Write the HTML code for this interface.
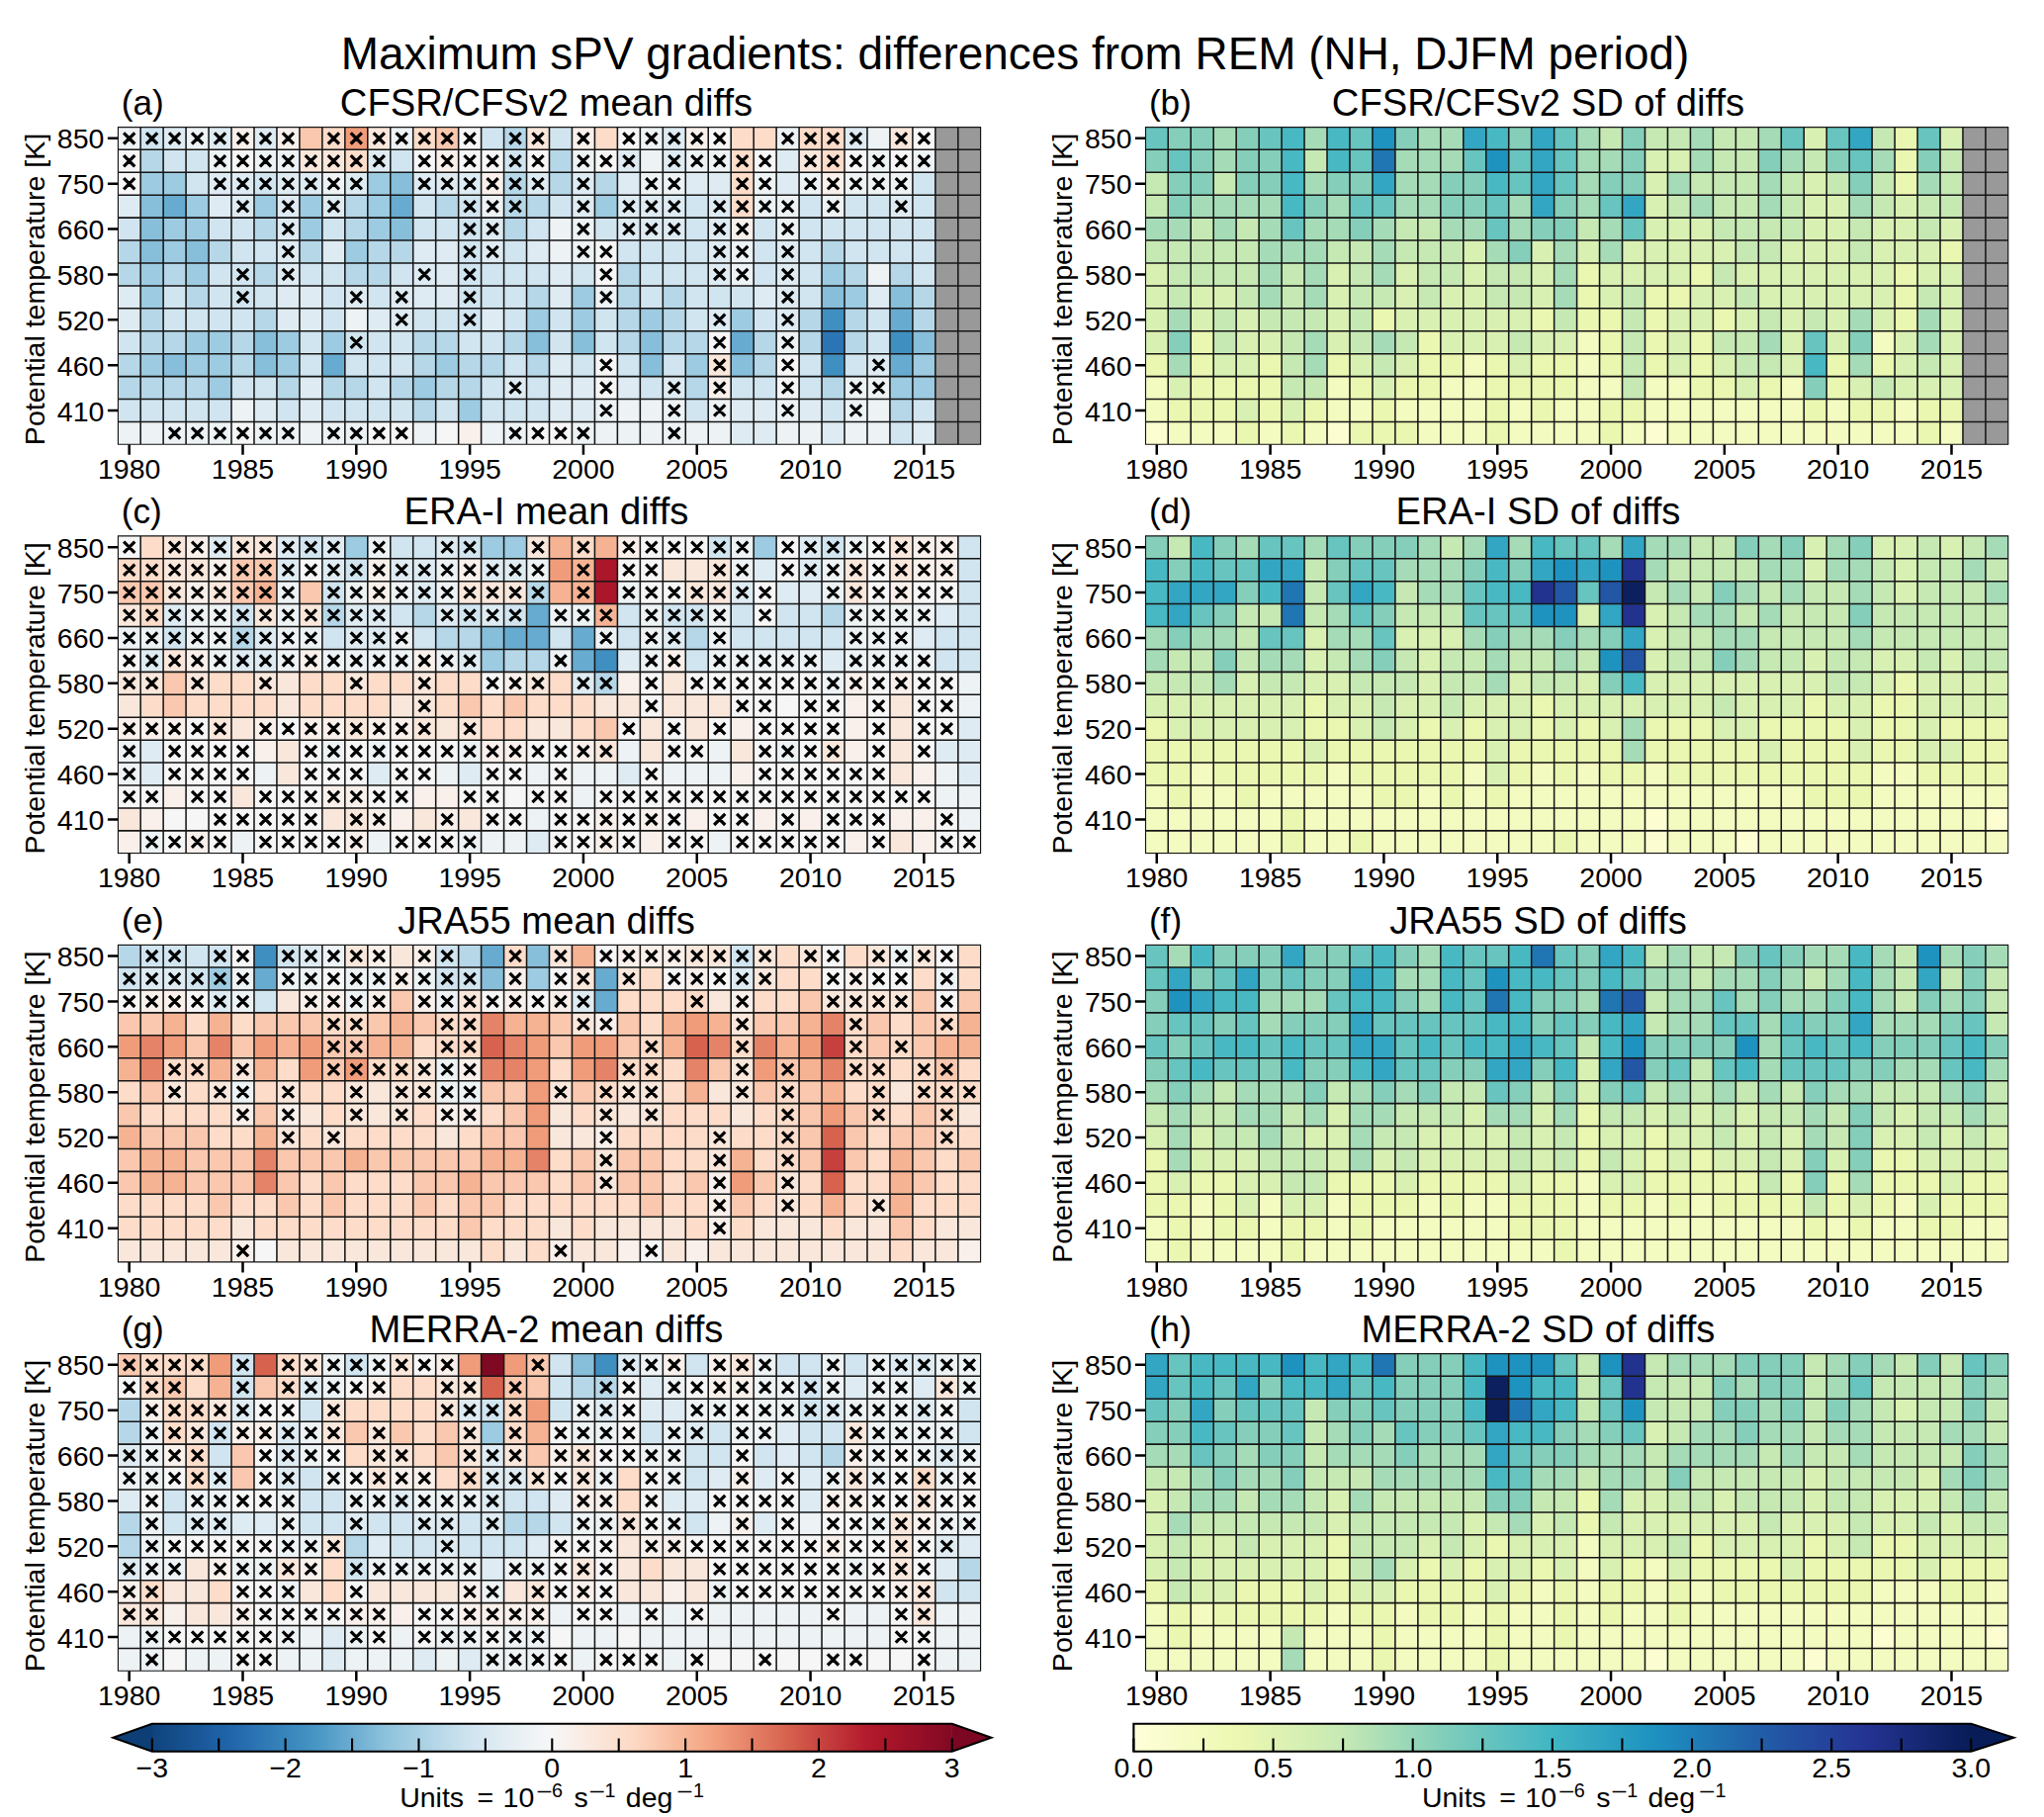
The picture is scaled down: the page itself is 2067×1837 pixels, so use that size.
<!DOCTYPE html>
<html lang="en"><head><meta charset="utf-8"><title>Maximum sPV gradients: differences from REM (NH, DJFM period)</title><style>html,body{margin:0;padding:0;background:#fff}svg{display:block}</style></head><body>
<svg width="2067" height="1837" viewBox="0 0 2067 1837" font-family="&quot;Liberation Sans&quot;, sans-serif" fill="#000">
<rect width="2067" height="1837" fill="#fff"/>
<text x="1026.5" y="69.9" font-size="45.9" text-anchor="middle">Maximum sPV gradients: differences from REM (NH, DJFM period)</text>
<g id="panel-a">
<rect x="119.20" y="128.40" width="23.26" height="23.23" fill="#edf2f5"/>
<rect x="142.16" y="128.40" width="23.26" height="23.23" fill="#d1e5f0"/>
<rect x="165.13" y="128.40" width="23.26" height="23.23" fill="#deebf2"/>
<rect x="188.09" y="128.40" width="23.26" height="23.23" fill="#edf2f5"/>
<rect x="211.05" y="128.40" width="23.26" height="23.23" fill="#deebf2"/>
<rect x="234.02" y="128.40" width="23.26" height="23.23" fill="#f9f0eb"/>
<rect x="256.98" y="128.40" width="23.26" height="23.23" fill="#deebf2"/>
<rect x="279.94" y="128.40" width="23.26" height="23.23" fill="#f9f0eb"/>
<rect x="302.91" y="128.40" width="23.26" height="23.23" fill="#fac8af"/>
<rect x="325.87" y="128.40" width="23.26" height="23.23" fill="#fddcc9"/>
<rect x="348.83" y="128.40" width="23.26" height="23.23" fill="#f09c7b"/>
<rect x="371.79" y="128.40" width="23.26" height="23.23" fill="#fae7dc"/>
<rect x="394.76" y="128.40" width="23.26" height="23.23" fill="#edf2f5"/>
<rect x="417.72" y="128.40" width="23.26" height="23.23" fill="#fddcc9"/>
<rect x="440.68" y="128.40" width="23.26" height="23.23" fill="#fac8af"/>
<rect x="463.65" y="128.40" width="23.26" height="23.23" fill="#f7f6f6"/>
<rect x="486.61" y="128.40" width="23.26" height="23.23" fill="#d1e5f0"/>
<rect x="509.57" y="128.40" width="23.26" height="23.23" fill="#b6d7e8"/>
<rect x="532.54" y="128.40" width="23.26" height="23.23" fill="#fae7dc"/>
<rect x="555.50" y="128.40" width="23.26" height="23.23" fill="#d1e5f0"/>
<rect x="578.46" y="128.40" width="23.26" height="23.23" fill="#f9f0eb"/>
<rect x="601.43" y="128.40" width="23.26" height="23.23" fill="#fddcc9"/>
<rect x="624.39" y="128.40" width="23.26" height="23.23" fill="#f7f6f6"/>
<rect x="647.35" y="128.40" width="23.26" height="23.23" fill="#edf2f5"/>
<rect x="670.32" y="128.40" width="23.26" height="23.23" fill="#deebf2"/>
<rect x="693.28" y="128.40" width="23.26" height="23.23" fill="#f9f0eb"/>
<rect x="716.24" y="128.40" width="23.26" height="23.23" fill="#f7f6f6"/>
<rect x="739.21" y="128.40" width="46.23" height="23.23" fill="#fddcc9"/>
<rect x="785.13" y="128.40" width="23.26" height="23.23" fill="#edf2f5"/>
<rect x="808.09" y="128.40" width="46.23" height="23.23" fill="#fddcc9"/>
<rect x="854.02" y="128.40" width="23.26" height="23.23" fill="#deebf2"/>
<rect x="876.98" y="128.40" width="23.26" height="23.23" fill="#edf2f5"/>
<rect x="899.95" y="128.40" width="23.26" height="23.23" fill="#fae7dc"/>
<rect x="922.91" y="128.40" width="23.26" height="23.23" fill="#f7f6f6"/>
<rect x="945.87" y="128.40" width="46.23" height="23.23" fill="#999999"/>
<rect x="119.20" y="151.33" width="23.26" height="23.23" fill="#f7f6f6"/>
<rect x="142.16" y="151.33" width="23.26" height="23.23" fill="#b6d7e8"/>
<rect x="165.13" y="151.33" width="46.23" height="23.23" fill="#d1e5f0"/>
<rect x="211.05" y="151.33" width="23.26" height="23.23" fill="#edf2f5"/>
<rect x="234.02" y="151.33" width="23.26" height="23.23" fill="#f7f6f6"/>
<rect x="256.98" y="151.33" width="46.23" height="23.23" fill="#edf2f5"/>
<rect x="302.91" y="151.33" width="46.23" height="23.23" fill="#fae7dc"/>
<rect x="348.83" y="151.33" width="23.26" height="23.23" fill="#fddcc9"/>
<rect x="371.79" y="151.33" width="23.26" height="23.23" fill="#deebf2"/>
<rect x="394.76" y="151.33" width="23.26" height="23.23" fill="#d1e5f0"/>
<rect x="417.72" y="151.33" width="23.26" height="23.23" fill="#f7f6f6"/>
<rect x="440.68" y="151.33" width="23.26" height="23.23" fill="#f9f0eb"/>
<rect x="463.65" y="151.33" width="46.23" height="23.23" fill="#f7f6f6"/>
<rect x="509.57" y="151.33" width="23.26" height="23.23" fill="#d1e5f0"/>
<rect x="532.54" y="151.33" width="23.26" height="23.23" fill="#f7f6f6"/>
<rect x="555.50" y="151.33" width="23.26" height="23.23" fill="#b6d7e8"/>
<rect x="578.46" y="151.33" width="23.26" height="23.23" fill="#edf2f5"/>
<rect x="601.43" y="151.33" width="23.26" height="23.23" fill="#f7f6f6"/>
<rect x="624.39" y="151.33" width="23.26" height="23.23" fill="#deebf2"/>
<rect x="647.35" y="151.33" width="23.26" height="23.23" fill="#edf2f5"/>
<rect x="670.32" y="151.33" width="23.26" height="23.23" fill="#deebf2"/>
<rect x="693.28" y="151.33" width="46.23" height="23.23" fill="#edf2f5"/>
<rect x="739.21" y="151.33" width="23.26" height="23.23" fill="#fddcc9"/>
<rect x="762.17" y="151.33" width="23.26" height="23.23" fill="#f7f6f6"/>
<rect x="785.13" y="151.33" width="23.26" height="23.23" fill="#deebf2"/>
<rect x="808.09" y="151.33" width="23.26" height="23.23" fill="#fae7dc"/>
<rect x="831.06" y="151.33" width="23.26" height="23.23" fill="#fddcc9"/>
<rect x="854.02" y="151.33" width="23.26" height="23.23" fill="#f7f6f6"/>
<rect x="876.98" y="151.33" width="23.26" height="23.23" fill="#edf2f5"/>
<rect x="899.95" y="151.33" width="23.26" height="23.23" fill="#f7f6f6"/>
<rect x="922.91" y="151.33" width="23.26" height="23.23" fill="#edf2f5"/>
<rect x="945.87" y="151.33" width="46.23" height="23.23" fill="#999999"/>
<rect x="119.20" y="174.26" width="23.26" height="23.23" fill="#f7f6f6"/>
<rect x="142.16" y="174.26" width="46.23" height="23.23" fill="#9dcbe1"/>
<rect x="188.09" y="174.26" width="23.26" height="23.23" fill="#d1e5f0"/>
<rect x="211.05" y="174.26" width="46.23" height="23.23" fill="#deebf2"/>
<rect x="256.98" y="174.26" width="23.26" height="23.23" fill="#d1e5f0"/>
<rect x="279.94" y="174.26" width="46.23" height="23.23" fill="#deebf2"/>
<rect x="325.87" y="174.26" width="23.26" height="23.23" fill="#edf2f5"/>
<rect x="348.83" y="174.26" width="23.26" height="23.23" fill="#deebf2"/>
<rect x="371.79" y="174.26" width="23.26" height="23.23" fill="#9dcbe1"/>
<rect x="394.76" y="174.26" width="23.26" height="23.23" fill="#87beda"/>
<rect x="417.72" y="174.26" width="69.19" height="23.23" fill="#deebf2"/>
<rect x="486.61" y="174.26" width="23.26" height="23.23" fill="#f9f0eb"/>
<rect x="509.57" y="174.26" width="23.26" height="23.23" fill="#b6d7e8"/>
<rect x="532.54" y="174.26" width="23.26" height="23.23" fill="#deebf2"/>
<rect x="555.50" y="174.26" width="23.26" height="23.23" fill="#b6d7e8"/>
<rect x="578.46" y="174.26" width="23.26" height="23.23" fill="#deebf2"/>
<rect x="601.43" y="174.26" width="23.26" height="23.23" fill="#b6d7e8"/>
<rect x="624.39" y="174.26" width="23.26" height="23.23" fill="#deebf2"/>
<rect x="647.35" y="174.26" width="46.23" height="23.23" fill="#edf2f5"/>
<rect x="693.28" y="174.26" width="46.23" height="23.23" fill="#deebf2"/>
<rect x="739.21" y="174.26" width="23.26" height="23.23" fill="#fddcc9"/>
<rect x="762.17" y="174.26" width="23.26" height="23.23" fill="#edf2f5"/>
<rect x="785.13" y="174.26" width="23.26" height="23.23" fill="#deebf2"/>
<rect x="808.09" y="174.26" width="23.26" height="23.23" fill="#edf2f5"/>
<rect x="831.06" y="174.26" width="23.26" height="23.23" fill="#f9f0eb"/>
<rect x="854.02" y="174.26" width="69.19" height="23.23" fill="#edf2f5"/>
<rect x="922.91" y="174.26" width="23.26" height="23.23" fill="#d1e5f0"/>
<rect x="945.87" y="174.26" width="46.23" height="23.23" fill="#999999"/>
<rect x="119.20" y="197.19" width="23.26" height="23.23" fill="#deebf2"/>
<rect x="142.16" y="197.19" width="23.26" height="23.23" fill="#87beda"/>
<rect x="165.13" y="197.19" width="23.26" height="23.23" fill="#68abd0"/>
<rect x="188.09" y="197.19" width="23.26" height="23.23" fill="#9dcbe1"/>
<rect x="211.05" y="197.19" width="46.23" height="23.23" fill="#deebf2"/>
<rect x="256.98" y="197.19" width="23.26" height="23.23" fill="#9dcbe1"/>
<rect x="279.94" y="197.19" width="23.26" height="23.23" fill="#deebf2"/>
<rect x="302.91" y="197.19" width="23.26" height="23.23" fill="#9dcbe1"/>
<rect x="325.87" y="197.19" width="23.26" height="23.23" fill="#deebf2"/>
<rect x="348.83" y="197.19" width="23.26" height="23.23" fill="#b6d7e8"/>
<rect x="371.79" y="197.19" width="23.26" height="23.23" fill="#9dcbe1"/>
<rect x="394.76" y="197.19" width="23.26" height="23.23" fill="#68abd0"/>
<rect x="417.72" y="197.19" width="23.26" height="23.23" fill="#d1e5f0"/>
<rect x="440.68" y="197.19" width="23.26" height="23.23" fill="#b6d7e8"/>
<rect x="463.65" y="197.19" width="23.26" height="23.23" fill="#d1e5f0"/>
<rect x="486.61" y="197.19" width="23.26" height="23.23" fill="#edf2f5"/>
<rect x="509.57" y="197.19" width="46.23" height="23.23" fill="#b6d7e8"/>
<rect x="555.50" y="197.19" width="23.26" height="23.23" fill="#d1e5f0"/>
<rect x="578.46" y="197.19" width="23.26" height="23.23" fill="#deebf2"/>
<rect x="601.43" y="197.19" width="23.26" height="23.23" fill="#9dcbe1"/>
<rect x="624.39" y="197.19" width="69.19" height="23.23" fill="#deebf2"/>
<rect x="693.28" y="197.19" width="23.26" height="23.23" fill="#d1e5f0"/>
<rect x="716.24" y="197.19" width="23.26" height="23.23" fill="#deebf2"/>
<rect x="739.21" y="197.19" width="23.26" height="23.23" fill="#fddcc9"/>
<rect x="762.17" y="197.19" width="46.23" height="23.23" fill="#edf2f5"/>
<rect x="808.09" y="197.19" width="23.26" height="23.23" fill="#d1e5f0"/>
<rect x="831.06" y="197.19" width="23.26" height="23.23" fill="#edf2f5"/>
<rect x="854.02" y="197.19" width="46.23" height="23.23" fill="#d1e5f0"/>
<rect x="899.95" y="197.19" width="23.26" height="23.23" fill="#deebf2"/>
<rect x="922.91" y="197.19" width="23.26" height="23.23" fill="#d1e5f0"/>
<rect x="945.87" y="197.19" width="46.23" height="23.23" fill="#999999"/>
<rect x="119.20" y="220.11" width="23.26" height="23.23" fill="#d1e5f0"/>
<rect x="142.16" y="220.11" width="23.26" height="23.23" fill="#87beda"/>
<rect x="165.13" y="220.11" width="46.23" height="23.23" fill="#9dcbe1"/>
<rect x="211.05" y="220.11" width="46.23" height="23.23" fill="#d1e5f0"/>
<rect x="256.98" y="220.11" width="23.26" height="23.23" fill="#b6d7e8"/>
<rect x="279.94" y="220.11" width="23.26" height="23.23" fill="#deebf2"/>
<rect x="302.91" y="220.11" width="23.26" height="23.23" fill="#9dcbe1"/>
<rect x="325.87" y="220.11" width="23.26" height="23.23" fill="#d1e5f0"/>
<rect x="348.83" y="220.11" width="23.26" height="23.23" fill="#b6d7e8"/>
<rect x="371.79" y="220.11" width="23.26" height="23.23" fill="#9dcbe1"/>
<rect x="394.76" y="220.11" width="23.26" height="23.23" fill="#87beda"/>
<rect x="417.72" y="220.11" width="69.19" height="23.23" fill="#d1e5f0"/>
<rect x="486.61" y="220.11" width="23.26" height="23.23" fill="#deebf2"/>
<rect x="509.57" y="220.11" width="23.26" height="23.23" fill="#b6d7e8"/>
<rect x="532.54" y="220.11" width="23.26" height="23.23" fill="#d1e5f0"/>
<rect x="555.50" y="220.11" width="46.23" height="23.23" fill="#edf2f5"/>
<rect x="601.43" y="220.11" width="23.26" height="23.23" fill="#d1e5f0"/>
<rect x="624.39" y="220.11" width="69.19" height="23.23" fill="#deebf2"/>
<rect x="693.28" y="220.11" width="23.26" height="23.23" fill="#d1e5f0"/>
<rect x="716.24" y="220.11" width="23.26" height="23.23" fill="#deebf2"/>
<rect x="739.21" y="220.11" width="23.26" height="23.23" fill="#f9f0eb"/>
<rect x="762.17" y="220.11" width="23.26" height="23.23" fill="#d1e5f0"/>
<rect x="785.13" y="220.11" width="23.26" height="23.23" fill="#edf2f5"/>
<rect x="808.09" y="220.11" width="138.08" height="23.23" fill="#d1e5f0"/>
<rect x="945.87" y="220.11" width="46.23" height="23.23" fill="#999999"/>
<rect x="119.20" y="243.04" width="23.26" height="23.23" fill="#b6d7e8"/>
<rect x="142.16" y="243.04" width="23.26" height="23.23" fill="#87beda"/>
<rect x="165.13" y="243.04" width="23.26" height="23.23" fill="#9dcbe1"/>
<rect x="188.09" y="243.04" width="23.26" height="23.23" fill="#87beda"/>
<rect x="211.05" y="243.04" width="23.26" height="23.23" fill="#b6d7e8"/>
<rect x="234.02" y="243.04" width="46.23" height="23.23" fill="#d1e5f0"/>
<rect x="279.94" y="243.04" width="23.26" height="23.23" fill="#deebf2"/>
<rect x="302.91" y="243.04" width="23.26" height="23.23" fill="#b6d7e8"/>
<rect x="325.87" y="243.04" width="23.26" height="23.23" fill="#deebf2"/>
<rect x="348.83" y="243.04" width="23.26" height="23.23" fill="#9dcbe1"/>
<rect x="371.79" y="243.04" width="46.23" height="23.23" fill="#b6d7e8"/>
<rect x="417.72" y="243.04" width="46.23" height="23.23" fill="#deebf2"/>
<rect x="463.65" y="243.04" width="23.26" height="23.23" fill="#d1e5f0"/>
<rect x="486.61" y="243.04" width="23.26" height="23.23" fill="#deebf2"/>
<rect x="509.57" y="243.04" width="23.26" height="23.23" fill="#d1e5f0"/>
<rect x="532.54" y="243.04" width="23.26" height="23.23" fill="#deebf2"/>
<rect x="555.50" y="243.04" width="46.23" height="23.23" fill="#edf2f5"/>
<rect x="601.43" y="243.04" width="23.26" height="23.23" fill="#f7f6f6"/>
<rect x="624.39" y="243.04" width="92.15" height="23.23" fill="#d1e5f0"/>
<rect x="716.24" y="243.04" width="23.26" height="23.23" fill="#deebf2"/>
<rect x="739.21" y="243.04" width="23.26" height="23.23" fill="#edf2f5"/>
<rect x="762.17" y="243.04" width="23.26" height="23.23" fill="#d1e5f0"/>
<rect x="785.13" y="243.04" width="23.26" height="23.23" fill="#deebf2"/>
<rect x="808.09" y="243.04" width="23.26" height="23.23" fill="#d1e5f0"/>
<rect x="831.06" y="243.04" width="23.26" height="23.23" fill="#b6d7e8"/>
<rect x="854.02" y="243.04" width="92.15" height="23.23" fill="#d1e5f0"/>
<rect x="945.87" y="243.04" width="46.23" height="23.23" fill="#999999"/>
<rect x="119.20" y="265.97" width="23.26" height="23.23" fill="#b6d7e8"/>
<rect x="142.16" y="265.97" width="23.26" height="23.23" fill="#9dcbe1"/>
<rect x="165.13" y="265.97" width="23.26" height="23.23" fill="#b6d7e8"/>
<rect x="188.09" y="265.97" width="23.26" height="23.23" fill="#9dcbe1"/>
<rect x="211.05" y="265.97" width="46.23" height="23.23" fill="#d1e5f0"/>
<rect x="256.98" y="265.97" width="23.26" height="23.23" fill="#b6d7e8"/>
<rect x="279.94" y="265.97" width="23.26" height="23.23" fill="#deebf2"/>
<rect x="302.91" y="265.97" width="46.23" height="23.23" fill="#d1e5f0"/>
<rect x="348.83" y="265.97" width="46.23" height="23.23" fill="#b6d7e8"/>
<rect x="394.76" y="265.97" width="23.26" height="23.23" fill="#d1e5f0"/>
<rect x="417.72" y="265.97" width="46.23" height="23.23" fill="#deebf2"/>
<rect x="463.65" y="265.97" width="92.15" height="23.23" fill="#d1e5f0"/>
<rect x="555.50" y="265.97" width="23.26" height="23.23" fill="#deebf2"/>
<rect x="578.46" y="265.97" width="23.26" height="23.23" fill="#d1e5f0"/>
<rect x="601.43" y="265.97" width="23.26" height="23.23" fill="#f7f6f6"/>
<rect x="624.39" y="265.97" width="23.26" height="23.23" fill="#b6d7e8"/>
<rect x="647.35" y="265.97" width="69.19" height="23.23" fill="#d1e5f0"/>
<rect x="716.24" y="265.97" width="23.26" height="23.23" fill="#deebf2"/>
<rect x="739.21" y="265.97" width="23.26" height="23.23" fill="#edf2f5"/>
<rect x="762.17" y="265.97" width="23.26" height="23.23" fill="#d1e5f0"/>
<rect x="785.13" y="265.97" width="23.26" height="23.23" fill="#deebf2"/>
<rect x="808.09" y="265.97" width="23.26" height="23.23" fill="#d1e5f0"/>
<rect x="831.06" y="265.97" width="23.26" height="23.23" fill="#9dcbe1"/>
<rect x="854.02" y="265.97" width="23.26" height="23.23" fill="#b6d7e8"/>
<rect x="876.98" y="265.97" width="23.26" height="23.23" fill="#edf2f5"/>
<rect x="899.95" y="265.97" width="23.26" height="23.23" fill="#b6d7e8"/>
<rect x="922.91" y="265.97" width="23.26" height="23.23" fill="#d1e5f0"/>
<rect x="945.87" y="265.97" width="46.23" height="23.23" fill="#999999"/>
<rect x="119.20" y="288.90" width="23.26" height="23.23" fill="#deebf2"/>
<rect x="142.16" y="288.90" width="23.26" height="23.23" fill="#9dcbe1"/>
<rect x="165.13" y="288.90" width="23.26" height="23.23" fill="#d1e5f0"/>
<rect x="188.09" y="288.90" width="23.26" height="23.23" fill="#b6d7e8"/>
<rect x="211.05" y="288.90" width="69.19" height="23.23" fill="#d1e5f0"/>
<rect x="279.94" y="288.90" width="46.23" height="23.23" fill="#deebf2"/>
<rect x="325.87" y="288.90" width="23.26" height="23.23" fill="#d1e5f0"/>
<rect x="348.83" y="288.90" width="23.26" height="23.23" fill="#deebf2"/>
<rect x="371.79" y="288.90" width="23.26" height="23.23" fill="#d1e5f0"/>
<rect x="394.76" y="288.90" width="69.19" height="23.23" fill="#deebf2"/>
<rect x="463.65" y="288.90" width="69.19" height="23.23" fill="#d1e5f0"/>
<rect x="532.54" y="288.90" width="23.26" height="23.23" fill="#b6d7e8"/>
<rect x="555.50" y="288.90" width="23.26" height="23.23" fill="#deebf2"/>
<rect x="578.46" y="288.90" width="23.26" height="23.23" fill="#9dcbe1"/>
<rect x="601.43" y="288.90" width="23.26" height="23.23" fill="#edf2f5"/>
<rect x="624.39" y="288.90" width="23.26" height="23.23" fill="#b6d7e8"/>
<rect x="647.35" y="288.90" width="23.26" height="23.23" fill="#d1e5f0"/>
<rect x="670.32" y="288.90" width="23.26" height="23.23" fill="#b6d7e8"/>
<rect x="693.28" y="288.90" width="69.19" height="23.23" fill="#d1e5f0"/>
<rect x="762.17" y="288.90" width="46.23" height="23.23" fill="#deebf2"/>
<rect x="808.09" y="288.90" width="23.26" height="23.23" fill="#d1e5f0"/>
<rect x="831.06" y="288.90" width="23.26" height="23.23" fill="#87beda"/>
<rect x="854.02" y="288.90" width="23.26" height="23.23" fill="#9dcbe1"/>
<rect x="876.98" y="288.90" width="23.26" height="23.23" fill="#deebf2"/>
<rect x="899.95" y="288.90" width="23.26" height="23.23" fill="#87beda"/>
<rect x="922.91" y="288.90" width="23.26" height="23.23" fill="#b6d7e8"/>
<rect x="945.87" y="288.90" width="46.23" height="23.23" fill="#999999"/>
<rect x="119.20" y="311.83" width="23.26" height="23.23" fill="#deebf2"/>
<rect x="142.16" y="311.83" width="23.26" height="23.23" fill="#b6d7e8"/>
<rect x="165.13" y="311.83" width="92.15" height="23.23" fill="#d1e5f0"/>
<rect x="256.98" y="311.83" width="23.26" height="23.23" fill="#b6d7e8"/>
<rect x="279.94" y="311.83" width="46.23" height="23.23" fill="#deebf2"/>
<rect x="325.87" y="311.83" width="23.26" height="23.23" fill="#d1e5f0"/>
<rect x="348.83" y="311.83" width="23.26" height="23.23" fill="#edf2f5"/>
<rect x="371.79" y="311.83" width="46.23" height="23.23" fill="#deebf2"/>
<rect x="417.72" y="311.83" width="69.19" height="23.23" fill="#d1e5f0"/>
<rect x="486.61" y="311.83" width="23.26" height="23.23" fill="#deebf2"/>
<rect x="509.57" y="311.83" width="23.26" height="23.23" fill="#d1e5f0"/>
<rect x="532.54" y="311.83" width="23.26" height="23.23" fill="#9dcbe1"/>
<rect x="555.50" y="311.83" width="23.26" height="23.23" fill="#d1e5f0"/>
<rect x="578.46" y="311.83" width="23.26" height="23.23" fill="#9dcbe1"/>
<rect x="601.43" y="311.83" width="23.26" height="23.23" fill="#d1e5f0"/>
<rect x="624.39" y="311.83" width="23.26" height="23.23" fill="#b6d7e8"/>
<rect x="647.35" y="311.83" width="23.26" height="23.23" fill="#9dcbe1"/>
<rect x="670.32" y="311.83" width="23.26" height="23.23" fill="#b6d7e8"/>
<rect x="693.28" y="311.83" width="23.26" height="23.23" fill="#d1e5f0"/>
<rect x="716.24" y="311.83" width="23.26" height="23.23" fill="#deebf2"/>
<rect x="739.21" y="311.83" width="23.26" height="23.23" fill="#9dcbe1"/>
<rect x="762.17" y="311.83" width="23.26" height="23.23" fill="#d1e5f0"/>
<rect x="785.13" y="311.83" width="23.26" height="23.23" fill="#deebf2"/>
<rect x="808.09" y="311.83" width="23.26" height="23.23" fill="#b6d7e8"/>
<rect x="831.06" y="311.83" width="23.26" height="23.23" fill="#408fc1"/>
<rect x="854.02" y="311.83" width="23.26" height="23.23" fill="#b6d7e8"/>
<rect x="876.98" y="311.83" width="23.26" height="23.23" fill="#d1e5f0"/>
<rect x="899.95" y="311.83" width="23.26" height="23.23" fill="#68abd0"/>
<rect x="922.91" y="311.83" width="23.26" height="23.23" fill="#b6d7e8"/>
<rect x="945.87" y="311.83" width="46.23" height="23.23" fill="#999999"/>
<rect x="119.20" y="334.76" width="23.26" height="23.23" fill="#d1e5f0"/>
<rect x="142.16" y="334.76" width="46.23" height="23.23" fill="#b6d7e8"/>
<rect x="188.09" y="334.76" width="46.23" height="23.23" fill="#9dcbe1"/>
<rect x="234.02" y="334.76" width="23.26" height="23.23" fill="#b6d7e8"/>
<rect x="256.98" y="334.76" width="23.26" height="23.23" fill="#87beda"/>
<rect x="279.94" y="334.76" width="23.26" height="23.23" fill="#9dcbe1"/>
<rect x="302.91" y="334.76" width="23.26" height="23.23" fill="#d1e5f0"/>
<rect x="325.87" y="334.76" width="23.26" height="23.23" fill="#9dcbe1"/>
<rect x="348.83" y="334.76" width="69.19" height="23.23" fill="#d1e5f0"/>
<rect x="417.72" y="334.76" width="46.23" height="23.23" fill="#b6d7e8"/>
<rect x="463.65" y="334.76" width="46.23" height="23.23" fill="#d1e5f0"/>
<rect x="509.57" y="334.76" width="23.26" height="23.23" fill="#b6d7e8"/>
<rect x="532.54" y="334.76" width="23.26" height="23.23" fill="#87beda"/>
<rect x="555.50" y="334.76" width="23.26" height="23.23" fill="#d1e5f0"/>
<rect x="578.46" y="334.76" width="23.26" height="23.23" fill="#87beda"/>
<rect x="601.43" y="334.76" width="23.26" height="23.23" fill="#d1e5f0"/>
<rect x="624.39" y="334.76" width="23.26" height="23.23" fill="#b6d7e8"/>
<rect x="647.35" y="334.76" width="23.26" height="23.23" fill="#87beda"/>
<rect x="670.32" y="334.76" width="46.23" height="23.23" fill="#b6d7e8"/>
<rect x="716.24" y="334.76" width="23.26" height="23.23" fill="#f7f6f6"/>
<rect x="739.21" y="334.76" width="23.26" height="23.23" fill="#68abd0"/>
<rect x="762.17" y="334.76" width="23.26" height="23.23" fill="#b6d7e8"/>
<rect x="785.13" y="334.76" width="23.26" height="23.23" fill="#edf2f5"/>
<rect x="808.09" y="334.76" width="23.26" height="23.23" fill="#b6d7e8"/>
<rect x="831.06" y="334.76" width="23.26" height="23.23" fill="#2c75b4"/>
<rect x="854.02" y="334.76" width="23.26" height="23.23" fill="#b6d7e8"/>
<rect x="876.98" y="334.76" width="23.26" height="23.23" fill="#d1e5f0"/>
<rect x="899.95" y="334.76" width="23.26" height="23.23" fill="#408fc1"/>
<rect x="922.91" y="334.76" width="23.26" height="23.23" fill="#87beda"/>
<rect x="945.87" y="334.76" width="46.23" height="23.23" fill="#999999"/>
<rect x="119.20" y="357.69" width="23.26" height="23.23" fill="#b6d7e8"/>
<rect x="142.16" y="357.69" width="23.26" height="23.23" fill="#9dcbe1"/>
<rect x="165.13" y="357.69" width="23.26" height="23.23" fill="#87beda"/>
<rect x="188.09" y="357.69" width="46.23" height="23.23" fill="#9dcbe1"/>
<rect x="234.02" y="357.69" width="23.26" height="23.23" fill="#b6d7e8"/>
<rect x="256.98" y="357.69" width="23.26" height="23.23" fill="#87beda"/>
<rect x="279.94" y="357.69" width="23.26" height="23.23" fill="#9dcbe1"/>
<rect x="302.91" y="357.69" width="23.26" height="23.23" fill="#d1e5f0"/>
<rect x="325.87" y="357.69" width="23.26" height="23.23" fill="#68abd0"/>
<rect x="348.83" y="357.69" width="69.19" height="23.23" fill="#d1e5f0"/>
<rect x="417.72" y="357.69" width="23.26" height="23.23" fill="#b6d7e8"/>
<rect x="440.68" y="357.69" width="23.26" height="23.23" fill="#9dcbe1"/>
<rect x="463.65" y="357.69" width="46.23" height="23.23" fill="#b6d7e8"/>
<rect x="509.57" y="357.69" width="23.26" height="23.23" fill="#d1e5f0"/>
<rect x="532.54" y="357.69" width="23.26" height="23.23" fill="#b6d7e8"/>
<rect x="555.50" y="357.69" width="23.26" height="23.23" fill="#deebf2"/>
<rect x="578.46" y="357.69" width="23.26" height="23.23" fill="#d1e5f0"/>
<rect x="601.43" y="357.69" width="23.26" height="23.23" fill="#f7f6f6"/>
<rect x="624.39" y="357.69" width="23.26" height="23.23" fill="#d1e5f0"/>
<rect x="647.35" y="357.69" width="23.26" height="23.23" fill="#87beda"/>
<rect x="670.32" y="357.69" width="23.26" height="23.23" fill="#d1e5f0"/>
<rect x="693.28" y="357.69" width="23.26" height="23.23" fill="#9dcbe1"/>
<rect x="716.24" y="357.69" width="23.26" height="23.23" fill="#fae7dc"/>
<rect x="739.21" y="357.69" width="23.26" height="23.23" fill="#87beda"/>
<rect x="762.17" y="357.69" width="23.26" height="23.23" fill="#b6d7e8"/>
<rect x="785.13" y="357.69" width="23.26" height="23.23" fill="#f7f6f6"/>
<rect x="808.09" y="357.69" width="23.26" height="23.23" fill="#d1e5f0"/>
<rect x="831.06" y="357.69" width="23.26" height="23.23" fill="#408fc1"/>
<rect x="854.02" y="357.69" width="23.26" height="23.23" fill="#d1e5f0"/>
<rect x="876.98" y="357.69" width="23.26" height="23.23" fill="#deebf2"/>
<rect x="899.95" y="357.69" width="23.26" height="23.23" fill="#68abd0"/>
<rect x="922.91" y="357.69" width="23.26" height="23.23" fill="#9dcbe1"/>
<rect x="945.87" y="357.69" width="46.23" height="23.23" fill="#999999"/>
<rect x="119.20" y="380.61" width="92.15" height="23.23" fill="#b6d7e8"/>
<rect x="211.05" y="380.61" width="23.26" height="23.23" fill="#9dcbe1"/>
<rect x="234.02" y="380.61" width="46.23" height="23.23" fill="#d1e5f0"/>
<rect x="279.94" y="380.61" width="23.26" height="23.23" fill="#b6d7e8"/>
<rect x="302.91" y="380.61" width="23.26" height="23.23" fill="#deebf2"/>
<rect x="325.87" y="380.61" width="46.23" height="23.23" fill="#b6d7e8"/>
<rect x="371.79" y="380.61" width="23.26" height="23.23" fill="#d1e5f0"/>
<rect x="394.76" y="380.61" width="23.26" height="23.23" fill="#b6d7e8"/>
<rect x="417.72" y="380.61" width="23.26" height="23.23" fill="#9dcbe1"/>
<rect x="440.68" y="380.61" width="46.23" height="23.23" fill="#b6d7e8"/>
<rect x="486.61" y="380.61" width="23.26" height="23.23" fill="#d1e5f0"/>
<rect x="509.57" y="380.61" width="23.26" height="23.23" fill="#deebf2"/>
<rect x="532.54" y="380.61" width="23.26" height="23.23" fill="#d1e5f0"/>
<rect x="555.50" y="380.61" width="46.23" height="23.23" fill="#deebf2"/>
<rect x="601.43" y="380.61" width="23.26" height="23.23" fill="#f7f6f6"/>
<rect x="624.39" y="380.61" width="23.26" height="23.23" fill="#deebf2"/>
<rect x="647.35" y="380.61" width="23.26" height="23.23" fill="#d1e5f0"/>
<rect x="670.32" y="380.61" width="23.26" height="23.23" fill="#deebf2"/>
<rect x="693.28" y="380.61" width="23.26" height="23.23" fill="#b6d7e8"/>
<rect x="716.24" y="380.61" width="23.26" height="23.23" fill="#f9f0eb"/>
<rect x="739.21" y="380.61" width="46.23" height="23.23" fill="#d1e5f0"/>
<rect x="785.13" y="380.61" width="23.26" height="23.23" fill="#f7f6f6"/>
<rect x="808.09" y="380.61" width="23.26" height="23.23" fill="#d1e5f0"/>
<rect x="831.06" y="380.61" width="23.26" height="23.23" fill="#b6d7e8"/>
<rect x="854.02" y="380.61" width="46.23" height="23.23" fill="#edf2f5"/>
<rect x="899.95" y="380.61" width="46.23" height="23.23" fill="#9dcbe1"/>
<rect x="945.87" y="380.61" width="46.23" height="23.23" fill="#999999"/>
<rect x="119.20" y="403.54" width="115.12" height="23.23" fill="#d1e5f0"/>
<rect x="234.02" y="403.54" width="23.26" height="23.23" fill="#edf2f5"/>
<rect x="256.98" y="403.54" width="23.26" height="23.23" fill="#deebf2"/>
<rect x="279.94" y="403.54" width="23.26" height="23.23" fill="#d1e5f0"/>
<rect x="302.91" y="403.54" width="23.26" height="23.23" fill="#deebf2"/>
<rect x="325.87" y="403.54" width="92.15" height="23.23" fill="#d1e5f0"/>
<rect x="417.72" y="403.54" width="23.26" height="23.23" fill="#b6d7e8"/>
<rect x="440.68" y="403.54" width="23.26" height="23.23" fill="#d1e5f0"/>
<rect x="463.65" y="403.54" width="23.26" height="23.23" fill="#9dcbe1"/>
<rect x="486.61" y="403.54" width="69.19" height="23.23" fill="#d1e5f0"/>
<rect x="555.50" y="403.54" width="46.23" height="23.23" fill="#deebf2"/>
<rect x="601.43" y="403.54" width="92.15" height="23.23" fill="#edf2f5"/>
<rect x="693.28" y="403.54" width="23.26" height="23.23" fill="#d1e5f0"/>
<rect x="716.24" y="403.54" width="23.26" height="23.23" fill="#edf2f5"/>
<rect x="739.21" y="403.54" width="46.23" height="23.23" fill="#deebf2"/>
<rect x="785.13" y="403.54" width="23.26" height="23.23" fill="#edf2f5"/>
<rect x="808.09" y="403.54" width="23.26" height="23.23" fill="#deebf2"/>
<rect x="831.06" y="403.54" width="23.26" height="23.23" fill="#d1e5f0"/>
<rect x="854.02" y="403.54" width="46.23" height="23.23" fill="#edf2f5"/>
<rect x="899.95" y="403.54" width="23.26" height="23.23" fill="#b6d7e8"/>
<rect x="922.91" y="403.54" width="23.26" height="23.23" fill="#d1e5f0"/>
<rect x="945.87" y="403.54" width="46.23" height="23.23" fill="#999999"/>
<rect x="119.20" y="426.47" width="115.12" height="23.23" fill="#edf2f5"/>
<rect x="234.02" y="426.47" width="23.26" height="23.23" fill="#f7f6f6"/>
<rect x="256.98" y="426.47" width="115.12" height="23.23" fill="#edf2f5"/>
<rect x="371.79" y="426.47" width="46.23" height="23.23" fill="#f7f6f6"/>
<rect x="417.72" y="426.47" width="23.26" height="23.23" fill="#edf2f5"/>
<rect x="440.68" y="426.47" width="23.26" height="23.23" fill="#f7f6f6"/>
<rect x="463.65" y="426.47" width="23.26" height="23.23" fill="#f9f0eb"/>
<rect x="486.61" y="426.47" width="46.23" height="23.23" fill="#edf2f5"/>
<rect x="532.54" y="426.47" width="46.23" height="23.23" fill="#f7f6f6"/>
<rect x="578.46" y="426.47" width="161.04" height="23.23" fill="#edf2f5"/>
<rect x="739.21" y="426.47" width="46.23" height="23.23" fill="#deebf2"/>
<rect x="785.13" y="426.47" width="46.23" height="23.23" fill="#edf2f5"/>
<rect x="831.06" y="426.47" width="23.26" height="23.23" fill="#deebf2"/>
<rect x="854.02" y="426.47" width="46.23" height="23.23" fill="#edf2f5"/>
<rect x="899.95" y="426.47" width="23.26" height="23.23" fill="#d1e5f0"/>
<rect x="922.91" y="426.47" width="23.26" height="23.23" fill="#deebf2"/>
<rect x="945.87" y="426.47" width="46.23" height="23.23" fill="#999999"/>
<clipPath id="cpa"><rect x="118.75" y="127.95" width="873.50" height="321.90"/></clipPath>
<path d="M119.20 128.40V449.40M142.16 128.40V449.40M165.13 128.40V449.40M188.09 128.40V449.40M211.05 128.40V449.40M234.02 128.40V449.40M256.98 128.40V449.40M279.94 128.40V449.40M302.91 128.40V449.40M325.87 128.40V449.40M348.83 128.40V449.40M371.79 128.40V449.40M394.76 128.40V449.40M417.72 128.40V449.40M440.68 128.40V449.40M463.65 128.40V449.40M486.61 128.40V449.40M509.57 128.40V449.40M532.54 128.40V449.40M555.50 128.40V449.40M578.46 128.40V449.40M601.43 128.40V449.40M624.39 128.40V449.40M647.35 128.40V449.40M670.32 128.40V449.40M693.28 128.40V449.40M716.24 128.40V449.40M739.21 128.40V449.40M762.17 128.40V449.40M785.13 128.40V449.40M808.09 128.40V449.40M831.06 128.40V449.40M854.02 128.40V449.40M876.98 128.40V449.40M899.95 128.40V449.40M922.91 128.40V449.40M945.87 128.40V449.40M968.84 128.40V449.40M991.80 128.40V449.40M119.20 128.40H991.80M119.20 151.33H991.80M119.20 174.26H991.80M119.20 197.19H991.80M119.20 220.11H991.80M119.20 243.04H991.80M119.20 265.97H991.80M119.20 288.90H991.80M119.20 311.83H991.80M119.20 334.76H991.80M119.20 357.69H991.80M119.20 380.61H991.80M119.20 403.54H991.80M119.20 426.47H991.80M119.20 449.40H991.80" stroke="#161616" stroke-width="1.55" fill="none" stroke-linecap="square" clip-path="url(#cpa)"/>
<path d="M125.1 134.3l11.2 11.2m0 -11.2l-11.2 11.2M148.0 134.3l11.2 11.2m0 -11.2l-11.2 11.2M171.0 134.3l11.2 11.2m0 -11.2l-11.2 11.2M194.0 134.3l11.2 11.2m0 -11.2l-11.2 11.2M216.9 134.3l11.2 11.2m0 -11.2l-11.2 11.2M239.9 134.3l11.2 11.2m0 -11.2l-11.2 11.2M262.9 134.3l11.2 11.2m0 -11.2l-11.2 11.2M285.8 134.3l11.2 11.2m0 -11.2l-11.2 11.2M331.8 134.3l11.2 11.2m0 -11.2l-11.2 11.2M354.7 134.3l11.2 11.2m0 -11.2l-11.2 11.2M377.7 134.3l11.2 11.2m0 -11.2l-11.2 11.2M400.6 134.3l11.2 11.2m0 -11.2l-11.2 11.2M423.6 134.3l11.2 11.2m0 -11.2l-11.2 11.2M446.6 134.3l11.2 11.2m0 -11.2l-11.2 11.2M469.5 134.3l11.2 11.2m0 -11.2l-11.2 11.2M515.5 134.3l11.2 11.2m0 -11.2l-11.2 11.2M538.4 134.3l11.2 11.2m0 -11.2l-11.2 11.2M584.3 134.3l11.2 11.2m0 -11.2l-11.2 11.2M630.3 134.3l11.2 11.2m0 -11.2l-11.2 11.2M653.2 134.3l11.2 11.2m0 -11.2l-11.2 11.2M676.2 134.3l11.2 11.2m0 -11.2l-11.2 11.2M699.2 134.3l11.2 11.2m0 -11.2l-11.2 11.2M722.1 134.3l11.2 11.2m0 -11.2l-11.2 11.2M791.0 134.3l11.2 11.2m0 -11.2l-11.2 11.2M814.0 134.3l11.2 11.2m0 -11.2l-11.2 11.2M836.9 134.3l11.2 11.2m0 -11.2l-11.2 11.2M859.9 134.3l11.2 11.2m0 -11.2l-11.2 11.2M905.8 134.3l11.2 11.2m0 -11.2l-11.2 11.2M928.8 134.3l11.2 11.2m0 -11.2l-11.2 11.2M125.1 157.2l11.2 11.2m0 -11.2l-11.2 11.2M216.9 157.2l11.2 11.2m0 -11.2l-11.2 11.2M239.9 157.2l11.2 11.2m0 -11.2l-11.2 11.2M262.9 157.2l11.2 11.2m0 -11.2l-11.2 11.2M285.8 157.2l11.2 11.2m0 -11.2l-11.2 11.2M308.8 157.2l11.2 11.2m0 -11.2l-11.2 11.2M331.8 157.2l11.2 11.2m0 -11.2l-11.2 11.2M354.7 157.2l11.2 11.2m0 -11.2l-11.2 11.2M377.7 157.2l11.2 11.2m0 -11.2l-11.2 11.2M423.6 157.2l11.2 11.2m0 -11.2l-11.2 11.2M446.6 157.2l11.2 11.2m0 -11.2l-11.2 11.2M469.5 157.2l11.2 11.2m0 -11.2l-11.2 11.2M492.5 157.2l11.2 11.2m0 -11.2l-11.2 11.2M515.5 157.2l11.2 11.2m0 -11.2l-11.2 11.2M538.4 157.2l11.2 11.2m0 -11.2l-11.2 11.2M584.3 157.2l11.2 11.2m0 -11.2l-11.2 11.2M607.3 157.2l11.2 11.2m0 -11.2l-11.2 11.2M630.3 157.2l11.2 11.2m0 -11.2l-11.2 11.2M676.2 157.2l11.2 11.2m0 -11.2l-11.2 11.2M699.2 157.2l11.2 11.2m0 -11.2l-11.2 11.2M722.1 157.2l11.2 11.2m0 -11.2l-11.2 11.2M745.1 157.2l11.2 11.2m0 -11.2l-11.2 11.2M768.1 157.2l11.2 11.2m0 -11.2l-11.2 11.2M814.0 157.2l11.2 11.2m0 -11.2l-11.2 11.2M836.9 157.2l11.2 11.2m0 -11.2l-11.2 11.2M859.9 157.2l11.2 11.2m0 -11.2l-11.2 11.2M882.9 157.2l11.2 11.2m0 -11.2l-11.2 11.2M905.8 157.2l11.2 11.2m0 -11.2l-11.2 11.2M928.8 157.2l11.2 11.2m0 -11.2l-11.2 11.2M125.1 180.1l11.2 11.2m0 -11.2l-11.2 11.2M216.9 180.1l11.2 11.2m0 -11.2l-11.2 11.2M239.9 180.1l11.2 11.2m0 -11.2l-11.2 11.2M262.9 180.1l11.2 11.2m0 -11.2l-11.2 11.2M285.8 180.1l11.2 11.2m0 -11.2l-11.2 11.2M308.8 180.1l11.2 11.2m0 -11.2l-11.2 11.2M331.8 180.1l11.2 11.2m0 -11.2l-11.2 11.2M354.7 180.1l11.2 11.2m0 -11.2l-11.2 11.2M423.6 180.1l11.2 11.2m0 -11.2l-11.2 11.2M446.6 180.1l11.2 11.2m0 -11.2l-11.2 11.2M469.5 180.1l11.2 11.2m0 -11.2l-11.2 11.2M492.5 180.1l11.2 11.2m0 -11.2l-11.2 11.2M515.5 180.1l11.2 11.2m0 -11.2l-11.2 11.2M538.4 180.1l11.2 11.2m0 -11.2l-11.2 11.2M584.3 180.1l11.2 11.2m0 -11.2l-11.2 11.2M653.2 180.1l11.2 11.2m0 -11.2l-11.2 11.2M676.2 180.1l11.2 11.2m0 -11.2l-11.2 11.2M745.1 180.1l11.2 11.2m0 -11.2l-11.2 11.2M768.1 180.1l11.2 11.2m0 -11.2l-11.2 11.2M814.0 180.1l11.2 11.2m0 -11.2l-11.2 11.2M836.9 180.1l11.2 11.2m0 -11.2l-11.2 11.2M859.9 180.1l11.2 11.2m0 -11.2l-11.2 11.2M882.9 180.1l11.2 11.2m0 -11.2l-11.2 11.2M905.8 180.1l11.2 11.2m0 -11.2l-11.2 11.2M239.9 203.1l11.2 11.2m0 -11.2l-11.2 11.2M285.8 203.1l11.2 11.2m0 -11.2l-11.2 11.2M331.8 203.1l11.2 11.2m0 -11.2l-11.2 11.2M469.5 203.1l11.2 11.2m0 -11.2l-11.2 11.2M492.5 203.1l11.2 11.2m0 -11.2l-11.2 11.2M515.5 203.1l11.2 11.2m0 -11.2l-11.2 11.2M584.3 203.1l11.2 11.2m0 -11.2l-11.2 11.2M630.3 203.1l11.2 11.2m0 -11.2l-11.2 11.2M653.2 203.1l11.2 11.2m0 -11.2l-11.2 11.2M676.2 203.1l11.2 11.2m0 -11.2l-11.2 11.2M722.1 203.1l11.2 11.2m0 -11.2l-11.2 11.2M745.1 203.1l11.2 11.2m0 -11.2l-11.2 11.2M768.1 203.1l11.2 11.2m0 -11.2l-11.2 11.2M791.0 203.1l11.2 11.2m0 -11.2l-11.2 11.2M836.9 203.1l11.2 11.2m0 -11.2l-11.2 11.2M905.8 203.1l11.2 11.2m0 -11.2l-11.2 11.2M285.8 226.0l11.2 11.2m0 -11.2l-11.2 11.2M469.5 226.0l11.2 11.2m0 -11.2l-11.2 11.2M492.5 226.0l11.2 11.2m0 -11.2l-11.2 11.2M584.3 226.0l11.2 11.2m0 -11.2l-11.2 11.2M630.3 226.0l11.2 11.2m0 -11.2l-11.2 11.2M653.2 226.0l11.2 11.2m0 -11.2l-11.2 11.2M676.2 226.0l11.2 11.2m0 -11.2l-11.2 11.2M722.1 226.0l11.2 11.2m0 -11.2l-11.2 11.2M745.1 226.0l11.2 11.2m0 -11.2l-11.2 11.2M791.0 226.0l11.2 11.2m0 -11.2l-11.2 11.2M285.8 248.9l11.2 11.2m0 -11.2l-11.2 11.2M469.5 248.9l11.2 11.2m0 -11.2l-11.2 11.2M492.5 248.9l11.2 11.2m0 -11.2l-11.2 11.2M584.3 248.9l11.2 11.2m0 -11.2l-11.2 11.2M607.3 248.9l11.2 11.2m0 -11.2l-11.2 11.2M722.1 248.9l11.2 11.2m0 -11.2l-11.2 11.2M745.1 248.9l11.2 11.2m0 -11.2l-11.2 11.2M791.0 248.9l11.2 11.2m0 -11.2l-11.2 11.2M239.9 271.8l11.2 11.2m0 -11.2l-11.2 11.2M285.8 271.8l11.2 11.2m0 -11.2l-11.2 11.2M423.6 271.8l11.2 11.2m0 -11.2l-11.2 11.2M469.5 271.8l11.2 11.2m0 -11.2l-11.2 11.2M607.3 271.8l11.2 11.2m0 -11.2l-11.2 11.2M722.1 271.8l11.2 11.2m0 -11.2l-11.2 11.2M745.1 271.8l11.2 11.2m0 -11.2l-11.2 11.2M791.0 271.8l11.2 11.2m0 -11.2l-11.2 11.2M239.9 294.8l11.2 11.2m0 -11.2l-11.2 11.2M354.7 294.8l11.2 11.2m0 -11.2l-11.2 11.2M400.6 294.8l11.2 11.2m0 -11.2l-11.2 11.2M469.5 294.8l11.2 11.2m0 -11.2l-11.2 11.2M607.3 294.8l11.2 11.2m0 -11.2l-11.2 11.2M791.0 294.8l11.2 11.2m0 -11.2l-11.2 11.2M400.6 317.7l11.2 11.2m0 -11.2l-11.2 11.2M469.5 317.7l11.2 11.2m0 -11.2l-11.2 11.2M722.1 317.7l11.2 11.2m0 -11.2l-11.2 11.2M791.0 317.7l11.2 11.2m0 -11.2l-11.2 11.2M354.7 340.6l11.2 11.2m0 -11.2l-11.2 11.2M722.1 340.6l11.2 11.2m0 -11.2l-11.2 11.2M791.0 340.6l11.2 11.2m0 -11.2l-11.2 11.2M607.3 363.5l11.2 11.2m0 -11.2l-11.2 11.2M722.1 363.5l11.2 11.2m0 -11.2l-11.2 11.2M791.0 363.5l11.2 11.2m0 -11.2l-11.2 11.2M882.9 363.5l11.2 11.2m0 -11.2l-11.2 11.2M515.5 386.5l11.2 11.2m0 -11.2l-11.2 11.2M607.3 386.5l11.2 11.2m0 -11.2l-11.2 11.2M676.2 386.5l11.2 11.2m0 -11.2l-11.2 11.2M722.1 386.5l11.2 11.2m0 -11.2l-11.2 11.2M791.0 386.5l11.2 11.2m0 -11.2l-11.2 11.2M859.9 386.5l11.2 11.2m0 -11.2l-11.2 11.2M882.9 386.5l11.2 11.2m0 -11.2l-11.2 11.2M607.3 409.4l11.2 11.2m0 -11.2l-11.2 11.2M676.2 409.4l11.2 11.2m0 -11.2l-11.2 11.2M722.1 409.4l11.2 11.2m0 -11.2l-11.2 11.2M791.0 409.4l11.2 11.2m0 -11.2l-11.2 11.2M859.9 409.4l11.2 11.2m0 -11.2l-11.2 11.2M171.0 432.3l11.2 11.2m0 -11.2l-11.2 11.2M194.0 432.3l11.2 11.2m0 -11.2l-11.2 11.2M216.9 432.3l11.2 11.2m0 -11.2l-11.2 11.2M239.9 432.3l11.2 11.2m0 -11.2l-11.2 11.2M262.9 432.3l11.2 11.2m0 -11.2l-11.2 11.2M285.8 432.3l11.2 11.2m0 -11.2l-11.2 11.2M331.8 432.3l11.2 11.2m0 -11.2l-11.2 11.2M354.7 432.3l11.2 11.2m0 -11.2l-11.2 11.2M377.7 432.3l11.2 11.2m0 -11.2l-11.2 11.2M400.6 432.3l11.2 11.2m0 -11.2l-11.2 11.2M515.5 432.3l11.2 11.2m0 -11.2l-11.2 11.2M538.4 432.3l11.2 11.2m0 -11.2l-11.2 11.2M561.4 432.3l11.2 11.2m0 -11.2l-11.2 11.2M584.3 432.3l11.2 11.2m0 -11.2l-11.2 11.2M676.2 432.3l11.2 11.2m0 -11.2l-11.2 11.2" stroke="#000" stroke-width="3.2" fill="none"/>
<path d="M130.68 449.40v10.3M245.50 449.40v10.3M360.31 449.40v10.3M475.13 449.40v10.3M589.94 449.40v10.3M704.76 449.40v10.3M819.58 449.40v10.3M934.39 449.40v10.3M119.20 139.86h-10.3M119.20 185.72h-10.3M119.20 231.58h-10.3M119.20 277.44h-10.3M119.20 323.29h-10.3M119.20 369.15h-10.3M119.20 415.01h-10.3" stroke="#000" stroke-width="2.5" fill="none"/>
<text x="130.68" y="484.00" font-size="28.5" text-anchor="middle">1980</text>
<text x="245.50" y="484.00" font-size="28.5" text-anchor="middle">1985</text>
<text x="360.31" y="484.00" font-size="28.5" text-anchor="middle">1990</text>
<text x="475.13" y="484.00" font-size="28.5" text-anchor="middle">1995</text>
<text x="589.94" y="484.00" font-size="28.5" text-anchor="middle">2000</text>
<text x="704.76" y="484.00" font-size="28.5" text-anchor="middle">2005</text>
<text x="819.58" y="484.00" font-size="28.5" text-anchor="middle">2010</text>
<text x="934.39" y="484.00" font-size="28.5" text-anchor="middle">2015</text>
<text x="105.40" y="150.36" font-size="28.5" text-anchor="end">850</text>
<text x="105.40" y="196.22" font-size="28.5" text-anchor="end">750</text>
<text x="105.40" y="242.08" font-size="28.5" text-anchor="end">660</text>
<text x="105.40" y="287.94" font-size="28.5" text-anchor="end">580</text>
<text x="105.40" y="333.79" font-size="28.5" text-anchor="end">520</text>
<text x="105.40" y="379.65" font-size="28.5" text-anchor="end">460</text>
<text x="105.40" y="425.51" font-size="28.5" text-anchor="end">410</text>
<text transform="translate(44.50 292.50) rotate(-90)" font-size="28.5" text-anchor="middle">Potential temperature [K]</text>
<text x="122.80" y="116.00" font-size="35.2">(a)</text>
<text x="552.50" y="116.80" font-size="38.2" text-anchor="middle">CFSR/CFSv2 mean diffs</text>
</g>
<g id="panel-b">
<rect x="1158.30" y="128.40" width="23.26" height="23.23" fill="#67c4be"/>
<rect x="1181.26" y="128.40" width="46.23" height="23.23" fill="#85cfba"/>
<rect x="1227.19" y="128.40" width="23.26" height="23.23" fill="#a5dcb7"/>
<rect x="1250.15" y="128.40" width="23.26" height="23.23" fill="#85cfba"/>
<rect x="1273.12" y="128.40" width="23.26" height="23.23" fill="#67c4be"/>
<rect x="1296.08" y="128.40" width="23.26" height="23.23" fill="#48b9c3"/>
<rect x="1319.04" y="128.40" width="23.26" height="23.23" fill="#a5dcb7"/>
<rect x="1342.01" y="128.40" width="23.26" height="23.23" fill="#48b9c3"/>
<rect x="1364.97" y="128.40" width="23.26" height="23.23" fill="#67c4be"/>
<rect x="1387.93" y="128.40" width="23.26" height="23.23" fill="#1f93c0"/>
<rect x="1410.89" y="128.40" width="23.26" height="23.23" fill="#85cfba"/>
<rect x="1433.86" y="128.40" width="46.23" height="23.23" fill="#a5dcb7"/>
<rect x="1479.78" y="128.40" width="23.26" height="23.23" fill="#32a6c2"/>
<rect x="1502.75" y="128.40" width="23.26" height="23.23" fill="#48b9c3"/>
<rect x="1525.71" y="128.40" width="23.26" height="23.23" fill="#85cfba"/>
<rect x="1548.67" y="128.40" width="23.26" height="23.23" fill="#32a6c2"/>
<rect x="1571.64" y="128.40" width="23.26" height="23.23" fill="#67c4be"/>
<rect x="1594.60" y="128.40" width="23.26" height="23.23" fill="#a5dcb7"/>
<rect x="1617.56" y="128.40" width="23.26" height="23.23" fill="#c6e9b4"/>
<rect x="1640.53" y="128.40" width="23.26" height="23.23" fill="#85cfba"/>
<rect x="1663.49" y="128.40" width="46.23" height="23.23" fill="#c6e9b4"/>
<rect x="1709.42" y="128.40" width="23.26" height="23.23" fill="#a5dcb7"/>
<rect x="1732.38" y="128.40" width="46.23" height="23.23" fill="#c6e9b4"/>
<rect x="1778.31" y="128.40" width="23.26" height="23.23" fill="#a5dcb7"/>
<rect x="1801.27" y="128.40" width="23.26" height="23.23" fill="#67c4be"/>
<rect x="1824.23" y="128.40" width="23.26" height="23.23" fill="#d9f0b3"/>
<rect x="1847.19" y="128.40" width="23.26" height="23.23" fill="#67c4be"/>
<rect x="1870.16" y="128.40" width="23.26" height="23.23" fill="#32a6c2"/>
<rect x="1893.12" y="128.40" width="23.26" height="23.23" fill="#c6e9b4"/>
<rect x="1916.08" y="128.40" width="23.26" height="23.23" fill="#eaf7b1"/>
<rect x="1939.05" y="128.40" width="23.26" height="23.23" fill="#67c4be"/>
<rect x="1962.01" y="128.40" width="23.26" height="23.23" fill="#d9f0b3"/>
<rect x="1984.97" y="128.40" width="46.23" height="23.23" fill="#999999"/>
<rect x="1158.30" y="151.33" width="23.26" height="23.23" fill="#85cfba"/>
<rect x="1181.26" y="151.33" width="23.26" height="23.23" fill="#67c4be"/>
<rect x="1204.23" y="151.33" width="23.26" height="23.23" fill="#85cfba"/>
<rect x="1227.19" y="151.33" width="23.26" height="23.23" fill="#a5dcb7"/>
<rect x="1250.15" y="151.33" width="46.23" height="23.23" fill="#85cfba"/>
<rect x="1296.08" y="151.33" width="23.26" height="23.23" fill="#48b9c3"/>
<rect x="1319.04" y="151.33" width="23.26" height="23.23" fill="#c6e9b4"/>
<rect x="1342.01" y="151.33" width="23.26" height="23.23" fill="#48b9c3"/>
<rect x="1364.97" y="151.33" width="23.26" height="23.23" fill="#67c4be"/>
<rect x="1387.93" y="151.33" width="23.26" height="23.23" fill="#2075b3"/>
<rect x="1410.89" y="151.33" width="69.19" height="23.23" fill="#a5dcb7"/>
<rect x="1479.78" y="151.33" width="23.26" height="23.23" fill="#67c4be"/>
<rect x="1502.75" y="151.33" width="23.26" height="23.23" fill="#1f93c0"/>
<rect x="1525.71" y="151.33" width="23.26" height="23.23" fill="#67c4be"/>
<rect x="1548.67" y="151.33" width="23.26" height="23.23" fill="#32a6c2"/>
<rect x="1571.64" y="151.33" width="23.26" height="23.23" fill="#67c4be"/>
<rect x="1594.60" y="151.33" width="46.23" height="23.23" fill="#a5dcb7"/>
<rect x="1640.53" y="151.33" width="23.26" height="23.23" fill="#85cfba"/>
<rect x="1663.49" y="151.33" width="46.23" height="23.23" fill="#d9f0b3"/>
<rect x="1709.42" y="151.33" width="23.26" height="23.23" fill="#a5dcb7"/>
<rect x="1732.38" y="151.33" width="46.23" height="23.23" fill="#c6e9b4"/>
<rect x="1778.31" y="151.33" width="23.26" height="23.23" fill="#85cfba"/>
<rect x="1801.27" y="151.33" width="23.26" height="23.23" fill="#a5dcb7"/>
<rect x="1824.23" y="151.33" width="23.26" height="23.23" fill="#c6e9b4"/>
<rect x="1847.19" y="151.33" width="23.26" height="23.23" fill="#85cfba"/>
<rect x="1870.16" y="151.33" width="23.26" height="23.23" fill="#67c4be"/>
<rect x="1893.12" y="151.33" width="23.26" height="23.23" fill="#a5dcb7"/>
<rect x="1916.08" y="151.33" width="23.26" height="23.23" fill="#eaf7b1"/>
<rect x="1939.05" y="151.33" width="23.26" height="23.23" fill="#85cfba"/>
<rect x="1962.01" y="151.33" width="23.26" height="23.23" fill="#c6e9b4"/>
<rect x="1984.97" y="151.33" width="46.23" height="23.23" fill="#999999"/>
<rect x="1158.30" y="174.26" width="23.26" height="23.23" fill="#c6e9b4"/>
<rect x="1181.26" y="174.26" width="46.23" height="23.23" fill="#85cfba"/>
<rect x="1227.19" y="174.26" width="23.26" height="23.23" fill="#c6e9b4"/>
<rect x="1250.15" y="174.26" width="46.23" height="23.23" fill="#85cfba"/>
<rect x="1296.08" y="174.26" width="23.26" height="23.23" fill="#48b9c3"/>
<rect x="1319.04" y="174.26" width="23.26" height="23.23" fill="#a5dcb7"/>
<rect x="1342.01" y="174.26" width="46.23" height="23.23" fill="#85cfba"/>
<rect x="1387.93" y="174.26" width="23.26" height="23.23" fill="#32a6c2"/>
<rect x="1410.89" y="174.26" width="46.23" height="23.23" fill="#a5dcb7"/>
<rect x="1456.82" y="174.26" width="46.23" height="23.23" fill="#85cfba"/>
<rect x="1502.75" y="174.26" width="23.26" height="23.23" fill="#48b9c3"/>
<rect x="1525.71" y="174.26" width="23.26" height="23.23" fill="#67c4be"/>
<rect x="1548.67" y="174.26" width="23.26" height="23.23" fill="#32a6c2"/>
<rect x="1571.64" y="174.26" width="23.26" height="23.23" fill="#67c4be"/>
<rect x="1594.60" y="174.26" width="23.26" height="23.23" fill="#a5dcb7"/>
<rect x="1617.56" y="174.26" width="46.23" height="23.23" fill="#85cfba"/>
<rect x="1663.49" y="174.26" width="23.26" height="23.23" fill="#d9f0b3"/>
<rect x="1686.45" y="174.26" width="23.26" height="23.23" fill="#a5dcb7"/>
<rect x="1709.42" y="174.26" width="69.19" height="23.23" fill="#c6e9b4"/>
<rect x="1778.31" y="174.26" width="23.26" height="23.23" fill="#a5dcb7"/>
<rect x="1801.27" y="174.26" width="23.26" height="23.23" fill="#c6e9b4"/>
<rect x="1824.23" y="174.26" width="23.26" height="23.23" fill="#d9f0b3"/>
<rect x="1847.19" y="174.26" width="23.26" height="23.23" fill="#c6e9b4"/>
<rect x="1870.16" y="174.26" width="23.26" height="23.23" fill="#85cfba"/>
<rect x="1893.12" y="174.26" width="23.26" height="23.23" fill="#c6e9b4"/>
<rect x="1916.08" y="174.26" width="23.26" height="23.23" fill="#eaf7b1"/>
<rect x="1939.05" y="174.26" width="23.26" height="23.23" fill="#a5dcb7"/>
<rect x="1962.01" y="174.26" width="23.26" height="23.23" fill="#c6e9b4"/>
<rect x="1984.97" y="174.26" width="46.23" height="23.23" fill="#999999"/>
<rect x="1158.30" y="197.19" width="23.26" height="23.23" fill="#c6e9b4"/>
<rect x="1181.26" y="197.19" width="23.26" height="23.23" fill="#85cfba"/>
<rect x="1204.23" y="197.19" width="92.15" height="23.23" fill="#a5dcb7"/>
<rect x="1296.08" y="197.19" width="23.26" height="23.23" fill="#48b9c3"/>
<rect x="1319.04" y="197.19" width="23.26" height="23.23" fill="#85cfba"/>
<rect x="1342.01" y="197.19" width="23.26" height="23.23" fill="#a5dcb7"/>
<rect x="1364.97" y="197.19" width="46.23" height="23.23" fill="#67c4be"/>
<rect x="1410.89" y="197.19" width="46.23" height="23.23" fill="#a5dcb7"/>
<rect x="1456.82" y="197.19" width="46.23" height="23.23" fill="#85cfba"/>
<rect x="1502.75" y="197.19" width="23.26" height="23.23" fill="#67c4be"/>
<rect x="1525.71" y="197.19" width="23.26" height="23.23" fill="#a5dcb7"/>
<rect x="1548.67" y="197.19" width="23.26" height="23.23" fill="#32a6c2"/>
<rect x="1571.64" y="197.19" width="23.26" height="23.23" fill="#85cfba"/>
<rect x="1594.60" y="197.19" width="23.26" height="23.23" fill="#a5dcb7"/>
<rect x="1617.56" y="197.19" width="23.26" height="23.23" fill="#67c4be"/>
<rect x="1640.53" y="197.19" width="23.26" height="23.23" fill="#32a6c2"/>
<rect x="1663.49" y="197.19" width="23.26" height="23.23" fill="#d9f0b3"/>
<rect x="1686.45" y="197.19" width="23.26" height="23.23" fill="#c6e9b4"/>
<rect x="1709.42" y="197.19" width="23.26" height="23.23" fill="#a5dcb7"/>
<rect x="1732.38" y="197.19" width="46.23" height="23.23" fill="#c6e9b4"/>
<rect x="1778.31" y="197.19" width="23.26" height="23.23" fill="#a5dcb7"/>
<rect x="1801.27" y="197.19" width="23.26" height="23.23" fill="#c6e9b4"/>
<rect x="1824.23" y="197.19" width="46.23" height="23.23" fill="#d9f0b3"/>
<rect x="1870.16" y="197.19" width="23.26" height="23.23" fill="#a5dcb7"/>
<rect x="1893.12" y="197.19" width="23.26" height="23.23" fill="#c6e9b4"/>
<rect x="1916.08" y="197.19" width="23.26" height="23.23" fill="#d9f0b3"/>
<rect x="1939.05" y="197.19" width="46.23" height="23.23" fill="#c6e9b4"/>
<rect x="1984.97" y="197.19" width="46.23" height="23.23" fill="#999999"/>
<rect x="1158.30" y="220.11" width="46.23" height="23.23" fill="#a5dcb7"/>
<rect x="1204.23" y="220.11" width="23.26" height="23.23" fill="#c6e9b4"/>
<rect x="1227.19" y="220.11" width="23.26" height="23.23" fill="#a5dcb7"/>
<rect x="1250.15" y="220.11" width="23.26" height="23.23" fill="#c6e9b4"/>
<rect x="1273.12" y="220.11" width="23.26" height="23.23" fill="#a5dcb7"/>
<rect x="1296.08" y="220.11" width="23.26" height="23.23" fill="#67c4be"/>
<rect x="1319.04" y="220.11" width="46.23" height="23.23" fill="#a5dcb7"/>
<rect x="1364.97" y="220.11" width="23.26" height="23.23" fill="#85cfba"/>
<rect x="1387.93" y="220.11" width="23.26" height="23.23" fill="#a5dcb7"/>
<rect x="1410.89" y="220.11" width="46.23" height="23.23" fill="#c6e9b4"/>
<rect x="1456.82" y="220.11" width="46.23" height="23.23" fill="#a5dcb7"/>
<rect x="1502.75" y="220.11" width="23.26" height="23.23" fill="#67c4be"/>
<rect x="1525.71" y="220.11" width="23.26" height="23.23" fill="#a5dcb7"/>
<rect x="1548.67" y="220.11" width="46.23" height="23.23" fill="#85cfba"/>
<rect x="1594.60" y="220.11" width="23.26" height="23.23" fill="#c6e9b4"/>
<rect x="1617.56" y="220.11" width="23.26" height="23.23" fill="#a5dcb7"/>
<rect x="1640.53" y="220.11" width="23.26" height="23.23" fill="#67c4be"/>
<rect x="1663.49" y="220.11" width="69.19" height="23.23" fill="#d9f0b3"/>
<rect x="1732.38" y="220.11" width="92.15" height="23.23" fill="#c6e9b4"/>
<rect x="1824.23" y="220.11" width="46.23" height="23.23" fill="#d9f0b3"/>
<rect x="1870.16" y="220.11" width="23.26" height="23.23" fill="#c6e9b4"/>
<rect x="1893.12" y="220.11" width="46.23" height="23.23" fill="#d9f0b3"/>
<rect x="1939.05" y="220.11" width="23.26" height="23.23" fill="#c6e9b4"/>
<rect x="1962.01" y="220.11" width="23.26" height="23.23" fill="#d9f0b3"/>
<rect x="1984.97" y="220.11" width="46.23" height="23.23" fill="#999999"/>
<rect x="1158.30" y="243.04" width="115.12" height="23.23" fill="#c6e9b4"/>
<rect x="1273.12" y="243.04" width="69.19" height="23.23" fill="#a5dcb7"/>
<rect x="1342.01" y="243.04" width="46.23" height="23.23" fill="#c6e9b4"/>
<rect x="1387.93" y="243.04" width="23.26" height="23.23" fill="#a5dcb7"/>
<rect x="1410.89" y="243.04" width="69.19" height="23.23" fill="#c6e9b4"/>
<rect x="1479.78" y="243.04" width="23.26" height="23.23" fill="#d9f0b3"/>
<rect x="1502.75" y="243.04" width="23.26" height="23.23" fill="#a5dcb7"/>
<rect x="1525.71" y="243.04" width="23.26" height="23.23" fill="#85cfba"/>
<rect x="1548.67" y="243.04" width="23.26" height="23.23" fill="#d9f0b3"/>
<rect x="1571.64" y="243.04" width="23.26" height="23.23" fill="#a5dcb7"/>
<rect x="1594.60" y="243.04" width="23.26" height="23.23" fill="#d9f0b3"/>
<rect x="1617.56" y="243.04" width="23.26" height="23.23" fill="#a5dcb7"/>
<rect x="1640.53" y="243.04" width="115.12" height="23.23" fill="#d9f0b3"/>
<rect x="1755.34" y="243.04" width="46.23" height="23.23" fill="#c6e9b4"/>
<rect x="1801.27" y="243.04" width="69.19" height="23.23" fill="#d9f0b3"/>
<rect x="1870.16" y="243.04" width="23.26" height="23.23" fill="#c6e9b4"/>
<rect x="1893.12" y="243.04" width="69.19" height="23.23" fill="#d9f0b3"/>
<rect x="1962.01" y="243.04" width="23.26" height="23.23" fill="#eaf7b1"/>
<rect x="1984.97" y="243.04" width="46.23" height="23.23" fill="#999999"/>
<rect x="1158.30" y="265.97" width="23.26" height="23.23" fill="#d9f0b3"/>
<rect x="1181.26" y="265.97" width="92.15" height="23.23" fill="#c6e9b4"/>
<rect x="1273.12" y="265.97" width="23.26" height="23.23" fill="#a5dcb7"/>
<rect x="1296.08" y="265.97" width="23.26" height="23.23" fill="#c6e9b4"/>
<rect x="1319.04" y="265.97" width="23.26" height="23.23" fill="#a5dcb7"/>
<rect x="1342.01" y="265.97" width="23.26" height="23.23" fill="#d9f0b3"/>
<rect x="1364.97" y="265.97" width="23.26" height="23.23" fill="#c6e9b4"/>
<rect x="1387.93" y="265.97" width="23.26" height="23.23" fill="#a5dcb7"/>
<rect x="1410.89" y="265.97" width="23.26" height="23.23" fill="#d9f0b3"/>
<rect x="1433.86" y="265.97" width="46.23" height="23.23" fill="#c6e9b4"/>
<rect x="1479.78" y="265.97" width="23.26" height="23.23" fill="#d9f0b3"/>
<rect x="1502.75" y="265.97" width="46.23" height="23.23" fill="#c6e9b4"/>
<rect x="1548.67" y="265.97" width="23.26" height="23.23" fill="#d9f0b3"/>
<rect x="1571.64" y="265.97" width="23.26" height="23.23" fill="#a5dcb7"/>
<rect x="1594.60" y="265.97" width="23.26" height="23.23" fill="#eaf7b1"/>
<rect x="1617.56" y="265.97" width="92.15" height="23.23" fill="#d9f0b3"/>
<rect x="1709.42" y="265.97" width="23.26" height="23.23" fill="#eaf7b1"/>
<rect x="1732.38" y="265.97" width="23.26" height="23.23" fill="#c6e9b4"/>
<rect x="1755.34" y="265.97" width="161.04" height="23.23" fill="#d9f0b3"/>
<rect x="1916.08" y="265.97" width="23.26" height="23.23" fill="#eaf7b1"/>
<rect x="1939.05" y="265.97" width="46.23" height="23.23" fill="#d9f0b3"/>
<rect x="1984.97" y="265.97" width="46.23" height="23.23" fill="#999999"/>
<rect x="1158.30" y="288.90" width="23.26" height="23.23" fill="#d9f0b3"/>
<rect x="1181.26" y="288.90" width="23.26" height="23.23" fill="#c6e9b4"/>
<rect x="1204.23" y="288.90" width="46.23" height="23.23" fill="#d9f0b3"/>
<rect x="1250.15" y="288.90" width="23.26" height="23.23" fill="#c6e9b4"/>
<rect x="1273.12" y="288.90" width="23.26" height="23.23" fill="#a5dcb7"/>
<rect x="1296.08" y="288.90" width="23.26" height="23.23" fill="#c6e9b4"/>
<rect x="1319.04" y="288.90" width="23.26" height="23.23" fill="#a5dcb7"/>
<rect x="1342.01" y="288.90" width="23.26" height="23.23" fill="#d9f0b3"/>
<rect x="1364.97" y="288.90" width="46.23" height="23.23" fill="#c6e9b4"/>
<rect x="1410.89" y="288.90" width="23.26" height="23.23" fill="#d9f0b3"/>
<rect x="1433.86" y="288.90" width="23.26" height="23.23" fill="#c6e9b4"/>
<rect x="1456.82" y="288.90" width="46.23" height="23.23" fill="#d9f0b3"/>
<rect x="1502.75" y="288.90" width="46.23" height="23.23" fill="#c6e9b4"/>
<rect x="1548.67" y="288.90" width="23.26" height="23.23" fill="#d9f0b3"/>
<rect x="1571.64" y="288.90" width="23.26" height="23.23" fill="#a5dcb7"/>
<rect x="1594.60" y="288.90" width="23.26" height="23.23" fill="#eaf7b1"/>
<rect x="1617.56" y="288.90" width="23.26" height="23.23" fill="#d9f0b3"/>
<rect x="1640.53" y="288.90" width="23.26" height="23.23" fill="#c6e9b4"/>
<rect x="1663.49" y="288.90" width="46.23" height="23.23" fill="#eaf7b1"/>
<rect x="1709.42" y="288.90" width="46.23" height="23.23" fill="#d9f0b3"/>
<rect x="1755.34" y="288.90" width="23.26" height="23.23" fill="#c6e9b4"/>
<rect x="1778.31" y="288.90" width="138.08" height="23.23" fill="#d9f0b3"/>
<rect x="1916.08" y="288.90" width="23.26" height="23.23" fill="#eaf7b1"/>
<rect x="1939.05" y="288.90" width="23.26" height="23.23" fill="#c6e9b4"/>
<rect x="1962.01" y="288.90" width="23.26" height="23.23" fill="#d9f0b3"/>
<rect x="1984.97" y="288.90" width="46.23" height="23.23" fill="#999999"/>
<rect x="1158.30" y="311.83" width="23.26" height="23.23" fill="#d9f0b3"/>
<rect x="1181.26" y="311.83" width="23.26" height="23.23" fill="#a5dcb7"/>
<rect x="1204.23" y="311.83" width="23.26" height="23.23" fill="#d9f0b3"/>
<rect x="1227.19" y="311.83" width="23.26" height="23.23" fill="#c6e9b4"/>
<rect x="1250.15" y="311.83" width="23.26" height="23.23" fill="#d9f0b3"/>
<rect x="1273.12" y="311.83" width="69.19" height="23.23" fill="#c6e9b4"/>
<rect x="1342.01" y="311.83" width="23.26" height="23.23" fill="#d9f0b3"/>
<rect x="1364.97" y="311.83" width="23.26" height="23.23" fill="#c6e9b4"/>
<rect x="1387.93" y="311.83" width="23.26" height="23.23" fill="#eaf7b1"/>
<rect x="1410.89" y="311.83" width="138.08" height="23.23" fill="#d9f0b3"/>
<rect x="1548.67" y="311.83" width="23.26" height="23.23" fill="#eaf7b1"/>
<rect x="1571.64" y="311.83" width="23.26" height="23.23" fill="#c6e9b4"/>
<rect x="1594.60" y="311.83" width="46.23" height="23.23" fill="#eaf7b1"/>
<rect x="1640.53" y="311.83" width="23.26" height="23.23" fill="#c6e9b4"/>
<rect x="1663.49" y="311.83" width="23.26" height="23.23" fill="#eaf7b1"/>
<rect x="1686.45" y="311.83" width="46.23" height="23.23" fill="#d9f0b3"/>
<rect x="1732.38" y="311.83" width="23.26" height="23.23" fill="#eaf7b1"/>
<rect x="1755.34" y="311.83" width="23.26" height="23.23" fill="#d9f0b3"/>
<rect x="1778.31" y="311.83" width="23.26" height="23.23" fill="#c6e9b4"/>
<rect x="1801.27" y="311.83" width="23.26" height="23.23" fill="#d9f0b3"/>
<rect x="1824.23" y="311.83" width="23.26" height="23.23" fill="#c6e9b4"/>
<rect x="1847.19" y="311.83" width="23.26" height="23.23" fill="#d9f0b3"/>
<rect x="1870.16" y="311.83" width="23.26" height="23.23" fill="#a5dcb7"/>
<rect x="1893.12" y="311.83" width="23.26" height="23.23" fill="#d9f0b3"/>
<rect x="1916.08" y="311.83" width="23.26" height="23.23" fill="#eaf7b1"/>
<rect x="1939.05" y="311.83" width="23.26" height="23.23" fill="#a5dcb7"/>
<rect x="1962.01" y="311.83" width="23.26" height="23.23" fill="#d9f0b3"/>
<rect x="1984.97" y="311.83" width="46.23" height="23.23" fill="#999999"/>
<rect x="1158.30" y="334.76" width="23.26" height="23.23" fill="#d9f0b3"/>
<rect x="1181.26" y="334.76" width="23.26" height="23.23" fill="#85cfba"/>
<rect x="1204.23" y="334.76" width="23.26" height="23.23" fill="#eaf7b1"/>
<rect x="1227.19" y="334.76" width="23.26" height="23.23" fill="#c6e9b4"/>
<rect x="1250.15" y="334.76" width="46.23" height="23.23" fill="#d9f0b3"/>
<rect x="1296.08" y="334.76" width="23.26" height="23.23" fill="#c6e9b4"/>
<rect x="1319.04" y="334.76" width="23.26" height="23.23" fill="#a5dcb7"/>
<rect x="1342.01" y="334.76" width="23.26" height="23.23" fill="#d9f0b3"/>
<rect x="1364.97" y="334.76" width="23.26" height="23.23" fill="#c6e9b4"/>
<rect x="1387.93" y="334.76" width="23.26" height="23.23" fill="#a5dcb7"/>
<rect x="1410.89" y="334.76" width="23.26" height="23.23" fill="#c6e9b4"/>
<rect x="1433.86" y="334.76" width="23.26" height="23.23" fill="#eaf7b1"/>
<rect x="1456.82" y="334.76" width="69.19" height="23.23" fill="#d9f0b3"/>
<rect x="1525.71" y="334.76" width="23.26" height="23.23" fill="#c6e9b4"/>
<rect x="1548.67" y="334.76" width="46.23" height="23.23" fill="#d9f0b3"/>
<rect x="1594.60" y="334.76" width="23.26" height="23.23" fill="#f4fbc0"/>
<rect x="1617.56" y="334.76" width="23.26" height="23.23" fill="#eaf7b1"/>
<rect x="1640.53" y="334.76" width="23.26" height="23.23" fill="#c6e9b4"/>
<rect x="1663.49" y="334.76" width="23.26" height="23.23" fill="#eaf7b1"/>
<rect x="1686.45" y="334.76" width="23.26" height="23.23" fill="#d9f0b3"/>
<rect x="1709.42" y="334.76" width="23.26" height="23.23" fill="#eaf7b1"/>
<rect x="1732.38" y="334.76" width="46.23" height="23.23" fill="#c6e9b4"/>
<rect x="1778.31" y="334.76" width="23.26" height="23.23" fill="#a5dcb7"/>
<rect x="1801.27" y="334.76" width="23.26" height="23.23" fill="#d9f0b3"/>
<rect x="1824.23" y="334.76" width="23.26" height="23.23" fill="#67c4be"/>
<rect x="1847.19" y="334.76" width="23.26" height="23.23" fill="#d9f0b3"/>
<rect x="1870.16" y="334.76" width="23.26" height="23.23" fill="#85cfba"/>
<rect x="1893.12" y="334.76" width="23.26" height="23.23" fill="#f4fbc0"/>
<rect x="1916.08" y="334.76" width="23.26" height="23.23" fill="#d9f0b3"/>
<rect x="1939.05" y="334.76" width="23.26" height="23.23" fill="#a5dcb7"/>
<rect x="1962.01" y="334.76" width="23.26" height="23.23" fill="#d9f0b3"/>
<rect x="1984.97" y="334.76" width="46.23" height="23.23" fill="#999999"/>
<rect x="1158.30" y="357.69" width="23.26" height="23.23" fill="#eaf7b1"/>
<rect x="1181.26" y="357.69" width="23.26" height="23.23" fill="#a5dcb7"/>
<rect x="1204.23" y="357.69" width="23.26" height="23.23" fill="#eaf7b1"/>
<rect x="1227.19" y="357.69" width="46.23" height="23.23" fill="#d9f0b3"/>
<rect x="1273.12" y="357.69" width="23.26" height="23.23" fill="#eaf7b1"/>
<rect x="1296.08" y="357.69" width="23.26" height="23.23" fill="#c6e9b4"/>
<rect x="1319.04" y="357.69" width="23.26" height="23.23" fill="#a5dcb7"/>
<rect x="1342.01" y="357.69" width="23.26" height="23.23" fill="#eaf7b1"/>
<rect x="1364.97" y="357.69" width="23.26" height="23.23" fill="#d9f0b3"/>
<rect x="1387.93" y="357.69" width="23.26" height="23.23" fill="#c6e9b4"/>
<rect x="1410.89" y="357.69" width="23.26" height="23.23" fill="#d9f0b3"/>
<rect x="1433.86" y="357.69" width="46.23" height="23.23" fill="#eaf7b1"/>
<rect x="1479.78" y="357.69" width="23.26" height="23.23" fill="#f4fbc0"/>
<rect x="1502.75" y="357.69" width="23.26" height="23.23" fill="#eaf7b1"/>
<rect x="1525.71" y="357.69" width="23.26" height="23.23" fill="#d9f0b3"/>
<rect x="1548.67" y="357.69" width="46.23" height="23.23" fill="#eaf7b1"/>
<rect x="1594.60" y="357.69" width="23.26" height="23.23" fill="#f4fbc0"/>
<rect x="1617.56" y="357.69" width="23.26" height="23.23" fill="#eaf7b1"/>
<rect x="1640.53" y="357.69" width="23.26" height="23.23" fill="#c6e9b4"/>
<rect x="1663.49" y="357.69" width="23.26" height="23.23" fill="#eaf7b1"/>
<rect x="1686.45" y="357.69" width="23.26" height="23.23" fill="#d9f0b3"/>
<rect x="1709.42" y="357.69" width="23.26" height="23.23" fill="#eaf7b1"/>
<rect x="1732.38" y="357.69" width="23.26" height="23.23" fill="#d9f0b3"/>
<rect x="1755.34" y="357.69" width="46.23" height="23.23" fill="#c6e9b4"/>
<rect x="1801.27" y="357.69" width="23.26" height="23.23" fill="#d9f0b3"/>
<rect x="1824.23" y="357.69" width="23.26" height="23.23" fill="#48b9c3"/>
<rect x="1847.19" y="357.69" width="23.26" height="23.23" fill="#eaf7b1"/>
<rect x="1870.16" y="357.69" width="23.26" height="23.23" fill="#a5dcb7"/>
<rect x="1893.12" y="357.69" width="23.26" height="23.23" fill="#eaf7b1"/>
<rect x="1916.08" y="357.69" width="23.26" height="23.23" fill="#d9f0b3"/>
<rect x="1939.05" y="357.69" width="23.26" height="23.23" fill="#c6e9b4"/>
<rect x="1962.01" y="357.69" width="23.26" height="23.23" fill="#d9f0b3"/>
<rect x="1984.97" y="357.69" width="46.23" height="23.23" fill="#999999"/>
<rect x="1158.30" y="380.61" width="23.26" height="23.23" fill="#f4fbc0"/>
<rect x="1181.26" y="380.61" width="23.26" height="23.23" fill="#d9f0b3"/>
<rect x="1204.23" y="380.61" width="92.15" height="23.23" fill="#eaf7b1"/>
<rect x="1296.08" y="380.61" width="46.23" height="23.23" fill="#c6e9b4"/>
<rect x="1342.01" y="380.61" width="23.26" height="23.23" fill="#f4fbc0"/>
<rect x="1364.97" y="380.61" width="23.26" height="23.23" fill="#eaf7b1"/>
<rect x="1387.93" y="380.61" width="23.26" height="23.23" fill="#d9f0b3"/>
<rect x="1410.89" y="380.61" width="46.23" height="23.23" fill="#eaf7b1"/>
<rect x="1456.82" y="380.61" width="46.23" height="23.23" fill="#f4fbc0"/>
<rect x="1502.75" y="380.61" width="92.15" height="23.23" fill="#eaf7b1"/>
<rect x="1594.60" y="380.61" width="46.23" height="23.23" fill="#f4fbc0"/>
<rect x="1640.53" y="380.61" width="23.26" height="23.23" fill="#c6e9b4"/>
<rect x="1663.49" y="380.61" width="46.23" height="23.23" fill="#f4fbc0"/>
<rect x="1709.42" y="380.61" width="46.23" height="23.23" fill="#eaf7b1"/>
<rect x="1755.34" y="380.61" width="23.26" height="23.23" fill="#d9f0b3"/>
<rect x="1778.31" y="380.61" width="23.26" height="23.23" fill="#eaf7b1"/>
<rect x="1801.27" y="380.61" width="23.26" height="23.23" fill="#f4fbc0"/>
<rect x="1824.23" y="380.61" width="23.26" height="23.23" fill="#85cfba"/>
<rect x="1847.19" y="380.61" width="23.26" height="23.23" fill="#eaf7b1"/>
<rect x="1870.16" y="380.61" width="23.26" height="23.23" fill="#d9f0b3"/>
<rect x="1893.12" y="380.61" width="23.26" height="23.23" fill="#c6e9b4"/>
<rect x="1916.08" y="380.61" width="69.19" height="23.23" fill="#d9f0b3"/>
<rect x="1984.97" y="380.61" width="46.23" height="23.23" fill="#999999"/>
<rect x="1158.30" y="403.54" width="23.26" height="23.23" fill="#f4fbc0"/>
<rect x="1181.26" y="403.54" width="69.19" height="23.23" fill="#eaf7b1"/>
<rect x="1250.15" y="403.54" width="23.26" height="23.23" fill="#d9f0b3"/>
<rect x="1273.12" y="403.54" width="23.26" height="23.23" fill="#eaf7b1"/>
<rect x="1296.08" y="403.54" width="23.26" height="23.23" fill="#d9f0b3"/>
<rect x="1319.04" y="403.54" width="23.26" height="23.23" fill="#eaf7b1"/>
<rect x="1342.01" y="403.54" width="46.23" height="23.23" fill="#f4fbc0"/>
<rect x="1387.93" y="403.54" width="23.26" height="23.23" fill="#eaf7b1"/>
<rect x="1410.89" y="403.54" width="92.15" height="23.23" fill="#f4fbc0"/>
<rect x="1502.75" y="403.54" width="23.26" height="23.23" fill="#eaf7b1"/>
<rect x="1525.71" y="403.54" width="23.26" height="23.23" fill="#f4fbc0"/>
<rect x="1548.67" y="403.54" width="23.26" height="23.23" fill="#eaf7b1"/>
<rect x="1571.64" y="403.54" width="46.23" height="23.23" fill="#f4fbc0"/>
<rect x="1617.56" y="403.54" width="46.23" height="23.23" fill="#eaf7b1"/>
<rect x="1663.49" y="403.54" width="161.04" height="23.23" fill="#f4fbc0"/>
<rect x="1824.23" y="403.54" width="23.26" height="23.23" fill="#eaf7b1"/>
<rect x="1847.19" y="403.54" width="23.26" height="23.23" fill="#f4fbc0"/>
<rect x="1870.16" y="403.54" width="46.23" height="23.23" fill="#eaf7b1"/>
<rect x="1916.08" y="403.54" width="23.26" height="23.23" fill="#f4fbc0"/>
<rect x="1939.05" y="403.54" width="46.23" height="23.23" fill="#eaf7b1"/>
<rect x="1984.97" y="403.54" width="46.23" height="23.23" fill="#999999"/>
<rect x="1158.30" y="426.47" width="23.26" height="23.23" fill="#fcfed1"/>
<rect x="1181.26" y="426.47" width="69.19" height="23.23" fill="#f4fbc0"/>
<rect x="1250.15" y="426.47" width="23.26" height="23.23" fill="#eaf7b1"/>
<rect x="1273.12" y="426.47" width="23.26" height="23.23" fill="#f4fbc0"/>
<rect x="1296.08" y="426.47" width="23.26" height="23.23" fill="#eaf7b1"/>
<rect x="1319.04" y="426.47" width="23.26" height="23.23" fill="#f4fbc0"/>
<rect x="1342.01" y="426.47" width="23.26" height="23.23" fill="#fcfed1"/>
<rect x="1364.97" y="426.47" width="69.19" height="23.23" fill="#eaf7b1"/>
<rect x="1433.86" y="426.47" width="69.19" height="23.23" fill="#f4fbc0"/>
<rect x="1502.75" y="426.47" width="23.26" height="23.23" fill="#eaf7b1"/>
<rect x="1525.71" y="426.47" width="92.15" height="23.23" fill="#f4fbc0"/>
<rect x="1617.56" y="426.47" width="23.26" height="23.23" fill="#eaf7b1"/>
<rect x="1640.53" y="426.47" width="23.26" height="23.23" fill="#f4fbc0"/>
<rect x="1663.49" y="426.47" width="23.26" height="23.23" fill="#fcfed1"/>
<rect x="1686.45" y="426.47" width="252.89" height="23.23" fill="#f4fbc0"/>
<rect x="1939.05" y="426.47" width="23.26" height="23.23" fill="#eaf7b1"/>
<rect x="1962.01" y="426.47" width="23.26" height="23.23" fill="#f4fbc0"/>
<rect x="1984.97" y="426.47" width="46.23" height="23.23" fill="#999999"/>
<clipPath id="cpb"><rect x="1157.85" y="127.95" width="873.50" height="321.90"/></clipPath>
<path d="M1158.30 128.40V449.40M1181.26 128.40V449.40M1204.23 128.40V449.40M1227.19 128.40V449.40M1250.15 128.40V449.40M1273.12 128.40V449.40M1296.08 128.40V449.40M1319.04 128.40V449.40M1342.01 128.40V449.40M1364.97 128.40V449.40M1387.93 128.40V449.40M1410.89 128.40V449.40M1433.86 128.40V449.40M1456.82 128.40V449.40M1479.78 128.40V449.40M1502.75 128.40V449.40M1525.71 128.40V449.40M1548.67 128.40V449.40M1571.64 128.40V449.40M1594.60 128.40V449.40M1617.56 128.40V449.40M1640.53 128.40V449.40M1663.49 128.40V449.40M1686.45 128.40V449.40M1709.42 128.40V449.40M1732.38 128.40V449.40M1755.34 128.40V449.40M1778.31 128.40V449.40M1801.27 128.40V449.40M1824.23 128.40V449.40M1847.19 128.40V449.40M1870.16 128.40V449.40M1893.12 128.40V449.40M1916.08 128.40V449.40M1939.05 128.40V449.40M1962.01 128.40V449.40M1984.97 128.40V449.40M2007.94 128.40V449.40M2030.90 128.40V449.40M1158.30 128.40H2030.90M1158.30 151.33H2030.90M1158.30 174.26H2030.90M1158.30 197.19H2030.90M1158.30 220.11H2030.90M1158.30 243.04H2030.90M1158.30 265.97H2030.90M1158.30 288.90H2030.90M1158.30 311.83H2030.90M1158.30 334.76H2030.90M1158.30 357.69H2030.90M1158.30 380.61H2030.90M1158.30 403.54H2030.90M1158.30 426.47H2030.90M1158.30 449.40H2030.90" stroke="#161616" stroke-width="1.55" fill="none" stroke-linecap="square" clip-path="url(#cpb)"/>
<path d="M1169.78 449.40v10.3M1284.60 449.40v10.3M1399.41 449.40v10.3M1514.23 449.40v10.3M1629.04 449.40v10.3M1743.86 449.40v10.3M1858.68 449.40v10.3M1973.49 449.40v10.3M1158.30 139.86h-10.3M1158.30 185.72h-10.3M1158.30 231.58h-10.3M1158.30 277.44h-10.3M1158.30 323.29h-10.3M1158.30 369.15h-10.3M1158.30 415.01h-10.3" stroke="#000" stroke-width="2.5" fill="none"/>
<text x="1169.78" y="484.00" font-size="28.5" text-anchor="middle">1980</text>
<text x="1284.60" y="484.00" font-size="28.5" text-anchor="middle">1985</text>
<text x="1399.41" y="484.00" font-size="28.5" text-anchor="middle">1990</text>
<text x="1514.23" y="484.00" font-size="28.5" text-anchor="middle">1995</text>
<text x="1629.04" y="484.00" font-size="28.5" text-anchor="middle">2000</text>
<text x="1743.86" y="484.00" font-size="28.5" text-anchor="middle">2005</text>
<text x="1858.68" y="484.00" font-size="28.5" text-anchor="middle">2010</text>
<text x="1973.49" y="484.00" font-size="28.5" text-anchor="middle">2015</text>
<text x="1144.50" y="150.36" font-size="28.5" text-anchor="end">850</text>
<text x="1144.50" y="196.22" font-size="28.5" text-anchor="end">750</text>
<text x="1144.50" y="242.08" font-size="28.5" text-anchor="end">660</text>
<text x="1144.50" y="287.94" font-size="28.5" text-anchor="end">580</text>
<text x="1144.50" y="333.79" font-size="28.5" text-anchor="end">520</text>
<text x="1144.50" y="379.65" font-size="28.5" text-anchor="end">460</text>
<text x="1144.50" y="425.51" font-size="28.5" text-anchor="end">410</text>
<text transform="translate(1083.60 292.50) rotate(-90)" font-size="28.5" text-anchor="middle">Potential temperature [K]</text>
<text x="1161.90" y="116.00" font-size="35.2">(b)</text>
<text x="1555.50" y="116.80" font-size="38.2" text-anchor="middle">CFSR/CFSv2 SD of diffs</text>
</g>
<g id="panel-c">
<rect x="119.20" y="541.80" width="23.26" height="23.23" fill="#f7f6f6"/>
<rect x="142.16" y="541.80" width="23.26" height="23.23" fill="#fddcc9"/>
<rect x="165.13" y="541.80" width="23.26" height="23.23" fill="#fae7dc"/>
<rect x="188.09" y="541.80" width="23.26" height="23.23" fill="#f9f0eb"/>
<rect x="211.05" y="541.80" width="23.26" height="23.23" fill="#deebf2"/>
<rect x="234.02" y="541.80" width="46.23" height="23.23" fill="#fae7dc"/>
<rect x="279.94" y="541.80" width="23.26" height="23.23" fill="#deebf2"/>
<rect x="302.91" y="541.80" width="23.26" height="23.23" fill="#d1e5f0"/>
<rect x="325.87" y="541.80" width="23.26" height="23.23" fill="#deebf2"/>
<rect x="348.83" y="541.80" width="23.26" height="23.23" fill="#9dcbe1"/>
<rect x="371.79" y="541.80" width="23.26" height="23.23" fill="#edf2f5"/>
<rect x="394.76" y="541.80" width="46.23" height="23.23" fill="#d1e5f0"/>
<rect x="440.68" y="541.80" width="23.26" height="23.23" fill="#deebf2"/>
<rect x="463.65" y="541.80" width="23.26" height="23.23" fill="#d1e5f0"/>
<rect x="486.61" y="541.80" width="46.23" height="23.23" fill="#9dcbe1"/>
<rect x="532.54" y="541.80" width="23.26" height="23.23" fill="#fae7dc"/>
<rect x="555.50" y="541.80" width="23.26" height="23.23" fill="#f6b394"/>
<rect x="578.46" y="541.80" width="23.26" height="23.23" fill="#fddcc9"/>
<rect x="601.43" y="541.80" width="23.26" height="23.23" fill="#f6b394"/>
<rect x="624.39" y="541.80" width="23.26" height="23.23" fill="#f9f0eb"/>
<rect x="647.35" y="541.80" width="69.19" height="23.23" fill="#f7f6f6"/>
<rect x="716.24" y="541.80" width="23.26" height="23.23" fill="#d1e5f0"/>
<rect x="739.21" y="541.80" width="23.26" height="23.23" fill="#edf2f5"/>
<rect x="762.17" y="541.80" width="23.26" height="23.23" fill="#9dcbe1"/>
<rect x="785.13" y="541.80" width="23.26" height="23.23" fill="#f7f6f6"/>
<rect x="808.09" y="541.80" width="23.26" height="23.23" fill="#deebf2"/>
<rect x="831.06" y="541.80" width="23.26" height="23.23" fill="#d1e5f0"/>
<rect x="854.02" y="541.80" width="23.26" height="23.23" fill="#edf2f5"/>
<rect x="876.98" y="541.80" width="23.26" height="23.23" fill="#f7f6f6"/>
<rect x="899.95" y="541.80" width="23.26" height="23.23" fill="#fae7dc"/>
<rect x="922.91" y="541.80" width="46.23" height="23.23" fill="#f9f0eb"/>
<rect x="968.84" y="541.80" width="23.26" height="23.23" fill="#d1e5f0"/>
<rect x="119.20" y="564.73" width="46.23" height="23.23" fill="#fddcc9"/>
<rect x="165.13" y="564.73" width="46.23" height="23.23" fill="#fae7dc"/>
<rect x="211.05" y="564.73" width="23.26" height="23.23" fill="#f9f0eb"/>
<rect x="234.02" y="564.73" width="46.23" height="23.23" fill="#fac8af"/>
<rect x="279.94" y="564.73" width="23.26" height="23.23" fill="#deebf2"/>
<rect x="302.91" y="564.73" width="23.26" height="23.23" fill="#f7f6f6"/>
<rect x="325.87" y="564.73" width="23.26" height="23.23" fill="#deebf2"/>
<rect x="348.83" y="564.73" width="23.26" height="23.23" fill="#d1e5f0"/>
<rect x="371.79" y="564.73" width="23.26" height="23.23" fill="#f9f0eb"/>
<rect x="394.76" y="564.73" width="46.23" height="23.23" fill="#deebf2"/>
<rect x="440.68" y="564.73" width="23.26" height="23.23" fill="#edf2f5"/>
<rect x="463.65" y="564.73" width="23.26" height="23.23" fill="#f9f0eb"/>
<rect x="486.61" y="564.73" width="46.23" height="23.23" fill="#deebf2"/>
<rect x="532.54" y="564.73" width="23.26" height="23.23" fill="#edf2f5"/>
<rect x="555.50" y="564.73" width="23.26" height="23.23" fill="#f09c7b"/>
<rect x="578.46" y="564.73" width="23.26" height="23.23" fill="#f6b394"/>
<rect x="601.43" y="564.73" width="23.26" height="23.23" fill="#ab162a"/>
<rect x="624.39" y="564.73" width="46.23" height="23.23" fill="#f7f6f6"/>
<rect x="670.32" y="564.73" width="69.19" height="23.23" fill="#fae7dc"/>
<rect x="739.21" y="564.73" width="23.26" height="23.23" fill="#edf2f5"/>
<rect x="762.17" y="564.73" width="23.26" height="23.23" fill="#deebf2"/>
<rect x="785.13" y="564.73" width="23.26" height="23.23" fill="#f7f6f6"/>
<rect x="808.09" y="564.73" width="23.26" height="23.23" fill="#deebf2"/>
<rect x="831.06" y="564.73" width="23.26" height="23.23" fill="#edf2f5"/>
<rect x="854.02" y="564.73" width="23.26" height="23.23" fill="#fae7dc"/>
<rect x="876.98" y="564.73" width="23.26" height="23.23" fill="#f7f6f6"/>
<rect x="899.95" y="564.73" width="23.26" height="23.23" fill="#fae7dc"/>
<rect x="922.91" y="564.73" width="46.23" height="23.23" fill="#f9f0eb"/>
<rect x="968.84" y="564.73" width="23.26" height="23.23" fill="#d1e5f0"/>
<rect x="119.20" y="587.66" width="46.23" height="23.23" fill="#fac8af"/>
<rect x="165.13" y="587.66" width="23.26" height="23.23" fill="#fae7dc"/>
<rect x="188.09" y="587.66" width="23.26" height="23.23" fill="#f9f0eb"/>
<rect x="211.05" y="587.66" width="23.26" height="23.23" fill="#fae7dc"/>
<rect x="234.02" y="587.66" width="23.26" height="23.23" fill="#fac8af"/>
<rect x="256.98" y="587.66" width="23.26" height="23.23" fill="#f6b394"/>
<rect x="279.94" y="587.66" width="23.26" height="23.23" fill="#edf2f5"/>
<rect x="302.91" y="587.66" width="23.26" height="23.23" fill="#fac8af"/>
<rect x="325.87" y="587.66" width="23.26" height="23.23" fill="#d1e5f0"/>
<rect x="348.83" y="587.66" width="23.26" height="23.23" fill="#edf2f5"/>
<rect x="371.79" y="587.66" width="23.26" height="23.23" fill="#f9f0eb"/>
<rect x="394.76" y="587.66" width="23.26" height="23.23" fill="#edf2f5"/>
<rect x="417.72" y="587.66" width="23.26" height="23.23" fill="#deebf2"/>
<rect x="440.68" y="587.66" width="23.26" height="23.23" fill="#edf2f5"/>
<rect x="463.65" y="587.66" width="69.19" height="23.23" fill="#fae7dc"/>
<rect x="532.54" y="587.66" width="23.26" height="23.23" fill="#b6d7e8"/>
<rect x="555.50" y="587.66" width="46.23" height="23.23" fill="#f6b394"/>
<rect x="601.43" y="587.66" width="23.26" height="23.23" fill="#ab162a"/>
<rect x="624.39" y="587.66" width="23.26" height="23.23" fill="#edf2f5"/>
<rect x="647.35" y="587.66" width="46.23" height="23.23" fill="#f7f6f6"/>
<rect x="693.28" y="587.66" width="46.23" height="23.23" fill="#fae7dc"/>
<rect x="739.21" y="587.66" width="23.26" height="23.23" fill="#deebf2"/>
<rect x="762.17" y="587.66" width="23.26" height="23.23" fill="#f7f6f6"/>
<rect x="785.13" y="587.66" width="46.23" height="23.23" fill="#deebf2"/>
<rect x="831.06" y="587.66" width="23.26" height="23.23" fill="#edf2f5"/>
<rect x="854.02" y="587.66" width="23.26" height="23.23" fill="#fae7dc"/>
<rect x="876.98" y="587.66" width="23.26" height="23.23" fill="#f7f6f6"/>
<rect x="899.95" y="587.66" width="23.26" height="23.23" fill="#f9f0eb"/>
<rect x="922.91" y="587.66" width="46.23" height="23.23" fill="#f7f6f6"/>
<rect x="968.84" y="587.66" width="23.26" height="23.23" fill="#d1e5f0"/>
<rect x="119.20" y="610.59" width="23.26" height="23.23" fill="#fae7dc"/>
<rect x="142.16" y="610.59" width="23.26" height="23.23" fill="#fddcc9"/>
<rect x="165.13" y="610.59" width="23.26" height="23.23" fill="#deebf2"/>
<rect x="188.09" y="610.59" width="46.23" height="23.23" fill="#edf2f5"/>
<rect x="234.02" y="610.59" width="23.26" height="23.23" fill="#d1e5f0"/>
<rect x="256.98" y="610.59" width="23.26" height="23.23" fill="#fae7dc"/>
<rect x="279.94" y="610.59" width="23.26" height="23.23" fill="#edf2f5"/>
<rect x="302.91" y="610.59" width="23.26" height="23.23" fill="#fae7dc"/>
<rect x="325.87" y="610.59" width="23.26" height="23.23" fill="#b6d7e8"/>
<rect x="348.83" y="610.59" width="46.23" height="23.23" fill="#deebf2"/>
<rect x="394.76" y="610.59" width="23.26" height="23.23" fill="#d1e5f0"/>
<rect x="417.72" y="610.59" width="23.26" height="23.23" fill="#b6d7e8"/>
<rect x="440.68" y="610.59" width="23.26" height="23.23" fill="#deebf2"/>
<rect x="463.65" y="610.59" width="23.26" height="23.23" fill="#d1e5f0"/>
<rect x="486.61" y="610.59" width="23.26" height="23.23" fill="#deebf2"/>
<rect x="509.57" y="610.59" width="23.26" height="23.23" fill="#d1e5f0"/>
<rect x="532.54" y="610.59" width="23.26" height="23.23" fill="#68abd0"/>
<rect x="555.50" y="610.59" width="46.23" height="23.23" fill="#edf2f5"/>
<rect x="601.43" y="610.59" width="23.26" height="23.23" fill="#f6b394"/>
<rect x="624.39" y="610.59" width="23.26" height="23.23" fill="#d1e5f0"/>
<rect x="647.35" y="610.59" width="23.26" height="23.23" fill="#edf2f5"/>
<rect x="670.32" y="610.59" width="46.23" height="23.23" fill="#d1e5f0"/>
<rect x="716.24" y="610.59" width="23.26" height="23.23" fill="#edf2f5"/>
<rect x="739.21" y="610.59" width="23.26" height="23.23" fill="#d1e5f0"/>
<rect x="762.17" y="610.59" width="23.26" height="23.23" fill="#f7f6f6"/>
<rect x="785.13" y="610.59" width="46.23" height="23.23" fill="#d1e5f0"/>
<rect x="831.06" y="610.59" width="23.26" height="23.23" fill="#b6d7e8"/>
<rect x="854.02" y="610.59" width="92.15" height="23.23" fill="#edf2f5"/>
<rect x="945.87" y="610.59" width="23.26" height="23.23" fill="#deebf2"/>
<rect x="968.84" y="610.59" width="23.26" height="23.23" fill="#d1e5f0"/>
<rect x="119.20" y="633.51" width="46.23" height="23.23" fill="#edf2f5"/>
<rect x="165.13" y="633.51" width="23.26" height="23.23" fill="#d1e5f0"/>
<rect x="188.09" y="633.51" width="46.23" height="23.23" fill="#edf2f5"/>
<rect x="234.02" y="633.51" width="23.26" height="23.23" fill="#b6d7e8"/>
<rect x="256.98" y="633.51" width="23.26" height="23.23" fill="#deebf2"/>
<rect x="279.94" y="633.51" width="46.23" height="23.23" fill="#edf2f5"/>
<rect x="325.87" y="633.51" width="23.26" height="23.23" fill="#d1e5f0"/>
<rect x="348.83" y="633.51" width="46.23" height="23.23" fill="#deebf2"/>
<rect x="394.76" y="633.51" width="23.26" height="23.23" fill="#edf2f5"/>
<rect x="417.72" y="633.51" width="23.26" height="23.23" fill="#d1e5f0"/>
<rect x="440.68" y="633.51" width="46.23" height="23.23" fill="#b6d7e8"/>
<rect x="486.61" y="633.51" width="23.26" height="23.23" fill="#87beda"/>
<rect x="509.57" y="633.51" width="46.23" height="23.23" fill="#68abd0"/>
<rect x="555.50" y="633.51" width="23.26" height="23.23" fill="#d1e5f0"/>
<rect x="578.46" y="633.51" width="23.26" height="23.23" fill="#68abd0"/>
<rect x="601.43" y="633.51" width="23.26" height="23.23" fill="#edf2f5"/>
<rect x="624.39" y="633.51" width="23.26" height="23.23" fill="#d1e5f0"/>
<rect x="647.35" y="633.51" width="23.26" height="23.23" fill="#edf2f5"/>
<rect x="670.32" y="633.51" width="23.26" height="23.23" fill="#deebf2"/>
<rect x="693.28" y="633.51" width="23.26" height="23.23" fill="#b6d7e8"/>
<rect x="716.24" y="633.51" width="23.26" height="23.23" fill="#edf2f5"/>
<rect x="739.21" y="633.51" width="115.12" height="23.23" fill="#d1e5f0"/>
<rect x="854.02" y="633.51" width="69.19" height="23.23" fill="#edf2f5"/>
<rect x="922.91" y="633.51" width="23.26" height="23.23" fill="#deebf2"/>
<rect x="945.87" y="633.51" width="46.23" height="23.23" fill="#d1e5f0"/>
<rect x="119.20" y="656.44" width="23.26" height="23.23" fill="#f7f6f6"/>
<rect x="142.16" y="656.44" width="23.26" height="23.23" fill="#deebf2"/>
<rect x="165.13" y="656.44" width="23.26" height="23.23" fill="#fae7dc"/>
<rect x="188.09" y="656.44" width="23.26" height="23.23" fill="#f9f0eb"/>
<rect x="211.05" y="656.44" width="23.26" height="23.23" fill="#edf2f5"/>
<rect x="234.02" y="656.44" width="46.23" height="23.23" fill="#deebf2"/>
<rect x="279.94" y="656.44" width="23.26" height="23.23" fill="#edf2f5"/>
<rect x="302.91" y="656.44" width="23.26" height="23.23" fill="#f9f0eb"/>
<rect x="325.87" y="656.44" width="92.15" height="23.23" fill="#edf2f5"/>
<rect x="417.72" y="656.44" width="23.26" height="23.23" fill="#f9f0eb"/>
<rect x="440.68" y="656.44" width="23.26" height="23.23" fill="#edf2f5"/>
<rect x="463.65" y="656.44" width="23.26" height="23.23" fill="#deebf2"/>
<rect x="486.61" y="656.44" width="23.26" height="23.23" fill="#9dcbe1"/>
<rect x="509.57" y="656.44" width="46.23" height="23.23" fill="#b6d7e8"/>
<rect x="555.50" y="656.44" width="23.26" height="23.23" fill="#edf2f5"/>
<rect x="578.46" y="656.44" width="23.26" height="23.23" fill="#68abd0"/>
<rect x="601.43" y="656.44" width="23.26" height="23.23" fill="#408fc1"/>
<rect x="624.39" y="656.44" width="23.26" height="23.23" fill="#deebf2"/>
<rect x="647.35" y="656.44" width="23.26" height="23.23" fill="#edf2f5"/>
<rect x="670.32" y="656.44" width="23.26" height="23.23" fill="#f9f0eb"/>
<rect x="693.28" y="656.44" width="23.26" height="23.23" fill="#d1e5f0"/>
<rect x="716.24" y="656.44" width="115.12" height="23.23" fill="#edf2f5"/>
<rect x="831.06" y="656.44" width="23.26" height="23.23" fill="#deebf2"/>
<rect x="854.02" y="656.44" width="92.15" height="23.23" fill="#edf2f5"/>
<rect x="945.87" y="656.44" width="46.23" height="23.23" fill="#d1e5f0"/>
<rect x="119.20" y="679.37" width="46.23" height="23.23" fill="#fae7dc"/>
<rect x="165.13" y="679.37" width="23.26" height="23.23" fill="#fac8af"/>
<rect x="188.09" y="679.37" width="23.26" height="23.23" fill="#fae7dc"/>
<rect x="211.05" y="679.37" width="46.23" height="23.23" fill="#fddcc9"/>
<rect x="256.98" y="679.37" width="46.23" height="23.23" fill="#fae7dc"/>
<rect x="302.91" y="679.37" width="46.23" height="23.23" fill="#fddcc9"/>
<rect x="348.83" y="679.37" width="23.26" height="23.23" fill="#fae7dc"/>
<rect x="371.79" y="679.37" width="46.23" height="23.23" fill="#fddcc9"/>
<rect x="417.72" y="679.37" width="23.26" height="23.23" fill="#fae7dc"/>
<rect x="440.68" y="679.37" width="46.23" height="23.23" fill="#fddcc9"/>
<rect x="486.61" y="679.37" width="23.26" height="23.23" fill="#f7f6f6"/>
<rect x="509.57" y="679.37" width="23.26" height="23.23" fill="#f9f0eb"/>
<rect x="532.54" y="679.37" width="23.26" height="23.23" fill="#fae7dc"/>
<rect x="555.50" y="679.37" width="23.26" height="23.23" fill="#fddcc9"/>
<rect x="578.46" y="679.37" width="23.26" height="23.23" fill="#deebf2"/>
<rect x="601.43" y="679.37" width="23.26" height="23.23" fill="#b6d7e8"/>
<rect x="624.39" y="679.37" width="23.26" height="23.23" fill="#f9f0eb"/>
<rect x="647.35" y="679.37" width="23.26" height="23.23" fill="#f7f6f6"/>
<rect x="670.32" y="679.37" width="23.26" height="23.23" fill="#fae7dc"/>
<rect x="693.28" y="679.37" width="138.08" height="23.23" fill="#f7f6f6"/>
<rect x="831.06" y="679.37" width="23.26" height="23.23" fill="#edf2f5"/>
<rect x="854.02" y="679.37" width="23.26" height="23.23" fill="#f9f0eb"/>
<rect x="876.98" y="679.37" width="23.26" height="23.23" fill="#f7f6f6"/>
<rect x="899.95" y="679.37" width="23.26" height="23.23" fill="#f9f0eb"/>
<rect x="922.91" y="679.37" width="46.23" height="23.23" fill="#f7f6f6"/>
<rect x="968.84" y="679.37" width="23.26" height="23.23" fill="#edf2f5"/>
<rect x="119.20" y="702.30" width="23.26" height="23.23" fill="#fae7dc"/>
<rect x="142.16" y="702.30" width="23.26" height="23.23" fill="#fddcc9"/>
<rect x="165.13" y="702.30" width="23.26" height="23.23" fill="#fac8af"/>
<rect x="188.09" y="702.30" width="92.15" height="23.23" fill="#fddcc9"/>
<rect x="279.94" y="702.30" width="23.26" height="23.23" fill="#fae7dc"/>
<rect x="302.91" y="702.30" width="92.15" height="23.23" fill="#fddcc9"/>
<rect x="394.76" y="702.30" width="46.23" height="23.23" fill="#fae7dc"/>
<rect x="440.68" y="702.30" width="23.26" height="23.23" fill="#fddcc9"/>
<rect x="463.65" y="702.30" width="23.26" height="23.23" fill="#fac8af"/>
<rect x="486.61" y="702.30" width="23.26" height="23.23" fill="#fddcc9"/>
<rect x="509.57" y="702.30" width="23.26" height="23.23" fill="#fac8af"/>
<rect x="532.54" y="702.30" width="69.19" height="23.23" fill="#fddcc9"/>
<rect x="601.43" y="702.30" width="46.23" height="23.23" fill="#fae7dc"/>
<rect x="647.35" y="702.30" width="23.26" height="23.23" fill="#f7f6f6"/>
<rect x="670.32" y="702.30" width="69.19" height="23.23" fill="#fae7dc"/>
<rect x="739.21" y="702.30" width="115.12" height="23.23" fill="#f7f6f6"/>
<rect x="854.02" y="702.30" width="23.26" height="23.23" fill="#f9f0eb"/>
<rect x="876.98" y="702.30" width="23.26" height="23.23" fill="#f7f6f6"/>
<rect x="899.95" y="702.30" width="23.26" height="23.23" fill="#fae7dc"/>
<rect x="922.91" y="702.30" width="46.23" height="23.23" fill="#f7f6f6"/>
<rect x="968.84" y="702.30" width="23.26" height="23.23" fill="#edf2f5"/>
<rect x="119.20" y="725.23" width="69.19" height="23.23" fill="#f9f0eb"/>
<rect x="188.09" y="725.23" width="23.26" height="23.23" fill="#f7f6f6"/>
<rect x="211.05" y="725.23" width="46.23" height="23.23" fill="#fae7dc"/>
<rect x="256.98" y="725.23" width="23.26" height="23.23" fill="#f9f0eb"/>
<rect x="279.94" y="725.23" width="23.26" height="23.23" fill="#f7f6f6"/>
<rect x="302.91" y="725.23" width="46.23" height="23.23" fill="#f9f0eb"/>
<rect x="348.83" y="725.23" width="23.26" height="23.23" fill="#fae7dc"/>
<rect x="371.79" y="725.23" width="46.23" height="23.23" fill="#f9f0eb"/>
<rect x="417.72" y="725.23" width="69.19" height="23.23" fill="#fae7dc"/>
<rect x="486.61" y="725.23" width="46.23" height="23.23" fill="#fddcc9"/>
<rect x="532.54" y="725.23" width="46.23" height="23.23" fill="#fae7dc"/>
<rect x="578.46" y="725.23" width="23.26" height="23.23" fill="#fddcc9"/>
<rect x="601.43" y="725.23" width="23.26" height="23.23" fill="#fac8af"/>
<rect x="624.39" y="725.23" width="23.26" height="23.23" fill="#f7f6f6"/>
<rect x="647.35" y="725.23" width="23.26" height="23.23" fill="#fae7dc"/>
<rect x="670.32" y="725.23" width="23.26" height="23.23" fill="#f7f6f6"/>
<rect x="693.28" y="725.23" width="23.26" height="23.23" fill="#fae7dc"/>
<rect x="716.24" y="725.23" width="23.26" height="23.23" fill="#f7f6f6"/>
<rect x="739.21" y="725.23" width="23.26" height="23.23" fill="#f9f0eb"/>
<rect x="762.17" y="725.23" width="92.15" height="23.23" fill="#f7f6f6"/>
<rect x="854.02" y="725.23" width="23.26" height="23.23" fill="#f9f0eb"/>
<rect x="876.98" y="725.23" width="23.26" height="23.23" fill="#f7f6f6"/>
<rect x="899.95" y="725.23" width="23.26" height="23.23" fill="#fae7dc"/>
<rect x="922.91" y="725.23" width="46.23" height="23.23" fill="#f7f6f6"/>
<rect x="968.84" y="725.23" width="23.26" height="23.23" fill="#deebf2"/>
<rect x="119.20" y="748.16" width="23.26" height="23.23" fill="#edf2f5"/>
<rect x="142.16" y="748.16" width="23.26" height="23.23" fill="#deebf2"/>
<rect x="165.13" y="748.16" width="92.15" height="23.23" fill="#f7f6f6"/>
<rect x="256.98" y="748.16" width="23.26" height="23.23" fill="#f9f0eb"/>
<rect x="279.94" y="748.16" width="23.26" height="23.23" fill="#fae7dc"/>
<rect x="302.91" y="748.16" width="23.26" height="23.23" fill="#f7f6f6"/>
<rect x="325.87" y="748.16" width="23.26" height="23.23" fill="#edf2f5"/>
<rect x="348.83" y="748.16" width="23.26" height="23.23" fill="#f7f6f6"/>
<rect x="371.79" y="748.16" width="23.26" height="23.23" fill="#edf2f5"/>
<rect x="394.76" y="748.16" width="69.19" height="23.23" fill="#f7f6f6"/>
<rect x="463.65" y="748.16" width="23.26" height="23.23" fill="#edf2f5"/>
<rect x="486.61" y="748.16" width="46.23" height="23.23" fill="#f9f0eb"/>
<rect x="532.54" y="748.16" width="46.23" height="23.23" fill="#f7f6f6"/>
<rect x="578.46" y="748.16" width="23.26" height="23.23" fill="#f9f0eb"/>
<rect x="601.43" y="748.16" width="23.26" height="23.23" fill="#fae7dc"/>
<rect x="624.39" y="748.16" width="23.26" height="23.23" fill="#edf2f5"/>
<rect x="647.35" y="748.16" width="23.26" height="23.23" fill="#fae7dc"/>
<rect x="670.32" y="748.16" width="46.23" height="23.23" fill="#f7f6f6"/>
<rect x="716.24" y="748.16" width="23.26" height="23.23" fill="#edf2f5"/>
<rect x="739.21" y="748.16" width="23.26" height="23.23" fill="#fae7dc"/>
<rect x="762.17" y="748.16" width="23.26" height="23.23" fill="#f7f6f6"/>
<rect x="785.13" y="748.16" width="23.26" height="23.23" fill="#edf2f5"/>
<rect x="808.09" y="748.16" width="23.26" height="23.23" fill="#f7f6f6"/>
<rect x="831.06" y="748.16" width="23.26" height="23.23" fill="#fae7dc"/>
<rect x="854.02" y="748.16" width="23.26" height="23.23" fill="#f9f0eb"/>
<rect x="876.98" y="748.16" width="23.26" height="23.23" fill="#f7f6f6"/>
<rect x="899.95" y="748.16" width="23.26" height="23.23" fill="#fae7dc"/>
<rect x="922.91" y="748.16" width="23.26" height="23.23" fill="#f7f6f6"/>
<rect x="945.87" y="748.16" width="46.23" height="23.23" fill="#deebf2"/>
<rect x="119.20" y="771.09" width="23.26" height="23.23" fill="#edf2f5"/>
<rect x="142.16" y="771.09" width="23.26" height="23.23" fill="#deebf2"/>
<rect x="165.13" y="771.09" width="92.15" height="23.23" fill="#f7f6f6"/>
<rect x="256.98" y="771.09" width="23.26" height="23.23" fill="#edf2f5"/>
<rect x="279.94" y="771.09" width="23.26" height="23.23" fill="#fae7dc"/>
<rect x="302.91" y="771.09" width="69.19" height="23.23" fill="#f7f6f6"/>
<rect x="371.79" y="771.09" width="23.26" height="23.23" fill="#deebf2"/>
<rect x="394.76" y="771.09" width="46.23" height="23.23" fill="#f7f6f6"/>
<rect x="440.68" y="771.09" width="23.26" height="23.23" fill="#edf2f5"/>
<rect x="463.65" y="771.09" width="23.26" height="23.23" fill="#deebf2"/>
<rect x="486.61" y="771.09" width="46.23" height="23.23" fill="#f7f6f6"/>
<rect x="532.54" y="771.09" width="23.26" height="23.23" fill="#edf2f5"/>
<rect x="555.50" y="771.09" width="23.26" height="23.23" fill="#f7f6f6"/>
<rect x="578.46" y="771.09" width="46.23" height="23.23" fill="#edf2f5"/>
<rect x="624.39" y="771.09" width="23.26" height="23.23" fill="#deebf2"/>
<rect x="647.35" y="771.09" width="23.26" height="23.23" fill="#f7f6f6"/>
<rect x="670.32" y="771.09" width="69.19" height="23.23" fill="#edf2f5"/>
<rect x="739.21" y="771.09" width="23.26" height="23.23" fill="#f9f0eb"/>
<rect x="762.17" y="771.09" width="138.08" height="23.23" fill="#f7f6f6"/>
<rect x="899.95" y="771.09" width="23.26" height="23.23" fill="#fae7dc"/>
<rect x="922.91" y="771.09" width="23.26" height="23.23" fill="#f9f0eb"/>
<rect x="945.87" y="771.09" width="23.26" height="23.23" fill="#edf2f5"/>
<rect x="968.84" y="771.09" width="23.26" height="23.23" fill="#deebf2"/>
<rect x="119.20" y="794.01" width="46.23" height="23.23" fill="#f7f6f6"/>
<rect x="165.13" y="794.01" width="23.26" height="23.23" fill="#f9f0eb"/>
<rect x="188.09" y="794.01" width="46.23" height="23.23" fill="#f7f6f6"/>
<rect x="234.02" y="794.01" width="23.26" height="23.23" fill="#fae7dc"/>
<rect x="256.98" y="794.01" width="69.19" height="23.23" fill="#f7f6f6"/>
<rect x="325.87" y="794.01" width="46.23" height="23.23" fill="#f9f0eb"/>
<rect x="371.79" y="794.01" width="46.23" height="23.23" fill="#f7f6f6"/>
<rect x="417.72" y="794.01" width="46.23" height="23.23" fill="#f9f0eb"/>
<rect x="463.65" y="794.01" width="115.12" height="23.23" fill="#f7f6f6"/>
<rect x="578.46" y="794.01" width="23.26" height="23.23" fill="#edf2f5"/>
<rect x="601.43" y="794.01" width="344.75" height="23.23" fill="#f7f6f6"/>
<rect x="945.87" y="794.01" width="46.23" height="23.23" fill="#edf2f5"/>
<rect x="119.20" y="816.94" width="23.26" height="23.23" fill="#fae7dc"/>
<rect x="142.16" y="816.94" width="23.26" height="23.23" fill="#f9f0eb"/>
<rect x="165.13" y="816.94" width="161.04" height="23.23" fill="#f7f6f6"/>
<rect x="325.87" y="816.94" width="46.23" height="23.23" fill="#fae7dc"/>
<rect x="371.79" y="816.94" width="46.23" height="23.23" fill="#f9f0eb"/>
<rect x="417.72" y="816.94" width="23.26" height="23.23" fill="#fae7dc"/>
<rect x="440.68" y="816.94" width="23.26" height="23.23" fill="#f9f0eb"/>
<rect x="463.65" y="816.94" width="23.26" height="23.23" fill="#fae7dc"/>
<rect x="486.61" y="816.94" width="46.23" height="23.23" fill="#f7f6f6"/>
<rect x="532.54" y="816.94" width="23.26" height="23.23" fill="#edf2f5"/>
<rect x="555.50" y="816.94" width="46.23" height="23.23" fill="#f7f6f6"/>
<rect x="601.43" y="816.94" width="23.26" height="23.23" fill="#f9f0eb"/>
<rect x="624.39" y="816.94" width="23.26" height="23.23" fill="#f7f6f6"/>
<rect x="647.35" y="816.94" width="23.26" height="23.23" fill="#f9f0eb"/>
<rect x="670.32" y="816.94" width="23.26" height="23.23" fill="#f7f6f6"/>
<rect x="693.28" y="816.94" width="23.26" height="23.23" fill="#f9f0eb"/>
<rect x="716.24" y="816.94" width="46.23" height="23.23" fill="#f7f6f6"/>
<rect x="762.17" y="816.94" width="23.26" height="23.23" fill="#f9f0eb"/>
<rect x="785.13" y="816.94" width="23.26" height="23.23" fill="#f7f6f6"/>
<rect x="808.09" y="816.94" width="23.26" height="23.23" fill="#f9f0eb"/>
<rect x="831.06" y="816.94" width="69.19" height="23.23" fill="#f7f6f6"/>
<rect x="899.95" y="816.94" width="46.23" height="23.23" fill="#f9f0eb"/>
<rect x="945.87" y="816.94" width="23.26" height="23.23" fill="#f7f6f6"/>
<rect x="968.84" y="816.94" width="23.26" height="23.23" fill="#edf2f5"/>
<rect x="119.20" y="839.87" width="23.26" height="23.23" fill="#f9f0eb"/>
<rect x="142.16" y="839.87" width="23.26" height="23.23" fill="#edf2f5"/>
<rect x="165.13" y="839.87" width="23.26" height="23.23" fill="#f7f6f6"/>
<rect x="188.09" y="839.87" width="23.26" height="23.23" fill="#f9f0eb"/>
<rect x="211.05" y="839.87" width="23.26" height="23.23" fill="#f7f6f6"/>
<rect x="234.02" y="839.87" width="23.26" height="23.23" fill="#edf2f5"/>
<rect x="256.98" y="839.87" width="92.15" height="23.23" fill="#f7f6f6"/>
<rect x="348.83" y="839.87" width="23.26" height="23.23" fill="#f9f0eb"/>
<rect x="371.79" y="839.87" width="23.26" height="23.23" fill="#edf2f5"/>
<rect x="394.76" y="839.87" width="69.19" height="23.23" fill="#f7f6f6"/>
<rect x="463.65" y="839.87" width="69.19" height="23.23" fill="#edf2f5"/>
<rect x="532.54" y="839.87" width="23.26" height="23.23" fill="#deebf2"/>
<rect x="555.50" y="839.87" width="46.23" height="23.23" fill="#f7f6f6"/>
<rect x="601.43" y="839.87" width="23.26" height="23.23" fill="#f9f0eb"/>
<rect x="624.39" y="839.87" width="23.26" height="23.23" fill="#f7f6f6"/>
<rect x="647.35" y="839.87" width="23.26" height="23.23" fill="#f9f0eb"/>
<rect x="670.32" y="839.87" width="46.23" height="23.23" fill="#f7f6f6"/>
<rect x="716.24" y="839.87" width="23.26" height="23.23" fill="#edf2f5"/>
<rect x="739.21" y="839.87" width="115.12" height="23.23" fill="#f7f6f6"/>
<rect x="854.02" y="839.87" width="23.26" height="23.23" fill="#f9f0eb"/>
<rect x="876.98" y="839.87" width="23.26" height="23.23" fill="#f7f6f6"/>
<rect x="899.95" y="839.87" width="23.26" height="23.23" fill="#fae7dc"/>
<rect x="922.91" y="839.87" width="23.26" height="23.23" fill="#f9f0eb"/>
<rect x="945.87" y="839.87" width="46.23" height="23.23" fill="#f7f6f6"/>
<clipPath id="cpc"><rect x="118.75" y="541.35" width="873.50" height="321.90"/></clipPath>
<path d="M119.20 541.80V862.80M142.16 541.80V862.80M165.13 541.80V862.80M188.09 541.80V862.80M211.05 541.80V862.80M234.02 541.80V862.80M256.98 541.80V862.80M279.94 541.80V862.80M302.91 541.80V862.80M325.87 541.80V862.80M348.83 541.80V862.80M371.79 541.80V862.80M394.76 541.80V862.80M417.72 541.80V862.80M440.68 541.80V862.80M463.65 541.80V862.80M486.61 541.80V862.80M509.57 541.80V862.80M532.54 541.80V862.80M555.50 541.80V862.80M578.46 541.80V862.80M601.43 541.80V862.80M624.39 541.80V862.80M647.35 541.80V862.80M670.32 541.80V862.80M693.28 541.80V862.80M716.24 541.80V862.80M739.21 541.80V862.80M762.17 541.80V862.80M785.13 541.80V862.80M808.09 541.80V862.80M831.06 541.80V862.80M854.02 541.80V862.80M876.98 541.80V862.80M899.95 541.80V862.80M922.91 541.80V862.80M945.87 541.80V862.80M968.84 541.80V862.80M991.80 541.80V862.80M119.20 541.80H991.80M119.20 564.73H991.80M119.20 587.66H991.80M119.20 610.59H991.80M119.20 633.51H991.80M119.20 656.44H991.80M119.20 679.37H991.80M119.20 702.30H991.80M119.20 725.23H991.80M119.20 748.16H991.80M119.20 771.09H991.80M119.20 794.01H991.80M119.20 816.94H991.80M119.20 839.87H991.80M119.20 862.80H991.80" stroke="#161616" stroke-width="1.55" fill="none" stroke-linecap="square" clip-path="url(#cpc)"/>
<path d="M125.1 547.7l11.2 11.2m0 -11.2l-11.2 11.2M171.0 547.7l11.2 11.2m0 -11.2l-11.2 11.2M194.0 547.7l11.2 11.2m0 -11.2l-11.2 11.2M216.9 547.7l11.2 11.2m0 -11.2l-11.2 11.2M239.9 547.7l11.2 11.2m0 -11.2l-11.2 11.2M262.9 547.7l11.2 11.2m0 -11.2l-11.2 11.2M285.8 547.7l11.2 11.2m0 -11.2l-11.2 11.2M308.8 547.7l11.2 11.2m0 -11.2l-11.2 11.2M331.8 547.7l11.2 11.2m0 -11.2l-11.2 11.2M377.7 547.7l11.2 11.2m0 -11.2l-11.2 11.2M446.6 547.7l11.2 11.2m0 -11.2l-11.2 11.2M469.5 547.7l11.2 11.2m0 -11.2l-11.2 11.2M538.4 547.7l11.2 11.2m0 -11.2l-11.2 11.2M584.3 547.7l11.2 11.2m0 -11.2l-11.2 11.2M630.3 547.7l11.2 11.2m0 -11.2l-11.2 11.2M653.2 547.7l11.2 11.2m0 -11.2l-11.2 11.2M676.2 547.7l11.2 11.2m0 -11.2l-11.2 11.2M699.2 547.7l11.2 11.2m0 -11.2l-11.2 11.2M722.1 547.7l11.2 11.2m0 -11.2l-11.2 11.2M745.1 547.7l11.2 11.2m0 -11.2l-11.2 11.2M791.0 547.7l11.2 11.2m0 -11.2l-11.2 11.2M814.0 547.7l11.2 11.2m0 -11.2l-11.2 11.2M836.9 547.7l11.2 11.2m0 -11.2l-11.2 11.2M859.9 547.7l11.2 11.2m0 -11.2l-11.2 11.2M882.9 547.7l11.2 11.2m0 -11.2l-11.2 11.2M905.8 547.7l11.2 11.2m0 -11.2l-11.2 11.2M928.8 547.7l11.2 11.2m0 -11.2l-11.2 11.2M951.8 547.7l11.2 11.2m0 -11.2l-11.2 11.2M125.1 570.6l11.2 11.2m0 -11.2l-11.2 11.2M148.0 570.6l11.2 11.2m0 -11.2l-11.2 11.2M171.0 570.6l11.2 11.2m0 -11.2l-11.2 11.2M194.0 570.6l11.2 11.2m0 -11.2l-11.2 11.2M216.9 570.6l11.2 11.2m0 -11.2l-11.2 11.2M239.9 570.6l11.2 11.2m0 -11.2l-11.2 11.2M262.9 570.6l11.2 11.2m0 -11.2l-11.2 11.2M285.8 570.6l11.2 11.2m0 -11.2l-11.2 11.2M308.8 570.6l11.2 11.2m0 -11.2l-11.2 11.2M331.8 570.6l11.2 11.2m0 -11.2l-11.2 11.2M354.7 570.6l11.2 11.2m0 -11.2l-11.2 11.2M377.7 570.6l11.2 11.2m0 -11.2l-11.2 11.2M400.6 570.6l11.2 11.2m0 -11.2l-11.2 11.2M423.6 570.6l11.2 11.2m0 -11.2l-11.2 11.2M446.6 570.6l11.2 11.2m0 -11.2l-11.2 11.2M469.5 570.6l11.2 11.2m0 -11.2l-11.2 11.2M492.5 570.6l11.2 11.2m0 -11.2l-11.2 11.2M515.5 570.6l11.2 11.2m0 -11.2l-11.2 11.2M538.4 570.6l11.2 11.2m0 -11.2l-11.2 11.2M584.3 570.6l11.2 11.2m0 -11.2l-11.2 11.2M630.3 570.6l11.2 11.2m0 -11.2l-11.2 11.2M653.2 570.6l11.2 11.2m0 -11.2l-11.2 11.2M722.1 570.6l11.2 11.2m0 -11.2l-11.2 11.2M745.1 570.6l11.2 11.2m0 -11.2l-11.2 11.2M791.0 570.6l11.2 11.2m0 -11.2l-11.2 11.2M814.0 570.6l11.2 11.2m0 -11.2l-11.2 11.2M836.9 570.6l11.2 11.2m0 -11.2l-11.2 11.2M859.9 570.6l11.2 11.2m0 -11.2l-11.2 11.2M882.9 570.6l11.2 11.2m0 -11.2l-11.2 11.2M905.8 570.6l11.2 11.2m0 -11.2l-11.2 11.2M928.8 570.6l11.2 11.2m0 -11.2l-11.2 11.2M951.8 570.6l11.2 11.2m0 -11.2l-11.2 11.2M125.1 593.5l11.2 11.2m0 -11.2l-11.2 11.2M148.0 593.5l11.2 11.2m0 -11.2l-11.2 11.2M171.0 593.5l11.2 11.2m0 -11.2l-11.2 11.2M194.0 593.5l11.2 11.2m0 -11.2l-11.2 11.2M216.9 593.5l11.2 11.2m0 -11.2l-11.2 11.2M239.9 593.5l11.2 11.2m0 -11.2l-11.2 11.2M262.9 593.5l11.2 11.2m0 -11.2l-11.2 11.2M285.8 593.5l11.2 11.2m0 -11.2l-11.2 11.2M331.8 593.5l11.2 11.2m0 -11.2l-11.2 11.2M354.7 593.5l11.2 11.2m0 -11.2l-11.2 11.2M377.7 593.5l11.2 11.2m0 -11.2l-11.2 11.2M400.6 593.5l11.2 11.2m0 -11.2l-11.2 11.2M423.6 593.5l11.2 11.2m0 -11.2l-11.2 11.2M446.6 593.5l11.2 11.2m0 -11.2l-11.2 11.2M469.5 593.5l11.2 11.2m0 -11.2l-11.2 11.2M492.5 593.5l11.2 11.2m0 -11.2l-11.2 11.2M515.5 593.5l11.2 11.2m0 -11.2l-11.2 11.2M538.4 593.5l11.2 11.2m0 -11.2l-11.2 11.2M584.3 593.5l11.2 11.2m0 -11.2l-11.2 11.2M630.3 593.5l11.2 11.2m0 -11.2l-11.2 11.2M653.2 593.5l11.2 11.2m0 -11.2l-11.2 11.2M676.2 593.5l11.2 11.2m0 -11.2l-11.2 11.2M699.2 593.5l11.2 11.2m0 -11.2l-11.2 11.2M722.1 593.5l11.2 11.2m0 -11.2l-11.2 11.2M745.1 593.5l11.2 11.2m0 -11.2l-11.2 11.2M768.1 593.5l11.2 11.2m0 -11.2l-11.2 11.2M836.9 593.5l11.2 11.2m0 -11.2l-11.2 11.2M859.9 593.5l11.2 11.2m0 -11.2l-11.2 11.2M882.9 593.5l11.2 11.2m0 -11.2l-11.2 11.2M905.8 593.5l11.2 11.2m0 -11.2l-11.2 11.2M928.8 593.5l11.2 11.2m0 -11.2l-11.2 11.2M951.8 593.5l11.2 11.2m0 -11.2l-11.2 11.2M125.1 616.4l11.2 11.2m0 -11.2l-11.2 11.2M148.0 616.4l11.2 11.2m0 -11.2l-11.2 11.2M171.0 616.4l11.2 11.2m0 -11.2l-11.2 11.2M194.0 616.4l11.2 11.2m0 -11.2l-11.2 11.2M216.9 616.4l11.2 11.2m0 -11.2l-11.2 11.2M239.9 616.4l11.2 11.2m0 -11.2l-11.2 11.2M262.9 616.4l11.2 11.2m0 -11.2l-11.2 11.2M285.8 616.4l11.2 11.2m0 -11.2l-11.2 11.2M308.8 616.4l11.2 11.2m0 -11.2l-11.2 11.2M331.8 616.4l11.2 11.2m0 -11.2l-11.2 11.2M354.7 616.4l11.2 11.2m0 -11.2l-11.2 11.2M377.7 616.4l11.2 11.2m0 -11.2l-11.2 11.2M446.6 616.4l11.2 11.2m0 -11.2l-11.2 11.2M469.5 616.4l11.2 11.2m0 -11.2l-11.2 11.2M492.5 616.4l11.2 11.2m0 -11.2l-11.2 11.2M515.5 616.4l11.2 11.2m0 -11.2l-11.2 11.2M561.4 616.4l11.2 11.2m0 -11.2l-11.2 11.2M584.3 616.4l11.2 11.2m0 -11.2l-11.2 11.2M607.3 616.4l11.2 11.2m0 -11.2l-11.2 11.2M653.2 616.4l11.2 11.2m0 -11.2l-11.2 11.2M676.2 616.4l11.2 11.2m0 -11.2l-11.2 11.2M699.2 616.4l11.2 11.2m0 -11.2l-11.2 11.2M722.1 616.4l11.2 11.2m0 -11.2l-11.2 11.2M768.1 616.4l11.2 11.2m0 -11.2l-11.2 11.2M859.9 616.4l11.2 11.2m0 -11.2l-11.2 11.2M882.9 616.4l11.2 11.2m0 -11.2l-11.2 11.2M905.8 616.4l11.2 11.2m0 -11.2l-11.2 11.2M928.8 616.4l11.2 11.2m0 -11.2l-11.2 11.2M125.1 639.4l11.2 11.2m0 -11.2l-11.2 11.2M148.0 639.4l11.2 11.2m0 -11.2l-11.2 11.2M171.0 639.4l11.2 11.2m0 -11.2l-11.2 11.2M194.0 639.4l11.2 11.2m0 -11.2l-11.2 11.2M216.9 639.4l11.2 11.2m0 -11.2l-11.2 11.2M239.9 639.4l11.2 11.2m0 -11.2l-11.2 11.2M262.9 639.4l11.2 11.2m0 -11.2l-11.2 11.2M285.8 639.4l11.2 11.2m0 -11.2l-11.2 11.2M308.8 639.4l11.2 11.2m0 -11.2l-11.2 11.2M354.7 639.4l11.2 11.2m0 -11.2l-11.2 11.2M377.7 639.4l11.2 11.2m0 -11.2l-11.2 11.2M400.6 639.4l11.2 11.2m0 -11.2l-11.2 11.2M607.3 639.4l11.2 11.2m0 -11.2l-11.2 11.2M653.2 639.4l11.2 11.2m0 -11.2l-11.2 11.2M676.2 639.4l11.2 11.2m0 -11.2l-11.2 11.2M722.1 639.4l11.2 11.2m0 -11.2l-11.2 11.2M859.9 639.4l11.2 11.2m0 -11.2l-11.2 11.2M882.9 639.4l11.2 11.2m0 -11.2l-11.2 11.2M905.8 639.4l11.2 11.2m0 -11.2l-11.2 11.2M125.1 662.3l11.2 11.2m0 -11.2l-11.2 11.2M148.0 662.3l11.2 11.2m0 -11.2l-11.2 11.2M171.0 662.3l11.2 11.2m0 -11.2l-11.2 11.2M194.0 662.3l11.2 11.2m0 -11.2l-11.2 11.2M216.9 662.3l11.2 11.2m0 -11.2l-11.2 11.2M239.9 662.3l11.2 11.2m0 -11.2l-11.2 11.2M262.9 662.3l11.2 11.2m0 -11.2l-11.2 11.2M285.8 662.3l11.2 11.2m0 -11.2l-11.2 11.2M308.8 662.3l11.2 11.2m0 -11.2l-11.2 11.2M331.8 662.3l11.2 11.2m0 -11.2l-11.2 11.2M354.7 662.3l11.2 11.2m0 -11.2l-11.2 11.2M377.7 662.3l11.2 11.2m0 -11.2l-11.2 11.2M400.6 662.3l11.2 11.2m0 -11.2l-11.2 11.2M423.6 662.3l11.2 11.2m0 -11.2l-11.2 11.2M446.6 662.3l11.2 11.2m0 -11.2l-11.2 11.2M469.5 662.3l11.2 11.2m0 -11.2l-11.2 11.2M561.4 662.3l11.2 11.2m0 -11.2l-11.2 11.2M653.2 662.3l11.2 11.2m0 -11.2l-11.2 11.2M676.2 662.3l11.2 11.2m0 -11.2l-11.2 11.2M722.1 662.3l11.2 11.2m0 -11.2l-11.2 11.2M745.1 662.3l11.2 11.2m0 -11.2l-11.2 11.2M768.1 662.3l11.2 11.2m0 -11.2l-11.2 11.2M791.0 662.3l11.2 11.2m0 -11.2l-11.2 11.2M814.0 662.3l11.2 11.2m0 -11.2l-11.2 11.2M859.9 662.3l11.2 11.2m0 -11.2l-11.2 11.2M882.9 662.3l11.2 11.2m0 -11.2l-11.2 11.2M905.8 662.3l11.2 11.2m0 -11.2l-11.2 11.2M928.8 662.3l11.2 11.2m0 -11.2l-11.2 11.2M125.1 685.2l11.2 11.2m0 -11.2l-11.2 11.2M148.0 685.2l11.2 11.2m0 -11.2l-11.2 11.2M194.0 685.2l11.2 11.2m0 -11.2l-11.2 11.2M262.9 685.2l11.2 11.2m0 -11.2l-11.2 11.2M354.7 685.2l11.2 11.2m0 -11.2l-11.2 11.2M423.6 685.2l11.2 11.2m0 -11.2l-11.2 11.2M492.5 685.2l11.2 11.2m0 -11.2l-11.2 11.2M515.5 685.2l11.2 11.2m0 -11.2l-11.2 11.2M538.4 685.2l11.2 11.2m0 -11.2l-11.2 11.2M584.3 685.2l11.2 11.2m0 -11.2l-11.2 11.2M607.3 685.2l11.2 11.2m0 -11.2l-11.2 11.2M653.2 685.2l11.2 11.2m0 -11.2l-11.2 11.2M699.2 685.2l11.2 11.2m0 -11.2l-11.2 11.2M722.1 685.2l11.2 11.2m0 -11.2l-11.2 11.2M745.1 685.2l11.2 11.2m0 -11.2l-11.2 11.2M768.1 685.2l11.2 11.2m0 -11.2l-11.2 11.2M791.0 685.2l11.2 11.2m0 -11.2l-11.2 11.2M814.0 685.2l11.2 11.2m0 -11.2l-11.2 11.2M836.9 685.2l11.2 11.2m0 -11.2l-11.2 11.2M859.9 685.2l11.2 11.2m0 -11.2l-11.2 11.2M882.9 685.2l11.2 11.2m0 -11.2l-11.2 11.2M905.8 685.2l11.2 11.2m0 -11.2l-11.2 11.2M928.8 685.2l11.2 11.2m0 -11.2l-11.2 11.2M951.8 685.2l11.2 11.2m0 -11.2l-11.2 11.2M423.6 708.2l11.2 11.2m0 -11.2l-11.2 11.2M653.2 708.2l11.2 11.2m0 -11.2l-11.2 11.2M745.1 708.2l11.2 11.2m0 -11.2l-11.2 11.2M768.1 708.2l11.2 11.2m0 -11.2l-11.2 11.2M814.0 708.2l11.2 11.2m0 -11.2l-11.2 11.2M836.9 708.2l11.2 11.2m0 -11.2l-11.2 11.2M882.9 708.2l11.2 11.2m0 -11.2l-11.2 11.2M928.8 708.2l11.2 11.2m0 -11.2l-11.2 11.2M951.8 708.2l11.2 11.2m0 -11.2l-11.2 11.2M125.1 731.1l11.2 11.2m0 -11.2l-11.2 11.2M148.0 731.1l11.2 11.2m0 -11.2l-11.2 11.2M171.0 731.1l11.2 11.2m0 -11.2l-11.2 11.2M194.0 731.1l11.2 11.2m0 -11.2l-11.2 11.2M216.9 731.1l11.2 11.2m0 -11.2l-11.2 11.2M262.9 731.1l11.2 11.2m0 -11.2l-11.2 11.2M285.8 731.1l11.2 11.2m0 -11.2l-11.2 11.2M308.8 731.1l11.2 11.2m0 -11.2l-11.2 11.2M331.8 731.1l11.2 11.2m0 -11.2l-11.2 11.2M354.7 731.1l11.2 11.2m0 -11.2l-11.2 11.2M377.7 731.1l11.2 11.2m0 -11.2l-11.2 11.2M400.6 731.1l11.2 11.2m0 -11.2l-11.2 11.2M423.6 731.1l11.2 11.2m0 -11.2l-11.2 11.2M469.5 731.1l11.2 11.2m0 -11.2l-11.2 11.2M630.3 731.1l11.2 11.2m0 -11.2l-11.2 11.2M676.2 731.1l11.2 11.2m0 -11.2l-11.2 11.2M722.1 731.1l11.2 11.2m0 -11.2l-11.2 11.2M768.1 731.1l11.2 11.2m0 -11.2l-11.2 11.2M791.0 731.1l11.2 11.2m0 -11.2l-11.2 11.2M814.0 731.1l11.2 11.2m0 -11.2l-11.2 11.2M836.9 731.1l11.2 11.2m0 -11.2l-11.2 11.2M882.9 731.1l11.2 11.2m0 -11.2l-11.2 11.2M928.8 731.1l11.2 11.2m0 -11.2l-11.2 11.2M951.8 731.1l11.2 11.2m0 -11.2l-11.2 11.2M125.1 754.0l11.2 11.2m0 -11.2l-11.2 11.2M171.0 754.0l11.2 11.2m0 -11.2l-11.2 11.2M194.0 754.0l11.2 11.2m0 -11.2l-11.2 11.2M216.9 754.0l11.2 11.2m0 -11.2l-11.2 11.2M239.9 754.0l11.2 11.2m0 -11.2l-11.2 11.2M308.8 754.0l11.2 11.2m0 -11.2l-11.2 11.2M331.8 754.0l11.2 11.2m0 -11.2l-11.2 11.2M354.7 754.0l11.2 11.2m0 -11.2l-11.2 11.2M377.7 754.0l11.2 11.2m0 -11.2l-11.2 11.2M400.6 754.0l11.2 11.2m0 -11.2l-11.2 11.2M423.6 754.0l11.2 11.2m0 -11.2l-11.2 11.2M446.6 754.0l11.2 11.2m0 -11.2l-11.2 11.2M469.5 754.0l11.2 11.2m0 -11.2l-11.2 11.2M492.5 754.0l11.2 11.2m0 -11.2l-11.2 11.2M515.5 754.0l11.2 11.2m0 -11.2l-11.2 11.2M538.4 754.0l11.2 11.2m0 -11.2l-11.2 11.2M561.4 754.0l11.2 11.2m0 -11.2l-11.2 11.2M584.3 754.0l11.2 11.2m0 -11.2l-11.2 11.2M607.3 754.0l11.2 11.2m0 -11.2l-11.2 11.2M676.2 754.0l11.2 11.2m0 -11.2l-11.2 11.2M699.2 754.0l11.2 11.2m0 -11.2l-11.2 11.2M768.1 754.0l11.2 11.2m0 -11.2l-11.2 11.2M791.0 754.0l11.2 11.2m0 -11.2l-11.2 11.2M814.0 754.0l11.2 11.2m0 -11.2l-11.2 11.2M836.9 754.0l11.2 11.2m0 -11.2l-11.2 11.2M882.9 754.0l11.2 11.2m0 -11.2l-11.2 11.2M928.8 754.0l11.2 11.2m0 -11.2l-11.2 11.2M125.1 776.9l11.2 11.2m0 -11.2l-11.2 11.2M171.0 776.9l11.2 11.2m0 -11.2l-11.2 11.2M194.0 776.9l11.2 11.2m0 -11.2l-11.2 11.2M216.9 776.9l11.2 11.2m0 -11.2l-11.2 11.2M239.9 776.9l11.2 11.2m0 -11.2l-11.2 11.2M308.8 776.9l11.2 11.2m0 -11.2l-11.2 11.2M331.8 776.9l11.2 11.2m0 -11.2l-11.2 11.2M354.7 776.9l11.2 11.2m0 -11.2l-11.2 11.2M400.6 776.9l11.2 11.2m0 -11.2l-11.2 11.2M423.6 776.9l11.2 11.2m0 -11.2l-11.2 11.2M492.5 776.9l11.2 11.2m0 -11.2l-11.2 11.2M515.5 776.9l11.2 11.2m0 -11.2l-11.2 11.2M561.4 776.9l11.2 11.2m0 -11.2l-11.2 11.2M653.2 776.9l11.2 11.2m0 -11.2l-11.2 11.2M768.1 776.9l11.2 11.2m0 -11.2l-11.2 11.2M791.0 776.9l11.2 11.2m0 -11.2l-11.2 11.2M814.0 776.9l11.2 11.2m0 -11.2l-11.2 11.2M836.9 776.9l11.2 11.2m0 -11.2l-11.2 11.2M859.9 776.9l11.2 11.2m0 -11.2l-11.2 11.2M882.9 776.9l11.2 11.2m0 -11.2l-11.2 11.2M125.1 799.9l11.2 11.2m0 -11.2l-11.2 11.2M148.0 799.9l11.2 11.2m0 -11.2l-11.2 11.2M194.0 799.9l11.2 11.2m0 -11.2l-11.2 11.2M216.9 799.9l11.2 11.2m0 -11.2l-11.2 11.2M262.9 799.9l11.2 11.2m0 -11.2l-11.2 11.2M285.8 799.9l11.2 11.2m0 -11.2l-11.2 11.2M308.8 799.9l11.2 11.2m0 -11.2l-11.2 11.2M331.8 799.9l11.2 11.2m0 -11.2l-11.2 11.2M354.7 799.9l11.2 11.2m0 -11.2l-11.2 11.2M377.7 799.9l11.2 11.2m0 -11.2l-11.2 11.2M400.6 799.9l11.2 11.2m0 -11.2l-11.2 11.2M469.5 799.9l11.2 11.2m0 -11.2l-11.2 11.2M492.5 799.9l11.2 11.2m0 -11.2l-11.2 11.2M538.4 799.9l11.2 11.2m0 -11.2l-11.2 11.2M561.4 799.9l11.2 11.2m0 -11.2l-11.2 11.2M607.3 799.9l11.2 11.2m0 -11.2l-11.2 11.2M630.3 799.9l11.2 11.2m0 -11.2l-11.2 11.2M653.2 799.9l11.2 11.2m0 -11.2l-11.2 11.2M676.2 799.9l11.2 11.2m0 -11.2l-11.2 11.2M699.2 799.9l11.2 11.2m0 -11.2l-11.2 11.2M722.1 799.9l11.2 11.2m0 -11.2l-11.2 11.2M745.1 799.9l11.2 11.2m0 -11.2l-11.2 11.2M768.1 799.9l11.2 11.2m0 -11.2l-11.2 11.2M791.0 799.9l11.2 11.2m0 -11.2l-11.2 11.2M814.0 799.9l11.2 11.2m0 -11.2l-11.2 11.2M836.9 799.9l11.2 11.2m0 -11.2l-11.2 11.2M859.9 799.9l11.2 11.2m0 -11.2l-11.2 11.2M882.9 799.9l11.2 11.2m0 -11.2l-11.2 11.2M905.8 799.9l11.2 11.2m0 -11.2l-11.2 11.2M928.8 799.9l11.2 11.2m0 -11.2l-11.2 11.2M216.9 822.8l11.2 11.2m0 -11.2l-11.2 11.2M239.9 822.8l11.2 11.2m0 -11.2l-11.2 11.2M262.9 822.8l11.2 11.2m0 -11.2l-11.2 11.2M285.8 822.8l11.2 11.2m0 -11.2l-11.2 11.2M308.8 822.8l11.2 11.2m0 -11.2l-11.2 11.2M354.7 822.8l11.2 11.2m0 -11.2l-11.2 11.2M377.7 822.8l11.2 11.2m0 -11.2l-11.2 11.2M446.6 822.8l11.2 11.2m0 -11.2l-11.2 11.2M492.5 822.8l11.2 11.2m0 -11.2l-11.2 11.2M515.5 822.8l11.2 11.2m0 -11.2l-11.2 11.2M561.4 822.8l11.2 11.2m0 -11.2l-11.2 11.2M584.3 822.8l11.2 11.2m0 -11.2l-11.2 11.2M607.3 822.8l11.2 11.2m0 -11.2l-11.2 11.2M630.3 822.8l11.2 11.2m0 -11.2l-11.2 11.2M653.2 822.8l11.2 11.2m0 -11.2l-11.2 11.2M676.2 822.8l11.2 11.2m0 -11.2l-11.2 11.2M722.1 822.8l11.2 11.2m0 -11.2l-11.2 11.2M745.1 822.8l11.2 11.2m0 -11.2l-11.2 11.2M791.0 822.8l11.2 11.2m0 -11.2l-11.2 11.2M836.9 822.8l11.2 11.2m0 -11.2l-11.2 11.2M859.9 822.8l11.2 11.2m0 -11.2l-11.2 11.2M882.9 822.8l11.2 11.2m0 -11.2l-11.2 11.2M951.8 822.8l11.2 11.2m0 -11.2l-11.2 11.2M148.0 845.7l11.2 11.2m0 -11.2l-11.2 11.2M171.0 845.7l11.2 11.2m0 -11.2l-11.2 11.2M194.0 845.7l11.2 11.2m0 -11.2l-11.2 11.2M216.9 845.7l11.2 11.2m0 -11.2l-11.2 11.2M262.9 845.7l11.2 11.2m0 -11.2l-11.2 11.2M285.8 845.7l11.2 11.2m0 -11.2l-11.2 11.2M308.8 845.7l11.2 11.2m0 -11.2l-11.2 11.2M331.8 845.7l11.2 11.2m0 -11.2l-11.2 11.2M354.7 845.7l11.2 11.2m0 -11.2l-11.2 11.2M400.6 845.7l11.2 11.2m0 -11.2l-11.2 11.2M423.6 845.7l11.2 11.2m0 -11.2l-11.2 11.2M446.6 845.7l11.2 11.2m0 -11.2l-11.2 11.2M469.5 845.7l11.2 11.2m0 -11.2l-11.2 11.2M561.4 845.7l11.2 11.2m0 -11.2l-11.2 11.2M584.3 845.7l11.2 11.2m0 -11.2l-11.2 11.2M607.3 845.7l11.2 11.2m0 -11.2l-11.2 11.2M630.3 845.7l11.2 11.2m0 -11.2l-11.2 11.2M676.2 845.7l11.2 11.2m0 -11.2l-11.2 11.2M699.2 845.7l11.2 11.2m0 -11.2l-11.2 11.2M745.1 845.7l11.2 11.2m0 -11.2l-11.2 11.2M768.1 845.7l11.2 11.2m0 -11.2l-11.2 11.2M791.0 845.7l11.2 11.2m0 -11.2l-11.2 11.2M814.0 845.7l11.2 11.2m0 -11.2l-11.2 11.2M836.9 845.7l11.2 11.2m0 -11.2l-11.2 11.2M882.9 845.7l11.2 11.2m0 -11.2l-11.2 11.2M951.8 845.7l11.2 11.2m0 -11.2l-11.2 11.2M974.7 845.7l11.2 11.2m0 -11.2l-11.2 11.2" stroke="#000" stroke-width="3.2" fill="none"/>
<path d="M130.68 862.80v10.3M245.50 862.80v10.3M360.31 862.80v10.3M475.13 862.80v10.3M589.94 862.80v10.3M704.76 862.80v10.3M819.58 862.80v10.3M934.39 862.80v10.3M119.20 553.26h-10.3M119.20 599.12h-10.3M119.20 644.98h-10.3M119.20 690.84h-10.3M119.20 736.69h-10.3M119.20 782.55h-10.3M119.20 828.41h-10.3" stroke="#000" stroke-width="2.5" fill="none"/>
<text x="130.68" y="897.40" font-size="28.5" text-anchor="middle">1980</text>
<text x="245.50" y="897.40" font-size="28.5" text-anchor="middle">1985</text>
<text x="360.31" y="897.40" font-size="28.5" text-anchor="middle">1990</text>
<text x="475.13" y="897.40" font-size="28.5" text-anchor="middle">1995</text>
<text x="589.94" y="897.40" font-size="28.5" text-anchor="middle">2000</text>
<text x="704.76" y="897.40" font-size="28.5" text-anchor="middle">2005</text>
<text x="819.58" y="897.40" font-size="28.5" text-anchor="middle">2010</text>
<text x="934.39" y="897.40" font-size="28.5" text-anchor="middle">2015</text>
<text x="105.40" y="563.76" font-size="28.5" text-anchor="end">850</text>
<text x="105.40" y="609.62" font-size="28.5" text-anchor="end">750</text>
<text x="105.40" y="655.48" font-size="28.5" text-anchor="end">660</text>
<text x="105.40" y="701.34" font-size="28.5" text-anchor="end">580</text>
<text x="105.40" y="747.19" font-size="28.5" text-anchor="end">520</text>
<text x="105.40" y="793.05" font-size="28.5" text-anchor="end">460</text>
<text x="105.40" y="838.91" font-size="28.5" text-anchor="end">410</text>
<text transform="translate(44.50 705.90) rotate(-90)" font-size="28.5" text-anchor="middle">Potential temperature [K]</text>
<text x="122.80" y="529.40" font-size="35.2">(c)</text>
<text x="552.50" y="530.20" font-size="38.2" text-anchor="middle">ERA-I mean diffs</text>
</g>
<g id="panel-d">
<rect x="1158.30" y="541.80" width="23.26" height="23.23" fill="#85cfba"/>
<rect x="1181.26" y="541.80" width="23.26" height="23.23" fill="#c6e9b4"/>
<rect x="1204.23" y="541.80" width="23.26" height="23.23" fill="#48b9c3"/>
<rect x="1227.19" y="541.80" width="23.26" height="23.23" fill="#85cfba"/>
<rect x="1250.15" y="541.80" width="23.26" height="23.23" fill="#a5dcb7"/>
<rect x="1273.12" y="541.80" width="46.23" height="23.23" fill="#67c4be"/>
<rect x="1319.04" y="541.80" width="23.26" height="23.23" fill="#a5dcb7"/>
<rect x="1342.01" y="541.80" width="23.26" height="23.23" fill="#67c4be"/>
<rect x="1364.97" y="541.80" width="69.19" height="23.23" fill="#85cfba"/>
<rect x="1433.86" y="541.80" width="23.26" height="23.23" fill="#a5dcb7"/>
<rect x="1456.82" y="541.80" width="23.26" height="23.23" fill="#c6e9b4"/>
<rect x="1479.78" y="541.80" width="23.26" height="23.23" fill="#a5dcb7"/>
<rect x="1502.75" y="541.80" width="23.26" height="23.23" fill="#32a6c2"/>
<rect x="1525.71" y="541.80" width="23.26" height="23.23" fill="#a5dcb7"/>
<rect x="1548.67" y="541.80" width="23.26" height="23.23" fill="#48b9c3"/>
<rect x="1571.64" y="541.80" width="46.23" height="23.23" fill="#67c4be"/>
<rect x="1617.56" y="541.80" width="23.26" height="23.23" fill="#a5dcb7"/>
<rect x="1640.53" y="541.80" width="23.26" height="23.23" fill="#32a6c2"/>
<rect x="1663.49" y="541.80" width="46.23" height="23.23" fill="#a5dcb7"/>
<rect x="1709.42" y="541.80" width="46.23" height="23.23" fill="#c6e9b4"/>
<rect x="1755.34" y="541.80" width="23.26" height="23.23" fill="#85cfba"/>
<rect x="1778.31" y="541.80" width="23.26" height="23.23" fill="#a5dcb7"/>
<rect x="1801.27" y="541.80" width="23.26" height="23.23" fill="#85cfba"/>
<rect x="1824.23" y="541.80" width="23.26" height="23.23" fill="#d9f0b3"/>
<rect x="1847.19" y="541.80" width="23.26" height="23.23" fill="#a5dcb7"/>
<rect x="1870.16" y="541.80" width="23.26" height="23.23" fill="#85cfba"/>
<rect x="1893.12" y="541.80" width="46.23" height="23.23" fill="#d9f0b3"/>
<rect x="1939.05" y="541.80" width="23.26" height="23.23" fill="#c6e9b4"/>
<rect x="1962.01" y="541.80" width="23.26" height="23.23" fill="#d9f0b3"/>
<rect x="1984.97" y="541.80" width="23.26" height="23.23" fill="#c6e9b4"/>
<rect x="2007.94" y="541.80" width="23.26" height="23.23" fill="#a5dcb7"/>
<rect x="1158.30" y="564.73" width="23.26" height="23.23" fill="#48b9c3"/>
<rect x="1181.26" y="564.73" width="23.26" height="23.23" fill="#85cfba"/>
<rect x="1204.23" y="564.73" width="23.26" height="23.23" fill="#48b9c3"/>
<rect x="1227.19" y="564.73" width="46.23" height="23.23" fill="#67c4be"/>
<rect x="1273.12" y="564.73" width="46.23" height="23.23" fill="#32a6c2"/>
<rect x="1319.04" y="564.73" width="23.26" height="23.23" fill="#c6e9b4"/>
<rect x="1342.01" y="564.73" width="23.26" height="23.23" fill="#85cfba"/>
<rect x="1364.97" y="564.73" width="46.23" height="23.23" fill="#67c4be"/>
<rect x="1410.89" y="564.73" width="69.19" height="23.23" fill="#a5dcb7"/>
<rect x="1479.78" y="564.73" width="23.26" height="23.23" fill="#85cfba"/>
<rect x="1502.75" y="564.73" width="23.26" height="23.23" fill="#48b9c3"/>
<rect x="1525.71" y="564.73" width="23.26" height="23.23" fill="#85cfba"/>
<rect x="1548.67" y="564.73" width="23.26" height="23.23" fill="#32a6c2"/>
<rect x="1571.64" y="564.73" width="23.26" height="23.23" fill="#1f93c0"/>
<rect x="1594.60" y="564.73" width="23.26" height="23.23" fill="#32a6c2"/>
<rect x="1617.56" y="564.73" width="23.26" height="23.23" fill="#1f93c0"/>
<rect x="1640.53" y="564.73" width="23.26" height="23.23" fill="#22328f"/>
<rect x="1663.49" y="564.73" width="23.26" height="23.23" fill="#a5dcb7"/>
<rect x="1686.45" y="564.73" width="92.15" height="23.23" fill="#c6e9b4"/>
<rect x="1778.31" y="564.73" width="46.23" height="23.23" fill="#a5dcb7"/>
<rect x="1824.23" y="564.73" width="23.26" height="23.23" fill="#d9f0b3"/>
<rect x="1847.19" y="564.73" width="46.23" height="23.23" fill="#a5dcb7"/>
<rect x="1893.12" y="564.73" width="23.26" height="23.23" fill="#c6e9b4"/>
<rect x="1916.08" y="564.73" width="23.26" height="23.23" fill="#d9f0b3"/>
<rect x="1939.05" y="564.73" width="46.23" height="23.23" fill="#c6e9b4"/>
<rect x="1984.97" y="564.73" width="23.26" height="23.23" fill="#a5dcb7"/>
<rect x="2007.94" y="564.73" width="23.26" height="23.23" fill="#c6e9b4"/>
<rect x="1158.30" y="587.66" width="23.26" height="23.23" fill="#48b9c3"/>
<rect x="1181.26" y="587.66" width="69.19" height="23.23" fill="#32a6c2"/>
<rect x="1250.15" y="587.66" width="23.26" height="23.23" fill="#85cfba"/>
<rect x="1273.12" y="587.66" width="23.26" height="23.23" fill="#48b9c3"/>
<rect x="1296.08" y="587.66" width="23.26" height="23.23" fill="#2075b3"/>
<rect x="1319.04" y="587.66" width="23.26" height="23.23" fill="#c6e9b4"/>
<rect x="1342.01" y="587.66" width="23.26" height="23.23" fill="#67c4be"/>
<rect x="1364.97" y="587.66" width="23.26" height="23.23" fill="#32a6c2"/>
<rect x="1387.93" y="587.66" width="23.26" height="23.23" fill="#48b9c3"/>
<rect x="1410.89" y="587.66" width="23.26" height="23.23" fill="#c6e9b4"/>
<rect x="1433.86" y="587.66" width="46.23" height="23.23" fill="#a5dcb7"/>
<rect x="1479.78" y="587.66" width="23.26" height="23.23" fill="#67c4be"/>
<rect x="1502.75" y="587.66" width="46.23" height="23.23" fill="#48b9c3"/>
<rect x="1548.67" y="587.66" width="23.26" height="23.23" fill="#22328f"/>
<rect x="1571.64" y="587.66" width="23.26" height="23.23" fill="#2356a4"/>
<rect x="1594.60" y="587.66" width="23.26" height="23.23" fill="#67c4be"/>
<rect x="1617.56" y="587.66" width="23.26" height="23.23" fill="#2356a4"/>
<rect x="1640.53" y="587.66" width="23.26" height="23.23" fill="#0c2060"/>
<rect x="1663.49" y="587.66" width="23.26" height="23.23" fill="#c6e9b4"/>
<rect x="1686.45" y="587.66" width="23.26" height="23.23" fill="#a5dcb7"/>
<rect x="1709.42" y="587.66" width="23.26" height="23.23" fill="#c6e9b4"/>
<rect x="1732.38" y="587.66" width="23.26" height="23.23" fill="#85cfba"/>
<rect x="1755.34" y="587.66" width="23.26" height="23.23" fill="#a5dcb7"/>
<rect x="1778.31" y="587.66" width="23.26" height="23.23" fill="#c6e9b4"/>
<rect x="1801.27" y="587.66" width="23.26" height="23.23" fill="#a5dcb7"/>
<rect x="1824.23" y="587.66" width="46.23" height="23.23" fill="#c6e9b4"/>
<rect x="1870.16" y="587.66" width="23.26" height="23.23" fill="#a5dcb7"/>
<rect x="1893.12" y="587.66" width="23.26" height="23.23" fill="#c6e9b4"/>
<rect x="1916.08" y="587.66" width="23.26" height="23.23" fill="#d9f0b3"/>
<rect x="1939.05" y="587.66" width="69.19" height="23.23" fill="#c6e9b4"/>
<rect x="2007.94" y="587.66" width="23.26" height="23.23" fill="#a5dcb7"/>
<rect x="1158.30" y="610.59" width="23.26" height="23.23" fill="#48b9c3"/>
<rect x="1181.26" y="610.59" width="23.26" height="23.23" fill="#32a6c2"/>
<rect x="1204.23" y="610.59" width="23.26" height="23.23" fill="#67c4be"/>
<rect x="1227.19" y="610.59" width="23.26" height="23.23" fill="#85cfba"/>
<rect x="1250.15" y="610.59" width="46.23" height="23.23" fill="#c6e9b4"/>
<rect x="1296.08" y="610.59" width="23.26" height="23.23" fill="#2075b3"/>
<rect x="1319.04" y="610.59" width="23.26" height="23.23" fill="#c6e9b4"/>
<rect x="1342.01" y="610.59" width="23.26" height="23.23" fill="#a5dcb7"/>
<rect x="1364.97" y="610.59" width="23.26" height="23.23" fill="#67c4be"/>
<rect x="1387.93" y="610.59" width="23.26" height="23.23" fill="#85cfba"/>
<rect x="1410.89" y="610.59" width="69.19" height="23.23" fill="#c6e9b4"/>
<rect x="1479.78" y="610.59" width="69.19" height="23.23" fill="#67c4be"/>
<rect x="1548.67" y="610.59" width="46.23" height="23.23" fill="#1f93c0"/>
<rect x="1594.60" y="610.59" width="23.26" height="23.23" fill="#d9f0b3"/>
<rect x="1617.56" y="610.59" width="23.26" height="23.23" fill="#32a6c2"/>
<rect x="1640.53" y="610.59" width="23.26" height="23.23" fill="#22328f"/>
<rect x="1663.49" y="610.59" width="23.26" height="23.23" fill="#d9f0b3"/>
<rect x="1686.45" y="610.59" width="23.26" height="23.23" fill="#c6e9b4"/>
<rect x="1709.42" y="610.59" width="46.23" height="23.23" fill="#a5dcb7"/>
<rect x="1755.34" y="610.59" width="23.26" height="23.23" fill="#c6e9b4"/>
<rect x="1778.31" y="610.59" width="23.26" height="23.23" fill="#a5dcb7"/>
<rect x="1801.27" y="610.59" width="69.19" height="23.23" fill="#c6e9b4"/>
<rect x="1870.16" y="610.59" width="23.26" height="23.23" fill="#85cfba"/>
<rect x="1893.12" y="610.59" width="138.08" height="23.23" fill="#c6e9b4"/>
<rect x="1158.30" y="633.51" width="23.26" height="23.23" fill="#a5dcb7"/>
<rect x="1181.26" y="633.51" width="23.26" height="23.23" fill="#85cfba"/>
<rect x="1204.23" y="633.51" width="46.23" height="23.23" fill="#a5dcb7"/>
<rect x="1250.15" y="633.51" width="23.26" height="23.23" fill="#c6e9b4"/>
<rect x="1273.12" y="633.51" width="46.23" height="23.23" fill="#67c4be"/>
<rect x="1319.04" y="633.51" width="23.26" height="23.23" fill="#d9f0b3"/>
<rect x="1342.01" y="633.51" width="46.23" height="23.23" fill="#a5dcb7"/>
<rect x="1387.93" y="633.51" width="23.26" height="23.23" fill="#67c4be"/>
<rect x="1410.89" y="633.51" width="69.19" height="23.23" fill="#d9f0b3"/>
<rect x="1479.78" y="633.51" width="23.26" height="23.23" fill="#a5dcb7"/>
<rect x="1502.75" y="633.51" width="23.26" height="23.23" fill="#85cfba"/>
<rect x="1525.71" y="633.51" width="46.23" height="23.23" fill="#a5dcb7"/>
<rect x="1571.64" y="633.51" width="23.26" height="23.23" fill="#85cfba"/>
<rect x="1594.60" y="633.51" width="23.26" height="23.23" fill="#a5dcb7"/>
<rect x="1617.56" y="633.51" width="23.26" height="23.23" fill="#85cfba"/>
<rect x="1640.53" y="633.51" width="23.26" height="23.23" fill="#32a6c2"/>
<rect x="1663.49" y="633.51" width="23.26" height="23.23" fill="#d9f0b3"/>
<rect x="1686.45" y="633.51" width="46.23" height="23.23" fill="#c6e9b4"/>
<rect x="1732.38" y="633.51" width="46.23" height="23.23" fill="#a5dcb7"/>
<rect x="1778.31" y="633.51" width="92.15" height="23.23" fill="#c6e9b4"/>
<rect x="1870.16" y="633.51" width="23.26" height="23.23" fill="#a5dcb7"/>
<rect x="1893.12" y="633.51" width="138.08" height="23.23" fill="#c6e9b4"/>
<rect x="1158.30" y="656.44" width="23.26" height="23.23" fill="#a5dcb7"/>
<rect x="1181.26" y="656.44" width="46.23" height="23.23" fill="#c6e9b4"/>
<rect x="1227.19" y="656.44" width="23.26" height="23.23" fill="#85cfba"/>
<rect x="1250.15" y="656.44" width="23.26" height="23.23" fill="#c6e9b4"/>
<rect x="1273.12" y="656.44" width="46.23" height="23.23" fill="#a5dcb7"/>
<rect x="1319.04" y="656.44" width="23.26" height="23.23" fill="#d9f0b3"/>
<rect x="1342.01" y="656.44" width="23.26" height="23.23" fill="#c6e9b4"/>
<rect x="1364.97" y="656.44" width="23.26" height="23.23" fill="#a5dcb7"/>
<rect x="1387.93" y="656.44" width="23.26" height="23.23" fill="#85cfba"/>
<rect x="1410.89" y="656.44" width="23.26" height="23.23" fill="#c6e9b4"/>
<rect x="1433.86" y="656.44" width="23.26" height="23.23" fill="#d9f0b3"/>
<rect x="1456.82" y="656.44" width="46.23" height="23.23" fill="#c6e9b4"/>
<rect x="1502.75" y="656.44" width="23.26" height="23.23" fill="#a5dcb7"/>
<rect x="1525.71" y="656.44" width="46.23" height="23.23" fill="#c6e9b4"/>
<rect x="1571.64" y="656.44" width="23.26" height="23.23" fill="#a5dcb7"/>
<rect x="1594.60" y="656.44" width="23.26" height="23.23" fill="#c6e9b4"/>
<rect x="1617.56" y="656.44" width="23.26" height="23.23" fill="#1f93c0"/>
<rect x="1640.53" y="656.44" width="23.26" height="23.23" fill="#2356a4"/>
<rect x="1663.49" y="656.44" width="23.26" height="23.23" fill="#d9f0b3"/>
<rect x="1686.45" y="656.44" width="46.23" height="23.23" fill="#c6e9b4"/>
<rect x="1732.38" y="656.44" width="23.26" height="23.23" fill="#85cfba"/>
<rect x="1755.34" y="656.44" width="23.26" height="23.23" fill="#a5dcb7"/>
<rect x="1778.31" y="656.44" width="46.23" height="23.23" fill="#c6e9b4"/>
<rect x="1824.23" y="656.44" width="23.26" height="23.23" fill="#d9f0b3"/>
<rect x="1847.19" y="656.44" width="46.23" height="23.23" fill="#c6e9b4"/>
<rect x="1893.12" y="656.44" width="46.23" height="23.23" fill="#d9f0b3"/>
<rect x="1939.05" y="656.44" width="23.26" height="23.23" fill="#c6e9b4"/>
<rect x="1962.01" y="656.44" width="23.26" height="23.23" fill="#d9f0b3"/>
<rect x="1984.97" y="656.44" width="46.23" height="23.23" fill="#c6e9b4"/>
<rect x="1158.30" y="679.37" width="69.19" height="23.23" fill="#c6e9b4"/>
<rect x="1227.19" y="679.37" width="23.26" height="23.23" fill="#a5dcb7"/>
<rect x="1250.15" y="679.37" width="23.26" height="23.23" fill="#d9f0b3"/>
<rect x="1273.12" y="679.37" width="46.23" height="23.23" fill="#c6e9b4"/>
<rect x="1319.04" y="679.37" width="46.23" height="23.23" fill="#d9f0b3"/>
<rect x="1364.97" y="679.37" width="69.19" height="23.23" fill="#c6e9b4"/>
<rect x="1433.86" y="679.37" width="23.26" height="23.23" fill="#d9f0b3"/>
<rect x="1456.82" y="679.37" width="46.23" height="23.23" fill="#c6e9b4"/>
<rect x="1502.75" y="679.37" width="23.26" height="23.23" fill="#a5dcb7"/>
<rect x="1525.71" y="679.37" width="23.26" height="23.23" fill="#d9f0b3"/>
<rect x="1548.67" y="679.37" width="46.23" height="23.23" fill="#c6e9b4"/>
<rect x="1594.60" y="679.37" width="23.26" height="23.23" fill="#d9f0b3"/>
<rect x="1617.56" y="679.37" width="23.26" height="23.23" fill="#85cfba"/>
<rect x="1640.53" y="679.37" width="23.26" height="23.23" fill="#48b9c3"/>
<rect x="1663.49" y="679.37" width="184.01" height="23.23" fill="#d9f0b3"/>
<rect x="1847.19" y="679.37" width="46.23" height="23.23" fill="#c6e9b4"/>
<rect x="1893.12" y="679.37" width="23.26" height="23.23" fill="#d9f0b3"/>
<rect x="1916.08" y="679.37" width="23.26" height="23.23" fill="#eaf7b1"/>
<rect x="1939.05" y="679.37" width="92.15" height="23.23" fill="#d9f0b3"/>
<rect x="1158.30" y="702.30" width="161.04" height="23.23" fill="#d9f0b3"/>
<rect x="1319.04" y="702.30" width="23.26" height="23.23" fill="#eaf7b1"/>
<rect x="1342.01" y="702.30" width="46.23" height="23.23" fill="#d9f0b3"/>
<rect x="1387.93" y="702.30" width="23.26" height="23.23" fill="#c6e9b4"/>
<rect x="1410.89" y="702.30" width="46.23" height="23.23" fill="#d9f0b3"/>
<rect x="1456.82" y="702.30" width="23.26" height="23.23" fill="#c6e9b4"/>
<rect x="1479.78" y="702.30" width="69.19" height="23.23" fill="#d9f0b3"/>
<rect x="1548.67" y="702.30" width="23.26" height="23.23" fill="#eaf7b1"/>
<rect x="1571.64" y="702.30" width="161.04" height="23.23" fill="#d9f0b3"/>
<rect x="1732.38" y="702.30" width="23.26" height="23.23" fill="#c6e9b4"/>
<rect x="1755.34" y="702.30" width="69.19" height="23.23" fill="#d9f0b3"/>
<rect x="1824.23" y="702.30" width="23.26" height="23.23" fill="#eaf7b1"/>
<rect x="1847.19" y="702.30" width="46.23" height="23.23" fill="#d9f0b3"/>
<rect x="1893.12" y="702.30" width="46.23" height="23.23" fill="#eaf7b1"/>
<rect x="1939.05" y="702.30" width="92.15" height="23.23" fill="#d9f0b3"/>
<rect x="1158.30" y="725.23" width="23.26" height="23.23" fill="#eaf7b1"/>
<rect x="1181.26" y="725.23" width="138.08" height="23.23" fill="#d9f0b3"/>
<rect x="1319.04" y="725.23" width="46.23" height="23.23" fill="#eaf7b1"/>
<rect x="1364.97" y="725.23" width="23.26" height="23.23" fill="#d9f0b3"/>
<rect x="1387.93" y="725.23" width="23.26" height="23.23" fill="#c6e9b4"/>
<rect x="1410.89" y="725.23" width="23.26" height="23.23" fill="#d9f0b3"/>
<rect x="1433.86" y="725.23" width="23.26" height="23.23" fill="#eaf7b1"/>
<rect x="1456.82" y="725.23" width="23.26" height="23.23" fill="#d9f0b3"/>
<rect x="1479.78" y="725.23" width="23.26" height="23.23" fill="#eaf7b1"/>
<rect x="1502.75" y="725.23" width="46.23" height="23.23" fill="#d9f0b3"/>
<rect x="1548.67" y="725.23" width="23.26" height="23.23" fill="#eaf7b1"/>
<rect x="1571.64" y="725.23" width="23.26" height="23.23" fill="#d9f0b3"/>
<rect x="1594.60" y="725.23" width="23.26" height="23.23" fill="#eaf7b1"/>
<rect x="1617.56" y="725.23" width="23.26" height="23.23" fill="#d9f0b3"/>
<rect x="1640.53" y="725.23" width="23.26" height="23.23" fill="#a5dcb7"/>
<rect x="1663.49" y="725.23" width="69.19" height="23.23" fill="#eaf7b1"/>
<rect x="1732.38" y="725.23" width="46.23" height="23.23" fill="#d9f0b3"/>
<rect x="1778.31" y="725.23" width="92.15" height="23.23" fill="#eaf7b1"/>
<rect x="1870.16" y="725.23" width="23.26" height="23.23" fill="#d9f0b3"/>
<rect x="1893.12" y="725.23" width="46.23" height="23.23" fill="#eaf7b1"/>
<rect x="1939.05" y="725.23" width="23.26" height="23.23" fill="#d9f0b3"/>
<rect x="1962.01" y="725.23" width="69.19" height="23.23" fill="#eaf7b1"/>
<rect x="1158.30" y="748.16" width="161.04" height="23.23" fill="#eaf7b1"/>
<rect x="1319.04" y="748.16" width="23.26" height="23.23" fill="#d9f0b3"/>
<rect x="1342.01" y="748.16" width="161.04" height="23.23" fill="#eaf7b1"/>
<rect x="1502.75" y="748.16" width="23.26" height="23.23" fill="#d9f0b3"/>
<rect x="1525.71" y="748.16" width="115.12" height="23.23" fill="#eaf7b1"/>
<rect x="1640.53" y="748.16" width="23.26" height="23.23" fill="#a5dcb7"/>
<rect x="1663.49" y="748.16" width="115.12" height="23.23" fill="#eaf7b1"/>
<rect x="1778.31" y="748.16" width="23.26" height="23.23" fill="#d9f0b3"/>
<rect x="1801.27" y="748.16" width="69.19" height="23.23" fill="#eaf7b1"/>
<rect x="1870.16" y="748.16" width="23.26" height="23.23" fill="#d9f0b3"/>
<rect x="1893.12" y="748.16" width="46.23" height="23.23" fill="#eaf7b1"/>
<rect x="1939.05" y="748.16" width="46.23" height="23.23" fill="#d9f0b3"/>
<rect x="1984.97" y="748.16" width="46.23" height="23.23" fill="#eaf7b1"/>
<rect x="1158.30" y="771.09" width="46.23" height="23.23" fill="#eaf7b1"/>
<rect x="1204.23" y="771.09" width="23.26" height="23.23" fill="#f4fbc0"/>
<rect x="1227.19" y="771.09" width="115.12" height="23.23" fill="#eaf7b1"/>
<rect x="1342.01" y="771.09" width="23.26" height="23.23" fill="#f4fbc0"/>
<rect x="1364.97" y="771.09" width="115.12" height="23.23" fill="#eaf7b1"/>
<rect x="1479.78" y="771.09" width="23.26" height="23.23" fill="#f4fbc0"/>
<rect x="1502.75" y="771.09" width="23.26" height="23.23" fill="#d9f0b3"/>
<rect x="1525.71" y="771.09" width="23.26" height="23.23" fill="#eaf7b1"/>
<rect x="1548.67" y="771.09" width="23.26" height="23.23" fill="#f4fbc0"/>
<rect x="1571.64" y="771.09" width="23.26" height="23.23" fill="#eaf7b1"/>
<rect x="1594.60" y="771.09" width="23.26" height="23.23" fill="#f4fbc0"/>
<rect x="1617.56" y="771.09" width="46.23" height="23.23" fill="#eaf7b1"/>
<rect x="1663.49" y="771.09" width="23.26" height="23.23" fill="#f4fbc0"/>
<rect x="1686.45" y="771.09" width="206.97" height="23.23" fill="#eaf7b1"/>
<rect x="1893.12" y="771.09" width="46.23" height="23.23" fill="#f4fbc0"/>
<rect x="1939.05" y="771.09" width="92.15" height="23.23" fill="#eaf7b1"/>
<rect x="1158.30" y="794.01" width="23.26" height="23.23" fill="#f4fbc0"/>
<rect x="1181.26" y="794.01" width="23.26" height="23.23" fill="#eaf7b1"/>
<rect x="1204.23" y="794.01" width="46.23" height="23.23" fill="#f4fbc0"/>
<rect x="1250.15" y="794.01" width="23.26" height="23.23" fill="#eaf7b1"/>
<rect x="1273.12" y="794.01" width="115.12" height="23.23" fill="#f4fbc0"/>
<rect x="1387.93" y="794.01" width="46.23" height="23.23" fill="#eaf7b1"/>
<rect x="1433.86" y="794.01" width="23.26" height="23.23" fill="#f4fbc0"/>
<rect x="1456.82" y="794.01" width="23.26" height="23.23" fill="#eaf7b1"/>
<rect x="1479.78" y="794.01" width="23.26" height="23.23" fill="#f4fbc0"/>
<rect x="1502.75" y="794.01" width="23.26" height="23.23" fill="#eaf7b1"/>
<rect x="1525.71" y="794.01" width="298.82" height="23.23" fill="#f4fbc0"/>
<rect x="1824.23" y="794.01" width="69.19" height="23.23" fill="#eaf7b1"/>
<rect x="1893.12" y="794.01" width="138.08" height="23.23" fill="#f4fbc0"/>
<rect x="1158.30" y="816.94" width="138.08" height="23.23" fill="#f4fbc0"/>
<rect x="1296.08" y="816.94" width="23.26" height="23.23" fill="#eaf7b1"/>
<rect x="1319.04" y="816.94" width="344.75" height="23.23" fill="#f4fbc0"/>
<rect x="1663.49" y="816.94" width="23.26" height="23.23" fill="#fcfed1"/>
<rect x="1686.45" y="816.94" width="321.78" height="23.23" fill="#f4fbc0"/>
<rect x="2007.94" y="816.94" width="23.26" height="23.23" fill="#fcfed1"/>
<rect x="1158.30" y="839.87" width="138.08" height="23.23" fill="#f4fbc0"/>
<rect x="1296.08" y="839.87" width="23.26" height="23.23" fill="#eaf7b1"/>
<rect x="1319.04" y="839.87" width="46.23" height="23.23" fill="#f4fbc0"/>
<rect x="1364.97" y="839.87" width="23.26" height="23.23" fill="#eaf7b1"/>
<rect x="1387.93" y="839.87" width="184.01" height="23.23" fill="#f4fbc0"/>
<rect x="1571.64" y="839.87" width="23.26" height="23.23" fill="#eaf7b1"/>
<rect x="1594.60" y="839.87" width="69.19" height="23.23" fill="#f4fbc0"/>
<rect x="1663.49" y="839.87" width="23.26" height="23.23" fill="#fcfed1"/>
<rect x="1686.45" y="839.87" width="69.19" height="23.23" fill="#f4fbc0"/>
<rect x="1755.34" y="839.87" width="23.26" height="23.23" fill="#fcfed1"/>
<rect x="1778.31" y="839.87" width="252.89" height="23.23" fill="#f4fbc0"/>
<clipPath id="cpd"><rect x="1157.85" y="541.35" width="873.50" height="321.90"/></clipPath>
<path d="M1158.30 541.80V862.80M1181.26 541.80V862.80M1204.23 541.80V862.80M1227.19 541.80V862.80M1250.15 541.80V862.80M1273.12 541.80V862.80M1296.08 541.80V862.80M1319.04 541.80V862.80M1342.01 541.80V862.80M1364.97 541.80V862.80M1387.93 541.80V862.80M1410.89 541.80V862.80M1433.86 541.80V862.80M1456.82 541.80V862.80M1479.78 541.80V862.80M1502.75 541.80V862.80M1525.71 541.80V862.80M1548.67 541.80V862.80M1571.64 541.80V862.80M1594.60 541.80V862.80M1617.56 541.80V862.80M1640.53 541.80V862.80M1663.49 541.80V862.80M1686.45 541.80V862.80M1709.42 541.80V862.80M1732.38 541.80V862.80M1755.34 541.80V862.80M1778.31 541.80V862.80M1801.27 541.80V862.80M1824.23 541.80V862.80M1847.19 541.80V862.80M1870.16 541.80V862.80M1893.12 541.80V862.80M1916.08 541.80V862.80M1939.05 541.80V862.80M1962.01 541.80V862.80M1984.97 541.80V862.80M2007.94 541.80V862.80M2030.90 541.80V862.80M1158.30 541.80H2030.90M1158.30 564.73H2030.90M1158.30 587.66H2030.90M1158.30 610.59H2030.90M1158.30 633.51H2030.90M1158.30 656.44H2030.90M1158.30 679.37H2030.90M1158.30 702.30H2030.90M1158.30 725.23H2030.90M1158.30 748.16H2030.90M1158.30 771.09H2030.90M1158.30 794.01H2030.90M1158.30 816.94H2030.90M1158.30 839.87H2030.90M1158.30 862.80H2030.90" stroke="#161616" stroke-width="1.55" fill="none" stroke-linecap="square" clip-path="url(#cpd)"/>
<path d="M1169.78 862.80v10.3M1284.60 862.80v10.3M1399.41 862.80v10.3M1514.23 862.80v10.3M1629.04 862.80v10.3M1743.86 862.80v10.3M1858.68 862.80v10.3M1973.49 862.80v10.3M1158.30 553.26h-10.3M1158.30 599.12h-10.3M1158.30 644.98h-10.3M1158.30 690.84h-10.3M1158.30 736.69h-10.3M1158.30 782.55h-10.3M1158.30 828.41h-10.3" stroke="#000" stroke-width="2.5" fill="none"/>
<text x="1169.78" y="897.40" font-size="28.5" text-anchor="middle">1980</text>
<text x="1284.60" y="897.40" font-size="28.5" text-anchor="middle">1985</text>
<text x="1399.41" y="897.40" font-size="28.5" text-anchor="middle">1990</text>
<text x="1514.23" y="897.40" font-size="28.5" text-anchor="middle">1995</text>
<text x="1629.04" y="897.40" font-size="28.5" text-anchor="middle">2000</text>
<text x="1743.86" y="897.40" font-size="28.5" text-anchor="middle">2005</text>
<text x="1858.68" y="897.40" font-size="28.5" text-anchor="middle">2010</text>
<text x="1973.49" y="897.40" font-size="28.5" text-anchor="middle">2015</text>
<text x="1144.50" y="563.76" font-size="28.5" text-anchor="end">850</text>
<text x="1144.50" y="609.62" font-size="28.5" text-anchor="end">750</text>
<text x="1144.50" y="655.48" font-size="28.5" text-anchor="end">660</text>
<text x="1144.50" y="701.34" font-size="28.5" text-anchor="end">580</text>
<text x="1144.50" y="747.19" font-size="28.5" text-anchor="end">520</text>
<text x="1144.50" y="793.05" font-size="28.5" text-anchor="end">460</text>
<text x="1144.50" y="838.91" font-size="28.5" text-anchor="end">410</text>
<text transform="translate(1083.60 705.90) rotate(-90)" font-size="28.5" text-anchor="middle">Potential temperature [K]</text>
<text x="1161.90" y="529.40" font-size="35.2">(d)</text>
<text x="1555.50" y="530.20" font-size="38.2" text-anchor="middle">ERA-I SD of diffs</text>
</g>
<g id="panel-e">
<rect x="119.20" y="955.10" width="23.26" height="23.23" fill="#b6d7e8"/>
<rect x="142.16" y="955.10" width="92.15" height="23.23" fill="#d1e5f0"/>
<rect x="234.02" y="955.10" width="23.26" height="23.23" fill="#f7f6f6"/>
<rect x="256.98" y="955.10" width="23.26" height="23.23" fill="#408fc1"/>
<rect x="279.94" y="955.10" width="23.26" height="23.23" fill="#d1e5f0"/>
<rect x="302.91" y="955.10" width="23.26" height="23.23" fill="#deebf2"/>
<rect x="325.87" y="955.10" width="23.26" height="23.23" fill="#edf2f5"/>
<rect x="348.83" y="955.10" width="23.26" height="23.23" fill="#fae7dc"/>
<rect x="371.79" y="955.10" width="23.26" height="23.23" fill="#f9f0eb"/>
<rect x="394.76" y="955.10" width="23.26" height="23.23" fill="#fae7dc"/>
<rect x="417.72" y="955.10" width="23.26" height="23.23" fill="#f9f0eb"/>
<rect x="440.68" y="955.10" width="23.26" height="23.23" fill="#d1e5f0"/>
<rect x="463.65" y="955.10" width="23.26" height="23.23" fill="#b6d7e8"/>
<rect x="486.61" y="955.10" width="23.26" height="23.23" fill="#68abd0"/>
<rect x="509.57" y="955.10" width="23.26" height="23.23" fill="#fddcc9"/>
<rect x="532.54" y="955.10" width="23.26" height="23.23" fill="#87beda"/>
<rect x="555.50" y="955.10" width="23.26" height="23.23" fill="#fae7dc"/>
<rect x="578.46" y="955.10" width="23.26" height="23.23" fill="#f6b394"/>
<rect x="601.43" y="955.10" width="23.26" height="23.23" fill="#f7f6f6"/>
<rect x="624.39" y="955.10" width="69.19" height="23.23" fill="#f9f0eb"/>
<rect x="693.28" y="955.10" width="46.23" height="23.23" fill="#fae7dc"/>
<rect x="739.21" y="955.10" width="23.26" height="23.23" fill="#d1e5f0"/>
<rect x="762.17" y="955.10" width="23.26" height="23.23" fill="#fae7dc"/>
<rect x="785.13" y="955.10" width="23.26" height="23.23" fill="#fddcc9"/>
<rect x="808.09" y="955.10" width="23.26" height="23.23" fill="#fae7dc"/>
<rect x="831.06" y="955.10" width="23.26" height="23.23" fill="#f7f6f6"/>
<rect x="854.02" y="955.10" width="23.26" height="23.23" fill="#fddcc9"/>
<rect x="876.98" y="955.10" width="23.26" height="23.23" fill="#fae7dc"/>
<rect x="899.95" y="955.10" width="23.26" height="23.23" fill="#edf2f5"/>
<rect x="922.91" y="955.10" width="23.26" height="23.23" fill="#fae7dc"/>
<rect x="945.87" y="955.10" width="23.26" height="23.23" fill="#f7f6f6"/>
<rect x="968.84" y="955.10" width="23.26" height="23.23" fill="#fddcc9"/>
<rect x="119.20" y="978.03" width="23.26" height="23.23" fill="#d1e5f0"/>
<rect x="142.16" y="978.03" width="46.23" height="23.23" fill="#deebf2"/>
<rect x="188.09" y="978.03" width="23.26" height="23.23" fill="#d1e5f0"/>
<rect x="211.05" y="978.03" width="23.26" height="23.23" fill="#9dcbe1"/>
<rect x="234.02" y="978.03" width="23.26" height="23.23" fill="#edf2f5"/>
<rect x="256.98" y="978.03" width="23.26" height="23.23" fill="#68abd0"/>
<rect x="279.94" y="978.03" width="46.23" height="23.23" fill="#edf2f5"/>
<rect x="325.87" y="978.03" width="23.26" height="23.23" fill="#f7f6f6"/>
<rect x="348.83" y="978.03" width="46.23" height="23.23" fill="#edf2f5"/>
<rect x="394.76" y="978.03" width="23.26" height="23.23" fill="#f9f0eb"/>
<rect x="417.72" y="978.03" width="23.26" height="23.23" fill="#edf2f5"/>
<rect x="440.68" y="978.03" width="46.23" height="23.23" fill="#d1e5f0"/>
<rect x="486.61" y="978.03" width="23.26" height="23.23" fill="#87beda"/>
<rect x="509.57" y="978.03" width="23.26" height="23.23" fill="#f9f0eb"/>
<rect x="532.54" y="978.03" width="23.26" height="23.23" fill="#9dcbe1"/>
<rect x="555.50" y="978.03" width="23.26" height="23.23" fill="#f7f6f6"/>
<rect x="578.46" y="978.03" width="23.26" height="23.23" fill="#fae7dc"/>
<rect x="601.43" y="978.03" width="23.26" height="23.23" fill="#68abd0"/>
<rect x="624.39" y="978.03" width="23.26" height="23.23" fill="#fae7dc"/>
<rect x="647.35" y="978.03" width="23.26" height="23.23" fill="#fddcc9"/>
<rect x="670.32" y="978.03" width="23.26" height="23.23" fill="#f7f6f6"/>
<rect x="693.28" y="978.03" width="23.26" height="23.23" fill="#f9f0eb"/>
<rect x="716.24" y="978.03" width="23.26" height="23.23" fill="#f7f6f6"/>
<rect x="739.21" y="978.03" width="23.26" height="23.23" fill="#deebf2"/>
<rect x="762.17" y="978.03" width="23.26" height="23.23" fill="#fae7dc"/>
<rect x="785.13" y="978.03" width="46.23" height="23.23" fill="#fddcc9"/>
<rect x="831.06" y="978.03" width="23.26" height="23.23" fill="#f7f6f6"/>
<rect x="854.02" y="978.03" width="23.26" height="23.23" fill="#f9f0eb"/>
<rect x="876.98" y="978.03" width="46.23" height="23.23" fill="#f7f6f6"/>
<rect x="922.91" y="978.03" width="23.26" height="23.23" fill="#fddcc9"/>
<rect x="945.87" y="978.03" width="23.26" height="23.23" fill="#edf2f5"/>
<rect x="968.84" y="978.03" width="23.26" height="23.23" fill="#fddcc9"/>
<rect x="119.20" y="1000.96" width="23.26" height="23.23" fill="#f7f6f6"/>
<rect x="142.16" y="1000.96" width="46.23" height="23.23" fill="#f9f0eb"/>
<rect x="188.09" y="1000.96" width="23.26" height="23.23" fill="#f7f6f6"/>
<rect x="211.05" y="1000.96" width="23.26" height="23.23" fill="#deebf2"/>
<rect x="234.02" y="1000.96" width="23.26" height="23.23" fill="#edf2f5"/>
<rect x="256.98" y="1000.96" width="23.26" height="23.23" fill="#d1e5f0"/>
<rect x="279.94" y="1000.96" width="23.26" height="23.23" fill="#fae7dc"/>
<rect x="302.91" y="1000.96" width="46.23" height="23.23" fill="#f9f0eb"/>
<rect x="348.83" y="1000.96" width="23.26" height="23.23" fill="#edf2f5"/>
<rect x="371.79" y="1000.96" width="23.26" height="23.23" fill="#f9f0eb"/>
<rect x="394.76" y="1000.96" width="23.26" height="23.23" fill="#fac8af"/>
<rect x="417.72" y="1000.96" width="23.26" height="23.23" fill="#f9f0eb"/>
<rect x="440.68" y="1000.96" width="23.26" height="23.23" fill="#edf2f5"/>
<rect x="463.65" y="1000.96" width="23.26" height="23.23" fill="#fae7dc"/>
<rect x="486.61" y="1000.96" width="23.26" height="23.23" fill="#f7f6f6"/>
<rect x="509.57" y="1000.96" width="23.26" height="23.23" fill="#f9f0eb"/>
<rect x="532.54" y="1000.96" width="23.26" height="23.23" fill="#f7f6f6"/>
<rect x="555.50" y="1000.96" width="23.26" height="23.23" fill="#f9f0eb"/>
<rect x="578.46" y="1000.96" width="23.26" height="23.23" fill="#deebf2"/>
<rect x="601.43" y="1000.96" width="23.26" height="23.23" fill="#68abd0"/>
<rect x="624.39" y="1000.96" width="92.15" height="23.23" fill="#fddcc9"/>
<rect x="716.24" y="1000.96" width="23.26" height="23.23" fill="#fae7dc"/>
<rect x="739.21" y="1000.96" width="23.26" height="23.23" fill="#f9f0eb"/>
<rect x="762.17" y="1000.96" width="46.23" height="23.23" fill="#fddcc9"/>
<rect x="808.09" y="1000.96" width="23.26" height="23.23" fill="#fac8af"/>
<rect x="831.06" y="1000.96" width="92.15" height="23.23" fill="#fae7dc"/>
<rect x="922.91" y="1000.96" width="23.26" height="23.23" fill="#fac8af"/>
<rect x="945.87" y="1000.96" width="23.26" height="23.23" fill="#f7f6f6"/>
<rect x="968.84" y="1000.96" width="23.26" height="23.23" fill="#fac8af"/>
<rect x="119.20" y="1023.89" width="46.23" height="23.23" fill="#fac8af"/>
<rect x="165.13" y="1023.89" width="23.26" height="23.23" fill="#f6b394"/>
<rect x="188.09" y="1023.89" width="23.26" height="23.23" fill="#fddcc9"/>
<rect x="211.05" y="1023.89" width="23.26" height="23.23" fill="#f6b394"/>
<rect x="234.02" y="1023.89" width="23.26" height="23.23" fill="#fddcc9"/>
<rect x="256.98" y="1023.89" width="69.19" height="23.23" fill="#fac8af"/>
<rect x="325.87" y="1023.89" width="46.23" height="23.23" fill="#fddcc9"/>
<rect x="371.79" y="1023.89" width="23.26" height="23.23" fill="#fac8af"/>
<rect x="394.76" y="1023.89" width="23.26" height="23.23" fill="#f6b394"/>
<rect x="417.72" y="1023.89" width="23.26" height="23.23" fill="#fac8af"/>
<rect x="440.68" y="1023.89" width="46.23" height="23.23" fill="#fddcc9"/>
<rect x="486.61" y="1023.89" width="23.26" height="23.23" fill="#e58368"/>
<rect x="509.57" y="1023.89" width="46.23" height="23.23" fill="#f6b394"/>
<rect x="555.50" y="1023.89" width="23.26" height="23.23" fill="#fac8af"/>
<rect x="578.46" y="1023.89" width="23.26" height="23.23" fill="#fae7dc"/>
<rect x="601.43" y="1023.89" width="23.26" height="23.23" fill="#f9f0eb"/>
<rect x="624.39" y="1023.89" width="23.26" height="23.23" fill="#fac8af"/>
<rect x="647.35" y="1023.89" width="23.26" height="23.23" fill="#fddcc9"/>
<rect x="670.32" y="1023.89" width="23.26" height="23.23" fill="#f6b394"/>
<rect x="693.28" y="1023.89" width="23.26" height="23.23" fill="#f09c7b"/>
<rect x="716.24" y="1023.89" width="23.26" height="23.23" fill="#f6b394"/>
<rect x="739.21" y="1023.89" width="23.26" height="23.23" fill="#fae7dc"/>
<rect x="762.17" y="1023.89" width="46.23" height="23.23" fill="#fac8af"/>
<rect x="808.09" y="1023.89" width="23.26" height="23.23" fill="#f6b394"/>
<rect x="831.06" y="1023.89" width="23.26" height="23.23" fill="#e58368"/>
<rect x="854.02" y="1023.89" width="23.26" height="23.23" fill="#fddcc9"/>
<rect x="876.98" y="1023.89" width="23.26" height="23.23" fill="#fac8af"/>
<rect x="899.95" y="1023.89" width="23.26" height="23.23" fill="#fddcc9"/>
<rect x="922.91" y="1023.89" width="23.26" height="23.23" fill="#fac8af"/>
<rect x="945.87" y="1023.89" width="23.26" height="23.23" fill="#fddcc9"/>
<rect x="968.84" y="1023.89" width="23.26" height="23.23" fill="#f6b394"/>
<rect x="119.20" y="1046.81" width="23.26" height="23.23" fill="#f09c7b"/>
<rect x="142.16" y="1046.81" width="23.26" height="23.23" fill="#e58368"/>
<rect x="165.13" y="1046.81" width="23.26" height="23.23" fill="#f09c7b"/>
<rect x="188.09" y="1046.81" width="23.26" height="23.23" fill="#fac8af"/>
<rect x="211.05" y="1046.81" width="23.26" height="23.23" fill="#e58368"/>
<rect x="234.02" y="1046.81" width="23.26" height="23.23" fill="#fac8af"/>
<rect x="256.98" y="1046.81" width="23.26" height="23.23" fill="#f09c7b"/>
<rect x="279.94" y="1046.81" width="23.26" height="23.23" fill="#f6b394"/>
<rect x="302.91" y="1046.81" width="23.26" height="23.23" fill="#f09c7b"/>
<rect x="325.87" y="1046.81" width="46.23" height="23.23" fill="#fac8af"/>
<rect x="371.79" y="1046.81" width="46.23" height="23.23" fill="#f6b394"/>
<rect x="417.72" y="1046.81" width="69.19" height="23.23" fill="#fddcc9"/>
<rect x="486.61" y="1046.81" width="23.26" height="23.23" fill="#d7634f"/>
<rect x="509.57" y="1046.81" width="23.26" height="23.23" fill="#e58368"/>
<rect x="532.54" y="1046.81" width="23.26" height="23.23" fill="#f09c7b"/>
<rect x="555.50" y="1046.81" width="23.26" height="23.23" fill="#fac8af"/>
<rect x="578.46" y="1046.81" width="46.23" height="23.23" fill="#f09c7b"/>
<rect x="624.39" y="1046.81" width="23.26" height="23.23" fill="#fac8af"/>
<rect x="647.35" y="1046.81" width="23.26" height="23.23" fill="#fddcc9"/>
<rect x="670.32" y="1046.81" width="23.26" height="23.23" fill="#f6b394"/>
<rect x="693.28" y="1046.81" width="23.26" height="23.23" fill="#d7634f"/>
<rect x="716.24" y="1046.81" width="23.26" height="23.23" fill="#e58368"/>
<rect x="739.21" y="1046.81" width="23.26" height="23.23" fill="#fddcc9"/>
<rect x="762.17" y="1046.81" width="23.26" height="23.23" fill="#e58368"/>
<rect x="785.13" y="1046.81" width="23.26" height="23.23" fill="#f6b394"/>
<rect x="808.09" y="1046.81" width="23.26" height="23.23" fill="#f09c7b"/>
<rect x="831.06" y="1046.81" width="23.26" height="23.23" fill="#c6413e"/>
<rect x="854.02" y="1046.81" width="23.26" height="23.23" fill="#fddcc9"/>
<rect x="876.98" y="1046.81" width="23.26" height="23.23" fill="#fac8af"/>
<rect x="899.95" y="1046.81" width="23.26" height="23.23" fill="#fddcc9"/>
<rect x="922.91" y="1046.81" width="23.26" height="23.23" fill="#fac8af"/>
<rect x="945.87" y="1046.81" width="46.23" height="23.23" fill="#f6b394"/>
<rect x="119.20" y="1069.74" width="23.26" height="23.23" fill="#f6b394"/>
<rect x="142.16" y="1069.74" width="23.26" height="23.23" fill="#e58368"/>
<rect x="165.13" y="1069.74" width="46.23" height="23.23" fill="#fddcc9"/>
<rect x="211.05" y="1069.74" width="23.26" height="23.23" fill="#f6b394"/>
<rect x="234.02" y="1069.74" width="23.26" height="23.23" fill="#fae7dc"/>
<rect x="256.98" y="1069.74" width="23.26" height="23.23" fill="#f6b394"/>
<rect x="279.94" y="1069.74" width="23.26" height="23.23" fill="#fddcc9"/>
<rect x="302.91" y="1069.74" width="23.26" height="23.23" fill="#f09c7b"/>
<rect x="325.87" y="1069.74" width="23.26" height="23.23" fill="#fac8af"/>
<rect x="348.83" y="1069.74" width="23.26" height="23.23" fill="#f09c7b"/>
<rect x="371.79" y="1069.74" width="46.23" height="23.23" fill="#fddcc9"/>
<rect x="417.72" y="1069.74" width="23.26" height="23.23" fill="#fae7dc"/>
<rect x="440.68" y="1069.74" width="23.26" height="23.23" fill="#edf2f5"/>
<rect x="463.65" y="1069.74" width="23.26" height="23.23" fill="#f9f0eb"/>
<rect x="486.61" y="1069.74" width="46.23" height="23.23" fill="#e58368"/>
<rect x="532.54" y="1069.74" width="23.26" height="23.23" fill="#f09c7b"/>
<rect x="555.50" y="1069.74" width="23.26" height="23.23" fill="#fddcc9"/>
<rect x="578.46" y="1069.74" width="23.26" height="23.23" fill="#f09c7b"/>
<rect x="601.43" y="1069.74" width="23.26" height="23.23" fill="#e58368"/>
<rect x="624.39" y="1069.74" width="69.19" height="23.23" fill="#fddcc9"/>
<rect x="693.28" y="1069.74" width="23.26" height="23.23" fill="#e58368"/>
<rect x="716.24" y="1069.74" width="23.26" height="23.23" fill="#fac8af"/>
<rect x="739.21" y="1069.74" width="23.26" height="23.23" fill="#fae7dc"/>
<rect x="762.17" y="1069.74" width="23.26" height="23.23" fill="#f09c7b"/>
<rect x="785.13" y="1069.74" width="23.26" height="23.23" fill="#fac8af"/>
<rect x="808.09" y="1069.74" width="23.26" height="23.23" fill="#f6b394"/>
<rect x="831.06" y="1069.74" width="23.26" height="23.23" fill="#e58368"/>
<rect x="854.02" y="1069.74" width="92.15" height="23.23" fill="#fddcc9"/>
<rect x="945.87" y="1069.74" width="23.26" height="23.23" fill="#fac8af"/>
<rect x="968.84" y="1069.74" width="23.26" height="23.23" fill="#fddcc9"/>
<rect x="119.20" y="1092.67" width="23.26" height="23.23" fill="#fddcc9"/>
<rect x="142.16" y="1092.67" width="23.26" height="23.23" fill="#fac8af"/>
<rect x="165.13" y="1092.67" width="23.26" height="23.23" fill="#fae7dc"/>
<rect x="188.09" y="1092.67" width="23.26" height="23.23" fill="#fddcc9"/>
<rect x="211.05" y="1092.67" width="23.26" height="23.23" fill="#fae7dc"/>
<rect x="234.02" y="1092.67" width="23.26" height="23.23" fill="#edf2f5"/>
<rect x="256.98" y="1092.67" width="23.26" height="23.23" fill="#fddcc9"/>
<rect x="279.94" y="1092.67" width="23.26" height="23.23" fill="#fae7dc"/>
<rect x="302.91" y="1092.67" width="46.23" height="23.23" fill="#fddcc9"/>
<rect x="348.83" y="1092.67" width="92.15" height="23.23" fill="#fae7dc"/>
<rect x="440.68" y="1092.67" width="46.23" height="23.23" fill="#edf2f5"/>
<rect x="486.61" y="1092.67" width="46.23" height="23.23" fill="#fac8af"/>
<rect x="532.54" y="1092.67" width="23.26" height="23.23" fill="#f09c7b"/>
<rect x="555.50" y="1092.67" width="23.26" height="23.23" fill="#fae7dc"/>
<rect x="578.46" y="1092.67" width="23.26" height="23.23" fill="#fac8af"/>
<rect x="601.43" y="1092.67" width="23.26" height="23.23" fill="#fddcc9"/>
<rect x="624.39" y="1092.67" width="46.23" height="23.23" fill="#fae7dc"/>
<rect x="670.32" y="1092.67" width="23.26" height="23.23" fill="#fddcc9"/>
<rect x="693.28" y="1092.67" width="23.26" height="23.23" fill="#f6b394"/>
<rect x="716.24" y="1092.67" width="46.23" height="23.23" fill="#fae7dc"/>
<rect x="762.17" y="1092.67" width="23.26" height="23.23" fill="#fac8af"/>
<rect x="785.13" y="1092.67" width="23.26" height="23.23" fill="#fddcc9"/>
<rect x="808.09" y="1092.67" width="23.26" height="23.23" fill="#fac8af"/>
<rect x="831.06" y="1092.67" width="23.26" height="23.23" fill="#f6b394"/>
<rect x="854.02" y="1092.67" width="46.23" height="23.23" fill="#fddcc9"/>
<rect x="899.95" y="1092.67" width="23.26" height="23.23" fill="#fae7dc"/>
<rect x="922.91" y="1092.67" width="69.19" height="23.23" fill="#fddcc9"/>
<rect x="119.20" y="1115.60" width="23.26" height="23.23" fill="#fac8af"/>
<rect x="142.16" y="1115.60" width="92.15" height="23.23" fill="#fddcc9"/>
<rect x="234.02" y="1115.60" width="23.26" height="23.23" fill="#f9f0eb"/>
<rect x="256.98" y="1115.60" width="23.26" height="23.23" fill="#fac8af"/>
<rect x="279.94" y="1115.60" width="23.26" height="23.23" fill="#f9f0eb"/>
<rect x="302.91" y="1115.60" width="23.26" height="23.23" fill="#fae7dc"/>
<rect x="325.87" y="1115.60" width="23.26" height="23.23" fill="#fddcc9"/>
<rect x="348.83" y="1115.60" width="69.19" height="23.23" fill="#fae7dc"/>
<rect x="417.72" y="1115.60" width="23.26" height="23.23" fill="#fddcc9"/>
<rect x="440.68" y="1115.60" width="46.23" height="23.23" fill="#f9f0eb"/>
<rect x="486.61" y="1115.60" width="23.26" height="23.23" fill="#fddcc9"/>
<rect x="509.57" y="1115.60" width="23.26" height="23.23" fill="#fac8af"/>
<rect x="532.54" y="1115.60" width="23.26" height="23.23" fill="#f09c7b"/>
<rect x="555.50" y="1115.60" width="23.26" height="23.23" fill="#fae7dc"/>
<rect x="578.46" y="1115.60" width="23.26" height="23.23" fill="#fddcc9"/>
<rect x="601.43" y="1115.60" width="69.19" height="23.23" fill="#fae7dc"/>
<rect x="670.32" y="1115.60" width="69.19" height="23.23" fill="#fddcc9"/>
<rect x="739.21" y="1115.60" width="23.26" height="23.23" fill="#fae7dc"/>
<rect x="762.17" y="1115.60" width="46.23" height="23.23" fill="#fddcc9"/>
<rect x="808.09" y="1115.60" width="23.26" height="23.23" fill="#fac8af"/>
<rect x="831.06" y="1115.60" width="23.26" height="23.23" fill="#f09c7b"/>
<rect x="854.02" y="1115.60" width="23.26" height="23.23" fill="#fac8af"/>
<rect x="876.98" y="1115.60" width="46.23" height="23.23" fill="#fddcc9"/>
<rect x="922.91" y="1115.60" width="23.26" height="23.23" fill="#fac8af"/>
<rect x="945.87" y="1115.60" width="23.26" height="23.23" fill="#fddcc9"/>
<rect x="968.84" y="1115.60" width="23.26" height="23.23" fill="#fae7dc"/>
<rect x="119.20" y="1138.53" width="23.26" height="23.23" fill="#f6b394"/>
<rect x="142.16" y="1138.53" width="69.19" height="23.23" fill="#fac8af"/>
<rect x="211.05" y="1138.53" width="46.23" height="23.23" fill="#fddcc9"/>
<rect x="256.98" y="1138.53" width="23.26" height="23.23" fill="#f6b394"/>
<rect x="279.94" y="1138.53" width="23.26" height="23.23" fill="#fae7dc"/>
<rect x="302.91" y="1138.53" width="23.26" height="23.23" fill="#fddcc9"/>
<rect x="325.87" y="1138.53" width="23.26" height="23.23" fill="#fae7dc"/>
<rect x="348.83" y="1138.53" width="92.15" height="23.23" fill="#fddcc9"/>
<rect x="440.68" y="1138.53" width="23.26" height="23.23" fill="#fae7dc"/>
<rect x="463.65" y="1138.53" width="23.26" height="23.23" fill="#fddcc9"/>
<rect x="486.61" y="1138.53" width="46.23" height="23.23" fill="#fac8af"/>
<rect x="532.54" y="1138.53" width="23.26" height="23.23" fill="#f09c7b"/>
<rect x="555.50" y="1138.53" width="46.23" height="23.23" fill="#fae7dc"/>
<rect x="601.43" y="1138.53" width="23.26" height="23.23" fill="#f9f0eb"/>
<rect x="624.39" y="1138.53" width="92.15" height="23.23" fill="#fddcc9"/>
<rect x="716.24" y="1138.53" width="23.26" height="23.23" fill="#fae7dc"/>
<rect x="739.21" y="1138.53" width="69.19" height="23.23" fill="#fddcc9"/>
<rect x="808.09" y="1138.53" width="23.26" height="23.23" fill="#fac8af"/>
<rect x="831.06" y="1138.53" width="23.26" height="23.23" fill="#d7634f"/>
<rect x="854.02" y="1138.53" width="23.26" height="23.23" fill="#fac8af"/>
<rect x="876.98" y="1138.53" width="23.26" height="23.23" fill="#fddcc9"/>
<rect x="899.95" y="1138.53" width="46.23" height="23.23" fill="#fac8af"/>
<rect x="945.87" y="1138.53" width="46.23" height="23.23" fill="#fddcc9"/>
<rect x="119.20" y="1161.46" width="23.26" height="23.23" fill="#fac8af"/>
<rect x="142.16" y="1161.46" width="46.23" height="23.23" fill="#f6b394"/>
<rect x="188.09" y="1161.46" width="69.19" height="23.23" fill="#fac8af"/>
<rect x="256.98" y="1161.46" width="23.26" height="23.23" fill="#e58368"/>
<rect x="279.94" y="1161.46" width="69.19" height="23.23" fill="#fac8af"/>
<rect x="348.83" y="1161.46" width="23.26" height="23.23" fill="#f6b394"/>
<rect x="371.79" y="1161.46" width="115.12" height="23.23" fill="#fac8af"/>
<rect x="486.61" y="1161.46" width="46.23" height="23.23" fill="#f6b394"/>
<rect x="532.54" y="1161.46" width="23.26" height="23.23" fill="#e58368"/>
<rect x="555.50" y="1161.46" width="23.26" height="23.23" fill="#fddcc9"/>
<rect x="578.46" y="1161.46" width="23.26" height="23.23" fill="#fac8af"/>
<rect x="601.43" y="1161.46" width="23.26" height="23.23" fill="#fae7dc"/>
<rect x="624.39" y="1161.46" width="46.23" height="23.23" fill="#fac8af"/>
<rect x="670.32" y="1161.46" width="46.23" height="23.23" fill="#fddcc9"/>
<rect x="716.24" y="1161.46" width="23.26" height="23.23" fill="#fae7dc"/>
<rect x="739.21" y="1161.46" width="23.26" height="23.23" fill="#f6b394"/>
<rect x="762.17" y="1161.46" width="46.23" height="23.23" fill="#fddcc9"/>
<rect x="808.09" y="1161.46" width="23.26" height="23.23" fill="#fac8af"/>
<rect x="831.06" y="1161.46" width="23.26" height="23.23" fill="#c6413e"/>
<rect x="854.02" y="1161.46" width="23.26" height="23.23" fill="#fac8af"/>
<rect x="876.98" y="1161.46" width="23.26" height="23.23" fill="#fddcc9"/>
<rect x="899.95" y="1161.46" width="23.26" height="23.23" fill="#f6b394"/>
<rect x="922.91" y="1161.46" width="23.26" height="23.23" fill="#fac8af"/>
<rect x="945.87" y="1161.46" width="23.26" height="23.23" fill="#fddcc9"/>
<rect x="968.84" y="1161.46" width="23.26" height="23.23" fill="#fac8af"/>
<rect x="119.20" y="1184.39" width="23.26" height="23.23" fill="#fac8af"/>
<rect x="142.16" y="1184.39" width="46.23" height="23.23" fill="#f6b394"/>
<rect x="188.09" y="1184.39" width="69.19" height="23.23" fill="#fac8af"/>
<rect x="256.98" y="1184.39" width="23.26" height="23.23" fill="#e58368"/>
<rect x="279.94" y="1184.39" width="23.26" height="23.23" fill="#fac8af"/>
<rect x="302.91" y="1184.39" width="23.26" height="23.23" fill="#fddcc9"/>
<rect x="325.87" y="1184.39" width="23.26" height="23.23" fill="#fac8af"/>
<rect x="348.83" y="1184.39" width="69.19" height="23.23" fill="#fddcc9"/>
<rect x="417.72" y="1184.39" width="46.23" height="23.23" fill="#fac8af"/>
<rect x="463.65" y="1184.39" width="23.26" height="23.23" fill="#f6b394"/>
<rect x="486.61" y="1184.39" width="69.19" height="23.23" fill="#fac8af"/>
<rect x="555.50" y="1184.39" width="23.26" height="23.23" fill="#fddcc9"/>
<rect x="578.46" y="1184.39" width="23.26" height="23.23" fill="#fac8af"/>
<rect x="601.43" y="1184.39" width="23.26" height="23.23" fill="#fae7dc"/>
<rect x="624.39" y="1184.39" width="46.23" height="23.23" fill="#fac8af"/>
<rect x="670.32" y="1184.39" width="23.26" height="23.23" fill="#fddcc9"/>
<rect x="693.28" y="1184.39" width="23.26" height="23.23" fill="#fac8af"/>
<rect x="716.24" y="1184.39" width="23.26" height="23.23" fill="#f9f0eb"/>
<rect x="739.21" y="1184.39" width="23.26" height="23.23" fill="#f09c7b"/>
<rect x="762.17" y="1184.39" width="23.26" height="23.23" fill="#fac8af"/>
<rect x="785.13" y="1184.39" width="23.26" height="23.23" fill="#fae7dc"/>
<rect x="808.09" y="1184.39" width="23.26" height="23.23" fill="#fddcc9"/>
<rect x="831.06" y="1184.39" width="23.26" height="23.23" fill="#d7634f"/>
<rect x="854.02" y="1184.39" width="46.23" height="23.23" fill="#fddcc9"/>
<rect x="899.95" y="1184.39" width="23.26" height="23.23" fill="#f6b394"/>
<rect x="922.91" y="1184.39" width="23.26" height="23.23" fill="#fac8af"/>
<rect x="945.87" y="1184.39" width="46.23" height="23.23" fill="#fddcc9"/>
<rect x="119.20" y="1207.31" width="92.15" height="23.23" fill="#fddcc9"/>
<rect x="211.05" y="1207.31" width="23.26" height="23.23" fill="#fac8af"/>
<rect x="234.02" y="1207.31" width="46.23" height="23.23" fill="#fddcc9"/>
<rect x="279.94" y="1207.31" width="23.26" height="23.23" fill="#fac8af"/>
<rect x="302.91" y="1207.31" width="23.26" height="23.23" fill="#fddcc9"/>
<rect x="325.87" y="1207.31" width="23.26" height="23.23" fill="#fac8af"/>
<rect x="348.83" y="1207.31" width="69.19" height="23.23" fill="#fddcc9"/>
<rect x="417.72" y="1207.31" width="23.26" height="23.23" fill="#fac8af"/>
<rect x="440.68" y="1207.31" width="23.26" height="23.23" fill="#fddcc9"/>
<rect x="463.65" y="1207.31" width="46.23" height="23.23" fill="#fac8af"/>
<rect x="509.57" y="1207.31" width="138.08" height="23.23" fill="#fddcc9"/>
<rect x="647.35" y="1207.31" width="23.26" height="23.23" fill="#fac8af"/>
<rect x="670.32" y="1207.31" width="46.23" height="23.23" fill="#fddcc9"/>
<rect x="716.24" y="1207.31" width="23.26" height="23.23" fill="#f9f0eb"/>
<rect x="739.21" y="1207.31" width="23.26" height="23.23" fill="#fac8af"/>
<rect x="762.17" y="1207.31" width="23.26" height="23.23" fill="#fddcc9"/>
<rect x="785.13" y="1207.31" width="23.26" height="23.23" fill="#fae7dc"/>
<rect x="808.09" y="1207.31" width="23.26" height="23.23" fill="#fddcc9"/>
<rect x="831.06" y="1207.31" width="23.26" height="23.23" fill="#f6b394"/>
<rect x="854.02" y="1207.31" width="23.26" height="23.23" fill="#fddcc9"/>
<rect x="876.98" y="1207.31" width="23.26" height="23.23" fill="#fae7dc"/>
<rect x="899.95" y="1207.31" width="23.26" height="23.23" fill="#f6b394"/>
<rect x="922.91" y="1207.31" width="69.19" height="23.23" fill="#fddcc9"/>
<rect x="119.20" y="1230.24" width="115.12" height="23.23" fill="#fddcc9"/>
<rect x="234.02" y="1230.24" width="23.26" height="23.23" fill="#fae7dc"/>
<rect x="256.98" y="1230.24" width="206.97" height="23.23" fill="#fddcc9"/>
<rect x="463.65" y="1230.24" width="23.26" height="23.23" fill="#fac8af"/>
<rect x="486.61" y="1230.24" width="69.19" height="23.23" fill="#fddcc9"/>
<rect x="555.50" y="1230.24" width="23.26" height="23.23" fill="#fae7dc"/>
<rect x="578.46" y="1230.24" width="23.26" height="23.23" fill="#fddcc9"/>
<rect x="601.43" y="1230.24" width="92.15" height="23.23" fill="#fae7dc"/>
<rect x="693.28" y="1230.24" width="23.26" height="23.23" fill="#fddcc9"/>
<rect x="716.24" y="1230.24" width="23.26" height="23.23" fill="#f9f0eb"/>
<rect x="739.21" y="1230.24" width="23.26" height="23.23" fill="#fddcc9"/>
<rect x="762.17" y="1230.24" width="69.19" height="23.23" fill="#fae7dc"/>
<rect x="831.06" y="1230.24" width="23.26" height="23.23" fill="#fddcc9"/>
<rect x="854.02" y="1230.24" width="46.23" height="23.23" fill="#fae7dc"/>
<rect x="899.95" y="1230.24" width="23.26" height="23.23" fill="#fac8af"/>
<rect x="922.91" y="1230.24" width="23.26" height="23.23" fill="#fddcc9"/>
<rect x="945.87" y="1230.24" width="46.23" height="23.23" fill="#fae7dc"/>
<rect x="119.20" y="1253.17" width="115.12" height="23.23" fill="#fae7dc"/>
<rect x="234.02" y="1253.17" width="23.26" height="23.23" fill="#f9f0eb"/>
<rect x="256.98" y="1253.17" width="23.26" height="23.23" fill="#f7f6f6"/>
<rect x="279.94" y="1253.17" width="206.97" height="23.23" fill="#fae7dc"/>
<rect x="486.61" y="1253.17" width="23.26" height="23.23" fill="#fddcc9"/>
<rect x="509.57" y="1253.17" width="23.26" height="23.23" fill="#fae7dc"/>
<rect x="532.54" y="1253.17" width="23.26" height="23.23" fill="#fddcc9"/>
<rect x="555.50" y="1253.17" width="23.26" height="23.23" fill="#f9f0eb"/>
<rect x="578.46" y="1253.17" width="46.23" height="23.23" fill="#fae7dc"/>
<rect x="624.39" y="1253.17" width="23.26" height="23.23" fill="#f9f0eb"/>
<rect x="647.35" y="1253.17" width="23.26" height="23.23" fill="#f7f6f6"/>
<rect x="670.32" y="1253.17" width="23.26" height="23.23" fill="#fae7dc"/>
<rect x="693.28" y="1253.17" width="23.26" height="23.23" fill="#f9f0eb"/>
<rect x="716.24" y="1253.17" width="184.01" height="23.23" fill="#fae7dc"/>
<rect x="899.95" y="1253.17" width="23.26" height="23.23" fill="#fddcc9"/>
<rect x="922.91" y="1253.17" width="46.23" height="23.23" fill="#fae7dc"/>
<rect x="968.84" y="1253.17" width="23.26" height="23.23" fill="#f9f0eb"/>
<clipPath id="cpe"><rect x="118.75" y="954.65" width="873.50" height="321.90"/></clipPath>
<path d="M119.20 955.10V1276.10M142.16 955.10V1276.10M165.13 955.10V1276.10M188.09 955.10V1276.10M211.05 955.10V1276.10M234.02 955.10V1276.10M256.98 955.10V1276.10M279.94 955.10V1276.10M302.91 955.10V1276.10M325.87 955.10V1276.10M348.83 955.10V1276.10M371.79 955.10V1276.10M394.76 955.10V1276.10M417.72 955.10V1276.10M440.68 955.10V1276.10M463.65 955.10V1276.10M486.61 955.10V1276.10M509.57 955.10V1276.10M532.54 955.10V1276.10M555.50 955.10V1276.10M578.46 955.10V1276.10M601.43 955.10V1276.10M624.39 955.10V1276.10M647.35 955.10V1276.10M670.32 955.10V1276.10M693.28 955.10V1276.10M716.24 955.10V1276.10M739.21 955.10V1276.10M762.17 955.10V1276.10M785.13 955.10V1276.10M808.09 955.10V1276.10M831.06 955.10V1276.10M854.02 955.10V1276.10M876.98 955.10V1276.10M899.95 955.10V1276.10M922.91 955.10V1276.10M945.87 955.10V1276.10M968.84 955.10V1276.10M991.80 955.10V1276.10M119.20 955.10H991.80M119.20 978.03H991.80M119.20 1000.96H991.80M119.20 1023.89H991.80M119.20 1046.81H991.80M119.20 1069.74H991.80M119.20 1092.67H991.80M119.20 1115.60H991.80M119.20 1138.53H991.80M119.20 1161.46H991.80M119.20 1184.39H991.80M119.20 1207.31H991.80M119.20 1230.24H991.80M119.20 1253.17H991.80M119.20 1276.10H991.80" stroke="#161616" stroke-width="1.55" fill="none" stroke-linecap="square" clip-path="url(#cpe)"/>
<path d="M148.0 961.0l11.2 11.2m0 -11.2l-11.2 11.2M171.0 961.0l11.2 11.2m0 -11.2l-11.2 11.2M216.9 961.0l11.2 11.2m0 -11.2l-11.2 11.2M239.9 961.0l11.2 11.2m0 -11.2l-11.2 11.2M285.8 961.0l11.2 11.2m0 -11.2l-11.2 11.2M308.8 961.0l11.2 11.2m0 -11.2l-11.2 11.2M331.8 961.0l11.2 11.2m0 -11.2l-11.2 11.2M354.7 961.0l11.2 11.2m0 -11.2l-11.2 11.2M377.7 961.0l11.2 11.2m0 -11.2l-11.2 11.2M423.6 961.0l11.2 11.2m0 -11.2l-11.2 11.2M446.6 961.0l11.2 11.2m0 -11.2l-11.2 11.2M515.5 961.0l11.2 11.2m0 -11.2l-11.2 11.2M561.4 961.0l11.2 11.2m0 -11.2l-11.2 11.2M607.3 961.0l11.2 11.2m0 -11.2l-11.2 11.2M630.3 961.0l11.2 11.2m0 -11.2l-11.2 11.2M653.2 961.0l11.2 11.2m0 -11.2l-11.2 11.2M676.2 961.0l11.2 11.2m0 -11.2l-11.2 11.2M699.2 961.0l11.2 11.2m0 -11.2l-11.2 11.2M722.1 961.0l11.2 11.2m0 -11.2l-11.2 11.2M745.1 961.0l11.2 11.2m0 -11.2l-11.2 11.2M768.1 961.0l11.2 11.2m0 -11.2l-11.2 11.2M814.0 961.0l11.2 11.2m0 -11.2l-11.2 11.2M836.9 961.0l11.2 11.2m0 -11.2l-11.2 11.2M882.9 961.0l11.2 11.2m0 -11.2l-11.2 11.2M905.8 961.0l11.2 11.2m0 -11.2l-11.2 11.2M928.8 961.0l11.2 11.2m0 -11.2l-11.2 11.2M951.8 961.0l11.2 11.2m0 -11.2l-11.2 11.2M125.1 983.9l11.2 11.2m0 -11.2l-11.2 11.2M148.0 983.9l11.2 11.2m0 -11.2l-11.2 11.2M171.0 983.9l11.2 11.2m0 -11.2l-11.2 11.2M194.0 983.9l11.2 11.2m0 -11.2l-11.2 11.2M216.9 983.9l11.2 11.2m0 -11.2l-11.2 11.2M239.9 983.9l11.2 11.2m0 -11.2l-11.2 11.2M285.8 983.9l11.2 11.2m0 -11.2l-11.2 11.2M308.8 983.9l11.2 11.2m0 -11.2l-11.2 11.2M331.8 983.9l11.2 11.2m0 -11.2l-11.2 11.2M354.7 983.9l11.2 11.2m0 -11.2l-11.2 11.2M377.7 983.9l11.2 11.2m0 -11.2l-11.2 11.2M400.6 983.9l11.2 11.2m0 -11.2l-11.2 11.2M423.6 983.9l11.2 11.2m0 -11.2l-11.2 11.2M446.6 983.9l11.2 11.2m0 -11.2l-11.2 11.2M469.5 983.9l11.2 11.2m0 -11.2l-11.2 11.2M515.5 983.9l11.2 11.2m0 -11.2l-11.2 11.2M561.4 983.9l11.2 11.2m0 -11.2l-11.2 11.2M584.3 983.9l11.2 11.2m0 -11.2l-11.2 11.2M630.3 983.9l11.2 11.2m0 -11.2l-11.2 11.2M676.2 983.9l11.2 11.2m0 -11.2l-11.2 11.2M699.2 983.9l11.2 11.2m0 -11.2l-11.2 11.2M722.1 983.9l11.2 11.2m0 -11.2l-11.2 11.2M745.1 983.9l11.2 11.2m0 -11.2l-11.2 11.2M768.1 983.9l11.2 11.2m0 -11.2l-11.2 11.2M836.9 983.9l11.2 11.2m0 -11.2l-11.2 11.2M859.9 983.9l11.2 11.2m0 -11.2l-11.2 11.2M882.9 983.9l11.2 11.2m0 -11.2l-11.2 11.2M905.8 983.9l11.2 11.2m0 -11.2l-11.2 11.2M951.8 983.9l11.2 11.2m0 -11.2l-11.2 11.2M125.1 1006.8l11.2 11.2m0 -11.2l-11.2 11.2M148.0 1006.8l11.2 11.2m0 -11.2l-11.2 11.2M171.0 1006.8l11.2 11.2m0 -11.2l-11.2 11.2M194.0 1006.8l11.2 11.2m0 -11.2l-11.2 11.2M216.9 1006.8l11.2 11.2m0 -11.2l-11.2 11.2M239.9 1006.8l11.2 11.2m0 -11.2l-11.2 11.2M308.8 1006.8l11.2 11.2m0 -11.2l-11.2 11.2M331.8 1006.8l11.2 11.2m0 -11.2l-11.2 11.2M354.7 1006.8l11.2 11.2m0 -11.2l-11.2 11.2M377.7 1006.8l11.2 11.2m0 -11.2l-11.2 11.2M423.6 1006.8l11.2 11.2m0 -11.2l-11.2 11.2M446.6 1006.8l11.2 11.2m0 -11.2l-11.2 11.2M469.5 1006.8l11.2 11.2m0 -11.2l-11.2 11.2M492.5 1006.8l11.2 11.2m0 -11.2l-11.2 11.2M515.5 1006.8l11.2 11.2m0 -11.2l-11.2 11.2M538.4 1006.8l11.2 11.2m0 -11.2l-11.2 11.2M561.4 1006.8l11.2 11.2m0 -11.2l-11.2 11.2M584.3 1006.8l11.2 11.2m0 -11.2l-11.2 11.2M699.2 1006.8l11.2 11.2m0 -11.2l-11.2 11.2M745.1 1006.8l11.2 11.2m0 -11.2l-11.2 11.2M836.9 1006.8l11.2 11.2m0 -11.2l-11.2 11.2M859.9 1006.8l11.2 11.2m0 -11.2l-11.2 11.2M882.9 1006.8l11.2 11.2m0 -11.2l-11.2 11.2M905.8 1006.8l11.2 11.2m0 -11.2l-11.2 11.2M951.8 1006.8l11.2 11.2m0 -11.2l-11.2 11.2M331.8 1029.8l11.2 11.2m0 -11.2l-11.2 11.2M354.7 1029.8l11.2 11.2m0 -11.2l-11.2 11.2M446.6 1029.8l11.2 11.2m0 -11.2l-11.2 11.2M469.5 1029.8l11.2 11.2m0 -11.2l-11.2 11.2M584.3 1029.8l11.2 11.2m0 -11.2l-11.2 11.2M607.3 1029.8l11.2 11.2m0 -11.2l-11.2 11.2M745.1 1029.8l11.2 11.2m0 -11.2l-11.2 11.2M859.9 1029.8l11.2 11.2m0 -11.2l-11.2 11.2M951.8 1029.8l11.2 11.2m0 -11.2l-11.2 11.2M331.8 1052.7l11.2 11.2m0 -11.2l-11.2 11.2M354.7 1052.7l11.2 11.2m0 -11.2l-11.2 11.2M446.6 1052.7l11.2 11.2m0 -11.2l-11.2 11.2M469.5 1052.7l11.2 11.2m0 -11.2l-11.2 11.2M653.2 1052.7l11.2 11.2m0 -11.2l-11.2 11.2M745.1 1052.7l11.2 11.2m0 -11.2l-11.2 11.2M859.9 1052.7l11.2 11.2m0 -11.2l-11.2 11.2M905.8 1052.7l11.2 11.2m0 -11.2l-11.2 11.2M171.0 1075.6l11.2 11.2m0 -11.2l-11.2 11.2M194.0 1075.6l11.2 11.2m0 -11.2l-11.2 11.2M239.9 1075.6l11.2 11.2m0 -11.2l-11.2 11.2M331.8 1075.6l11.2 11.2m0 -11.2l-11.2 11.2M354.7 1075.6l11.2 11.2m0 -11.2l-11.2 11.2M377.7 1075.6l11.2 11.2m0 -11.2l-11.2 11.2M400.6 1075.6l11.2 11.2m0 -11.2l-11.2 11.2M423.6 1075.6l11.2 11.2m0 -11.2l-11.2 11.2M446.6 1075.6l11.2 11.2m0 -11.2l-11.2 11.2M469.5 1075.6l11.2 11.2m0 -11.2l-11.2 11.2M630.3 1075.6l11.2 11.2m0 -11.2l-11.2 11.2M653.2 1075.6l11.2 11.2m0 -11.2l-11.2 11.2M745.1 1075.6l11.2 11.2m0 -11.2l-11.2 11.2M791.0 1075.6l11.2 11.2m0 -11.2l-11.2 11.2M859.9 1075.6l11.2 11.2m0 -11.2l-11.2 11.2M882.9 1075.6l11.2 11.2m0 -11.2l-11.2 11.2M928.8 1075.6l11.2 11.2m0 -11.2l-11.2 11.2M951.8 1075.6l11.2 11.2m0 -11.2l-11.2 11.2M171.0 1098.5l11.2 11.2m0 -11.2l-11.2 11.2M216.9 1098.5l11.2 11.2m0 -11.2l-11.2 11.2M239.9 1098.5l11.2 11.2m0 -11.2l-11.2 11.2M285.8 1098.5l11.2 11.2m0 -11.2l-11.2 11.2M354.7 1098.5l11.2 11.2m0 -11.2l-11.2 11.2M400.6 1098.5l11.2 11.2m0 -11.2l-11.2 11.2M423.6 1098.5l11.2 11.2m0 -11.2l-11.2 11.2M446.6 1098.5l11.2 11.2m0 -11.2l-11.2 11.2M469.5 1098.5l11.2 11.2m0 -11.2l-11.2 11.2M561.4 1098.5l11.2 11.2m0 -11.2l-11.2 11.2M607.3 1098.5l11.2 11.2m0 -11.2l-11.2 11.2M630.3 1098.5l11.2 11.2m0 -11.2l-11.2 11.2M653.2 1098.5l11.2 11.2m0 -11.2l-11.2 11.2M745.1 1098.5l11.2 11.2m0 -11.2l-11.2 11.2M791.0 1098.5l11.2 11.2m0 -11.2l-11.2 11.2M882.9 1098.5l11.2 11.2m0 -11.2l-11.2 11.2M928.8 1098.5l11.2 11.2m0 -11.2l-11.2 11.2M951.8 1098.5l11.2 11.2m0 -11.2l-11.2 11.2M974.7 1098.5l11.2 11.2m0 -11.2l-11.2 11.2M239.9 1121.5l11.2 11.2m0 -11.2l-11.2 11.2M285.8 1121.5l11.2 11.2m0 -11.2l-11.2 11.2M354.7 1121.5l11.2 11.2m0 -11.2l-11.2 11.2M400.6 1121.5l11.2 11.2m0 -11.2l-11.2 11.2M446.6 1121.5l11.2 11.2m0 -11.2l-11.2 11.2M469.5 1121.5l11.2 11.2m0 -11.2l-11.2 11.2M607.3 1121.5l11.2 11.2m0 -11.2l-11.2 11.2M653.2 1121.5l11.2 11.2m0 -11.2l-11.2 11.2M791.0 1121.5l11.2 11.2m0 -11.2l-11.2 11.2M882.9 1121.5l11.2 11.2m0 -11.2l-11.2 11.2M951.8 1121.5l11.2 11.2m0 -11.2l-11.2 11.2M285.8 1144.4l11.2 11.2m0 -11.2l-11.2 11.2M331.8 1144.4l11.2 11.2m0 -11.2l-11.2 11.2M607.3 1144.4l11.2 11.2m0 -11.2l-11.2 11.2M722.1 1144.4l11.2 11.2m0 -11.2l-11.2 11.2M791.0 1144.4l11.2 11.2m0 -11.2l-11.2 11.2M951.8 1144.4l11.2 11.2m0 -11.2l-11.2 11.2M607.3 1167.3l11.2 11.2m0 -11.2l-11.2 11.2M722.1 1167.3l11.2 11.2m0 -11.2l-11.2 11.2M791.0 1167.3l11.2 11.2m0 -11.2l-11.2 11.2M607.3 1190.2l11.2 11.2m0 -11.2l-11.2 11.2M722.1 1190.2l11.2 11.2m0 -11.2l-11.2 11.2M791.0 1190.2l11.2 11.2m0 -11.2l-11.2 11.2M722.1 1213.2l11.2 11.2m0 -11.2l-11.2 11.2M791.0 1213.2l11.2 11.2m0 -11.2l-11.2 11.2M882.9 1213.2l11.2 11.2m0 -11.2l-11.2 11.2M722.1 1236.1l11.2 11.2m0 -11.2l-11.2 11.2M239.9 1259.0l11.2 11.2m0 -11.2l-11.2 11.2M561.4 1259.0l11.2 11.2m0 -11.2l-11.2 11.2M653.2 1259.0l11.2 11.2m0 -11.2l-11.2 11.2" stroke="#000" stroke-width="3.2" fill="none"/>
<path d="M130.68 1276.10v10.3M245.50 1276.10v10.3M360.31 1276.10v10.3M475.13 1276.10v10.3M589.94 1276.10v10.3M704.76 1276.10v10.3M819.58 1276.10v10.3M934.39 1276.10v10.3M119.20 966.56h-10.3M119.20 1012.42h-10.3M119.20 1058.28h-10.3M119.20 1104.14h-10.3M119.20 1149.99h-10.3M119.20 1195.85h-10.3M119.20 1241.71h-10.3" stroke="#000" stroke-width="2.5" fill="none"/>
<text x="130.68" y="1310.70" font-size="28.5" text-anchor="middle">1980</text>
<text x="245.50" y="1310.70" font-size="28.5" text-anchor="middle">1985</text>
<text x="360.31" y="1310.70" font-size="28.5" text-anchor="middle">1990</text>
<text x="475.13" y="1310.70" font-size="28.5" text-anchor="middle">1995</text>
<text x="589.94" y="1310.70" font-size="28.5" text-anchor="middle">2000</text>
<text x="704.76" y="1310.70" font-size="28.5" text-anchor="middle">2005</text>
<text x="819.58" y="1310.70" font-size="28.5" text-anchor="middle">2010</text>
<text x="934.39" y="1310.70" font-size="28.5" text-anchor="middle">2015</text>
<text x="105.40" y="977.06" font-size="28.5" text-anchor="end">850</text>
<text x="105.40" y="1022.92" font-size="28.5" text-anchor="end">750</text>
<text x="105.40" y="1068.78" font-size="28.5" text-anchor="end">660</text>
<text x="105.40" y="1114.64" font-size="28.5" text-anchor="end">580</text>
<text x="105.40" y="1160.49" font-size="28.5" text-anchor="end">520</text>
<text x="105.40" y="1206.35" font-size="28.5" text-anchor="end">460</text>
<text x="105.40" y="1252.21" font-size="28.5" text-anchor="end">410</text>
<text transform="translate(44.50 1119.20) rotate(-90)" font-size="28.5" text-anchor="middle">Potential temperature [K]</text>
<text x="122.80" y="942.70" font-size="35.2">(e)</text>
<text x="552.50" y="943.50" font-size="38.2" text-anchor="middle">JRA55 mean diffs</text>
</g>
<g id="panel-f">
<rect x="1158.30" y="955.10" width="23.26" height="23.23" fill="#67c4be"/>
<rect x="1181.26" y="955.10" width="23.26" height="23.23" fill="#a5dcb7"/>
<rect x="1204.23" y="955.10" width="23.26" height="23.23" fill="#48b9c3"/>
<rect x="1227.19" y="955.10" width="69.19" height="23.23" fill="#85cfba"/>
<rect x="1296.08" y="955.10" width="23.26" height="23.23" fill="#32a6c2"/>
<rect x="1319.04" y="955.10" width="46.23" height="23.23" fill="#85cfba"/>
<rect x="1364.97" y="955.10" width="23.26" height="23.23" fill="#67c4be"/>
<rect x="1387.93" y="955.10" width="23.26" height="23.23" fill="#48b9c3"/>
<rect x="1410.89" y="955.10" width="23.26" height="23.23" fill="#85cfba"/>
<rect x="1433.86" y="955.10" width="23.26" height="23.23" fill="#a5dcb7"/>
<rect x="1456.82" y="955.10" width="23.26" height="23.23" fill="#48b9c3"/>
<rect x="1479.78" y="955.10" width="46.23" height="23.23" fill="#67c4be"/>
<rect x="1525.71" y="955.10" width="23.26" height="23.23" fill="#48b9c3"/>
<rect x="1548.67" y="955.10" width="23.26" height="23.23" fill="#2075b3"/>
<rect x="1571.64" y="955.10" width="23.26" height="23.23" fill="#67c4be"/>
<rect x="1594.60" y="955.10" width="23.26" height="23.23" fill="#85cfba"/>
<rect x="1617.56" y="955.10" width="23.26" height="23.23" fill="#32a6c2"/>
<rect x="1640.53" y="955.10" width="23.26" height="23.23" fill="#48b9c3"/>
<rect x="1663.49" y="955.10" width="23.26" height="23.23" fill="#c6e9b4"/>
<rect x="1686.45" y="955.10" width="23.26" height="23.23" fill="#a5dcb7"/>
<rect x="1709.42" y="955.10" width="46.23" height="23.23" fill="#c6e9b4"/>
<rect x="1755.34" y="955.10" width="23.26" height="23.23" fill="#85cfba"/>
<rect x="1778.31" y="955.10" width="23.26" height="23.23" fill="#67c4be"/>
<rect x="1801.27" y="955.10" width="23.26" height="23.23" fill="#85cfba"/>
<rect x="1824.23" y="955.10" width="46.23" height="23.23" fill="#a5dcb7"/>
<rect x="1870.16" y="955.10" width="23.26" height="23.23" fill="#48b9c3"/>
<rect x="1893.12" y="955.10" width="23.26" height="23.23" fill="#a5dcb7"/>
<rect x="1916.08" y="955.10" width="23.26" height="23.23" fill="#c6e9b4"/>
<rect x="1939.05" y="955.10" width="23.26" height="23.23" fill="#1f93c0"/>
<rect x="1962.01" y="955.10" width="23.26" height="23.23" fill="#a5dcb7"/>
<rect x="1984.97" y="955.10" width="23.26" height="23.23" fill="#85cfba"/>
<rect x="2007.94" y="955.10" width="23.26" height="23.23" fill="#a5dcb7"/>
<rect x="1158.30" y="978.03" width="23.26" height="23.23" fill="#67c4be"/>
<rect x="1181.26" y="978.03" width="23.26" height="23.23" fill="#32a6c2"/>
<rect x="1204.23" y="978.03" width="23.26" height="23.23" fill="#85cfba"/>
<rect x="1227.19" y="978.03" width="23.26" height="23.23" fill="#67c4be"/>
<rect x="1250.15" y="978.03" width="23.26" height="23.23" fill="#32a6c2"/>
<rect x="1273.12" y="978.03" width="23.26" height="23.23" fill="#85cfba"/>
<rect x="1296.08" y="978.03" width="23.26" height="23.23" fill="#67c4be"/>
<rect x="1319.04" y="978.03" width="46.23" height="23.23" fill="#85cfba"/>
<rect x="1364.97" y="978.03" width="23.26" height="23.23" fill="#32a6c2"/>
<rect x="1387.93" y="978.03" width="23.26" height="23.23" fill="#48b9c3"/>
<rect x="1410.89" y="978.03" width="46.23" height="23.23" fill="#a5dcb7"/>
<rect x="1456.82" y="978.03" width="23.26" height="23.23" fill="#48b9c3"/>
<rect x="1479.78" y="978.03" width="23.26" height="23.23" fill="#67c4be"/>
<rect x="1502.75" y="978.03" width="23.26" height="23.23" fill="#1f93c0"/>
<rect x="1525.71" y="978.03" width="46.23" height="23.23" fill="#48b9c3"/>
<rect x="1571.64" y="978.03" width="23.26" height="23.23" fill="#67c4be"/>
<rect x="1594.60" y="978.03" width="23.26" height="23.23" fill="#85cfba"/>
<rect x="1617.56" y="978.03" width="23.26" height="23.23" fill="#48b9c3"/>
<rect x="1640.53" y="978.03" width="23.26" height="23.23" fill="#67c4be"/>
<rect x="1663.49" y="978.03" width="46.23" height="23.23" fill="#a5dcb7"/>
<rect x="1709.42" y="978.03" width="23.26" height="23.23" fill="#c6e9b4"/>
<rect x="1732.38" y="978.03" width="46.23" height="23.23" fill="#a5dcb7"/>
<rect x="1778.31" y="978.03" width="23.26" height="23.23" fill="#85cfba"/>
<rect x="1801.27" y="978.03" width="23.26" height="23.23" fill="#a5dcb7"/>
<rect x="1824.23" y="978.03" width="23.26" height="23.23" fill="#c6e9b4"/>
<rect x="1847.19" y="978.03" width="23.26" height="23.23" fill="#a5dcb7"/>
<rect x="1870.16" y="978.03" width="23.26" height="23.23" fill="#48b9c3"/>
<rect x="1893.12" y="978.03" width="23.26" height="23.23" fill="#a5dcb7"/>
<rect x="1916.08" y="978.03" width="23.26" height="23.23" fill="#c6e9b4"/>
<rect x="1939.05" y="978.03" width="23.26" height="23.23" fill="#32a6c2"/>
<rect x="1962.01" y="978.03" width="23.26" height="23.23" fill="#c6e9b4"/>
<rect x="1984.97" y="978.03" width="23.26" height="23.23" fill="#85cfba"/>
<rect x="2007.94" y="978.03" width="23.26" height="23.23" fill="#c6e9b4"/>
<rect x="1158.30" y="1000.96" width="23.26" height="23.23" fill="#85cfba"/>
<rect x="1181.26" y="1000.96" width="23.26" height="23.23" fill="#1f93c0"/>
<rect x="1204.23" y="1000.96" width="23.26" height="23.23" fill="#32a6c2"/>
<rect x="1227.19" y="1000.96" width="46.23" height="23.23" fill="#48b9c3"/>
<rect x="1273.12" y="1000.96" width="69.19" height="23.23" fill="#a5dcb7"/>
<rect x="1342.01" y="1000.96" width="23.26" height="23.23" fill="#67c4be"/>
<rect x="1364.97" y="1000.96" width="46.23" height="23.23" fill="#48b9c3"/>
<rect x="1410.89" y="1000.96" width="23.26" height="23.23" fill="#85cfba"/>
<rect x="1433.86" y="1000.96" width="23.26" height="23.23" fill="#a5dcb7"/>
<rect x="1456.82" y="1000.96" width="23.26" height="23.23" fill="#48b9c3"/>
<rect x="1479.78" y="1000.96" width="23.26" height="23.23" fill="#67c4be"/>
<rect x="1502.75" y="1000.96" width="23.26" height="23.23" fill="#2075b3"/>
<rect x="1525.71" y="1000.96" width="23.26" height="23.23" fill="#48b9c3"/>
<rect x="1548.67" y="1000.96" width="46.23" height="23.23" fill="#85cfba"/>
<rect x="1594.60" y="1000.96" width="23.26" height="23.23" fill="#a5dcb7"/>
<rect x="1617.56" y="1000.96" width="23.26" height="23.23" fill="#2075b3"/>
<rect x="1640.53" y="1000.96" width="23.26" height="23.23" fill="#2356a4"/>
<rect x="1663.49" y="1000.96" width="23.26" height="23.23" fill="#c6e9b4"/>
<rect x="1686.45" y="1000.96" width="46.23" height="23.23" fill="#a5dcb7"/>
<rect x="1732.38" y="1000.96" width="23.26" height="23.23" fill="#67c4be"/>
<rect x="1755.34" y="1000.96" width="23.26" height="23.23" fill="#a5dcb7"/>
<rect x="1778.31" y="1000.96" width="23.26" height="23.23" fill="#85cfba"/>
<rect x="1801.27" y="1000.96" width="46.23" height="23.23" fill="#a5dcb7"/>
<rect x="1847.19" y="1000.96" width="23.26" height="23.23" fill="#85cfba"/>
<rect x="1870.16" y="1000.96" width="23.26" height="23.23" fill="#48b9c3"/>
<rect x="1893.12" y="1000.96" width="23.26" height="23.23" fill="#a5dcb7"/>
<rect x="1916.08" y="1000.96" width="23.26" height="23.23" fill="#c6e9b4"/>
<rect x="1939.05" y="1000.96" width="23.26" height="23.23" fill="#85cfba"/>
<rect x="1962.01" y="1000.96" width="23.26" height="23.23" fill="#a5dcb7"/>
<rect x="1984.97" y="1000.96" width="23.26" height="23.23" fill="#85cfba"/>
<rect x="2007.94" y="1000.96" width="23.26" height="23.23" fill="#c6e9b4"/>
<rect x="1158.30" y="1023.89" width="23.26" height="23.23" fill="#85cfba"/>
<rect x="1181.26" y="1023.89" width="46.23" height="23.23" fill="#67c4be"/>
<rect x="1227.19" y="1023.89" width="23.26" height="23.23" fill="#85cfba"/>
<rect x="1250.15" y="1023.89" width="23.26" height="23.23" fill="#67c4be"/>
<rect x="1273.12" y="1023.89" width="23.26" height="23.23" fill="#a5dcb7"/>
<rect x="1296.08" y="1023.89" width="69.19" height="23.23" fill="#85cfba"/>
<rect x="1364.97" y="1023.89" width="23.26" height="23.23" fill="#32a6c2"/>
<rect x="1387.93" y="1023.89" width="115.12" height="23.23" fill="#67c4be"/>
<rect x="1502.75" y="1023.89" width="46.23" height="23.23" fill="#48b9c3"/>
<rect x="1548.67" y="1023.89" width="23.26" height="23.23" fill="#85cfba"/>
<rect x="1571.64" y="1023.89" width="23.26" height="23.23" fill="#67c4be"/>
<rect x="1594.60" y="1023.89" width="23.26" height="23.23" fill="#85cfba"/>
<rect x="1617.56" y="1023.89" width="23.26" height="23.23" fill="#48b9c3"/>
<rect x="1640.53" y="1023.89" width="23.26" height="23.23" fill="#32a6c2"/>
<rect x="1663.49" y="1023.89" width="23.26" height="23.23" fill="#c6e9b4"/>
<rect x="1686.45" y="1023.89" width="46.23" height="23.23" fill="#a5dcb7"/>
<rect x="1732.38" y="1023.89" width="46.23" height="23.23" fill="#67c4be"/>
<rect x="1778.31" y="1023.89" width="23.26" height="23.23" fill="#a5dcb7"/>
<rect x="1801.27" y="1023.89" width="23.26" height="23.23" fill="#67c4be"/>
<rect x="1824.23" y="1023.89" width="46.23" height="23.23" fill="#85cfba"/>
<rect x="1870.16" y="1023.89" width="23.26" height="23.23" fill="#32a6c2"/>
<rect x="1893.12" y="1023.89" width="69.19" height="23.23" fill="#a5dcb7"/>
<rect x="1962.01" y="1023.89" width="23.26" height="23.23" fill="#85cfba"/>
<rect x="1984.97" y="1023.89" width="23.26" height="23.23" fill="#67c4be"/>
<rect x="2007.94" y="1023.89" width="23.26" height="23.23" fill="#c6e9b4"/>
<rect x="1158.30" y="1046.81" width="23.26" height="23.23" fill="#67c4be"/>
<rect x="1181.26" y="1046.81" width="23.26" height="23.23" fill="#85cfba"/>
<rect x="1204.23" y="1046.81" width="23.26" height="23.23" fill="#67c4be"/>
<rect x="1227.19" y="1046.81" width="46.23" height="23.23" fill="#48b9c3"/>
<rect x="1273.12" y="1046.81" width="23.26" height="23.23" fill="#67c4be"/>
<rect x="1296.08" y="1046.81" width="23.26" height="23.23" fill="#48b9c3"/>
<rect x="1319.04" y="1046.81" width="46.23" height="23.23" fill="#67c4be"/>
<rect x="1364.97" y="1046.81" width="46.23" height="23.23" fill="#32a6c2"/>
<rect x="1410.89" y="1046.81" width="23.26" height="23.23" fill="#67c4be"/>
<rect x="1433.86" y="1046.81" width="23.26" height="23.23" fill="#48b9c3"/>
<rect x="1456.82" y="1046.81" width="23.26" height="23.23" fill="#67c4be"/>
<rect x="1479.78" y="1046.81" width="46.23" height="23.23" fill="#48b9c3"/>
<rect x="1525.71" y="1046.81" width="23.26" height="23.23" fill="#32a6c2"/>
<rect x="1548.67" y="1046.81" width="23.26" height="23.23" fill="#48b9c3"/>
<rect x="1571.64" y="1046.81" width="23.26" height="23.23" fill="#67c4be"/>
<rect x="1594.60" y="1046.81" width="23.26" height="23.23" fill="#c6e9b4"/>
<rect x="1617.56" y="1046.81" width="23.26" height="23.23" fill="#48b9c3"/>
<rect x="1640.53" y="1046.81" width="23.26" height="23.23" fill="#1f93c0"/>
<rect x="1663.49" y="1046.81" width="92.15" height="23.23" fill="#85cfba"/>
<rect x="1755.34" y="1046.81" width="23.26" height="23.23" fill="#1f93c0"/>
<rect x="1778.31" y="1046.81" width="23.26" height="23.23" fill="#a5dcb7"/>
<rect x="1801.27" y="1046.81" width="23.26" height="23.23" fill="#67c4be"/>
<rect x="1824.23" y="1046.81" width="23.26" height="23.23" fill="#48b9c3"/>
<rect x="1847.19" y="1046.81" width="23.26" height="23.23" fill="#67c4be"/>
<rect x="1870.16" y="1046.81" width="23.26" height="23.23" fill="#48b9c3"/>
<rect x="1893.12" y="1046.81" width="69.19" height="23.23" fill="#85cfba"/>
<rect x="1962.01" y="1046.81" width="23.26" height="23.23" fill="#67c4be"/>
<rect x="1984.97" y="1046.81" width="23.26" height="23.23" fill="#48b9c3"/>
<rect x="2007.94" y="1046.81" width="23.26" height="23.23" fill="#85cfba"/>
<rect x="1158.30" y="1069.74" width="23.26" height="23.23" fill="#85cfba"/>
<rect x="1181.26" y="1069.74" width="23.26" height="23.23" fill="#67c4be"/>
<rect x="1204.23" y="1069.74" width="23.26" height="23.23" fill="#48b9c3"/>
<rect x="1227.19" y="1069.74" width="46.23" height="23.23" fill="#67c4be"/>
<rect x="1273.12" y="1069.74" width="23.26" height="23.23" fill="#85cfba"/>
<rect x="1296.08" y="1069.74" width="23.26" height="23.23" fill="#48b9c3"/>
<rect x="1319.04" y="1069.74" width="46.23" height="23.23" fill="#85cfba"/>
<rect x="1364.97" y="1069.74" width="23.26" height="23.23" fill="#48b9c3"/>
<rect x="1387.93" y="1069.74" width="23.26" height="23.23" fill="#32a6c2"/>
<rect x="1410.89" y="1069.74" width="46.23" height="23.23" fill="#67c4be"/>
<rect x="1456.82" y="1069.74" width="46.23" height="23.23" fill="#85cfba"/>
<rect x="1502.75" y="1069.74" width="46.23" height="23.23" fill="#32a6c2"/>
<rect x="1548.67" y="1069.74" width="23.26" height="23.23" fill="#85cfba"/>
<rect x="1571.64" y="1069.74" width="23.26" height="23.23" fill="#48b9c3"/>
<rect x="1594.60" y="1069.74" width="23.26" height="23.23" fill="#d9f0b3"/>
<rect x="1617.56" y="1069.74" width="23.26" height="23.23" fill="#32a6c2"/>
<rect x="1640.53" y="1069.74" width="23.26" height="23.23" fill="#2356a4"/>
<rect x="1663.49" y="1069.74" width="23.26" height="23.23" fill="#85cfba"/>
<rect x="1686.45" y="1069.74" width="23.26" height="23.23" fill="#67c4be"/>
<rect x="1709.42" y="1069.74" width="23.26" height="23.23" fill="#c6e9b4"/>
<rect x="1732.38" y="1069.74" width="23.26" height="23.23" fill="#67c4be"/>
<rect x="1755.34" y="1069.74" width="23.26" height="23.23" fill="#48b9c3"/>
<rect x="1778.31" y="1069.74" width="23.26" height="23.23" fill="#a5dcb7"/>
<rect x="1801.27" y="1069.74" width="69.19" height="23.23" fill="#67c4be"/>
<rect x="1870.16" y="1069.74" width="46.23" height="23.23" fill="#85cfba"/>
<rect x="1916.08" y="1069.74" width="46.23" height="23.23" fill="#a5dcb7"/>
<rect x="1962.01" y="1069.74" width="23.26" height="23.23" fill="#67c4be"/>
<rect x="1984.97" y="1069.74" width="23.26" height="23.23" fill="#48b9c3"/>
<rect x="2007.94" y="1069.74" width="23.26" height="23.23" fill="#a5dcb7"/>
<rect x="1158.30" y="1092.67" width="23.26" height="23.23" fill="#a5dcb7"/>
<rect x="1181.26" y="1092.67" width="23.26" height="23.23" fill="#85cfba"/>
<rect x="1204.23" y="1092.67" width="23.26" height="23.23" fill="#a5dcb7"/>
<rect x="1227.19" y="1092.67" width="23.26" height="23.23" fill="#c6e9b4"/>
<rect x="1250.15" y="1092.67" width="69.19" height="23.23" fill="#a5dcb7"/>
<rect x="1319.04" y="1092.67" width="23.26" height="23.23" fill="#85cfba"/>
<rect x="1342.01" y="1092.67" width="23.26" height="23.23" fill="#c6e9b4"/>
<rect x="1364.97" y="1092.67" width="23.26" height="23.23" fill="#a5dcb7"/>
<rect x="1387.93" y="1092.67" width="23.26" height="23.23" fill="#85cfba"/>
<rect x="1410.89" y="1092.67" width="23.26" height="23.23" fill="#a5dcb7"/>
<rect x="1433.86" y="1092.67" width="23.26" height="23.23" fill="#85cfba"/>
<rect x="1456.82" y="1092.67" width="46.23" height="23.23" fill="#c6e9b4"/>
<rect x="1502.75" y="1092.67" width="23.26" height="23.23" fill="#67c4be"/>
<rect x="1525.71" y="1092.67" width="23.26" height="23.23" fill="#85cfba"/>
<rect x="1548.67" y="1092.67" width="23.26" height="23.23" fill="#c6e9b4"/>
<rect x="1571.64" y="1092.67" width="23.26" height="23.23" fill="#85cfba"/>
<rect x="1594.60" y="1092.67" width="23.26" height="23.23" fill="#d9f0b3"/>
<rect x="1617.56" y="1092.67" width="23.26" height="23.23" fill="#85cfba"/>
<rect x="1640.53" y="1092.67" width="23.26" height="23.23" fill="#67c4be"/>
<rect x="1663.49" y="1092.67" width="23.26" height="23.23" fill="#c6e9b4"/>
<rect x="1686.45" y="1092.67" width="23.26" height="23.23" fill="#a5dcb7"/>
<rect x="1709.42" y="1092.67" width="23.26" height="23.23" fill="#c6e9b4"/>
<rect x="1732.38" y="1092.67" width="23.26" height="23.23" fill="#a5dcb7"/>
<rect x="1755.34" y="1092.67" width="23.26" height="23.23" fill="#c6e9b4"/>
<rect x="1778.31" y="1092.67" width="23.26" height="23.23" fill="#a5dcb7"/>
<rect x="1801.27" y="1092.67" width="23.26" height="23.23" fill="#c6e9b4"/>
<rect x="1824.23" y="1092.67" width="23.26" height="23.23" fill="#85cfba"/>
<rect x="1847.19" y="1092.67" width="46.23" height="23.23" fill="#a5dcb7"/>
<rect x="1893.12" y="1092.67" width="69.19" height="23.23" fill="#c6e9b4"/>
<rect x="1962.01" y="1092.67" width="23.26" height="23.23" fill="#a5dcb7"/>
<rect x="1984.97" y="1092.67" width="23.26" height="23.23" fill="#85cfba"/>
<rect x="2007.94" y="1092.67" width="23.26" height="23.23" fill="#c6e9b4"/>
<rect x="1158.30" y="1115.60" width="23.26" height="23.23" fill="#c6e9b4"/>
<rect x="1181.26" y="1115.60" width="23.26" height="23.23" fill="#a5dcb7"/>
<rect x="1204.23" y="1115.60" width="46.23" height="23.23" fill="#c6e9b4"/>
<rect x="1250.15" y="1115.60" width="46.23" height="23.23" fill="#a5dcb7"/>
<rect x="1296.08" y="1115.60" width="23.26" height="23.23" fill="#c6e9b4"/>
<rect x="1319.04" y="1115.60" width="23.26" height="23.23" fill="#a5dcb7"/>
<rect x="1342.01" y="1115.60" width="23.26" height="23.23" fill="#d9f0b3"/>
<rect x="1364.97" y="1115.60" width="46.23" height="23.23" fill="#a5dcb7"/>
<rect x="1410.89" y="1115.60" width="69.19" height="23.23" fill="#c6e9b4"/>
<rect x="1479.78" y="1115.60" width="23.26" height="23.23" fill="#d9f0b3"/>
<rect x="1502.75" y="1115.60" width="46.23" height="23.23" fill="#a5dcb7"/>
<rect x="1548.67" y="1115.60" width="23.26" height="23.23" fill="#d9f0b3"/>
<rect x="1571.64" y="1115.60" width="23.26" height="23.23" fill="#a5dcb7"/>
<rect x="1594.60" y="1115.60" width="23.26" height="23.23" fill="#eaf7b1"/>
<rect x="1617.56" y="1115.60" width="46.23" height="23.23" fill="#c6e9b4"/>
<rect x="1663.49" y="1115.60" width="23.26" height="23.23" fill="#d9f0b3"/>
<rect x="1686.45" y="1115.60" width="23.26" height="23.23" fill="#c6e9b4"/>
<rect x="1709.42" y="1115.60" width="23.26" height="23.23" fill="#d9f0b3"/>
<rect x="1732.38" y="1115.60" width="23.26" height="23.23" fill="#c6e9b4"/>
<rect x="1755.34" y="1115.60" width="23.26" height="23.23" fill="#d9f0b3"/>
<rect x="1778.31" y="1115.60" width="46.23" height="23.23" fill="#c6e9b4"/>
<rect x="1824.23" y="1115.60" width="23.26" height="23.23" fill="#a5dcb7"/>
<rect x="1847.19" y="1115.60" width="23.26" height="23.23" fill="#c6e9b4"/>
<rect x="1870.16" y="1115.60" width="23.26" height="23.23" fill="#85cfba"/>
<rect x="1893.12" y="1115.60" width="23.26" height="23.23" fill="#c6e9b4"/>
<rect x="1916.08" y="1115.60" width="23.26" height="23.23" fill="#d9f0b3"/>
<rect x="1939.05" y="1115.60" width="46.23" height="23.23" fill="#c6e9b4"/>
<rect x="1984.97" y="1115.60" width="23.26" height="23.23" fill="#a5dcb7"/>
<rect x="2007.94" y="1115.60" width="23.26" height="23.23" fill="#c6e9b4"/>
<rect x="1158.30" y="1138.53" width="23.26" height="23.23" fill="#d9f0b3"/>
<rect x="1181.26" y="1138.53" width="23.26" height="23.23" fill="#a5dcb7"/>
<rect x="1204.23" y="1138.53" width="23.26" height="23.23" fill="#d9f0b3"/>
<rect x="1227.19" y="1138.53" width="46.23" height="23.23" fill="#c6e9b4"/>
<rect x="1273.12" y="1138.53" width="23.26" height="23.23" fill="#a5dcb7"/>
<rect x="1296.08" y="1138.53" width="23.26" height="23.23" fill="#c6e9b4"/>
<rect x="1319.04" y="1138.53" width="46.23" height="23.23" fill="#d9f0b3"/>
<rect x="1364.97" y="1138.53" width="23.26" height="23.23" fill="#a5dcb7"/>
<rect x="1387.93" y="1138.53" width="46.23" height="23.23" fill="#c6e9b4"/>
<rect x="1433.86" y="1138.53" width="92.15" height="23.23" fill="#d9f0b3"/>
<rect x="1525.71" y="1138.53" width="23.26" height="23.23" fill="#c6e9b4"/>
<rect x="1548.67" y="1138.53" width="23.26" height="23.23" fill="#d9f0b3"/>
<rect x="1571.64" y="1138.53" width="23.26" height="23.23" fill="#c6e9b4"/>
<rect x="1594.60" y="1138.53" width="23.26" height="23.23" fill="#eaf7b1"/>
<rect x="1617.56" y="1138.53" width="46.23" height="23.23" fill="#d9f0b3"/>
<rect x="1663.49" y="1138.53" width="23.26" height="23.23" fill="#eaf7b1"/>
<rect x="1686.45" y="1138.53" width="46.23" height="23.23" fill="#d9f0b3"/>
<rect x="1732.38" y="1138.53" width="23.26" height="23.23" fill="#c6e9b4"/>
<rect x="1755.34" y="1138.53" width="23.26" height="23.23" fill="#d9f0b3"/>
<rect x="1778.31" y="1138.53" width="23.26" height="23.23" fill="#c6e9b4"/>
<rect x="1801.27" y="1138.53" width="23.26" height="23.23" fill="#d9f0b3"/>
<rect x="1824.23" y="1138.53" width="23.26" height="23.23" fill="#a5dcb7"/>
<rect x="1847.19" y="1138.53" width="23.26" height="23.23" fill="#c6e9b4"/>
<rect x="1870.16" y="1138.53" width="23.26" height="23.23" fill="#85cfba"/>
<rect x="1893.12" y="1138.53" width="46.23" height="23.23" fill="#d9f0b3"/>
<rect x="1939.05" y="1138.53" width="23.26" height="23.23" fill="#c6e9b4"/>
<rect x="1962.01" y="1138.53" width="23.26" height="23.23" fill="#d9f0b3"/>
<rect x="1984.97" y="1138.53" width="23.26" height="23.23" fill="#c6e9b4"/>
<rect x="2007.94" y="1138.53" width="23.26" height="23.23" fill="#d9f0b3"/>
<rect x="1158.30" y="1161.46" width="23.26" height="23.23" fill="#eaf7b1"/>
<rect x="1181.26" y="1161.46" width="23.26" height="23.23" fill="#a5dcb7"/>
<rect x="1204.23" y="1161.46" width="69.19" height="23.23" fill="#d9f0b3"/>
<rect x="1273.12" y="1161.46" width="69.19" height="23.23" fill="#c6e9b4"/>
<rect x="1342.01" y="1161.46" width="23.26" height="23.23" fill="#d9f0b3"/>
<rect x="1364.97" y="1161.46" width="23.26" height="23.23" fill="#a5dcb7"/>
<rect x="1387.93" y="1161.46" width="23.26" height="23.23" fill="#d9f0b3"/>
<rect x="1410.89" y="1161.46" width="23.26" height="23.23" fill="#c6e9b4"/>
<rect x="1433.86" y="1161.46" width="92.15" height="23.23" fill="#d9f0b3"/>
<rect x="1525.71" y="1161.46" width="23.26" height="23.23" fill="#c6e9b4"/>
<rect x="1548.67" y="1161.46" width="23.26" height="23.23" fill="#d9f0b3"/>
<rect x="1571.64" y="1161.46" width="23.26" height="23.23" fill="#c6e9b4"/>
<rect x="1594.60" y="1161.46" width="23.26" height="23.23" fill="#eaf7b1"/>
<rect x="1617.56" y="1161.46" width="23.26" height="23.23" fill="#c6e9b4"/>
<rect x="1640.53" y="1161.46" width="23.26" height="23.23" fill="#d9f0b3"/>
<rect x="1663.49" y="1161.46" width="23.26" height="23.23" fill="#eaf7b1"/>
<rect x="1686.45" y="1161.46" width="23.26" height="23.23" fill="#d9f0b3"/>
<rect x="1709.42" y="1161.46" width="23.26" height="23.23" fill="#eaf7b1"/>
<rect x="1732.38" y="1161.46" width="46.23" height="23.23" fill="#d9f0b3"/>
<rect x="1778.31" y="1161.46" width="23.26" height="23.23" fill="#c6e9b4"/>
<rect x="1801.27" y="1161.46" width="23.26" height="23.23" fill="#d9f0b3"/>
<rect x="1824.23" y="1161.46" width="23.26" height="23.23" fill="#85cfba"/>
<rect x="1847.19" y="1161.46" width="23.26" height="23.23" fill="#d9f0b3"/>
<rect x="1870.16" y="1161.46" width="23.26" height="23.23" fill="#85cfba"/>
<rect x="1893.12" y="1161.46" width="46.23" height="23.23" fill="#eaf7b1"/>
<rect x="1939.05" y="1161.46" width="92.15" height="23.23" fill="#d9f0b3"/>
<rect x="1158.30" y="1184.39" width="23.26" height="23.23" fill="#eaf7b1"/>
<rect x="1181.26" y="1184.39" width="23.26" height="23.23" fill="#d9f0b3"/>
<rect x="1204.23" y="1184.39" width="46.23" height="23.23" fill="#eaf7b1"/>
<rect x="1250.15" y="1184.39" width="46.23" height="23.23" fill="#d9f0b3"/>
<rect x="1296.08" y="1184.39" width="46.23" height="23.23" fill="#c6e9b4"/>
<rect x="1342.01" y="1184.39" width="69.19" height="23.23" fill="#eaf7b1"/>
<rect x="1410.89" y="1184.39" width="23.26" height="23.23" fill="#d9f0b3"/>
<rect x="1433.86" y="1184.39" width="92.15" height="23.23" fill="#eaf7b1"/>
<rect x="1525.71" y="1184.39" width="23.26" height="23.23" fill="#d9f0b3"/>
<rect x="1548.67" y="1184.39" width="46.23" height="23.23" fill="#eaf7b1"/>
<rect x="1594.60" y="1184.39" width="23.26" height="23.23" fill="#f4fbc0"/>
<rect x="1617.56" y="1184.39" width="46.23" height="23.23" fill="#d9f0b3"/>
<rect x="1663.49" y="1184.39" width="115.12" height="23.23" fill="#eaf7b1"/>
<rect x="1778.31" y="1184.39" width="23.26" height="23.23" fill="#c6e9b4"/>
<rect x="1801.27" y="1184.39" width="23.26" height="23.23" fill="#eaf7b1"/>
<rect x="1824.23" y="1184.39" width="23.26" height="23.23" fill="#85cfba"/>
<rect x="1847.19" y="1184.39" width="23.26" height="23.23" fill="#eaf7b1"/>
<rect x="1870.16" y="1184.39" width="23.26" height="23.23" fill="#a5dcb7"/>
<rect x="1893.12" y="1184.39" width="69.19" height="23.23" fill="#eaf7b1"/>
<rect x="1962.01" y="1184.39" width="23.26" height="23.23" fill="#d9f0b3"/>
<rect x="1984.97" y="1184.39" width="46.23" height="23.23" fill="#eaf7b1"/>
<rect x="1158.30" y="1207.31" width="46.23" height="23.23" fill="#eaf7b1"/>
<rect x="1204.23" y="1207.31" width="23.26" height="23.23" fill="#f4fbc0"/>
<rect x="1227.19" y="1207.31" width="23.26" height="23.23" fill="#eaf7b1"/>
<rect x="1250.15" y="1207.31" width="23.26" height="23.23" fill="#d9f0b3"/>
<rect x="1273.12" y="1207.31" width="23.26" height="23.23" fill="#f4fbc0"/>
<rect x="1296.08" y="1207.31" width="46.23" height="23.23" fill="#d9f0b3"/>
<rect x="1342.01" y="1207.31" width="23.26" height="23.23" fill="#f4fbc0"/>
<rect x="1364.97" y="1207.31" width="69.19" height="23.23" fill="#eaf7b1"/>
<rect x="1433.86" y="1207.31" width="23.26" height="23.23" fill="#f4fbc0"/>
<rect x="1456.82" y="1207.31" width="23.26" height="23.23" fill="#eaf7b1"/>
<rect x="1479.78" y="1207.31" width="46.23" height="23.23" fill="#f4fbc0"/>
<rect x="1525.71" y="1207.31" width="69.19" height="23.23" fill="#eaf7b1"/>
<rect x="1594.60" y="1207.31" width="23.26" height="23.23" fill="#f4fbc0"/>
<rect x="1617.56" y="1207.31" width="46.23" height="23.23" fill="#eaf7b1"/>
<rect x="1663.49" y="1207.31" width="23.26" height="23.23" fill="#f4fbc0"/>
<rect x="1686.45" y="1207.31" width="23.26" height="23.23" fill="#eaf7b1"/>
<rect x="1709.42" y="1207.31" width="23.26" height="23.23" fill="#f4fbc0"/>
<rect x="1732.38" y="1207.31" width="92.15" height="23.23" fill="#eaf7b1"/>
<rect x="1824.23" y="1207.31" width="23.26" height="23.23" fill="#c6e9b4"/>
<rect x="1847.19" y="1207.31" width="23.26" height="23.23" fill="#eaf7b1"/>
<rect x="1870.16" y="1207.31" width="23.26" height="23.23" fill="#d9f0b3"/>
<rect x="1893.12" y="1207.31" width="23.26" height="23.23" fill="#eaf7b1"/>
<rect x="1916.08" y="1207.31" width="23.26" height="23.23" fill="#f4fbc0"/>
<rect x="1939.05" y="1207.31" width="23.26" height="23.23" fill="#d9f0b3"/>
<rect x="1962.01" y="1207.31" width="69.19" height="23.23" fill="#eaf7b1"/>
<rect x="1158.30" y="1230.24" width="23.26" height="23.23" fill="#f4fbc0"/>
<rect x="1181.26" y="1230.24" width="23.26" height="23.23" fill="#eaf7b1"/>
<rect x="1204.23" y="1230.24" width="23.26" height="23.23" fill="#f4fbc0"/>
<rect x="1227.19" y="1230.24" width="46.23" height="23.23" fill="#eaf7b1"/>
<rect x="1273.12" y="1230.24" width="23.26" height="23.23" fill="#f4fbc0"/>
<rect x="1296.08" y="1230.24" width="46.23" height="23.23" fill="#eaf7b1"/>
<rect x="1342.01" y="1230.24" width="23.26" height="23.23" fill="#f4fbc0"/>
<rect x="1364.97" y="1230.24" width="23.26" height="23.23" fill="#eaf7b1"/>
<rect x="1387.93" y="1230.24" width="138.08" height="23.23" fill="#f4fbc0"/>
<rect x="1525.71" y="1230.24" width="69.19" height="23.23" fill="#eaf7b1"/>
<rect x="1594.60" y="1230.24" width="229.93" height="23.23" fill="#f4fbc0"/>
<rect x="1824.23" y="1230.24" width="23.26" height="23.23" fill="#eaf7b1"/>
<rect x="1847.19" y="1230.24" width="23.26" height="23.23" fill="#f4fbc0"/>
<rect x="1870.16" y="1230.24" width="23.26" height="23.23" fill="#eaf7b1"/>
<rect x="1893.12" y="1230.24" width="46.23" height="23.23" fill="#f4fbc0"/>
<rect x="1939.05" y="1230.24" width="46.23" height="23.23" fill="#eaf7b1"/>
<rect x="1984.97" y="1230.24" width="46.23" height="23.23" fill="#f4fbc0"/>
<rect x="1158.30" y="1253.17" width="23.26" height="23.23" fill="#f4fbc0"/>
<rect x="1181.26" y="1253.17" width="23.26" height="23.23" fill="#eaf7b1"/>
<rect x="1204.23" y="1253.17" width="92.15" height="23.23" fill="#f4fbc0"/>
<rect x="1296.08" y="1253.17" width="23.26" height="23.23" fill="#eaf7b1"/>
<rect x="1319.04" y="1253.17" width="252.89" height="23.23" fill="#f4fbc0"/>
<rect x="1571.64" y="1253.17" width="23.26" height="23.23" fill="#eaf7b1"/>
<rect x="1594.60" y="1253.17" width="436.60" height="23.23" fill="#f4fbc0"/>
<clipPath id="cpf"><rect x="1157.85" y="954.65" width="873.50" height="321.90"/></clipPath>
<path d="M1158.30 955.10V1276.10M1181.26 955.10V1276.10M1204.23 955.10V1276.10M1227.19 955.10V1276.10M1250.15 955.10V1276.10M1273.12 955.10V1276.10M1296.08 955.10V1276.10M1319.04 955.10V1276.10M1342.01 955.10V1276.10M1364.97 955.10V1276.10M1387.93 955.10V1276.10M1410.89 955.10V1276.10M1433.86 955.10V1276.10M1456.82 955.10V1276.10M1479.78 955.10V1276.10M1502.75 955.10V1276.10M1525.71 955.10V1276.10M1548.67 955.10V1276.10M1571.64 955.10V1276.10M1594.60 955.10V1276.10M1617.56 955.10V1276.10M1640.53 955.10V1276.10M1663.49 955.10V1276.10M1686.45 955.10V1276.10M1709.42 955.10V1276.10M1732.38 955.10V1276.10M1755.34 955.10V1276.10M1778.31 955.10V1276.10M1801.27 955.10V1276.10M1824.23 955.10V1276.10M1847.19 955.10V1276.10M1870.16 955.10V1276.10M1893.12 955.10V1276.10M1916.08 955.10V1276.10M1939.05 955.10V1276.10M1962.01 955.10V1276.10M1984.97 955.10V1276.10M2007.94 955.10V1276.10M2030.90 955.10V1276.10M1158.30 955.10H2030.90M1158.30 978.03H2030.90M1158.30 1000.96H2030.90M1158.30 1023.89H2030.90M1158.30 1046.81H2030.90M1158.30 1069.74H2030.90M1158.30 1092.67H2030.90M1158.30 1115.60H2030.90M1158.30 1138.53H2030.90M1158.30 1161.46H2030.90M1158.30 1184.39H2030.90M1158.30 1207.31H2030.90M1158.30 1230.24H2030.90M1158.30 1253.17H2030.90M1158.30 1276.10H2030.90" stroke="#161616" stroke-width="1.55" fill="none" stroke-linecap="square" clip-path="url(#cpf)"/>
<path d="M1169.78 1276.10v10.3M1284.60 1276.10v10.3M1399.41 1276.10v10.3M1514.23 1276.10v10.3M1629.04 1276.10v10.3M1743.86 1276.10v10.3M1858.68 1276.10v10.3M1973.49 1276.10v10.3M1158.30 966.56h-10.3M1158.30 1012.42h-10.3M1158.30 1058.28h-10.3M1158.30 1104.14h-10.3M1158.30 1149.99h-10.3M1158.30 1195.85h-10.3M1158.30 1241.71h-10.3" stroke="#000" stroke-width="2.5" fill="none"/>
<text x="1169.78" y="1310.70" font-size="28.5" text-anchor="middle">1980</text>
<text x="1284.60" y="1310.70" font-size="28.5" text-anchor="middle">1985</text>
<text x="1399.41" y="1310.70" font-size="28.5" text-anchor="middle">1990</text>
<text x="1514.23" y="1310.70" font-size="28.5" text-anchor="middle">1995</text>
<text x="1629.04" y="1310.70" font-size="28.5" text-anchor="middle">2000</text>
<text x="1743.86" y="1310.70" font-size="28.5" text-anchor="middle">2005</text>
<text x="1858.68" y="1310.70" font-size="28.5" text-anchor="middle">2010</text>
<text x="1973.49" y="1310.70" font-size="28.5" text-anchor="middle">2015</text>
<text x="1144.50" y="977.06" font-size="28.5" text-anchor="end">850</text>
<text x="1144.50" y="1022.92" font-size="28.5" text-anchor="end">750</text>
<text x="1144.50" y="1068.78" font-size="28.5" text-anchor="end">660</text>
<text x="1144.50" y="1114.64" font-size="28.5" text-anchor="end">580</text>
<text x="1144.50" y="1160.49" font-size="28.5" text-anchor="end">520</text>
<text x="1144.50" y="1206.35" font-size="28.5" text-anchor="end">460</text>
<text x="1144.50" y="1252.21" font-size="28.5" text-anchor="end">410</text>
<text transform="translate(1083.60 1119.20) rotate(-90)" font-size="28.5" text-anchor="middle">Potential temperature [K]</text>
<text x="1161.90" y="942.70" font-size="35.2">(f)</text>
<text x="1555.50" y="943.50" font-size="38.2" text-anchor="middle">JRA55 SD of diffs</text>
</g>
<g id="panel-g">
<rect x="119.20" y="1368.40" width="23.26" height="23.23" fill="#fac8af"/>
<rect x="142.16" y="1368.40" width="69.19" height="23.23" fill="#fddcc9"/>
<rect x="211.05" y="1368.40" width="23.26" height="23.23" fill="#f09c7b"/>
<rect x="234.02" y="1368.40" width="23.26" height="23.23" fill="#d1e5f0"/>
<rect x="256.98" y="1368.40" width="23.26" height="23.23" fill="#d7634f"/>
<rect x="279.94" y="1368.40" width="23.26" height="23.23" fill="#fddcc9"/>
<rect x="302.91" y="1368.40" width="23.26" height="23.23" fill="#fae7dc"/>
<rect x="325.87" y="1368.40" width="23.26" height="23.23" fill="#edf2f5"/>
<rect x="348.83" y="1368.40" width="23.26" height="23.23" fill="#d1e5f0"/>
<rect x="371.79" y="1368.40" width="23.26" height="23.23" fill="#edf2f5"/>
<rect x="394.76" y="1368.40" width="23.26" height="23.23" fill="#fae7dc"/>
<rect x="417.72" y="1368.40" width="23.26" height="23.23" fill="#f7f6f6"/>
<rect x="440.68" y="1368.40" width="23.26" height="23.23" fill="#f9f0eb"/>
<rect x="463.65" y="1368.40" width="23.26" height="23.23" fill="#f09c7b"/>
<rect x="486.61" y="1368.40" width="23.26" height="23.23" fill="#7f0823"/>
<rect x="509.57" y="1368.40" width="23.26" height="23.23" fill="#f09c7b"/>
<rect x="532.54" y="1368.40" width="23.26" height="23.23" fill="#fac8af"/>
<rect x="555.50" y="1368.40" width="23.26" height="23.23" fill="#d1e5f0"/>
<rect x="578.46" y="1368.40" width="23.26" height="23.23" fill="#87beda"/>
<rect x="601.43" y="1368.40" width="23.26" height="23.23" fill="#408fc1"/>
<rect x="624.39" y="1368.40" width="23.26" height="23.23" fill="#deebf2"/>
<rect x="647.35" y="1368.40" width="23.26" height="23.23" fill="#edf2f5"/>
<rect x="670.32" y="1368.40" width="23.26" height="23.23" fill="#f9f0eb"/>
<rect x="693.28" y="1368.40" width="23.26" height="23.23" fill="#d1e5f0"/>
<rect x="716.24" y="1368.40" width="23.26" height="23.23" fill="#f9f0eb"/>
<rect x="739.21" y="1368.40" width="23.26" height="23.23" fill="#fae7dc"/>
<rect x="762.17" y="1368.40" width="23.26" height="23.23" fill="#edf2f5"/>
<rect x="785.13" y="1368.40" width="46.23" height="23.23" fill="#d1e5f0"/>
<rect x="831.06" y="1368.40" width="23.26" height="23.23" fill="#edf2f5"/>
<rect x="854.02" y="1368.40" width="23.26" height="23.23" fill="#d1e5f0"/>
<rect x="876.98" y="1368.40" width="23.26" height="23.23" fill="#edf2f5"/>
<rect x="899.95" y="1368.40" width="46.23" height="23.23" fill="#deebf2"/>
<rect x="945.87" y="1368.40" width="46.23" height="23.23" fill="#edf2f5"/>
<rect x="119.20" y="1391.33" width="23.26" height="23.23" fill="#f7f6f6"/>
<rect x="142.16" y="1391.33" width="23.26" height="23.23" fill="#fddcc9"/>
<rect x="165.13" y="1391.33" width="23.26" height="23.23" fill="#fac8af"/>
<rect x="188.09" y="1391.33" width="23.26" height="23.23" fill="#fddcc9"/>
<rect x="211.05" y="1391.33" width="23.26" height="23.23" fill="#f6b394"/>
<rect x="234.02" y="1391.33" width="23.26" height="23.23" fill="#d1e5f0"/>
<rect x="256.98" y="1391.33" width="23.26" height="23.23" fill="#fac8af"/>
<rect x="279.94" y="1391.33" width="23.26" height="23.23" fill="#fddcc9"/>
<rect x="302.91" y="1391.33" width="23.26" height="23.23" fill="#deebf2"/>
<rect x="325.87" y="1391.33" width="23.26" height="23.23" fill="#edf2f5"/>
<rect x="348.83" y="1391.33" width="23.26" height="23.23" fill="#f7f6f6"/>
<rect x="371.79" y="1391.33" width="23.26" height="23.23" fill="#f9f0eb"/>
<rect x="394.76" y="1391.33" width="46.23" height="23.23" fill="#fddcc9"/>
<rect x="440.68" y="1391.33" width="46.23" height="23.23" fill="#fae7dc"/>
<rect x="486.61" y="1391.33" width="23.26" height="23.23" fill="#d7634f"/>
<rect x="509.57" y="1391.33" width="46.23" height="23.23" fill="#fac8af"/>
<rect x="555.50" y="1391.33" width="23.26" height="23.23" fill="#d1e5f0"/>
<rect x="578.46" y="1391.33" width="46.23" height="23.23" fill="#b6d7e8"/>
<rect x="624.39" y="1391.33" width="23.26" height="23.23" fill="#f7f6f6"/>
<rect x="647.35" y="1391.33" width="23.26" height="23.23" fill="#deebf2"/>
<rect x="670.32" y="1391.33" width="23.26" height="23.23" fill="#edf2f5"/>
<rect x="693.28" y="1391.33" width="23.26" height="23.23" fill="#f7f6f6"/>
<rect x="716.24" y="1391.33" width="46.23" height="23.23" fill="#f9f0eb"/>
<rect x="762.17" y="1391.33" width="46.23" height="23.23" fill="#edf2f5"/>
<rect x="808.09" y="1391.33" width="23.26" height="23.23" fill="#d1e5f0"/>
<rect x="831.06" y="1391.33" width="23.26" height="23.23" fill="#edf2f5"/>
<rect x="854.02" y="1391.33" width="23.26" height="23.23" fill="#deebf2"/>
<rect x="876.98" y="1391.33" width="46.23" height="23.23" fill="#edf2f5"/>
<rect x="922.91" y="1391.33" width="23.26" height="23.23" fill="#deebf2"/>
<rect x="945.87" y="1391.33" width="23.26" height="23.23" fill="#fae7dc"/>
<rect x="968.84" y="1391.33" width="23.26" height="23.23" fill="#edf2f5"/>
<rect x="119.20" y="1414.26" width="23.26" height="23.23" fill="#b6d7e8"/>
<rect x="142.16" y="1414.26" width="23.26" height="23.23" fill="#f9f0eb"/>
<rect x="165.13" y="1414.26" width="46.23" height="23.23" fill="#fddcc9"/>
<rect x="211.05" y="1414.26" width="23.26" height="23.23" fill="#fae7dc"/>
<rect x="234.02" y="1414.26" width="23.26" height="23.23" fill="#deebf2"/>
<rect x="256.98" y="1414.26" width="46.23" height="23.23" fill="#f7f6f6"/>
<rect x="302.91" y="1414.26" width="23.26" height="23.23" fill="#d1e5f0"/>
<rect x="325.87" y="1414.26" width="23.26" height="23.23" fill="#fae7dc"/>
<rect x="348.83" y="1414.26" width="92.15" height="23.23" fill="#fddcc9"/>
<rect x="440.68" y="1414.26" width="23.26" height="23.23" fill="#fae7dc"/>
<rect x="463.65" y="1414.26" width="23.26" height="23.23" fill="#deebf2"/>
<rect x="486.61" y="1414.26" width="23.26" height="23.23" fill="#d1e5f0"/>
<rect x="509.57" y="1414.26" width="23.26" height="23.23" fill="#fddcc9"/>
<rect x="532.54" y="1414.26" width="23.26" height="23.23" fill="#f09c7b"/>
<rect x="555.50" y="1414.26" width="23.26" height="23.23" fill="#d1e5f0"/>
<rect x="578.46" y="1414.26" width="23.26" height="23.23" fill="#edf2f5"/>
<rect x="601.43" y="1414.26" width="23.26" height="23.23" fill="#deebf2"/>
<rect x="624.39" y="1414.26" width="23.26" height="23.23" fill="#f7f6f6"/>
<rect x="647.35" y="1414.26" width="46.23" height="23.23" fill="#deebf2"/>
<rect x="693.28" y="1414.26" width="46.23" height="23.23" fill="#edf2f5"/>
<rect x="739.21" y="1414.26" width="23.26" height="23.23" fill="#f7f6f6"/>
<rect x="762.17" y="1414.26" width="46.23" height="23.23" fill="#edf2f5"/>
<rect x="808.09" y="1414.26" width="23.26" height="23.23" fill="#d1e5f0"/>
<rect x="831.06" y="1414.26" width="23.26" height="23.23" fill="#deebf2"/>
<rect x="854.02" y="1414.26" width="69.19" height="23.23" fill="#edf2f5"/>
<rect x="922.91" y="1414.26" width="23.26" height="23.23" fill="#deebf2"/>
<rect x="945.87" y="1414.26" width="23.26" height="23.23" fill="#f7f6f6"/>
<rect x="968.84" y="1414.26" width="23.26" height="23.23" fill="#d1e5f0"/>
<rect x="119.20" y="1437.19" width="23.26" height="23.23" fill="#b6d7e8"/>
<rect x="142.16" y="1437.19" width="23.26" height="23.23" fill="#edf2f5"/>
<rect x="165.13" y="1437.19" width="23.26" height="23.23" fill="#fddcc9"/>
<rect x="188.09" y="1437.19" width="23.26" height="23.23" fill="#fae7dc"/>
<rect x="211.05" y="1437.19" width="23.26" height="23.23" fill="#d1e5f0"/>
<rect x="234.02" y="1437.19" width="46.23" height="23.23" fill="#f9f0eb"/>
<rect x="279.94" y="1437.19" width="23.26" height="23.23" fill="#deebf2"/>
<rect x="302.91" y="1437.19" width="23.26" height="23.23" fill="#edf2f5"/>
<rect x="325.87" y="1437.19" width="23.26" height="23.23" fill="#fae7dc"/>
<rect x="348.83" y="1437.19" width="23.26" height="23.23" fill="#fac8af"/>
<rect x="371.79" y="1437.19" width="23.26" height="23.23" fill="#fae7dc"/>
<rect x="394.76" y="1437.19" width="23.26" height="23.23" fill="#fac8af"/>
<rect x="417.72" y="1437.19" width="23.26" height="23.23" fill="#fddcc9"/>
<rect x="440.68" y="1437.19" width="23.26" height="23.23" fill="#fac8af"/>
<rect x="463.65" y="1437.19" width="23.26" height="23.23" fill="#fae7dc"/>
<rect x="486.61" y="1437.19" width="23.26" height="23.23" fill="#9dcbe1"/>
<rect x="509.57" y="1437.19" width="23.26" height="23.23" fill="#fddcc9"/>
<rect x="532.54" y="1437.19" width="23.26" height="23.23" fill="#f6b394"/>
<rect x="555.50" y="1437.19" width="23.26" height="23.23" fill="#f7f6f6"/>
<rect x="578.46" y="1437.19" width="46.23" height="23.23" fill="#edf2f5"/>
<rect x="624.39" y="1437.19" width="23.26" height="23.23" fill="#f7f6f6"/>
<rect x="647.35" y="1437.19" width="23.26" height="23.23" fill="#d1e5f0"/>
<rect x="670.32" y="1437.19" width="23.26" height="23.23" fill="#edf2f5"/>
<rect x="693.28" y="1437.19" width="23.26" height="23.23" fill="#deebf2"/>
<rect x="716.24" y="1437.19" width="23.26" height="23.23" fill="#d1e5f0"/>
<rect x="739.21" y="1437.19" width="46.23" height="23.23" fill="#edf2f5"/>
<rect x="785.13" y="1437.19" width="23.26" height="23.23" fill="#deebf2"/>
<rect x="808.09" y="1437.19" width="46.23" height="23.23" fill="#d1e5f0"/>
<rect x="854.02" y="1437.19" width="23.26" height="23.23" fill="#fae7dc"/>
<rect x="876.98" y="1437.19" width="92.15" height="23.23" fill="#edf2f5"/>
<rect x="968.84" y="1437.19" width="23.26" height="23.23" fill="#d1e5f0"/>
<rect x="119.20" y="1460.11" width="23.26" height="23.23" fill="#deebf2"/>
<rect x="142.16" y="1460.11" width="23.26" height="23.23" fill="#edf2f5"/>
<rect x="165.13" y="1460.11" width="23.26" height="23.23" fill="#f9f0eb"/>
<rect x="188.09" y="1460.11" width="23.26" height="23.23" fill="#fddcc9"/>
<rect x="211.05" y="1460.11" width="23.26" height="23.23" fill="#d1e5f0"/>
<rect x="234.02" y="1460.11" width="23.26" height="23.23" fill="#fac8af"/>
<rect x="256.98" y="1460.11" width="23.26" height="23.23" fill="#f7f6f6"/>
<rect x="279.94" y="1460.11" width="23.26" height="23.23" fill="#deebf2"/>
<rect x="302.91" y="1460.11" width="23.26" height="23.23" fill="#edf2f5"/>
<rect x="325.87" y="1460.11" width="23.26" height="23.23" fill="#f7f6f6"/>
<rect x="348.83" y="1460.11" width="23.26" height="23.23" fill="#fddcc9"/>
<rect x="371.79" y="1460.11" width="46.23" height="23.23" fill="#fae7dc"/>
<rect x="417.72" y="1460.11" width="23.26" height="23.23" fill="#fddcc9"/>
<rect x="440.68" y="1460.11" width="23.26" height="23.23" fill="#fac8af"/>
<rect x="463.65" y="1460.11" width="23.26" height="23.23" fill="#fae7dc"/>
<rect x="486.61" y="1460.11" width="23.26" height="23.23" fill="#deebf2"/>
<rect x="509.57" y="1460.11" width="23.26" height="23.23" fill="#fae7dc"/>
<rect x="532.54" y="1460.11" width="23.26" height="23.23" fill="#fac8af"/>
<rect x="555.50" y="1460.11" width="23.26" height="23.23" fill="#f9f0eb"/>
<rect x="578.46" y="1460.11" width="23.26" height="23.23" fill="#fae7dc"/>
<rect x="601.43" y="1460.11" width="46.23" height="23.23" fill="#f7f6f6"/>
<rect x="647.35" y="1460.11" width="46.23" height="23.23" fill="#edf2f5"/>
<rect x="693.28" y="1460.11" width="46.23" height="23.23" fill="#d1e5f0"/>
<rect x="739.21" y="1460.11" width="23.26" height="23.23" fill="#f7f6f6"/>
<rect x="762.17" y="1460.11" width="23.26" height="23.23" fill="#d1e5f0"/>
<rect x="785.13" y="1460.11" width="23.26" height="23.23" fill="#deebf2"/>
<rect x="808.09" y="1460.11" width="23.26" height="23.23" fill="#d1e5f0"/>
<rect x="831.06" y="1460.11" width="23.26" height="23.23" fill="#b6d7e8"/>
<rect x="854.02" y="1460.11" width="23.26" height="23.23" fill="#f9f0eb"/>
<rect x="876.98" y="1460.11" width="23.26" height="23.23" fill="#edf2f5"/>
<rect x="899.95" y="1460.11" width="23.26" height="23.23" fill="#f7f6f6"/>
<rect x="922.91" y="1460.11" width="23.26" height="23.23" fill="#edf2f5"/>
<rect x="945.87" y="1460.11" width="23.26" height="23.23" fill="#deebf2"/>
<rect x="968.84" y="1460.11" width="23.26" height="23.23" fill="#edf2f5"/>
<rect x="119.20" y="1483.04" width="46.23" height="23.23" fill="#edf2f5"/>
<rect x="165.13" y="1483.04" width="23.26" height="23.23" fill="#f7f6f6"/>
<rect x="188.09" y="1483.04" width="23.26" height="23.23" fill="#fddcc9"/>
<rect x="211.05" y="1483.04" width="23.26" height="23.23" fill="#deebf2"/>
<rect x="234.02" y="1483.04" width="23.26" height="23.23" fill="#fac8af"/>
<rect x="256.98" y="1483.04" width="23.26" height="23.23" fill="#f7f6f6"/>
<rect x="279.94" y="1483.04" width="23.26" height="23.23" fill="#deebf2"/>
<rect x="302.91" y="1483.04" width="23.26" height="23.23" fill="#d1e5f0"/>
<rect x="325.87" y="1483.04" width="23.26" height="23.23" fill="#edf2f5"/>
<rect x="348.83" y="1483.04" width="23.26" height="23.23" fill="#f7f6f6"/>
<rect x="371.79" y="1483.04" width="23.26" height="23.23" fill="#fae7dc"/>
<rect x="394.76" y="1483.04" width="46.23" height="23.23" fill="#f9f0eb"/>
<rect x="440.68" y="1483.04" width="46.23" height="23.23" fill="#fddcc9"/>
<rect x="486.61" y="1483.04" width="46.23" height="23.23" fill="#deebf2"/>
<rect x="532.54" y="1483.04" width="23.26" height="23.23" fill="#fae7dc"/>
<rect x="555.50" y="1483.04" width="23.26" height="23.23" fill="#f7f6f6"/>
<rect x="578.46" y="1483.04" width="23.26" height="23.23" fill="#fae7dc"/>
<rect x="601.43" y="1483.04" width="23.26" height="23.23" fill="#edf2f5"/>
<rect x="624.39" y="1483.04" width="23.26" height="23.23" fill="#fddcc9"/>
<rect x="647.35" y="1483.04" width="23.26" height="23.23" fill="#f7f6f6"/>
<rect x="670.32" y="1483.04" width="23.26" height="23.23" fill="#edf2f5"/>
<rect x="693.28" y="1483.04" width="23.26" height="23.23" fill="#d1e5f0"/>
<rect x="716.24" y="1483.04" width="23.26" height="23.23" fill="#deebf2"/>
<rect x="739.21" y="1483.04" width="23.26" height="23.23" fill="#f9f0eb"/>
<rect x="762.17" y="1483.04" width="23.26" height="23.23" fill="#deebf2"/>
<rect x="785.13" y="1483.04" width="23.26" height="23.23" fill="#f7f6f6"/>
<rect x="808.09" y="1483.04" width="23.26" height="23.23" fill="#deebf2"/>
<rect x="831.06" y="1483.04" width="23.26" height="23.23" fill="#edf2f5"/>
<rect x="854.02" y="1483.04" width="23.26" height="23.23" fill="#fae7dc"/>
<rect x="876.98" y="1483.04" width="23.26" height="23.23" fill="#edf2f5"/>
<rect x="899.95" y="1483.04" width="23.26" height="23.23" fill="#f7f6f6"/>
<rect x="922.91" y="1483.04" width="23.26" height="23.23" fill="#fddcc9"/>
<rect x="945.87" y="1483.04" width="23.26" height="23.23" fill="#edf2f5"/>
<rect x="968.84" y="1483.04" width="23.26" height="23.23" fill="#f7f6f6"/>
<rect x="119.20" y="1505.97" width="23.26" height="23.23" fill="#deebf2"/>
<rect x="142.16" y="1505.97" width="23.26" height="23.23" fill="#f7f6f6"/>
<rect x="165.13" y="1505.97" width="23.26" height="23.23" fill="#d1e5f0"/>
<rect x="188.09" y="1505.97" width="46.23" height="23.23" fill="#edf2f5"/>
<rect x="234.02" y="1505.97" width="46.23" height="23.23" fill="#f7f6f6"/>
<rect x="279.94" y="1505.97" width="23.26" height="23.23" fill="#edf2f5"/>
<rect x="302.91" y="1505.97" width="46.23" height="23.23" fill="#d1e5f0"/>
<rect x="348.83" y="1505.97" width="46.23" height="23.23" fill="#edf2f5"/>
<rect x="394.76" y="1505.97" width="23.26" height="23.23" fill="#deebf2"/>
<rect x="417.72" y="1505.97" width="69.19" height="23.23" fill="#edf2f5"/>
<rect x="486.61" y="1505.97" width="23.26" height="23.23" fill="#deebf2"/>
<rect x="509.57" y="1505.97" width="46.23" height="23.23" fill="#d1e5f0"/>
<rect x="555.50" y="1505.97" width="23.26" height="23.23" fill="#deebf2"/>
<rect x="578.46" y="1505.97" width="46.23" height="23.23" fill="#f9f0eb"/>
<rect x="624.39" y="1505.97" width="23.26" height="23.23" fill="#fddcc9"/>
<rect x="647.35" y="1505.97" width="23.26" height="23.23" fill="#f7f6f6"/>
<rect x="670.32" y="1505.97" width="46.23" height="23.23" fill="#deebf2"/>
<rect x="716.24" y="1505.97" width="92.15" height="23.23" fill="#f7f6f6"/>
<rect x="808.09" y="1505.97" width="23.26" height="23.23" fill="#deebf2"/>
<rect x="831.06" y="1505.97" width="46.23" height="23.23" fill="#f9f0eb"/>
<rect x="876.98" y="1505.97" width="46.23" height="23.23" fill="#f7f6f6"/>
<rect x="922.91" y="1505.97" width="23.26" height="23.23" fill="#fae7dc"/>
<rect x="945.87" y="1505.97" width="46.23" height="23.23" fill="#f7f6f6"/>
<rect x="119.20" y="1528.90" width="23.26" height="23.23" fill="#b6d7e8"/>
<rect x="142.16" y="1528.90" width="23.26" height="23.23" fill="#edf2f5"/>
<rect x="165.13" y="1528.90" width="23.26" height="23.23" fill="#d1e5f0"/>
<rect x="188.09" y="1528.90" width="92.15" height="23.23" fill="#deebf2"/>
<rect x="279.94" y="1528.90" width="23.26" height="23.23" fill="#edf2f5"/>
<rect x="302.91" y="1528.90" width="46.23" height="23.23" fill="#d1e5f0"/>
<rect x="348.83" y="1528.90" width="23.26" height="23.23" fill="#deebf2"/>
<rect x="371.79" y="1528.90" width="46.23" height="23.23" fill="#d1e5f0"/>
<rect x="417.72" y="1528.90" width="46.23" height="23.23" fill="#deebf2"/>
<rect x="463.65" y="1528.90" width="23.26" height="23.23" fill="#d1e5f0"/>
<rect x="486.61" y="1528.90" width="23.26" height="23.23" fill="#deebf2"/>
<rect x="509.57" y="1528.90" width="46.23" height="23.23" fill="#b6d7e8"/>
<rect x="555.50" y="1528.90" width="23.26" height="23.23" fill="#d1e5f0"/>
<rect x="578.46" y="1528.90" width="46.23" height="23.23" fill="#edf2f5"/>
<rect x="624.39" y="1528.90" width="23.26" height="23.23" fill="#fae7dc"/>
<rect x="647.35" y="1528.90" width="23.26" height="23.23" fill="#f7f6f6"/>
<rect x="670.32" y="1528.90" width="23.26" height="23.23" fill="#edf2f5"/>
<rect x="693.28" y="1528.90" width="23.26" height="23.23" fill="#d1e5f0"/>
<rect x="716.24" y="1528.90" width="23.26" height="23.23" fill="#edf2f5"/>
<rect x="739.21" y="1528.90" width="23.26" height="23.23" fill="#f9f0eb"/>
<rect x="762.17" y="1528.90" width="23.26" height="23.23" fill="#deebf2"/>
<rect x="785.13" y="1528.90" width="23.26" height="23.23" fill="#f7f6f6"/>
<rect x="808.09" y="1528.90" width="23.26" height="23.23" fill="#edf2f5"/>
<rect x="831.06" y="1528.90" width="46.23" height="23.23" fill="#f7f6f6"/>
<rect x="876.98" y="1528.90" width="23.26" height="23.23" fill="#edf2f5"/>
<rect x="899.95" y="1528.90" width="23.26" height="23.23" fill="#fae7dc"/>
<rect x="922.91" y="1528.90" width="23.26" height="23.23" fill="#f9f0eb"/>
<rect x="945.87" y="1528.90" width="46.23" height="23.23" fill="#edf2f5"/>
<rect x="119.20" y="1551.83" width="23.26" height="23.23" fill="#b6d7e8"/>
<rect x="142.16" y="1551.83" width="23.26" height="23.23" fill="#edf2f5"/>
<rect x="165.13" y="1551.83" width="115.12" height="23.23" fill="#f7f6f6"/>
<rect x="279.94" y="1551.83" width="46.23" height="23.23" fill="#edf2f5"/>
<rect x="325.87" y="1551.83" width="23.26" height="23.23" fill="#fae7dc"/>
<rect x="348.83" y="1551.83" width="23.26" height="23.23" fill="#b6d7e8"/>
<rect x="371.79" y="1551.83" width="23.26" height="23.23" fill="#deebf2"/>
<rect x="394.76" y="1551.83" width="46.23" height="23.23" fill="#d1e5f0"/>
<rect x="440.68" y="1551.83" width="23.26" height="23.23" fill="#deebf2"/>
<rect x="463.65" y="1551.83" width="69.19" height="23.23" fill="#d1e5f0"/>
<rect x="532.54" y="1551.83" width="23.26" height="23.23" fill="#deebf2"/>
<rect x="555.50" y="1551.83" width="69.19" height="23.23" fill="#f7f6f6"/>
<rect x="624.39" y="1551.83" width="23.26" height="23.23" fill="#fae7dc"/>
<rect x="647.35" y="1551.83" width="46.23" height="23.23" fill="#f9f0eb"/>
<rect x="693.28" y="1551.83" width="138.08" height="23.23" fill="#f7f6f6"/>
<rect x="831.06" y="1551.83" width="23.26" height="23.23" fill="#f9f0eb"/>
<rect x="854.02" y="1551.83" width="46.23" height="23.23" fill="#f7f6f6"/>
<rect x="899.95" y="1551.83" width="23.26" height="23.23" fill="#fae7dc"/>
<rect x="922.91" y="1551.83" width="23.26" height="23.23" fill="#f7f6f6"/>
<rect x="945.87" y="1551.83" width="46.23" height="23.23" fill="#deebf2"/>
<rect x="119.20" y="1574.76" width="23.26" height="23.23" fill="#deebf2"/>
<rect x="142.16" y="1574.76" width="46.23" height="23.23" fill="#edf2f5"/>
<rect x="188.09" y="1574.76" width="23.26" height="23.23" fill="#fae7dc"/>
<rect x="211.05" y="1574.76" width="23.26" height="23.23" fill="#f9f0eb"/>
<rect x="234.02" y="1574.76" width="46.23" height="23.23" fill="#edf2f5"/>
<rect x="279.94" y="1574.76" width="23.26" height="23.23" fill="#fae7dc"/>
<rect x="302.91" y="1574.76" width="23.26" height="23.23" fill="#f9f0eb"/>
<rect x="325.87" y="1574.76" width="23.26" height="23.23" fill="#fddcc9"/>
<rect x="348.83" y="1574.76" width="23.26" height="23.23" fill="#d1e5f0"/>
<rect x="371.79" y="1574.76" width="115.12" height="23.23" fill="#edf2f5"/>
<rect x="486.61" y="1574.76" width="23.26" height="23.23" fill="#deebf2"/>
<rect x="509.57" y="1574.76" width="46.23" height="23.23" fill="#edf2f5"/>
<rect x="555.50" y="1574.76" width="23.26" height="23.23" fill="#f7f6f6"/>
<rect x="578.46" y="1574.76" width="23.26" height="23.23" fill="#fae7dc"/>
<rect x="601.43" y="1574.76" width="23.26" height="23.23" fill="#f7f6f6"/>
<rect x="624.39" y="1574.76" width="23.26" height="23.23" fill="#fae7dc"/>
<rect x="647.35" y="1574.76" width="23.26" height="23.23" fill="#fddcc9"/>
<rect x="670.32" y="1574.76" width="46.23" height="23.23" fill="#fae7dc"/>
<rect x="716.24" y="1574.76" width="138.08" height="23.23" fill="#f7f6f6"/>
<rect x="854.02" y="1574.76" width="23.26" height="23.23" fill="#edf2f5"/>
<rect x="876.98" y="1574.76" width="23.26" height="23.23" fill="#f7f6f6"/>
<rect x="899.95" y="1574.76" width="23.26" height="23.23" fill="#fae7dc"/>
<rect x="922.91" y="1574.76" width="23.26" height="23.23" fill="#f7f6f6"/>
<rect x="945.87" y="1574.76" width="23.26" height="23.23" fill="#deebf2"/>
<rect x="968.84" y="1574.76" width="23.26" height="23.23" fill="#b6d7e8"/>
<rect x="119.20" y="1597.69" width="23.26" height="23.23" fill="#f9f0eb"/>
<rect x="142.16" y="1597.69" width="23.26" height="23.23" fill="#fddcc9"/>
<rect x="165.13" y="1597.69" width="46.23" height="23.23" fill="#fae7dc"/>
<rect x="211.05" y="1597.69" width="23.26" height="23.23" fill="#fddcc9"/>
<rect x="234.02" y="1597.69" width="46.23" height="23.23" fill="#f7f6f6"/>
<rect x="279.94" y="1597.69" width="23.26" height="23.23" fill="#edf2f5"/>
<rect x="302.91" y="1597.69" width="23.26" height="23.23" fill="#fae7dc"/>
<rect x="325.87" y="1597.69" width="23.26" height="23.23" fill="#fddcc9"/>
<rect x="348.83" y="1597.69" width="23.26" height="23.23" fill="#f7f6f6"/>
<rect x="371.79" y="1597.69" width="92.15" height="23.23" fill="#fae7dc"/>
<rect x="463.65" y="1597.69" width="23.26" height="23.23" fill="#f9f0eb"/>
<rect x="486.61" y="1597.69" width="23.26" height="23.23" fill="#edf2f5"/>
<rect x="509.57" y="1597.69" width="46.23" height="23.23" fill="#fae7dc"/>
<rect x="555.50" y="1597.69" width="23.26" height="23.23" fill="#f7f6f6"/>
<rect x="578.46" y="1597.69" width="23.26" height="23.23" fill="#f9f0eb"/>
<rect x="601.43" y="1597.69" width="23.26" height="23.23" fill="#f7f6f6"/>
<rect x="624.39" y="1597.69" width="46.23" height="23.23" fill="#fae7dc"/>
<rect x="670.32" y="1597.69" width="23.26" height="23.23" fill="#f9f0eb"/>
<rect x="693.28" y="1597.69" width="23.26" height="23.23" fill="#fae7dc"/>
<rect x="716.24" y="1597.69" width="23.26" height="23.23" fill="#edf2f5"/>
<rect x="739.21" y="1597.69" width="161.04" height="23.23" fill="#f7f6f6"/>
<rect x="899.95" y="1597.69" width="23.26" height="23.23" fill="#f9f0eb"/>
<rect x="922.91" y="1597.69" width="23.26" height="23.23" fill="#fae7dc"/>
<rect x="945.87" y="1597.69" width="46.23" height="23.23" fill="#d1e5f0"/>
<rect x="119.20" y="1620.61" width="46.23" height="23.23" fill="#fae7dc"/>
<rect x="165.13" y="1620.61" width="23.26" height="23.23" fill="#f9f0eb"/>
<rect x="188.09" y="1620.61" width="46.23" height="23.23" fill="#fae7dc"/>
<rect x="234.02" y="1620.61" width="23.26" height="23.23" fill="#f9f0eb"/>
<rect x="256.98" y="1620.61" width="92.15" height="23.23" fill="#f7f6f6"/>
<rect x="348.83" y="1620.61" width="69.19" height="23.23" fill="#f9f0eb"/>
<rect x="417.72" y="1620.61" width="46.23" height="23.23" fill="#f7f6f6"/>
<rect x="463.65" y="1620.61" width="92.15" height="23.23" fill="#f9f0eb"/>
<rect x="555.50" y="1620.61" width="23.26" height="23.23" fill="#edf2f5"/>
<rect x="578.46" y="1620.61" width="46.23" height="23.23" fill="#f7f6f6"/>
<rect x="624.39" y="1620.61" width="23.26" height="23.23" fill="#edf2f5"/>
<rect x="647.35" y="1620.61" width="23.26" height="23.23" fill="#f7f6f6"/>
<rect x="670.32" y="1620.61" width="23.26" height="23.23" fill="#edf2f5"/>
<rect x="693.28" y="1620.61" width="23.26" height="23.23" fill="#f7f6f6"/>
<rect x="716.24" y="1620.61" width="115.12" height="23.23" fill="#edf2f5"/>
<rect x="831.06" y="1620.61" width="23.26" height="23.23" fill="#f7f6f6"/>
<rect x="854.02" y="1620.61" width="46.23" height="23.23" fill="#edf2f5"/>
<rect x="899.95" y="1620.61" width="23.26" height="23.23" fill="#f7f6f6"/>
<rect x="922.91" y="1620.61" width="23.26" height="23.23" fill="#fae7dc"/>
<rect x="945.87" y="1620.61" width="46.23" height="23.23" fill="#edf2f5"/>
<rect x="119.20" y="1643.54" width="46.23" height="23.23" fill="#edf2f5"/>
<rect x="165.13" y="1643.54" width="115.12" height="23.23" fill="#f7f6f6"/>
<rect x="279.94" y="1643.54" width="46.23" height="23.23" fill="#edf2f5"/>
<rect x="325.87" y="1643.54" width="23.26" height="23.23" fill="#deebf2"/>
<rect x="348.83" y="1643.54" width="23.26" height="23.23" fill="#edf2f5"/>
<rect x="371.79" y="1643.54" width="23.26" height="23.23" fill="#f7f6f6"/>
<rect x="394.76" y="1643.54" width="23.26" height="23.23" fill="#edf2f5"/>
<rect x="417.72" y="1643.54" width="23.26" height="23.23" fill="#f7f6f6"/>
<rect x="440.68" y="1643.54" width="46.23" height="23.23" fill="#edf2f5"/>
<rect x="486.61" y="1643.54" width="23.26" height="23.23" fill="#f7f6f6"/>
<rect x="509.57" y="1643.54" width="46.23" height="23.23" fill="#edf2f5"/>
<rect x="555.50" y="1643.54" width="23.26" height="23.23" fill="#f7f6f6"/>
<rect x="578.46" y="1643.54" width="46.23" height="23.23" fill="#edf2f5"/>
<rect x="624.39" y="1643.54" width="23.26" height="23.23" fill="#f7f6f6"/>
<rect x="647.35" y="1643.54" width="252.89" height="23.23" fill="#edf2f5"/>
<rect x="899.95" y="1643.54" width="46.23" height="23.23" fill="#f7f6f6"/>
<rect x="945.87" y="1643.54" width="46.23" height="23.23" fill="#edf2f5"/>
<rect x="119.20" y="1666.47" width="46.23" height="23.23" fill="#edf2f5"/>
<rect x="165.13" y="1666.47" width="23.26" height="23.23" fill="#f7f6f6"/>
<rect x="188.09" y="1666.47" width="46.23" height="23.23" fill="#edf2f5"/>
<rect x="234.02" y="1666.47" width="46.23" height="23.23" fill="#f7f6f6"/>
<rect x="279.94" y="1666.47" width="46.23" height="23.23" fill="#edf2f5"/>
<rect x="325.87" y="1666.47" width="23.26" height="23.23" fill="#deebf2"/>
<rect x="348.83" y="1666.47" width="69.19" height="23.23" fill="#edf2f5"/>
<rect x="417.72" y="1666.47" width="23.26" height="23.23" fill="#deebf2"/>
<rect x="440.68" y="1666.47" width="23.26" height="23.23" fill="#edf2f5"/>
<rect x="463.65" y="1666.47" width="23.26" height="23.23" fill="#deebf2"/>
<rect x="486.61" y="1666.47" width="69.19" height="23.23" fill="#edf2f5"/>
<rect x="555.50" y="1666.47" width="23.26" height="23.23" fill="#f7f6f6"/>
<rect x="578.46" y="1666.47" width="23.26" height="23.23" fill="#edf2f5"/>
<rect x="601.43" y="1666.47" width="69.19" height="23.23" fill="#f7f6f6"/>
<rect x="670.32" y="1666.47" width="23.26" height="23.23" fill="#edf2f5"/>
<rect x="693.28" y="1666.47" width="252.89" height="23.23" fill="#f7f6f6"/>
<rect x="945.87" y="1666.47" width="46.23" height="23.23" fill="#edf2f5"/>
<clipPath id="cpg"><rect x="118.75" y="1367.95" width="873.50" height="321.90"/></clipPath>
<path d="M119.20 1368.40V1689.40M142.16 1368.40V1689.40M165.13 1368.40V1689.40M188.09 1368.40V1689.40M211.05 1368.40V1689.40M234.02 1368.40V1689.40M256.98 1368.40V1689.40M279.94 1368.40V1689.40M302.91 1368.40V1689.40M325.87 1368.40V1689.40M348.83 1368.40V1689.40M371.79 1368.40V1689.40M394.76 1368.40V1689.40M417.72 1368.40V1689.40M440.68 1368.40V1689.40M463.65 1368.40V1689.40M486.61 1368.40V1689.40M509.57 1368.40V1689.40M532.54 1368.40V1689.40M555.50 1368.40V1689.40M578.46 1368.40V1689.40M601.43 1368.40V1689.40M624.39 1368.40V1689.40M647.35 1368.40V1689.40M670.32 1368.40V1689.40M693.28 1368.40V1689.40M716.24 1368.40V1689.40M739.21 1368.40V1689.40M762.17 1368.40V1689.40M785.13 1368.40V1689.40M808.09 1368.40V1689.40M831.06 1368.40V1689.40M854.02 1368.40V1689.40M876.98 1368.40V1689.40M899.95 1368.40V1689.40M922.91 1368.40V1689.40M945.87 1368.40V1689.40M968.84 1368.40V1689.40M991.80 1368.40V1689.40M119.20 1368.40H991.80M119.20 1391.33H991.80M119.20 1414.26H991.80M119.20 1437.19H991.80M119.20 1460.11H991.80M119.20 1483.04H991.80M119.20 1505.97H991.80M119.20 1528.90H991.80M119.20 1551.83H991.80M119.20 1574.76H991.80M119.20 1597.69H991.80M119.20 1620.61H991.80M119.20 1643.54H991.80M119.20 1666.47H991.80M119.20 1689.40H991.80" stroke="#161616" stroke-width="1.55" fill="none" stroke-linecap="square" clip-path="url(#cpg)"/>
<path d="M125.1 1374.3l11.2 11.2m0 -11.2l-11.2 11.2M148.0 1374.3l11.2 11.2m0 -11.2l-11.2 11.2M171.0 1374.3l11.2 11.2m0 -11.2l-11.2 11.2M194.0 1374.3l11.2 11.2m0 -11.2l-11.2 11.2M239.9 1374.3l11.2 11.2m0 -11.2l-11.2 11.2M285.8 1374.3l11.2 11.2m0 -11.2l-11.2 11.2M308.8 1374.3l11.2 11.2m0 -11.2l-11.2 11.2M331.8 1374.3l11.2 11.2m0 -11.2l-11.2 11.2M354.7 1374.3l11.2 11.2m0 -11.2l-11.2 11.2M377.7 1374.3l11.2 11.2m0 -11.2l-11.2 11.2M400.6 1374.3l11.2 11.2m0 -11.2l-11.2 11.2M423.6 1374.3l11.2 11.2m0 -11.2l-11.2 11.2M446.6 1374.3l11.2 11.2m0 -11.2l-11.2 11.2M538.4 1374.3l11.2 11.2m0 -11.2l-11.2 11.2M630.3 1374.3l11.2 11.2m0 -11.2l-11.2 11.2M653.2 1374.3l11.2 11.2m0 -11.2l-11.2 11.2M676.2 1374.3l11.2 11.2m0 -11.2l-11.2 11.2M722.1 1374.3l11.2 11.2m0 -11.2l-11.2 11.2M745.1 1374.3l11.2 11.2m0 -11.2l-11.2 11.2M768.1 1374.3l11.2 11.2m0 -11.2l-11.2 11.2M836.9 1374.3l11.2 11.2m0 -11.2l-11.2 11.2M882.9 1374.3l11.2 11.2m0 -11.2l-11.2 11.2M905.8 1374.3l11.2 11.2m0 -11.2l-11.2 11.2M928.8 1374.3l11.2 11.2m0 -11.2l-11.2 11.2M951.8 1374.3l11.2 11.2m0 -11.2l-11.2 11.2M974.7 1374.3l11.2 11.2m0 -11.2l-11.2 11.2M125.1 1397.2l11.2 11.2m0 -11.2l-11.2 11.2M148.0 1397.2l11.2 11.2m0 -11.2l-11.2 11.2M171.0 1397.2l11.2 11.2m0 -11.2l-11.2 11.2M239.9 1397.2l11.2 11.2m0 -11.2l-11.2 11.2M285.8 1397.2l11.2 11.2m0 -11.2l-11.2 11.2M308.8 1397.2l11.2 11.2m0 -11.2l-11.2 11.2M331.8 1397.2l11.2 11.2m0 -11.2l-11.2 11.2M354.7 1397.2l11.2 11.2m0 -11.2l-11.2 11.2M377.7 1397.2l11.2 11.2m0 -11.2l-11.2 11.2M446.6 1397.2l11.2 11.2m0 -11.2l-11.2 11.2M469.5 1397.2l11.2 11.2m0 -11.2l-11.2 11.2M515.5 1397.2l11.2 11.2m0 -11.2l-11.2 11.2M607.3 1397.2l11.2 11.2m0 -11.2l-11.2 11.2M630.3 1397.2l11.2 11.2m0 -11.2l-11.2 11.2M676.2 1397.2l11.2 11.2m0 -11.2l-11.2 11.2M699.2 1397.2l11.2 11.2m0 -11.2l-11.2 11.2M722.1 1397.2l11.2 11.2m0 -11.2l-11.2 11.2M745.1 1397.2l11.2 11.2m0 -11.2l-11.2 11.2M768.1 1397.2l11.2 11.2m0 -11.2l-11.2 11.2M791.0 1397.2l11.2 11.2m0 -11.2l-11.2 11.2M814.0 1397.2l11.2 11.2m0 -11.2l-11.2 11.2M836.9 1397.2l11.2 11.2m0 -11.2l-11.2 11.2M882.9 1397.2l11.2 11.2m0 -11.2l-11.2 11.2M905.8 1397.2l11.2 11.2m0 -11.2l-11.2 11.2M951.8 1397.2l11.2 11.2m0 -11.2l-11.2 11.2M974.7 1397.2l11.2 11.2m0 -11.2l-11.2 11.2M148.0 1420.1l11.2 11.2m0 -11.2l-11.2 11.2M171.0 1420.1l11.2 11.2m0 -11.2l-11.2 11.2M194.0 1420.1l11.2 11.2m0 -11.2l-11.2 11.2M216.9 1420.1l11.2 11.2m0 -11.2l-11.2 11.2M239.9 1420.1l11.2 11.2m0 -11.2l-11.2 11.2M262.9 1420.1l11.2 11.2m0 -11.2l-11.2 11.2M285.8 1420.1l11.2 11.2m0 -11.2l-11.2 11.2M331.8 1420.1l11.2 11.2m0 -11.2l-11.2 11.2M446.6 1420.1l11.2 11.2m0 -11.2l-11.2 11.2M469.5 1420.1l11.2 11.2m0 -11.2l-11.2 11.2M492.5 1420.1l11.2 11.2m0 -11.2l-11.2 11.2M515.5 1420.1l11.2 11.2m0 -11.2l-11.2 11.2M584.3 1420.1l11.2 11.2m0 -11.2l-11.2 11.2M607.3 1420.1l11.2 11.2m0 -11.2l-11.2 11.2M630.3 1420.1l11.2 11.2m0 -11.2l-11.2 11.2M699.2 1420.1l11.2 11.2m0 -11.2l-11.2 11.2M722.1 1420.1l11.2 11.2m0 -11.2l-11.2 11.2M745.1 1420.1l11.2 11.2m0 -11.2l-11.2 11.2M768.1 1420.1l11.2 11.2m0 -11.2l-11.2 11.2M791.0 1420.1l11.2 11.2m0 -11.2l-11.2 11.2M814.0 1420.1l11.2 11.2m0 -11.2l-11.2 11.2M836.9 1420.1l11.2 11.2m0 -11.2l-11.2 11.2M859.9 1420.1l11.2 11.2m0 -11.2l-11.2 11.2M882.9 1420.1l11.2 11.2m0 -11.2l-11.2 11.2M905.8 1420.1l11.2 11.2m0 -11.2l-11.2 11.2M928.8 1420.1l11.2 11.2m0 -11.2l-11.2 11.2M951.8 1420.1l11.2 11.2m0 -11.2l-11.2 11.2M148.0 1443.1l11.2 11.2m0 -11.2l-11.2 11.2M171.0 1443.1l11.2 11.2m0 -11.2l-11.2 11.2M194.0 1443.1l11.2 11.2m0 -11.2l-11.2 11.2M216.9 1443.1l11.2 11.2m0 -11.2l-11.2 11.2M239.9 1443.1l11.2 11.2m0 -11.2l-11.2 11.2M262.9 1443.1l11.2 11.2m0 -11.2l-11.2 11.2M285.8 1443.1l11.2 11.2m0 -11.2l-11.2 11.2M308.8 1443.1l11.2 11.2m0 -11.2l-11.2 11.2M331.8 1443.1l11.2 11.2m0 -11.2l-11.2 11.2M377.7 1443.1l11.2 11.2m0 -11.2l-11.2 11.2M469.5 1443.1l11.2 11.2m0 -11.2l-11.2 11.2M515.5 1443.1l11.2 11.2m0 -11.2l-11.2 11.2M561.4 1443.1l11.2 11.2m0 -11.2l-11.2 11.2M584.3 1443.1l11.2 11.2m0 -11.2l-11.2 11.2M607.3 1443.1l11.2 11.2m0 -11.2l-11.2 11.2M630.3 1443.1l11.2 11.2m0 -11.2l-11.2 11.2M676.2 1443.1l11.2 11.2m0 -11.2l-11.2 11.2M699.2 1443.1l11.2 11.2m0 -11.2l-11.2 11.2M745.1 1443.1l11.2 11.2m0 -11.2l-11.2 11.2M768.1 1443.1l11.2 11.2m0 -11.2l-11.2 11.2M859.9 1443.1l11.2 11.2m0 -11.2l-11.2 11.2M882.9 1443.1l11.2 11.2m0 -11.2l-11.2 11.2M905.8 1443.1l11.2 11.2m0 -11.2l-11.2 11.2M928.8 1443.1l11.2 11.2m0 -11.2l-11.2 11.2M951.8 1443.1l11.2 11.2m0 -11.2l-11.2 11.2M125.1 1466.0l11.2 11.2m0 -11.2l-11.2 11.2M148.0 1466.0l11.2 11.2m0 -11.2l-11.2 11.2M171.0 1466.0l11.2 11.2m0 -11.2l-11.2 11.2M194.0 1466.0l11.2 11.2m0 -11.2l-11.2 11.2M262.9 1466.0l11.2 11.2m0 -11.2l-11.2 11.2M285.8 1466.0l11.2 11.2m0 -11.2l-11.2 11.2M308.8 1466.0l11.2 11.2m0 -11.2l-11.2 11.2M331.8 1466.0l11.2 11.2m0 -11.2l-11.2 11.2M377.7 1466.0l11.2 11.2m0 -11.2l-11.2 11.2M400.6 1466.0l11.2 11.2m0 -11.2l-11.2 11.2M469.5 1466.0l11.2 11.2m0 -11.2l-11.2 11.2M492.5 1466.0l11.2 11.2m0 -11.2l-11.2 11.2M515.5 1466.0l11.2 11.2m0 -11.2l-11.2 11.2M561.4 1466.0l11.2 11.2m0 -11.2l-11.2 11.2M584.3 1466.0l11.2 11.2m0 -11.2l-11.2 11.2M607.3 1466.0l11.2 11.2m0 -11.2l-11.2 11.2M630.3 1466.0l11.2 11.2m0 -11.2l-11.2 11.2M653.2 1466.0l11.2 11.2m0 -11.2l-11.2 11.2M676.2 1466.0l11.2 11.2m0 -11.2l-11.2 11.2M745.1 1466.0l11.2 11.2m0 -11.2l-11.2 11.2M859.9 1466.0l11.2 11.2m0 -11.2l-11.2 11.2M882.9 1466.0l11.2 11.2m0 -11.2l-11.2 11.2M905.8 1466.0l11.2 11.2m0 -11.2l-11.2 11.2M928.8 1466.0l11.2 11.2m0 -11.2l-11.2 11.2M951.8 1466.0l11.2 11.2m0 -11.2l-11.2 11.2M974.7 1466.0l11.2 11.2m0 -11.2l-11.2 11.2M125.1 1488.9l11.2 11.2m0 -11.2l-11.2 11.2M148.0 1488.9l11.2 11.2m0 -11.2l-11.2 11.2M171.0 1488.9l11.2 11.2m0 -11.2l-11.2 11.2M194.0 1488.9l11.2 11.2m0 -11.2l-11.2 11.2M216.9 1488.9l11.2 11.2m0 -11.2l-11.2 11.2M262.9 1488.9l11.2 11.2m0 -11.2l-11.2 11.2M285.8 1488.9l11.2 11.2m0 -11.2l-11.2 11.2M331.8 1488.9l11.2 11.2m0 -11.2l-11.2 11.2M354.7 1488.9l11.2 11.2m0 -11.2l-11.2 11.2M377.7 1488.9l11.2 11.2m0 -11.2l-11.2 11.2M400.6 1488.9l11.2 11.2m0 -11.2l-11.2 11.2M423.6 1488.9l11.2 11.2m0 -11.2l-11.2 11.2M469.5 1488.9l11.2 11.2m0 -11.2l-11.2 11.2M492.5 1488.9l11.2 11.2m0 -11.2l-11.2 11.2M515.5 1488.9l11.2 11.2m0 -11.2l-11.2 11.2M538.4 1488.9l11.2 11.2m0 -11.2l-11.2 11.2M561.4 1488.9l11.2 11.2m0 -11.2l-11.2 11.2M584.3 1488.9l11.2 11.2m0 -11.2l-11.2 11.2M607.3 1488.9l11.2 11.2m0 -11.2l-11.2 11.2M653.2 1488.9l11.2 11.2m0 -11.2l-11.2 11.2M676.2 1488.9l11.2 11.2m0 -11.2l-11.2 11.2M745.1 1488.9l11.2 11.2m0 -11.2l-11.2 11.2M791.0 1488.9l11.2 11.2m0 -11.2l-11.2 11.2M836.9 1488.9l11.2 11.2m0 -11.2l-11.2 11.2M859.9 1488.9l11.2 11.2m0 -11.2l-11.2 11.2M882.9 1488.9l11.2 11.2m0 -11.2l-11.2 11.2M905.8 1488.9l11.2 11.2m0 -11.2l-11.2 11.2M928.8 1488.9l11.2 11.2m0 -11.2l-11.2 11.2M951.8 1488.9l11.2 11.2m0 -11.2l-11.2 11.2M974.7 1488.9l11.2 11.2m0 -11.2l-11.2 11.2M148.0 1511.8l11.2 11.2m0 -11.2l-11.2 11.2M194.0 1511.8l11.2 11.2m0 -11.2l-11.2 11.2M216.9 1511.8l11.2 11.2m0 -11.2l-11.2 11.2M239.9 1511.8l11.2 11.2m0 -11.2l-11.2 11.2M262.9 1511.8l11.2 11.2m0 -11.2l-11.2 11.2M285.8 1511.8l11.2 11.2m0 -11.2l-11.2 11.2M354.7 1511.8l11.2 11.2m0 -11.2l-11.2 11.2M377.7 1511.8l11.2 11.2m0 -11.2l-11.2 11.2M400.6 1511.8l11.2 11.2m0 -11.2l-11.2 11.2M423.6 1511.8l11.2 11.2m0 -11.2l-11.2 11.2M446.6 1511.8l11.2 11.2m0 -11.2l-11.2 11.2M469.5 1511.8l11.2 11.2m0 -11.2l-11.2 11.2M492.5 1511.8l11.2 11.2m0 -11.2l-11.2 11.2M584.3 1511.8l11.2 11.2m0 -11.2l-11.2 11.2M607.3 1511.8l11.2 11.2m0 -11.2l-11.2 11.2M653.2 1511.8l11.2 11.2m0 -11.2l-11.2 11.2M722.1 1511.8l11.2 11.2m0 -11.2l-11.2 11.2M745.1 1511.8l11.2 11.2m0 -11.2l-11.2 11.2M768.1 1511.8l11.2 11.2m0 -11.2l-11.2 11.2M791.0 1511.8l11.2 11.2m0 -11.2l-11.2 11.2M836.9 1511.8l11.2 11.2m0 -11.2l-11.2 11.2M859.9 1511.8l11.2 11.2m0 -11.2l-11.2 11.2M882.9 1511.8l11.2 11.2m0 -11.2l-11.2 11.2M905.8 1511.8l11.2 11.2m0 -11.2l-11.2 11.2M928.8 1511.8l11.2 11.2m0 -11.2l-11.2 11.2M951.8 1511.8l11.2 11.2m0 -11.2l-11.2 11.2M974.7 1511.8l11.2 11.2m0 -11.2l-11.2 11.2M148.0 1534.8l11.2 11.2m0 -11.2l-11.2 11.2M194.0 1534.8l11.2 11.2m0 -11.2l-11.2 11.2M216.9 1534.8l11.2 11.2m0 -11.2l-11.2 11.2M285.8 1534.8l11.2 11.2m0 -11.2l-11.2 11.2M354.7 1534.8l11.2 11.2m0 -11.2l-11.2 11.2M423.6 1534.8l11.2 11.2m0 -11.2l-11.2 11.2M446.6 1534.8l11.2 11.2m0 -11.2l-11.2 11.2M492.5 1534.8l11.2 11.2m0 -11.2l-11.2 11.2M584.3 1534.8l11.2 11.2m0 -11.2l-11.2 11.2M607.3 1534.8l11.2 11.2m0 -11.2l-11.2 11.2M630.3 1534.8l11.2 11.2m0 -11.2l-11.2 11.2M653.2 1534.8l11.2 11.2m0 -11.2l-11.2 11.2M676.2 1534.8l11.2 11.2m0 -11.2l-11.2 11.2M745.1 1534.8l11.2 11.2m0 -11.2l-11.2 11.2M791.0 1534.8l11.2 11.2m0 -11.2l-11.2 11.2M836.9 1534.8l11.2 11.2m0 -11.2l-11.2 11.2M859.9 1534.8l11.2 11.2m0 -11.2l-11.2 11.2M882.9 1534.8l11.2 11.2m0 -11.2l-11.2 11.2M905.8 1534.8l11.2 11.2m0 -11.2l-11.2 11.2M928.8 1534.8l11.2 11.2m0 -11.2l-11.2 11.2M951.8 1534.8l11.2 11.2m0 -11.2l-11.2 11.2M974.7 1534.8l11.2 11.2m0 -11.2l-11.2 11.2M148.0 1557.7l11.2 11.2m0 -11.2l-11.2 11.2M171.0 1557.7l11.2 11.2m0 -11.2l-11.2 11.2M194.0 1557.7l11.2 11.2m0 -11.2l-11.2 11.2M216.9 1557.7l11.2 11.2m0 -11.2l-11.2 11.2M239.9 1557.7l11.2 11.2m0 -11.2l-11.2 11.2M262.9 1557.7l11.2 11.2m0 -11.2l-11.2 11.2M285.8 1557.7l11.2 11.2m0 -11.2l-11.2 11.2M308.8 1557.7l11.2 11.2m0 -11.2l-11.2 11.2M331.8 1557.7l11.2 11.2m0 -11.2l-11.2 11.2M446.6 1557.7l11.2 11.2m0 -11.2l-11.2 11.2M561.4 1557.7l11.2 11.2m0 -11.2l-11.2 11.2M584.3 1557.7l11.2 11.2m0 -11.2l-11.2 11.2M607.3 1557.7l11.2 11.2m0 -11.2l-11.2 11.2M653.2 1557.7l11.2 11.2m0 -11.2l-11.2 11.2M676.2 1557.7l11.2 11.2m0 -11.2l-11.2 11.2M699.2 1557.7l11.2 11.2m0 -11.2l-11.2 11.2M722.1 1557.7l11.2 11.2m0 -11.2l-11.2 11.2M745.1 1557.7l11.2 11.2m0 -11.2l-11.2 11.2M768.1 1557.7l11.2 11.2m0 -11.2l-11.2 11.2M791.0 1557.7l11.2 11.2m0 -11.2l-11.2 11.2M814.0 1557.7l11.2 11.2m0 -11.2l-11.2 11.2M836.9 1557.7l11.2 11.2m0 -11.2l-11.2 11.2M859.9 1557.7l11.2 11.2m0 -11.2l-11.2 11.2M882.9 1557.7l11.2 11.2m0 -11.2l-11.2 11.2M905.8 1557.7l11.2 11.2m0 -11.2l-11.2 11.2M928.8 1557.7l11.2 11.2m0 -11.2l-11.2 11.2M951.8 1557.7l11.2 11.2m0 -11.2l-11.2 11.2M125.1 1580.6l11.2 11.2m0 -11.2l-11.2 11.2M148.0 1580.6l11.2 11.2m0 -11.2l-11.2 11.2M171.0 1580.6l11.2 11.2m0 -11.2l-11.2 11.2M216.9 1580.6l11.2 11.2m0 -11.2l-11.2 11.2M239.9 1580.6l11.2 11.2m0 -11.2l-11.2 11.2M262.9 1580.6l11.2 11.2m0 -11.2l-11.2 11.2M285.8 1580.6l11.2 11.2m0 -11.2l-11.2 11.2M308.8 1580.6l11.2 11.2m0 -11.2l-11.2 11.2M354.7 1580.6l11.2 11.2m0 -11.2l-11.2 11.2M377.7 1580.6l11.2 11.2m0 -11.2l-11.2 11.2M400.6 1580.6l11.2 11.2m0 -11.2l-11.2 11.2M423.6 1580.6l11.2 11.2m0 -11.2l-11.2 11.2M446.6 1580.6l11.2 11.2m0 -11.2l-11.2 11.2M469.5 1580.6l11.2 11.2m0 -11.2l-11.2 11.2M515.5 1580.6l11.2 11.2m0 -11.2l-11.2 11.2M538.4 1580.6l11.2 11.2m0 -11.2l-11.2 11.2M561.4 1580.6l11.2 11.2m0 -11.2l-11.2 11.2M584.3 1580.6l11.2 11.2m0 -11.2l-11.2 11.2M607.3 1580.6l11.2 11.2m0 -11.2l-11.2 11.2M722.1 1580.6l11.2 11.2m0 -11.2l-11.2 11.2M745.1 1580.6l11.2 11.2m0 -11.2l-11.2 11.2M768.1 1580.6l11.2 11.2m0 -11.2l-11.2 11.2M791.0 1580.6l11.2 11.2m0 -11.2l-11.2 11.2M814.0 1580.6l11.2 11.2m0 -11.2l-11.2 11.2M836.9 1580.6l11.2 11.2m0 -11.2l-11.2 11.2M859.9 1580.6l11.2 11.2m0 -11.2l-11.2 11.2M882.9 1580.6l11.2 11.2m0 -11.2l-11.2 11.2M905.8 1580.6l11.2 11.2m0 -11.2l-11.2 11.2M928.8 1580.6l11.2 11.2m0 -11.2l-11.2 11.2M125.1 1603.6l11.2 11.2m0 -11.2l-11.2 11.2M148.0 1603.6l11.2 11.2m0 -11.2l-11.2 11.2M239.9 1603.6l11.2 11.2m0 -11.2l-11.2 11.2M262.9 1603.6l11.2 11.2m0 -11.2l-11.2 11.2M285.8 1603.6l11.2 11.2m0 -11.2l-11.2 11.2M354.7 1603.6l11.2 11.2m0 -11.2l-11.2 11.2M469.5 1603.6l11.2 11.2m0 -11.2l-11.2 11.2M492.5 1603.6l11.2 11.2m0 -11.2l-11.2 11.2M538.4 1603.6l11.2 11.2m0 -11.2l-11.2 11.2M561.4 1603.6l11.2 11.2m0 -11.2l-11.2 11.2M584.3 1603.6l11.2 11.2m0 -11.2l-11.2 11.2M607.3 1603.6l11.2 11.2m0 -11.2l-11.2 11.2M722.1 1603.6l11.2 11.2m0 -11.2l-11.2 11.2M745.1 1603.6l11.2 11.2m0 -11.2l-11.2 11.2M768.1 1603.6l11.2 11.2m0 -11.2l-11.2 11.2M791.0 1603.6l11.2 11.2m0 -11.2l-11.2 11.2M814.0 1603.6l11.2 11.2m0 -11.2l-11.2 11.2M836.9 1603.6l11.2 11.2m0 -11.2l-11.2 11.2M859.9 1603.6l11.2 11.2m0 -11.2l-11.2 11.2M882.9 1603.6l11.2 11.2m0 -11.2l-11.2 11.2M905.8 1603.6l11.2 11.2m0 -11.2l-11.2 11.2M928.8 1603.6l11.2 11.2m0 -11.2l-11.2 11.2M125.1 1626.5l11.2 11.2m0 -11.2l-11.2 11.2M148.0 1626.5l11.2 11.2m0 -11.2l-11.2 11.2M239.9 1626.5l11.2 11.2m0 -11.2l-11.2 11.2M262.9 1626.5l11.2 11.2m0 -11.2l-11.2 11.2M285.8 1626.5l11.2 11.2m0 -11.2l-11.2 11.2M308.8 1626.5l11.2 11.2m0 -11.2l-11.2 11.2M331.8 1626.5l11.2 11.2m0 -11.2l-11.2 11.2M354.7 1626.5l11.2 11.2m0 -11.2l-11.2 11.2M377.7 1626.5l11.2 11.2m0 -11.2l-11.2 11.2M423.6 1626.5l11.2 11.2m0 -11.2l-11.2 11.2M446.6 1626.5l11.2 11.2m0 -11.2l-11.2 11.2M469.5 1626.5l11.2 11.2m0 -11.2l-11.2 11.2M492.5 1626.5l11.2 11.2m0 -11.2l-11.2 11.2M515.5 1626.5l11.2 11.2m0 -11.2l-11.2 11.2M538.4 1626.5l11.2 11.2m0 -11.2l-11.2 11.2M584.3 1626.5l11.2 11.2m0 -11.2l-11.2 11.2M607.3 1626.5l11.2 11.2m0 -11.2l-11.2 11.2M653.2 1626.5l11.2 11.2m0 -11.2l-11.2 11.2M699.2 1626.5l11.2 11.2m0 -11.2l-11.2 11.2M836.9 1626.5l11.2 11.2m0 -11.2l-11.2 11.2M905.8 1626.5l11.2 11.2m0 -11.2l-11.2 11.2M928.8 1626.5l11.2 11.2m0 -11.2l-11.2 11.2M148.0 1649.4l11.2 11.2m0 -11.2l-11.2 11.2M171.0 1649.4l11.2 11.2m0 -11.2l-11.2 11.2M194.0 1649.4l11.2 11.2m0 -11.2l-11.2 11.2M216.9 1649.4l11.2 11.2m0 -11.2l-11.2 11.2M239.9 1649.4l11.2 11.2m0 -11.2l-11.2 11.2M262.9 1649.4l11.2 11.2m0 -11.2l-11.2 11.2M285.8 1649.4l11.2 11.2m0 -11.2l-11.2 11.2M354.7 1649.4l11.2 11.2m0 -11.2l-11.2 11.2M377.7 1649.4l11.2 11.2m0 -11.2l-11.2 11.2M423.6 1649.4l11.2 11.2m0 -11.2l-11.2 11.2M446.6 1649.4l11.2 11.2m0 -11.2l-11.2 11.2M469.5 1649.4l11.2 11.2m0 -11.2l-11.2 11.2M492.5 1649.4l11.2 11.2m0 -11.2l-11.2 11.2M515.5 1649.4l11.2 11.2m0 -11.2l-11.2 11.2M538.4 1649.4l11.2 11.2m0 -11.2l-11.2 11.2M905.8 1649.4l11.2 11.2m0 -11.2l-11.2 11.2M928.8 1649.4l11.2 11.2m0 -11.2l-11.2 11.2M148.0 1672.3l11.2 11.2m0 -11.2l-11.2 11.2M239.9 1672.3l11.2 11.2m0 -11.2l-11.2 11.2M262.9 1672.3l11.2 11.2m0 -11.2l-11.2 11.2M492.5 1672.3l11.2 11.2m0 -11.2l-11.2 11.2M515.5 1672.3l11.2 11.2m0 -11.2l-11.2 11.2M538.4 1672.3l11.2 11.2m0 -11.2l-11.2 11.2M561.4 1672.3l11.2 11.2m0 -11.2l-11.2 11.2M607.3 1672.3l11.2 11.2m0 -11.2l-11.2 11.2M630.3 1672.3l11.2 11.2m0 -11.2l-11.2 11.2M653.2 1672.3l11.2 11.2m0 -11.2l-11.2 11.2M699.2 1672.3l11.2 11.2m0 -11.2l-11.2 11.2M768.1 1672.3l11.2 11.2m0 -11.2l-11.2 11.2M836.9 1672.3l11.2 11.2m0 -11.2l-11.2 11.2M859.9 1672.3l11.2 11.2m0 -11.2l-11.2 11.2M928.8 1672.3l11.2 11.2m0 -11.2l-11.2 11.2" stroke="#000" stroke-width="3.2" fill="none"/>
<path d="M130.68 1689.40v10.3M245.50 1689.40v10.3M360.31 1689.40v10.3M475.13 1689.40v10.3M589.94 1689.40v10.3M704.76 1689.40v10.3M819.58 1689.40v10.3M934.39 1689.40v10.3M119.20 1379.86h-10.3M119.20 1425.72h-10.3M119.20 1471.58h-10.3M119.20 1517.44h-10.3M119.20 1563.29h-10.3M119.20 1609.15h-10.3M119.20 1655.01h-10.3" stroke="#000" stroke-width="2.5" fill="none"/>
<text x="130.68" y="1724.00" font-size="28.5" text-anchor="middle">1980</text>
<text x="245.50" y="1724.00" font-size="28.5" text-anchor="middle">1985</text>
<text x="360.31" y="1724.00" font-size="28.5" text-anchor="middle">1990</text>
<text x="475.13" y="1724.00" font-size="28.5" text-anchor="middle">1995</text>
<text x="589.94" y="1724.00" font-size="28.5" text-anchor="middle">2000</text>
<text x="704.76" y="1724.00" font-size="28.5" text-anchor="middle">2005</text>
<text x="819.58" y="1724.00" font-size="28.5" text-anchor="middle">2010</text>
<text x="934.39" y="1724.00" font-size="28.5" text-anchor="middle">2015</text>
<text x="105.40" y="1390.36" font-size="28.5" text-anchor="end">850</text>
<text x="105.40" y="1436.22" font-size="28.5" text-anchor="end">750</text>
<text x="105.40" y="1482.08" font-size="28.5" text-anchor="end">660</text>
<text x="105.40" y="1527.94" font-size="28.5" text-anchor="end">580</text>
<text x="105.40" y="1573.79" font-size="28.5" text-anchor="end">520</text>
<text x="105.40" y="1619.65" font-size="28.5" text-anchor="end">460</text>
<text x="105.40" y="1665.51" font-size="28.5" text-anchor="end">410</text>
<text transform="translate(44.50 1532.50) rotate(-90)" font-size="28.5" text-anchor="middle">Potential temperature [K]</text>
<text x="122.80" y="1356.00" font-size="35.2">(g)</text>
<text x="552.50" y="1356.80" font-size="38.2" text-anchor="middle">MERRA-2 mean diffs</text>
</g>
<g id="panel-h">
<rect x="1158.30" y="1368.40" width="23.26" height="23.23" fill="#32a6c2"/>
<rect x="1181.26" y="1368.40" width="23.26" height="23.23" fill="#67c4be"/>
<rect x="1204.23" y="1368.40" width="92.15" height="23.23" fill="#48b9c3"/>
<rect x="1296.08" y="1368.40" width="23.26" height="23.23" fill="#1f93c0"/>
<rect x="1319.04" y="1368.40" width="23.26" height="23.23" fill="#48b9c3"/>
<rect x="1342.01" y="1368.40" width="23.26" height="23.23" fill="#32a6c2"/>
<rect x="1364.97" y="1368.40" width="23.26" height="23.23" fill="#48b9c3"/>
<rect x="1387.93" y="1368.40" width="23.26" height="23.23" fill="#2075b3"/>
<rect x="1410.89" y="1368.40" width="69.19" height="23.23" fill="#85cfba"/>
<rect x="1479.78" y="1368.40" width="23.26" height="23.23" fill="#48b9c3"/>
<rect x="1502.75" y="1368.40" width="69.19" height="23.23" fill="#1f93c0"/>
<rect x="1571.64" y="1368.40" width="23.26" height="23.23" fill="#67c4be"/>
<rect x="1594.60" y="1368.40" width="23.26" height="23.23" fill="#c6e9b4"/>
<rect x="1617.56" y="1368.40" width="23.26" height="23.23" fill="#1f93c0"/>
<rect x="1640.53" y="1368.40" width="23.26" height="23.23" fill="#22328f"/>
<rect x="1663.49" y="1368.40" width="23.26" height="23.23" fill="#c6e9b4"/>
<rect x="1686.45" y="1368.40" width="69.19" height="23.23" fill="#a5dcb7"/>
<rect x="1755.34" y="1368.40" width="69.19" height="23.23" fill="#85cfba"/>
<rect x="1824.23" y="1368.40" width="23.26" height="23.23" fill="#c6e9b4"/>
<rect x="1847.19" y="1368.40" width="23.26" height="23.23" fill="#a5dcb7"/>
<rect x="1870.16" y="1368.40" width="23.26" height="23.23" fill="#85cfba"/>
<rect x="1893.12" y="1368.40" width="23.26" height="23.23" fill="#a5dcb7"/>
<rect x="1916.08" y="1368.40" width="23.26" height="23.23" fill="#c6e9b4"/>
<rect x="1939.05" y="1368.40" width="23.26" height="23.23" fill="#85cfba"/>
<rect x="1962.01" y="1368.40" width="23.26" height="23.23" fill="#c6e9b4"/>
<rect x="1984.97" y="1368.40" width="23.26" height="23.23" fill="#67c4be"/>
<rect x="2007.94" y="1368.40" width="23.26" height="23.23" fill="#85cfba"/>
<rect x="1158.30" y="1391.33" width="23.26" height="23.23" fill="#32a6c2"/>
<rect x="1181.26" y="1391.33" width="23.26" height="23.23" fill="#67c4be"/>
<rect x="1204.23" y="1391.33" width="23.26" height="23.23" fill="#48b9c3"/>
<rect x="1227.19" y="1391.33" width="23.26" height="23.23" fill="#67c4be"/>
<rect x="1250.15" y="1391.33" width="23.26" height="23.23" fill="#32a6c2"/>
<rect x="1273.12" y="1391.33" width="23.26" height="23.23" fill="#85cfba"/>
<rect x="1296.08" y="1391.33" width="46.23" height="23.23" fill="#48b9c3"/>
<rect x="1342.01" y="1391.33" width="23.26" height="23.23" fill="#32a6c2"/>
<rect x="1364.97" y="1391.33" width="23.26" height="23.23" fill="#67c4be"/>
<rect x="1387.93" y="1391.33" width="23.26" height="23.23" fill="#48b9c3"/>
<rect x="1410.89" y="1391.33" width="69.19" height="23.23" fill="#85cfba"/>
<rect x="1479.78" y="1391.33" width="23.26" height="23.23" fill="#48b9c3"/>
<rect x="1502.75" y="1391.33" width="23.26" height="23.23" fill="#0c2060"/>
<rect x="1525.71" y="1391.33" width="23.26" height="23.23" fill="#1f93c0"/>
<rect x="1548.67" y="1391.33" width="46.23" height="23.23" fill="#48b9c3"/>
<rect x="1594.60" y="1391.33" width="23.26" height="23.23" fill="#c6e9b4"/>
<rect x="1617.56" y="1391.33" width="23.26" height="23.23" fill="#67c4be"/>
<rect x="1640.53" y="1391.33" width="23.26" height="23.23" fill="#22328f"/>
<rect x="1663.49" y="1391.33" width="69.19" height="23.23" fill="#c6e9b4"/>
<rect x="1732.38" y="1391.33" width="23.26" height="23.23" fill="#85cfba"/>
<rect x="1755.34" y="1391.33" width="23.26" height="23.23" fill="#a5dcb7"/>
<rect x="1778.31" y="1391.33" width="46.23" height="23.23" fill="#85cfba"/>
<rect x="1824.23" y="1391.33" width="23.26" height="23.23" fill="#c6e9b4"/>
<rect x="1847.19" y="1391.33" width="23.26" height="23.23" fill="#a5dcb7"/>
<rect x="1870.16" y="1391.33" width="23.26" height="23.23" fill="#67c4be"/>
<rect x="1893.12" y="1391.33" width="92.15" height="23.23" fill="#c6e9b4"/>
<rect x="1984.97" y="1391.33" width="23.26" height="23.23" fill="#85cfba"/>
<rect x="2007.94" y="1391.33" width="23.26" height="23.23" fill="#a5dcb7"/>
<rect x="1158.30" y="1414.26" width="23.26" height="23.23" fill="#67c4be"/>
<rect x="1181.26" y="1414.26" width="23.26" height="23.23" fill="#85cfba"/>
<rect x="1204.23" y="1414.26" width="23.26" height="23.23" fill="#32a6c2"/>
<rect x="1227.19" y="1414.26" width="23.26" height="23.23" fill="#85cfba"/>
<rect x="1250.15" y="1414.26" width="69.19" height="23.23" fill="#67c4be"/>
<rect x="1319.04" y="1414.26" width="23.26" height="23.23" fill="#c6e9b4"/>
<rect x="1342.01" y="1414.26" width="46.23" height="23.23" fill="#85cfba"/>
<rect x="1387.93" y="1414.26" width="23.26" height="23.23" fill="#67c4be"/>
<rect x="1410.89" y="1414.26" width="69.19" height="23.23" fill="#85cfba"/>
<rect x="1479.78" y="1414.26" width="23.26" height="23.23" fill="#48b9c3"/>
<rect x="1502.75" y="1414.26" width="23.26" height="23.23" fill="#0c2060"/>
<rect x="1525.71" y="1414.26" width="23.26" height="23.23" fill="#2075b3"/>
<rect x="1548.67" y="1414.26" width="23.26" height="23.23" fill="#32a6c2"/>
<rect x="1571.64" y="1414.26" width="23.26" height="23.23" fill="#48b9c3"/>
<rect x="1594.60" y="1414.26" width="23.26" height="23.23" fill="#c6e9b4"/>
<rect x="1617.56" y="1414.26" width="23.26" height="23.23" fill="#67c4be"/>
<rect x="1640.53" y="1414.26" width="23.26" height="23.23" fill="#1f93c0"/>
<rect x="1663.49" y="1414.26" width="69.19" height="23.23" fill="#c6e9b4"/>
<rect x="1732.38" y="1414.26" width="46.23" height="23.23" fill="#85cfba"/>
<rect x="1778.31" y="1414.26" width="23.26" height="23.23" fill="#a5dcb7"/>
<rect x="1801.27" y="1414.26" width="23.26" height="23.23" fill="#85cfba"/>
<rect x="1824.23" y="1414.26" width="23.26" height="23.23" fill="#c6e9b4"/>
<rect x="1847.19" y="1414.26" width="23.26" height="23.23" fill="#85cfba"/>
<rect x="1870.16" y="1414.26" width="23.26" height="23.23" fill="#a5dcb7"/>
<rect x="1893.12" y="1414.26" width="23.26" height="23.23" fill="#c6e9b4"/>
<rect x="1916.08" y="1414.26" width="23.26" height="23.23" fill="#d9f0b3"/>
<rect x="1939.05" y="1414.26" width="46.23" height="23.23" fill="#c6e9b4"/>
<rect x="1984.97" y="1414.26" width="23.26" height="23.23" fill="#85cfba"/>
<rect x="2007.94" y="1414.26" width="23.26" height="23.23" fill="#c6e9b4"/>
<rect x="1158.30" y="1437.19" width="46.23" height="23.23" fill="#85cfba"/>
<rect x="1204.23" y="1437.19" width="23.26" height="23.23" fill="#48b9c3"/>
<rect x="1227.19" y="1437.19" width="23.26" height="23.23" fill="#67c4be"/>
<rect x="1250.15" y="1437.19" width="46.23" height="23.23" fill="#85cfba"/>
<rect x="1296.08" y="1437.19" width="23.26" height="23.23" fill="#67c4be"/>
<rect x="1319.04" y="1437.19" width="23.26" height="23.23" fill="#c6e9b4"/>
<rect x="1342.01" y="1437.19" width="23.26" height="23.23" fill="#a5dcb7"/>
<rect x="1364.97" y="1437.19" width="23.26" height="23.23" fill="#85cfba"/>
<rect x="1387.93" y="1437.19" width="23.26" height="23.23" fill="#a5dcb7"/>
<rect x="1410.89" y="1437.19" width="23.26" height="23.23" fill="#67c4be"/>
<rect x="1433.86" y="1437.19" width="46.23" height="23.23" fill="#85cfba"/>
<rect x="1479.78" y="1437.19" width="23.26" height="23.23" fill="#67c4be"/>
<rect x="1502.75" y="1437.19" width="23.26" height="23.23" fill="#32a6c2"/>
<rect x="1525.71" y="1437.19" width="46.23" height="23.23" fill="#48b9c3"/>
<rect x="1571.64" y="1437.19" width="23.26" height="23.23" fill="#85cfba"/>
<rect x="1594.60" y="1437.19" width="23.26" height="23.23" fill="#a5dcb7"/>
<rect x="1617.56" y="1437.19" width="23.26" height="23.23" fill="#85cfba"/>
<rect x="1640.53" y="1437.19" width="23.26" height="23.23" fill="#67c4be"/>
<rect x="1663.49" y="1437.19" width="23.26" height="23.23" fill="#d9f0b3"/>
<rect x="1686.45" y="1437.19" width="23.26" height="23.23" fill="#c6e9b4"/>
<rect x="1709.42" y="1437.19" width="46.23" height="23.23" fill="#a5dcb7"/>
<rect x="1755.34" y="1437.19" width="23.26" height="23.23" fill="#85cfba"/>
<rect x="1778.31" y="1437.19" width="46.23" height="23.23" fill="#a5dcb7"/>
<rect x="1824.23" y="1437.19" width="23.26" height="23.23" fill="#c6e9b4"/>
<rect x="1847.19" y="1437.19" width="46.23" height="23.23" fill="#a5dcb7"/>
<rect x="1893.12" y="1437.19" width="69.19" height="23.23" fill="#c6e9b4"/>
<rect x="1962.01" y="1437.19" width="46.23" height="23.23" fill="#a5dcb7"/>
<rect x="2007.94" y="1437.19" width="23.26" height="23.23" fill="#c6e9b4"/>
<rect x="1158.30" y="1460.11" width="46.23" height="23.23" fill="#a5dcb7"/>
<rect x="1204.23" y="1460.11" width="23.26" height="23.23" fill="#67c4be"/>
<rect x="1227.19" y="1460.11" width="23.26" height="23.23" fill="#85cfba"/>
<rect x="1250.15" y="1460.11" width="23.26" height="23.23" fill="#a5dcb7"/>
<rect x="1273.12" y="1460.11" width="46.23" height="23.23" fill="#85cfba"/>
<rect x="1319.04" y="1460.11" width="23.26" height="23.23" fill="#c6e9b4"/>
<rect x="1342.01" y="1460.11" width="69.19" height="23.23" fill="#a5dcb7"/>
<rect x="1410.89" y="1460.11" width="23.26" height="23.23" fill="#85cfba"/>
<rect x="1433.86" y="1460.11" width="69.19" height="23.23" fill="#a5dcb7"/>
<rect x="1502.75" y="1460.11" width="23.26" height="23.23" fill="#32a6c2"/>
<rect x="1525.71" y="1460.11" width="23.26" height="23.23" fill="#67c4be"/>
<rect x="1548.67" y="1460.11" width="46.23" height="23.23" fill="#85cfba"/>
<rect x="1594.60" y="1460.11" width="69.19" height="23.23" fill="#a5dcb7"/>
<rect x="1663.49" y="1460.11" width="23.26" height="23.23" fill="#c6e9b4"/>
<rect x="1686.45" y="1460.11" width="92.15" height="23.23" fill="#a5dcb7"/>
<rect x="1778.31" y="1460.11" width="23.26" height="23.23" fill="#c6e9b4"/>
<rect x="1801.27" y="1460.11" width="23.26" height="23.23" fill="#a5dcb7"/>
<rect x="1824.23" y="1460.11" width="46.23" height="23.23" fill="#c6e9b4"/>
<rect x="1870.16" y="1460.11" width="23.26" height="23.23" fill="#a5dcb7"/>
<rect x="1893.12" y="1460.11" width="92.15" height="23.23" fill="#c6e9b4"/>
<rect x="1984.97" y="1460.11" width="23.26" height="23.23" fill="#85cfba"/>
<rect x="2007.94" y="1460.11" width="23.26" height="23.23" fill="#a5dcb7"/>
<rect x="1158.30" y="1483.04" width="46.23" height="23.23" fill="#c6e9b4"/>
<rect x="1204.23" y="1483.04" width="23.26" height="23.23" fill="#a5dcb7"/>
<rect x="1227.19" y="1483.04" width="23.26" height="23.23" fill="#85cfba"/>
<rect x="1250.15" y="1483.04" width="46.23" height="23.23" fill="#a5dcb7"/>
<rect x="1296.08" y="1483.04" width="23.26" height="23.23" fill="#85cfba"/>
<rect x="1319.04" y="1483.04" width="69.19" height="23.23" fill="#c6e9b4"/>
<rect x="1387.93" y="1483.04" width="115.12" height="23.23" fill="#a5dcb7"/>
<rect x="1502.75" y="1483.04" width="23.26" height="23.23" fill="#48b9c3"/>
<rect x="1525.71" y="1483.04" width="23.26" height="23.23" fill="#67c4be"/>
<rect x="1548.67" y="1483.04" width="46.23" height="23.23" fill="#a5dcb7"/>
<rect x="1594.60" y="1483.04" width="23.26" height="23.23" fill="#c6e9b4"/>
<rect x="1617.56" y="1483.04" width="46.23" height="23.23" fill="#a5dcb7"/>
<rect x="1663.49" y="1483.04" width="23.26" height="23.23" fill="#c6e9b4"/>
<rect x="1686.45" y="1483.04" width="23.26" height="23.23" fill="#85cfba"/>
<rect x="1709.42" y="1483.04" width="115.12" height="23.23" fill="#c6e9b4"/>
<rect x="1824.23" y="1483.04" width="23.26" height="23.23" fill="#d9f0b3"/>
<rect x="1847.19" y="1483.04" width="92.15" height="23.23" fill="#c6e9b4"/>
<rect x="1939.05" y="1483.04" width="23.26" height="23.23" fill="#d9f0b3"/>
<rect x="1962.01" y="1483.04" width="23.26" height="23.23" fill="#a5dcb7"/>
<rect x="1984.97" y="1483.04" width="23.26" height="23.23" fill="#85cfba"/>
<rect x="2007.94" y="1483.04" width="23.26" height="23.23" fill="#a5dcb7"/>
<rect x="1158.30" y="1505.97" width="23.26" height="23.23" fill="#d9f0b3"/>
<rect x="1181.26" y="1505.97" width="23.26" height="23.23" fill="#c6e9b4"/>
<rect x="1204.23" y="1505.97" width="46.23" height="23.23" fill="#a5dcb7"/>
<rect x="1250.15" y="1505.97" width="23.26" height="23.23" fill="#c6e9b4"/>
<rect x="1273.12" y="1505.97" width="46.23" height="23.23" fill="#a5dcb7"/>
<rect x="1319.04" y="1505.97" width="23.26" height="23.23" fill="#c6e9b4"/>
<rect x="1342.01" y="1505.97" width="23.26" height="23.23" fill="#d9f0b3"/>
<rect x="1364.97" y="1505.97" width="23.26" height="23.23" fill="#a5dcb7"/>
<rect x="1387.93" y="1505.97" width="115.12" height="23.23" fill="#c6e9b4"/>
<rect x="1502.75" y="1505.97" width="46.23" height="23.23" fill="#85cfba"/>
<rect x="1548.67" y="1505.97" width="46.23" height="23.23" fill="#c6e9b4"/>
<rect x="1594.60" y="1505.97" width="23.26" height="23.23" fill="#eaf7b1"/>
<rect x="1617.56" y="1505.97" width="23.26" height="23.23" fill="#a5dcb7"/>
<rect x="1640.53" y="1505.97" width="46.23" height="23.23" fill="#d9f0b3"/>
<rect x="1686.45" y="1505.97" width="46.23" height="23.23" fill="#c6e9b4"/>
<rect x="1732.38" y="1505.97" width="23.26" height="23.23" fill="#d9f0b3"/>
<rect x="1755.34" y="1505.97" width="69.19" height="23.23" fill="#c6e9b4"/>
<rect x="1824.23" y="1505.97" width="23.26" height="23.23" fill="#d9f0b3"/>
<rect x="1847.19" y="1505.97" width="46.23" height="23.23" fill="#c6e9b4"/>
<rect x="1893.12" y="1505.97" width="69.19" height="23.23" fill="#d9f0b3"/>
<rect x="1962.01" y="1505.97" width="23.26" height="23.23" fill="#c6e9b4"/>
<rect x="1984.97" y="1505.97" width="23.26" height="23.23" fill="#a5dcb7"/>
<rect x="2007.94" y="1505.97" width="23.26" height="23.23" fill="#c6e9b4"/>
<rect x="1158.30" y="1528.90" width="23.26" height="23.23" fill="#d9f0b3"/>
<rect x="1181.26" y="1528.90" width="23.26" height="23.23" fill="#a5dcb7"/>
<rect x="1204.23" y="1528.90" width="138.08" height="23.23" fill="#c6e9b4"/>
<rect x="1342.01" y="1528.90" width="23.26" height="23.23" fill="#d9f0b3"/>
<rect x="1364.97" y="1528.90" width="115.12" height="23.23" fill="#c6e9b4"/>
<rect x="1479.78" y="1528.90" width="23.26" height="23.23" fill="#d9f0b3"/>
<rect x="1502.75" y="1528.90" width="23.26" height="23.23" fill="#c6e9b4"/>
<rect x="1525.71" y="1528.90" width="23.26" height="23.23" fill="#a5dcb7"/>
<rect x="1548.67" y="1528.90" width="23.26" height="23.23" fill="#d9f0b3"/>
<rect x="1571.64" y="1528.90" width="23.26" height="23.23" fill="#c6e9b4"/>
<rect x="1594.60" y="1528.90" width="23.26" height="23.23" fill="#eaf7b1"/>
<rect x="1617.56" y="1528.90" width="23.26" height="23.23" fill="#c6e9b4"/>
<rect x="1640.53" y="1528.90" width="138.08" height="23.23" fill="#d9f0b3"/>
<rect x="1778.31" y="1528.90" width="23.26" height="23.23" fill="#c6e9b4"/>
<rect x="1801.27" y="1528.90" width="69.19" height="23.23" fill="#d9f0b3"/>
<rect x="1870.16" y="1528.90" width="23.26" height="23.23" fill="#c6e9b4"/>
<rect x="1893.12" y="1528.90" width="46.23" height="23.23" fill="#d9f0b3"/>
<rect x="1939.05" y="1528.90" width="23.26" height="23.23" fill="#c6e9b4"/>
<rect x="1962.01" y="1528.90" width="23.26" height="23.23" fill="#d9f0b3"/>
<rect x="1984.97" y="1528.90" width="46.23" height="23.23" fill="#c6e9b4"/>
<rect x="1158.30" y="1551.83" width="23.26" height="23.23" fill="#d9f0b3"/>
<rect x="1181.26" y="1551.83" width="23.26" height="23.23" fill="#c6e9b4"/>
<rect x="1204.23" y="1551.83" width="46.23" height="23.23" fill="#d9f0b3"/>
<rect x="1250.15" y="1551.83" width="23.26" height="23.23" fill="#c6e9b4"/>
<rect x="1273.12" y="1551.83" width="69.19" height="23.23" fill="#d9f0b3"/>
<rect x="1342.01" y="1551.83" width="23.26" height="23.23" fill="#eaf7b1"/>
<rect x="1364.97" y="1551.83" width="69.19" height="23.23" fill="#c6e9b4"/>
<rect x="1433.86" y="1551.83" width="23.26" height="23.23" fill="#d9f0b3"/>
<rect x="1456.82" y="1551.83" width="23.26" height="23.23" fill="#c6e9b4"/>
<rect x="1479.78" y="1551.83" width="23.26" height="23.23" fill="#d9f0b3"/>
<rect x="1502.75" y="1551.83" width="23.26" height="23.23" fill="#eaf7b1"/>
<rect x="1525.71" y="1551.83" width="69.19" height="23.23" fill="#d9f0b3"/>
<rect x="1594.60" y="1551.83" width="23.26" height="23.23" fill="#f4fbc0"/>
<rect x="1617.56" y="1551.83" width="69.19" height="23.23" fill="#d9f0b3"/>
<rect x="1686.45" y="1551.83" width="23.26" height="23.23" fill="#c6e9b4"/>
<rect x="1709.42" y="1551.83" width="23.26" height="23.23" fill="#eaf7b1"/>
<rect x="1732.38" y="1551.83" width="92.15" height="23.23" fill="#d9f0b3"/>
<rect x="1824.23" y="1551.83" width="23.26" height="23.23" fill="#eaf7b1"/>
<rect x="1847.19" y="1551.83" width="23.26" height="23.23" fill="#d9f0b3"/>
<rect x="1870.16" y="1551.83" width="23.26" height="23.23" fill="#c6e9b4"/>
<rect x="1893.12" y="1551.83" width="46.23" height="23.23" fill="#eaf7b1"/>
<rect x="1939.05" y="1551.83" width="92.15" height="23.23" fill="#d9f0b3"/>
<rect x="1158.30" y="1574.76" width="23.26" height="23.23" fill="#d9f0b3"/>
<rect x="1181.26" y="1574.76" width="23.26" height="23.23" fill="#c6e9b4"/>
<rect x="1204.23" y="1574.76" width="138.08" height="23.23" fill="#d9f0b3"/>
<rect x="1342.01" y="1574.76" width="23.26" height="23.23" fill="#eaf7b1"/>
<rect x="1364.97" y="1574.76" width="23.26" height="23.23" fill="#c6e9b4"/>
<rect x="1387.93" y="1574.76" width="23.26" height="23.23" fill="#a5dcb7"/>
<rect x="1410.89" y="1574.76" width="23.26" height="23.23" fill="#d9f0b3"/>
<rect x="1433.86" y="1574.76" width="23.26" height="23.23" fill="#eaf7b1"/>
<rect x="1456.82" y="1574.76" width="23.26" height="23.23" fill="#d9f0b3"/>
<rect x="1479.78" y="1574.76" width="23.26" height="23.23" fill="#eaf7b1"/>
<rect x="1502.75" y="1574.76" width="46.23" height="23.23" fill="#d9f0b3"/>
<rect x="1548.67" y="1574.76" width="23.26" height="23.23" fill="#eaf7b1"/>
<rect x="1571.64" y="1574.76" width="23.26" height="23.23" fill="#d9f0b3"/>
<rect x="1594.60" y="1574.76" width="23.26" height="23.23" fill="#f4fbc0"/>
<rect x="1617.56" y="1574.76" width="23.26" height="23.23" fill="#d9f0b3"/>
<rect x="1640.53" y="1574.76" width="23.26" height="23.23" fill="#eaf7b1"/>
<rect x="1663.49" y="1574.76" width="23.26" height="23.23" fill="#f4fbc0"/>
<rect x="1686.45" y="1574.76" width="23.26" height="23.23" fill="#d9f0b3"/>
<rect x="1709.42" y="1574.76" width="92.15" height="23.23" fill="#eaf7b1"/>
<rect x="1801.27" y="1574.76" width="23.26" height="23.23" fill="#d9f0b3"/>
<rect x="1824.23" y="1574.76" width="115.12" height="23.23" fill="#eaf7b1"/>
<rect x="1939.05" y="1574.76" width="23.26" height="23.23" fill="#d9f0b3"/>
<rect x="1962.01" y="1574.76" width="69.19" height="23.23" fill="#eaf7b1"/>
<rect x="1158.30" y="1597.69" width="23.26" height="23.23" fill="#eaf7b1"/>
<rect x="1181.26" y="1597.69" width="23.26" height="23.23" fill="#c6e9b4"/>
<rect x="1204.23" y="1597.69" width="46.23" height="23.23" fill="#d9f0b3"/>
<rect x="1250.15" y="1597.69" width="69.19" height="23.23" fill="#eaf7b1"/>
<rect x="1319.04" y="1597.69" width="23.26" height="23.23" fill="#d9f0b3"/>
<rect x="1342.01" y="1597.69" width="23.26" height="23.23" fill="#eaf7b1"/>
<rect x="1364.97" y="1597.69" width="46.23" height="23.23" fill="#d9f0b3"/>
<rect x="1410.89" y="1597.69" width="92.15" height="23.23" fill="#eaf7b1"/>
<rect x="1502.75" y="1597.69" width="23.26" height="23.23" fill="#d9f0b3"/>
<rect x="1525.71" y="1597.69" width="23.26" height="23.23" fill="#eaf7b1"/>
<rect x="1548.67" y="1597.69" width="23.26" height="23.23" fill="#f4fbc0"/>
<rect x="1571.64" y="1597.69" width="23.26" height="23.23" fill="#eaf7b1"/>
<rect x="1594.60" y="1597.69" width="23.26" height="23.23" fill="#f4fbc0"/>
<rect x="1617.56" y="1597.69" width="46.23" height="23.23" fill="#eaf7b1"/>
<rect x="1663.49" y="1597.69" width="23.26" height="23.23" fill="#f4fbc0"/>
<rect x="1686.45" y="1597.69" width="23.26" height="23.23" fill="#eaf7b1"/>
<rect x="1709.42" y="1597.69" width="23.26" height="23.23" fill="#f4fbc0"/>
<rect x="1732.38" y="1597.69" width="161.04" height="23.23" fill="#eaf7b1"/>
<rect x="1893.12" y="1597.69" width="69.19" height="23.23" fill="#f4fbc0"/>
<rect x="1962.01" y="1597.69" width="46.23" height="23.23" fill="#eaf7b1"/>
<rect x="2007.94" y="1597.69" width="23.26" height="23.23" fill="#f4fbc0"/>
<rect x="1158.30" y="1620.61" width="23.26" height="23.23" fill="#f4fbc0"/>
<rect x="1181.26" y="1620.61" width="23.26" height="23.23" fill="#eaf7b1"/>
<rect x="1204.23" y="1620.61" width="23.26" height="23.23" fill="#f4fbc0"/>
<rect x="1227.19" y="1620.61" width="115.12" height="23.23" fill="#eaf7b1"/>
<rect x="1342.01" y="1620.61" width="23.26" height="23.23" fill="#f4fbc0"/>
<rect x="1364.97" y="1620.61" width="46.23" height="23.23" fill="#eaf7b1"/>
<rect x="1410.89" y="1620.61" width="23.26" height="23.23" fill="#f4fbc0"/>
<rect x="1433.86" y="1620.61" width="46.23" height="23.23" fill="#eaf7b1"/>
<rect x="1479.78" y="1620.61" width="23.26" height="23.23" fill="#f4fbc0"/>
<rect x="1502.75" y="1620.61" width="23.26" height="23.23" fill="#eaf7b1"/>
<rect x="1525.71" y="1620.61" width="46.23" height="23.23" fill="#f4fbc0"/>
<rect x="1571.64" y="1620.61" width="23.26" height="23.23" fill="#eaf7b1"/>
<rect x="1594.60" y="1620.61" width="23.26" height="23.23" fill="#f4fbc0"/>
<rect x="1617.56" y="1620.61" width="23.26" height="23.23" fill="#eaf7b1"/>
<rect x="1640.53" y="1620.61" width="46.23" height="23.23" fill="#f4fbc0"/>
<rect x="1686.45" y="1620.61" width="23.26" height="23.23" fill="#eaf7b1"/>
<rect x="1709.42" y="1620.61" width="321.78" height="23.23" fill="#f4fbc0"/>
<rect x="1158.30" y="1643.54" width="23.26" height="23.23" fill="#f4fbc0"/>
<rect x="1181.26" y="1643.54" width="23.26" height="23.23" fill="#eaf7b1"/>
<rect x="1204.23" y="1643.54" width="92.15" height="23.23" fill="#f4fbc0"/>
<rect x="1296.08" y="1643.54" width="23.26" height="23.23" fill="#c6e9b4"/>
<rect x="1319.04" y="1643.54" width="69.19" height="23.23" fill="#f4fbc0"/>
<rect x="1387.93" y="1643.54" width="23.26" height="23.23" fill="#eaf7b1"/>
<rect x="1410.89" y="1643.54" width="92.15" height="23.23" fill="#f4fbc0"/>
<rect x="1502.75" y="1643.54" width="23.26" height="23.23" fill="#eaf7b1"/>
<rect x="1525.71" y="1643.54" width="46.23" height="23.23" fill="#f4fbc0"/>
<rect x="1571.64" y="1643.54" width="23.26" height="23.23" fill="#eaf7b1"/>
<rect x="1594.60" y="1643.54" width="298.82" height="23.23" fill="#f4fbc0"/>
<rect x="1893.12" y="1643.54" width="23.26" height="23.23" fill="#fcfed1"/>
<rect x="1916.08" y="1643.54" width="92.15" height="23.23" fill="#f4fbc0"/>
<rect x="2007.94" y="1643.54" width="23.26" height="23.23" fill="#fcfed1"/>
<rect x="1158.30" y="1666.47" width="138.08" height="23.23" fill="#f4fbc0"/>
<rect x="1296.08" y="1666.47" width="23.26" height="23.23" fill="#a5dcb7"/>
<rect x="1319.04" y="1666.47" width="69.19" height="23.23" fill="#f4fbc0"/>
<rect x="1387.93" y="1666.47" width="23.26" height="23.23" fill="#eaf7b1"/>
<rect x="1410.89" y="1666.47" width="92.15" height="23.23" fill="#f4fbc0"/>
<rect x="1502.75" y="1666.47" width="23.26" height="23.23" fill="#eaf7b1"/>
<rect x="1525.71" y="1666.47" width="138.08" height="23.23" fill="#f4fbc0"/>
<rect x="1663.49" y="1666.47" width="23.26" height="23.23" fill="#fcfed1"/>
<rect x="1686.45" y="1666.47" width="138.08" height="23.23" fill="#f4fbc0"/>
<rect x="1824.23" y="1666.47" width="23.26" height="23.23" fill="#fcfed1"/>
<rect x="1847.19" y="1666.47" width="184.01" height="23.23" fill="#f4fbc0"/>
<clipPath id="cph"><rect x="1157.85" y="1367.95" width="873.50" height="321.90"/></clipPath>
<path d="M1158.30 1368.40V1689.40M1181.26 1368.40V1689.40M1204.23 1368.40V1689.40M1227.19 1368.40V1689.40M1250.15 1368.40V1689.40M1273.12 1368.40V1689.40M1296.08 1368.40V1689.40M1319.04 1368.40V1689.40M1342.01 1368.40V1689.40M1364.97 1368.40V1689.40M1387.93 1368.40V1689.40M1410.89 1368.40V1689.40M1433.86 1368.40V1689.40M1456.82 1368.40V1689.40M1479.78 1368.40V1689.40M1502.75 1368.40V1689.40M1525.71 1368.40V1689.40M1548.67 1368.40V1689.40M1571.64 1368.40V1689.40M1594.60 1368.40V1689.40M1617.56 1368.40V1689.40M1640.53 1368.40V1689.40M1663.49 1368.40V1689.40M1686.45 1368.40V1689.40M1709.42 1368.40V1689.40M1732.38 1368.40V1689.40M1755.34 1368.40V1689.40M1778.31 1368.40V1689.40M1801.27 1368.40V1689.40M1824.23 1368.40V1689.40M1847.19 1368.40V1689.40M1870.16 1368.40V1689.40M1893.12 1368.40V1689.40M1916.08 1368.40V1689.40M1939.05 1368.40V1689.40M1962.01 1368.40V1689.40M1984.97 1368.40V1689.40M2007.94 1368.40V1689.40M2030.90 1368.40V1689.40M1158.30 1368.40H2030.90M1158.30 1391.33H2030.90M1158.30 1414.26H2030.90M1158.30 1437.19H2030.90M1158.30 1460.11H2030.90M1158.30 1483.04H2030.90M1158.30 1505.97H2030.90M1158.30 1528.90H2030.90M1158.30 1551.83H2030.90M1158.30 1574.76H2030.90M1158.30 1597.69H2030.90M1158.30 1620.61H2030.90M1158.30 1643.54H2030.90M1158.30 1666.47H2030.90M1158.30 1689.40H2030.90" stroke="#161616" stroke-width="1.55" fill="none" stroke-linecap="square" clip-path="url(#cph)"/>
<path d="M1169.78 1689.40v10.3M1284.60 1689.40v10.3M1399.41 1689.40v10.3M1514.23 1689.40v10.3M1629.04 1689.40v10.3M1743.86 1689.40v10.3M1858.68 1689.40v10.3M1973.49 1689.40v10.3M1158.30 1379.86h-10.3M1158.30 1425.72h-10.3M1158.30 1471.58h-10.3M1158.30 1517.44h-10.3M1158.30 1563.29h-10.3M1158.30 1609.15h-10.3M1158.30 1655.01h-10.3" stroke="#000" stroke-width="2.5" fill="none"/>
<text x="1169.78" y="1724.00" font-size="28.5" text-anchor="middle">1980</text>
<text x="1284.60" y="1724.00" font-size="28.5" text-anchor="middle">1985</text>
<text x="1399.41" y="1724.00" font-size="28.5" text-anchor="middle">1990</text>
<text x="1514.23" y="1724.00" font-size="28.5" text-anchor="middle">1995</text>
<text x="1629.04" y="1724.00" font-size="28.5" text-anchor="middle">2000</text>
<text x="1743.86" y="1724.00" font-size="28.5" text-anchor="middle">2005</text>
<text x="1858.68" y="1724.00" font-size="28.5" text-anchor="middle">2010</text>
<text x="1973.49" y="1724.00" font-size="28.5" text-anchor="middle">2015</text>
<text x="1144.50" y="1390.36" font-size="28.5" text-anchor="end">850</text>
<text x="1144.50" y="1436.22" font-size="28.5" text-anchor="end">750</text>
<text x="1144.50" y="1482.08" font-size="28.5" text-anchor="end">660</text>
<text x="1144.50" y="1527.94" font-size="28.5" text-anchor="end">580</text>
<text x="1144.50" y="1573.79" font-size="28.5" text-anchor="end">520</text>
<text x="1144.50" y="1619.65" font-size="28.5" text-anchor="end">460</text>
<text x="1144.50" y="1665.51" font-size="28.5" text-anchor="end">410</text>
<text transform="translate(1083.60 1532.50) rotate(-90)" font-size="28.5" text-anchor="middle">Potential temperature [K]</text>
<text x="1161.90" y="1356.00" font-size="35.2">(h)</text>
<text x="1555.50" y="1356.80" font-size="38.2" text-anchor="middle">MERRA-2 SD of diffs</text>
</g>
<defs><linearGradient id="gdiv" x1="0" x2="1" y1="0" y2="0"><stop offset="0.0000" stop-color="#0f437b"/><stop offset="0.0156" stop-color="#124984"/><stop offset="0.0312" stop-color="#144e8a"/><stop offset="0.0469" stop-color="#185493"/><stop offset="0.0625" stop-color="#1a5899"/><stop offset="0.0781" stop-color="#1d5fa2"/><stop offset="0.0938" stop-color="#1f63a8"/><stop offset="0.1094" stop-color="#246aae"/><stop offset="0.1250" stop-color="#2a71b2"/><stop offset="0.1406" stop-color="#2f79b5"/><stop offset="0.1562" stop-color="#3480b9"/><stop offset="0.1719" stop-color="#3a87bd"/><stop offset="0.1875" stop-color="#3f8ec0"/><stop offset="0.2031" stop-color="#4695c4"/><stop offset="0.2188" stop-color="#529dc8"/><stop offset="0.2344" stop-color="#5fa5cd"/><stop offset="0.2500" stop-color="#6bacd1"/><stop offset="0.2656" stop-color="#78b4d5"/><stop offset="0.2812" stop-color="#84bcd9"/><stop offset="0.2969" stop-color="#90c4dd"/><stop offset="0.3125" stop-color="#9bc9e0"/><stop offset="0.3281" stop-color="#a5cee3"/><stop offset="0.3438" stop-color="#aed3e6"/><stop offset="0.3594" stop-color="#b8d8e9"/><stop offset="0.3750" stop-color="#c2ddec"/><stop offset="0.3906" stop-color="#cce2ef"/><stop offset="0.4062" stop-color="#d4e6f1"/><stop offset="0.4219" stop-color="#dae9f2"/><stop offset="0.4375" stop-color="#e0ecf3"/><stop offset="0.4531" stop-color="#e6eff4"/><stop offset="0.4688" stop-color="#ecf2f5"/><stop offset="0.4844" stop-color="#f2f5f6"/><stop offset="0.5000" stop-color="#f7f6f6"/><stop offset="0.5156" stop-color="#f8f2ef"/><stop offset="0.5312" stop-color="#f9eee7"/><stop offset="0.5469" stop-color="#fae9df"/><stop offset="0.5625" stop-color="#fbe5d8"/><stop offset="0.5781" stop-color="#fce0d0"/><stop offset="0.5938" stop-color="#fddcc9"/><stop offset="0.6094" stop-color="#fcd5bf"/><stop offset="0.6250" stop-color="#fbccb4"/><stop offset="0.6406" stop-color="#f9c4a9"/><stop offset="0.6562" stop-color="#f8bb9e"/><stop offset="0.6719" stop-color="#f6b394"/><stop offset="0.6875" stop-color="#f5aa89"/><stop offset="0.7031" stop-color="#f2a17f"/><stop offset="0.7188" stop-color="#ee9677"/><stop offset="0.7344" stop-color="#e98b6e"/><stop offset="0.7500" stop-color="#e48066"/><stop offset="0.7656" stop-color="#df765e"/><stop offset="0.7812" stop-color="#db6b55"/><stop offset="0.7969" stop-color="#d6604d"/><stop offset="0.8125" stop-color="#d05548"/><stop offset="0.8281" stop-color="#cb4942"/><stop offset="0.8438" stop-color="#c53e3d"/><stop offset="0.8594" stop-color="#bf3338"/><stop offset="0.8750" stop-color="#ba2832"/><stop offset="0.8906" stop-color="#b41c2d"/><stop offset="0.9062" stop-color="#ae172a"/><stop offset="0.9219" stop-color="#a81529"/><stop offset="0.9375" stop-color="#9f1228"/><stop offset="0.9531" stop-color="#991027"/><stop offset="0.9688" stop-color="#900d26"/><stop offset="0.9844" stop-color="#8a0b25"/><stop offset="1.0000" stop-color="#810823"/></linearGradient><linearGradient id="gseq" x1="0" x2="1" y1="0" y2="0"><stop offset="0.0000" stop-color="#ffffd9"/><stop offset="0.0156" stop-color="#fdfed4"/><stop offset="0.0312" stop-color="#fafdcf"/><stop offset="0.0469" stop-color="#f8fcca"/><stop offset="0.0625" stop-color="#f6fbc5"/><stop offset="0.0781" stop-color="#f4fbc0"/><stop offset="0.0938" stop-color="#f1fabb"/><stop offset="0.1094" stop-color="#eff9b6"/><stop offset="0.1250" stop-color="#edf8b1"/><stop offset="0.1406" stop-color="#e8f6b1"/><stop offset="0.1562" stop-color="#e3f4b2"/><stop offset="0.1719" stop-color="#dff2b2"/><stop offset="0.1875" stop-color="#daf0b3"/><stop offset="0.2031" stop-color="#d5efb3"/><stop offset="0.2188" stop-color="#d0edb3"/><stop offset="0.2344" stop-color="#cbebb4"/><stop offset="0.2500" stop-color="#c6e9b4"/><stop offset="0.2656" stop-color="#bde5b5"/><stop offset="0.2812" stop-color="#b4e2b6"/><stop offset="0.2969" stop-color="#abdeb7"/><stop offset="0.3125" stop-color="#a2dbb8"/><stop offset="0.3281" stop-color="#99d7b8"/><stop offset="0.3438" stop-color="#90d4b9"/><stop offset="0.3594" stop-color="#87d0ba"/><stop offset="0.3750" stop-color="#7ecdbb"/><stop offset="0.3906" stop-color="#76cabc"/><stop offset="0.4062" stop-color="#6fc7bd"/><stop offset="0.4219" stop-color="#67c4be"/><stop offset="0.4375" stop-color="#5fc1c0"/><stop offset="0.4531" stop-color="#57bec1"/><stop offset="0.4688" stop-color="#50bbc2"/><stop offset="0.4844" stop-color="#48b9c3"/><stop offset="0.5000" stop-color="#40b5c4"/><stop offset="0.5156" stop-color="#3cb1c3"/><stop offset="0.5312" stop-color="#37acc3"/><stop offset="0.5469" stop-color="#33a7c2"/><stop offset="0.5625" stop-color="#2ea3c2"/><stop offset="0.5781" stop-color="#2a9ec1"/><stop offset="0.5938" stop-color="#259ac1"/><stop offset="0.6094" stop-color="#2195c0"/><stop offset="0.6250" stop-color="#1d90c0"/><stop offset="0.6406" stop-color="#1e8abd"/><stop offset="0.6562" stop-color="#1e83ba"/><stop offset="0.6719" stop-color="#1f7db6"/><stop offset="0.6875" stop-color="#2076b3"/><stop offset="0.7031" stop-color="#2070b0"/><stop offset="0.7188" stop-color="#216aad"/><stop offset="0.7344" stop-color="#2163aa"/><stop offset="0.7500" stop-color="#225da8"/><stop offset="0.7656" stop-color="#2258a5"/><stop offset="0.7812" stop-color="#2352a3"/><stop offset="0.7969" stop-color="#234da0"/><stop offset="0.8125" stop-color="#24489d"/><stop offset="0.8281" stop-color="#24439b"/><stop offset="0.8438" stop-color="#243d98"/><stop offset="0.8594" stop-color="#253896"/><stop offset="0.8750" stop-color="#243392"/><stop offset="0.8906" stop-color="#21308b"/><stop offset="0.9062" stop-color="#1d2e83"/><stop offset="0.9219" stop-color="#192b7c"/><stop offset="0.9375" stop-color="#162874"/><stop offset="0.9531" stop-color="#12256d"/><stop offset="0.9688" stop-color="#0e2265"/><stop offset="0.9844" stop-color="#0b1f5e"/><stop offset="1.0000" stop-color="#081d58"/></linearGradient></defs>
<rect x="153.8" y="1742.8" width="809.0" height="28.0" fill="url(#gdiv)"/>
<path d="M154.3 1742.8L114.4 1756.8L154.3 1770.8Z" fill="#0d3f76"/>
<path d="M962.3 1742.8L1002.4 1756.8L962.3 1770.8Z" fill="#7c0722"/>
<path d="M153.8 1742.8H962.8L1002.4 1756.8L962.8 1770.8H153.8L114.4 1756.8Z" fill="none" stroke="#000" stroke-width="2.1" stroke-linejoin="miter"/>
<path d="M153.80 1770.8V1757.40M221.22 1770.8V1757.40M288.63 1770.8V1757.40M356.05 1770.8V1757.40M423.47 1770.8V1757.40M490.88 1770.8V1757.40M558.30 1770.8V1757.40M625.72 1770.8V1757.40M693.13 1770.8V1757.40M760.55 1770.8V1757.40M827.97 1770.8V1757.40M895.38 1770.8V1757.40M962.80 1770.8V1757.40" stroke="#000" stroke-width="2.1" fill="none"/>
<text x="153.80" y="1797.20" font-size="28.5" text-anchor="middle">−3</text>
<text x="288.63" y="1797.20" font-size="28.5" text-anchor="middle">−2</text>
<text x="423.47" y="1797.20" font-size="28.5" text-anchor="middle">−1</text>
<text x="558.30" y="1797.20" font-size="28.5" text-anchor="middle">0</text>
<text x="693.13" y="1797.20" font-size="28.5" text-anchor="middle">1</text>
<text x="827.97" y="1797.20" font-size="28.5" text-anchor="middle">2</text>
<text x="962.80" y="1797.20" font-size="28.5" text-anchor="middle">3</text>
<g><text x="404.20" y="1827.30" font-size="28.5">Units</text><text x="482.50" y="1827.30" font-size="28.5">=</text><text x="508.60" y="1827.30" font-size="28.5">10</text><text transform="translate(542.20 1818.20) scale(1.424 1)" font-size="19.8">−</text><text x="558.00" y="1817.00" font-size="19.8">6</text><text x="580.50" y="1827.30" font-size="28.5">s</text><text transform="translate(595.50 1818.20) scale(1.424 1)" font-size="19.8">−</text><text x="611.50" y="1817.00" font-size="19.8">1</text><text x="632.80" y="1827.30" font-size="28.5">deg</text><text transform="translate(684.30 1818.20) scale(1.424 1)" font-size="19.8">−</text><text x="700.90" y="1817.00" font-size="19.8">1</text></g>
<rect x="1146.4" y="1742.8" width="846.8999999999999" height="28.0" fill="url(#gseq)"/>
<path d="M1992.8 1742.8L2036.4 1756.8L1992.8 1770.8Z" fill="#081d58"/>
<path d="M1146.4 1742.8H1993.3L2036.4 1756.8L1993.3 1770.8H1146.4Z" fill="none" stroke="#000" stroke-width="2.1" stroke-linejoin="miter"/>
<path d="M1146.40 1770.8V1757.40M1216.98 1770.8V1757.40M1287.55 1770.8V1757.40M1358.12 1770.8V1757.40M1428.70 1770.8V1757.40M1499.28 1770.8V1757.40M1569.85 1770.8V1757.40M1640.42 1770.8V1757.40M1711.00 1770.8V1757.40M1781.57 1770.8V1757.40M1852.15 1770.8V1757.40M1922.72 1770.8V1757.40M1993.30 1770.8V1757.40" stroke="#000" stroke-width="2.1" fill="none"/>
<text x="1146.40" y="1797.20" font-size="28.5" text-anchor="middle">0.0</text>
<text x="1287.55" y="1797.20" font-size="28.5" text-anchor="middle">0.5</text>
<text x="1428.70" y="1797.20" font-size="28.5" text-anchor="middle">1.0</text>
<text x="1569.85" y="1797.20" font-size="28.5" text-anchor="middle">1.5</text>
<text x="1711.00" y="1797.20" font-size="28.5" text-anchor="middle">2.0</text>
<text x="1852.15" y="1797.20" font-size="28.5" text-anchor="middle">2.5</text>
<text x="1993.30" y="1797.20" font-size="28.5" text-anchor="middle">3.0</text>
<g><text x="1437.90" y="1827.30" font-size="28.5">Units</text><text x="1516.20" y="1827.30" font-size="28.5">=</text><text x="1542.30" y="1827.30" font-size="28.5">10</text><text transform="translate(1575.90 1818.20) scale(1.424 1)" font-size="19.8">−</text><text x="1591.70" y="1817.00" font-size="19.8">6</text><text x="1614.20" y="1827.30" font-size="28.5">s</text><text transform="translate(1629.20 1818.20) scale(1.424 1)" font-size="19.8">−</text><text x="1645.20" y="1817.00" font-size="19.8">1</text><text x="1666.50" y="1827.30" font-size="28.5">deg</text><text transform="translate(1718.00 1818.20) scale(1.424 1)" font-size="19.8">−</text><text x="1734.60" y="1817.00" font-size="19.8">1</text></g>
</svg>
</body></html>
